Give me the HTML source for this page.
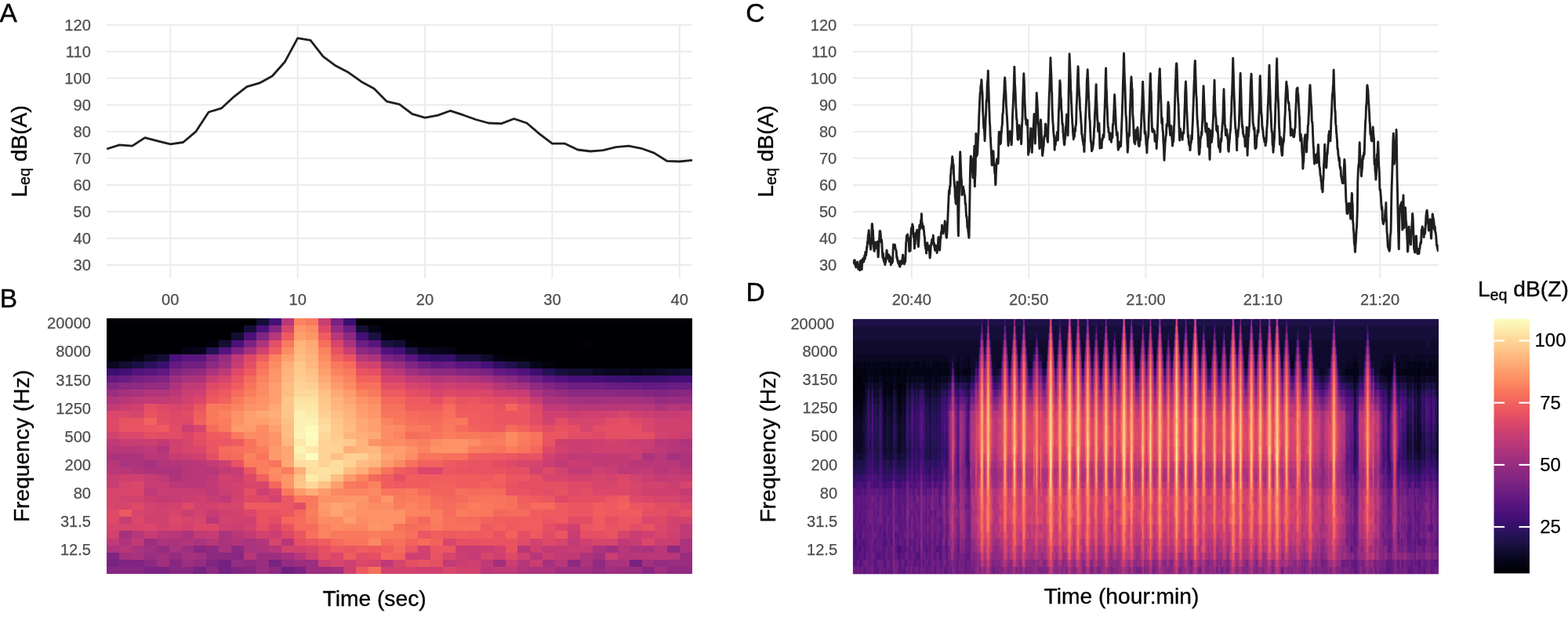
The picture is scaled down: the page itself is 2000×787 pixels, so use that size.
<!DOCTYPE html>
<html lang="en">
<head>
<meta charset="utf-8">
<title>Sound level and spectrogram figure</title>
<style>
html,body{margin:0;padding:0;background:#fff;}
body{width:2000px;height:787px;overflow:hidden;font-family:"Liberation Sans", Arial, Helvetica, sans-serif;}
svg{display:block;}
</style>
</head>
<body>
<svg width="2000" height="787" viewBox="0 0 2000 787">
<rect width="2000" height="787" fill="#fff"/>
<g stroke="#ebebeb" stroke-width="1.95" fill="none">
<line x1="136.2" x2="882.9" y1="338.05" y2="338.05"/>
<line x1="136.2" x2="882.9" y1="304.01" y2="304.01"/>
<line x1="136.2" x2="882.9" y1="269.97" y2="269.97"/>
<line x1="136.2" x2="882.9" y1="235.93" y2="235.93"/>
<line x1="136.2" x2="882.9" y1="201.89" y2="201.89"/>
<line x1="136.2" x2="882.9" y1="167.85" y2="167.85"/>
<line x1="136.2" x2="882.9" y1="133.81" y2="133.81"/>
<line x1="136.2" x2="882.9" y1="99.77" y2="99.77"/>
<line x1="136.2" x2="882.9" y1="65.73" y2="65.73"/>
<line x1="136.2" x2="882.9" y1="31.69" y2="31.69"/>
<line x1="217.35" x2="217.35" y1="31.7" y2="355.1"/>
<line x1="379.70" x2="379.70" y1="31.7" y2="355.1"/>
<line x1="542.05" x2="542.05" y1="31.7" y2="355.1"/>
<line x1="704.40" x2="704.40" y1="31.7" y2="355.1"/>
<line x1="866.75" x2="866.75" y1="31.7" y2="355.1"/>
<line x1="1087.9" x2="1834.7" y1="338.05" y2="338.05"/>
<line x1="1087.9" x2="1834.7" y1="304.01" y2="304.01"/>
<line x1="1087.9" x2="1834.7" y1="269.97" y2="269.97"/>
<line x1="1087.9" x2="1834.7" y1="235.93" y2="235.93"/>
<line x1="1087.9" x2="1834.7" y1="201.89" y2="201.89"/>
<line x1="1087.9" x2="1834.7" y1="167.85" y2="167.85"/>
<line x1="1087.9" x2="1834.7" y1="133.81" y2="133.81"/>
<line x1="1087.9" x2="1834.7" y1="99.77" y2="99.77"/>
<line x1="1087.9" x2="1834.7" y1="65.73" y2="65.73"/>
<line x1="1087.9" x2="1834.7" y1="31.69" y2="31.69"/>
<line x1="1162.90" x2="1162.90" y1="31.7" y2="355.1"/>
<line x1="1312.20" x2="1312.20" y1="31.7" y2="355.1"/>
<line x1="1461.50" x2="1461.50" y1="31.7" y2="355.1"/>
<line x1="1610.80" x2="1610.80" y1="31.7" y2="355.1"/>
<line x1="1760.10" x2="1760.10" y1="31.7" y2="355.1"/>
</g>
<polyline points="136.2,190.0 152.4,184.9 168.7,186.2 184.9,175.7 201.1,179.8 217.4,183.8 233.6,181.5 249.8,167.9 266.1,143.0 282.3,138.2 298.5,123.3 314.8,110.7 331.0,105.9 347.3,97.0 363.5,78.7 379.7,48.7 396.0,51.4 412.2,72.2 428.4,84.1 444.7,92.6 460.9,104.2 477.1,113.0 493.4,129.4 509.6,133.1 525.8,145.4 542.1,150.1 558.3,147.1 574.5,141.3 590.8,146.7 607.0,152.5 623.2,157.0 639.5,157.6 655.7,151.5 672.0,157.0 688.2,170.9 704.4,183.2 720.7,183.2 736.9,191.0 753.1,193.0 769.4,191.7 785.6,187.6 801.8,186.2 818.1,189.3 834.3,195.1 850.5,205.3 866.8,206.0 883.0,204.3" fill="none" stroke="#1f1f1f" stroke-width="2.8" stroke-linejoin="round" stroke-linecap="butt"/>
<svg x="1087.9" y="0" width="746.8" height="400" viewBox="1087.9 0 746.8 400" overflow="hidden"><polyline points="1088.02,331.5 1088.27,332.1 1088.52,334.9 1088.77,332.9 1089.02,334.1 1089.27,334.6 1089.52,332.8 1089.77,336.2 1090.02,335.2 1090.26,331.7 1090.51,335.6 1090.76,338.0 1091.01,336.8 1091.26,337.4 1091.51,338.8 1091.76,341.0 1092.01,339.5 1092.26,336.6 1092.51,337.1 1092.75,340.2 1093.00,337.6 1093.25,334.5 1093.50,338.3 1093.75,334.8 1094.00,334.1 1094.25,340.7 1094.50,341.5 1094.75,343.3 1094.99,340.9 1095.24,337.6 1095.49,341.2 1095.74,338.7 1095.99,340.6 1096.24,341.9 1096.49,342.7 1096.74,344.7 1096.99,342.8 1097.24,338.6 1097.48,332.8 1097.73,335.9 1097.98,337.4 1098.23,336.9 1098.48,337.1 1098.73,337.9 1098.98,342.0 1099.23,343.7 1099.48,339.5 1099.72,331.4 1099.97,330.9 1100.22,335.4 1100.47,331.7 1100.72,329.6 1100.97,332.3 1101.22,331.6 1101.47,331.4 1101.72,331.7 1101.96,333.5 1102.21,331.3 1102.46,328.0 1102.71,325.9 1102.96,325.6 1103.21,330.5 1103.46,329.2 1103.71,321.6 1103.96,321.3 1104.21,325.4 1104.45,326.0 1104.70,325.5 1104.95,322.8 1105.20,322.0 1105.45,317.5 1105.70,314.8 1105.95,316.3 1106.20,312.0 1106.45,308.3 1106.69,308.0 1106.94,306.8 1107.19,301.7 1107.44,299.3 1107.69,300.6 1107.94,296.2 1108.19,293.8 1108.44,296.9 1108.69,303.0 1108.93,306.8 1109.18,308.8 1109.43,311.6 1109.68,310.6 1109.93,309.4 1110.18,312.8 1110.43,316.9 1110.68,318.2 1110.93,315.2 1111.18,312.6 1111.42,309.8 1111.67,304.5 1111.92,293.4 1112.17,286.1 1112.42,285.4 1112.67,287.2 1112.92,291.2 1113.17,292.6 1113.42,293.2 1113.66,299.6 1113.91,303.9 1114.16,308.3 1114.41,312.5 1114.66,317.1 1114.91,320.0 1115.16,318.9 1115.41,320.3 1115.66,316.6 1115.91,311.7 1116.15,308.9 1116.40,312.2 1116.65,313.8 1116.90,312.4 1117.15,314.4 1117.40,316.5 1117.65,313.3 1117.90,312.5 1118.15,315.7 1118.39,312.1 1118.64,308.6 1118.89,308.3 1119.14,308.8 1119.39,313.4 1119.64,319.9 1119.89,324.8 1120.14,327.8 1120.39,325.0 1120.63,320.5 1120.88,314.6 1121.13,307.9 1121.38,305.2 1121.63,305.3 1121.88,299.4 1122.13,294.7 1122.38,294.8 1122.63,294.6 1122.88,295.4 1123.12,298.3 1123.37,301.0 1123.62,307.2 1123.87,308.7 1124.12,307.6 1124.37,305.8 1124.62,306.4 1124.87,309.8 1125.12,315.8 1125.36,320.0 1125.61,325.2 1125.86,328.6 1126.11,325.2 1126.36,324.0 1126.61,323.3 1126.86,329.5 1127.11,332.6 1127.36,328.6 1127.60,328.9 1127.85,333.5 1128.10,335.1 1128.35,330.4 1128.60,334.6 1128.85,337.7 1129.10,333.4 1129.35,335.5 1129.60,334.1 1129.85,332.3 1130.09,332.4 1130.34,329.4 1130.59,325.1 1130.84,321.2 1131.09,319.1 1131.34,322.1 1131.59,325.5 1131.84,323.4 1132.09,323.5 1132.33,329.2 1132.58,329.6 1132.83,327.9 1133.08,328.3 1133.33,326.7 1133.58,325.0 1133.83,325.2 1134.08,330.9 1134.33,333.5 1134.58,328.7 1134.82,327.4 1135.07,327.4 1135.32,327.2 1135.57,331.5 1135.82,330.7 1136.07,331.6 1136.32,338.0 1136.57,332.6 1136.82,332.3 1137.06,335.0 1137.31,329.7 1137.56,330.6 1137.81,335.5 1138.06,333.9 1138.31,333.4 1138.56,334.2 1138.81,328.4 1139.06,320.7 1139.30,315.7 1139.55,311.9 1139.80,312.9 1140.05,314.5 1140.30,315.6 1140.55,315.7 1140.80,312.2 1141.05,312.0 1141.30,312.0 1141.55,312.4 1141.79,315.3 1142.04,316.1 1142.29,317.3 1142.54,318.3 1142.79,319.6 1143.04,319.1 1143.29,321.1 1143.54,326.0 1143.79,328.8 1144.03,329.6 1144.28,327.6 1144.53,330.3 1144.78,332.7 1145.03,331.1 1145.28,332.2 1145.53,335.6 1145.78,334.6 1146.03,334.5 1146.27,336.6 1146.52,335.6 1146.77,334.8 1147.02,337.1 1147.27,339.7 1147.52,338.0 1147.77,336.7 1148.02,340.2 1148.27,337.0 1148.52,332.9 1148.76,333.4 1149.01,335.4 1149.26,334.2 1149.51,332.9 1149.76,335.4 1150.01,336.8 1150.26,336.7 1150.51,334.2 1150.76,332.7 1151.00,329.9 1151.25,327.9 1151.50,325.4 1151.75,325.1 1152.00,330.5 1152.25,331.4 1152.50,330.1 1152.75,329.5 1153.00,330.8 1153.25,336.3 1153.49,337.0 1153.74,330.8 1153.99,331.2 1154.24,334.8 1154.49,334.2 1154.74,332.6 1154.99,327.0 1155.24,321.1 1155.49,314.7 1155.73,308.8 1155.98,307.8 1156.23,304.2 1156.48,300.4 1156.73,301.8 1156.98,303.6 1157.23,306.1 1157.48,302.9 1157.73,298.9 1157.97,303.9 1158.22,305.3 1158.47,304.7 1158.72,303.0 1158.97,305.8 1159.22,309.3 1159.47,314.2 1159.72,320.5 1159.97,317.8 1160.22,315.4 1160.46,318.2 1160.71,317.7 1160.96,320.3 1161.21,318.7 1161.46,310.2 1161.71,301.2 1161.96,298.3 1162.21,293.8 1162.46,290.7 1162.70,292.3 1162.95,290.6 1163.20,293.3 1163.45,291.6 1163.70,286.0 1163.95,286.4 1164.20,289.7 1164.45,288.3 1164.70,292.0 1164.94,298.8 1165.19,299.6 1165.44,302.8 1165.69,302.7 1165.94,303.7 1166.19,311.5 1166.44,317.0 1166.69,311.7 1166.94,308.3 1167.19,311.7 1167.43,306.6 1167.68,300.6 1167.93,297.4 1168.18,298.3 1168.43,300.8 1168.68,298.0 1168.93,296.0 1169.18,300.2 1169.43,297.9 1169.67,293.3 1169.92,297.5 1170.17,301.8 1170.42,303.2 1170.67,306.4 1170.92,311.6 1171.17,312.1 1171.42,314.6 1171.67,310.9 1171.91,306.8 1172.16,303.7 1172.41,297.1 1172.66,289.5 1172.91,287.2 1173.16,292.9 1173.41,291.7 1173.66,290.8 1173.91,290.4 1174.16,287.1 1174.40,284.1 1174.65,280.5 1174.90,282.1 1175.15,279.0 1175.40,272.7 1175.65,277.0 1175.90,286.4 1176.15,287.6 1176.40,284.6 1176.64,290.2 1176.89,291.6 1177.14,289.0 1177.39,291.5 1177.64,290.8 1177.89,288.4 1178.14,291.3 1178.39,293.7 1178.64,295.4 1178.89,300.0 1179.13,301.3 1179.38,301.6 1179.63,305.5 1179.88,313.1 1180.13,313.1 1180.38,314.1 1180.63,317.1 1180.88,312.9 1181.13,315.3 1181.37,321.8 1181.62,323.1 1181.87,317.3 1182.12,313.1 1182.37,312.9 1182.62,309.7 1182.87,309.8 1183.12,311.7 1183.37,313.0 1183.61,317.8 1183.86,318.4 1184.11,313.3 1184.36,313.0 1184.61,314.2 1184.86,316.3 1185.11,318.8 1185.36,319.3 1185.61,323.0 1185.86,326.3 1186.10,329.0 1186.35,328.0 1186.60,325.1 1186.85,322.9 1187.10,317.1 1187.35,313.0 1187.60,313.0 1187.85,310.5 1188.10,310.0 1188.34,309.1 1188.59,305.8 1188.84,309.3 1189.09,306.7 1189.34,304.6 1189.59,305.4 1189.84,304.5 1190.09,303.6 1190.34,300.2 1190.59,305.2 1190.83,312.1 1191.08,312.4 1191.33,309.6 1191.58,311.6 1191.83,315.5 1192.08,313.7 1192.33,317.4 1192.58,319.4 1192.83,316.5 1193.07,314.5 1193.32,313.0 1193.57,315.4 1193.82,314.4 1194.07,316.5 1194.32,317.8 1194.57,318.1 1194.82,320.7 1195.07,322.6 1195.31,322.0 1195.56,318.4 1195.81,316.3 1196.06,312.3 1196.31,312.0 1196.56,308.9 1196.81,303.9 1197.06,302.5 1197.31,306.3 1197.56,310.2 1197.80,310.5 1198.05,308.1 1198.30,313.6 1198.55,319.2 1198.80,317.9 1199.05,313.1 1199.30,307.4 1199.55,302.6 1199.80,304.4 1200.04,303.2 1200.29,297.6 1200.54,296.2 1200.79,295.2 1201.04,295.7 1201.29,292.5 1201.54,287.3 1201.79,293.4 1202.04,297.0 1202.28,290.8 1202.53,290.9 1202.78,292.8 1203.03,296.1 1203.28,297.9 1203.53,294.7 1203.78,291.1 1204.03,290.4 1204.28,292.1 1204.53,290.3 1204.77,287.3 1205.02,284.6 1205.27,282.0 1205.52,284.9 1205.77,288.0 1206.02,292.4 1206.27,294.5 1206.52,293.4 1206.77,299.6 1207.01,302.3 1207.26,303.2 1207.51,303.2 1207.76,299.3 1208.01,295.9 1208.26,289.9 1208.51,284.4 1208.76,281.6 1209.01,276.0 1209.26,269.4 1209.50,263.7 1209.75,257.9 1210.00,253.2 1210.25,247.3 1210.50,243.0 1210.75,244.1 1211.00,247.4 1211.25,243.9 1211.50,237.9 1211.74,237.6 1211.99,237.9 1212.24,232.8 1212.49,223.3 1212.74,223.0 1212.99,220.7 1213.24,214.3 1213.49,214.8 1213.74,211.3 1213.98,210.1 1214.23,208.5 1214.48,201.6 1214.73,199.8 1214.98,202.0 1215.23,203.6 1215.48,207.6 1215.73,211.4 1215.98,209.8 1216.23,210.5 1216.47,219.2 1216.72,225.3 1216.97,229.6 1217.22,232.1 1217.47,236.8 1217.72,237.3 1217.97,240.5 1218.22,250.1 1218.47,253.1 1218.71,253.9 1218.96,257.0 1219.21,260.0 1219.46,259.5 1219.71,255.9 1219.96,252.9 1220.21,247.5 1220.46,242.8 1220.71,238.2 1220.95,231.9 1221.20,244.6 1221.45,255.2 1221.70,265.7 1221.95,283.0 1222.20,296.4 1222.45,300.9 1222.70,286.1 1222.95,269.0 1223.20,257.0 1223.44,248.1 1223.69,235.2 1223.94,222.5 1224.19,213.3 1224.44,202.6 1224.69,193.8 1224.94,198.5 1225.19,205.3 1225.44,212.0 1225.68,217.3 1225.93,224.9 1226.18,227.7 1226.43,230.0 1226.68,240.3 1226.93,248.9 1227.18,246.0 1227.43,241.8 1227.68,243.4 1227.93,245.6 1228.17,246.9 1228.42,241.7 1228.67,238.1 1228.92,241.1 1229.17,241.9 1229.42,242.9 1229.67,244.1 1229.92,247.5 1230.17,248.4 1230.41,248.7 1230.66,249.5 1230.91,253.8 1231.16,260.0 1231.41,260.2 1231.66,259.6 1231.91,263.4 1232.16,269.9 1232.41,273.5 1232.65,276.3 1232.90,275.7 1233.15,276.3 1233.40,280.7 1233.65,285.0 1233.90,290.4 1234.15,290.5 1234.40,288.0 1234.65,290.8 1234.90,295.7 1235.14,296.4 1235.39,298.8 1235.64,301.1 1235.89,303.4 1236.14,301.1 1236.39,286.5 1236.64,271.9 1236.89,256.3 1237.14,239.2 1237.38,224.5 1237.63,213.4 1237.88,207.4 1238.13,200.4 1238.38,199.1 1238.63,201.1 1238.88,203.0 1239.13,201.2 1239.38,207.0 1239.62,209.3 1239.87,211.2 1240.12,215.0 1240.37,218.6 1240.62,221.7 1240.87,225.9 1241.12,226.7 1241.37,220.6 1241.62,216.7 1241.87,209.4 1242.11,203.5 1242.36,199.6 1242.61,193.2 1242.86,186.3 1243.11,231.9 1243.36,237.9 1243.61,228.3 1243.86,225.0 1244.11,219.8 1244.35,207.7 1244.60,189.1 1244.85,170.4 1245.10,180.7 1245.35,199.7 1245.60,198.1 1245.85,197.4 1246.10,197.3 1246.35,197.7 1246.60,196.6 1246.84,194.1 1247.09,187.8 1247.34,181.2 1247.59,175.5 1247.84,171.8 1248.09,169.2 1248.34,162.2 1248.59,153.5 1248.84,146.0 1249.08,141.1 1249.33,134.7 1249.58,129.0 1249.83,124.6 1250.08,119.4 1250.33,117.9 1250.58,117.5 1250.83,110.9 1251.08,108.6 1251.32,107.8 1251.57,106.6 1251.82,101.7 1252.07,102.3 1252.32,109.9 1252.57,114.2 1252.82,115.5 1253.07,119.4 1253.32,129.4 1253.57,139.0 1253.81,144.3 1254.06,147.4 1254.31,152.9 1254.56,159.3 1254.81,163.6 1255.06,163.8 1255.31,164.7 1255.56,168.4 1255.81,172.7 1256.05,179.7 1256.30,175.3 1256.55,168.2 1256.80,162.5 1257.05,154.0 1257.30,149.7 1257.55,146.8 1257.80,138.0 1258.05,129.7 1258.29,127.5 1258.54,129.3 1258.79,123.7 1259.04,112.3 1259.29,105.6 1259.54,103.6 1259.79,102.3 1260.04,97.4 1260.29,90.1 1260.54,98.5 1260.78,108.1 1261.03,115.3 1261.28,122.4 1261.53,131.3 1261.78,138.8 1262.03,144.6 1262.28,153.5 1262.53,158.0 1262.78,160.6 1263.02,169.8 1263.27,175.2 1263.52,176.1 1263.77,183.7 1264.02,187.2 1264.27,191.5 1264.52,196.0 1264.77,201.7 1265.02,210.0 1265.27,210.8 1265.51,209.0 1265.76,206.7 1266.01,205.7 1266.26,204.4 1266.51,205.1 1266.76,201.3 1267.01,192.8 1267.26,199.1 1267.51,206.1 1267.75,209.5 1268.00,211.6 1268.25,209.7 1268.50,215.5 1268.75,221.2 1269.00,219.6 1269.25,222.3 1269.50,230.4 1269.75,235.9 1269.99,234.6 1270.24,226.4 1270.49,219.6 1270.74,214.7 1270.99,207.3 1271.24,206.1 1271.49,204.3 1271.74,202.5 1271.99,202.4 1272.24,204.4 1272.48,208.9 1272.73,208.9 1272.98,208.6 1273.23,207.6 1273.48,199.6 1273.73,187.1 1273.98,174.5 1274.23,168.5 1274.48,170.4 1274.72,168.3 1274.97,168.1 1275.22,175.1 1275.47,179.9 1275.72,183.9 1275.97,181.6 1276.22,182.4 1276.47,182.9 1276.72,180.2 1276.96,173.0 1277.21,170.0 1277.46,168.5 1277.71,163.7 1277.96,161.2 1278.21,160.1 1278.46,156.1 1278.71,147.8 1278.96,144.7 1279.21,145.0 1279.45,142.9 1279.70,136.5 1279.95,130.1 1280.20,126.3 1280.45,121.4 1280.70,119.5 1280.95,113.7 1281.20,106.1 1281.45,103.3 1281.69,98.9 1281.94,101.3 1282.19,106.1 1282.44,113.9 1282.69,116.2 1282.94,119.9 1283.19,127.9 1283.44,134.5 1283.69,137.6 1283.94,141.0 1284.18,146.5 1284.43,148.3 1284.68,153.1 1284.93,157.9 1285.18,163.2 1285.43,171.7 1285.68,178.7 1285.93,184.8 1286.18,185.8 1286.42,181.1 1286.67,179.3 1286.92,173.9 1287.17,169.2 1287.42,167.9 1287.67,168.7 1287.92,168.9 1288.17,167.5 1288.42,170.1 1288.66,173.2 1288.91,176.8 1289.16,178.3 1289.41,178.1 1289.66,179.8 1289.91,182.4 1290.16,184.9 1290.41,182.2 1290.66,174.1 1290.91,169.3 1291.15,161.5 1291.40,151.8 1291.65,144.9 1291.90,139.8 1292.15,134.9 1292.40,130.1 1292.65,121.5 1292.90,116.5 1293.15,111.8 1293.39,101.7 1293.64,92.5 1293.89,85.1 1294.14,94.4 1294.39,103.3 1294.64,109.1 1294.89,112.5 1295.14,117.3 1295.39,124.1 1295.63,131.7 1295.88,138.0 1296.13,140.1 1296.38,146.2 1296.63,152.3 1296.88,151.6 1297.13,155.0 1297.38,163.3 1297.63,167.4 1297.88,172.4 1298.12,178.0 1298.37,178.0 1298.62,175.2 1298.87,178.2 1299.12,177.4 1299.37,167.4 1299.62,166.7 1299.87,166.7 1300.12,159.8 1300.36,161.7 1300.61,166.0 1300.86,167.5 1301.11,174.2 1301.36,175.8 1301.61,174.8 1301.86,176.0 1302.11,174.1 1302.36,176.8 1302.61,183.7 1302.85,180.3 1303.10,171.6 1303.35,162.9 1303.60,158.4 1303.85,154.9 1304.10,148.4 1304.35,137.4 1304.60,126.0 1304.85,120.7 1305.09,114.4 1305.34,106.7 1305.59,99.4 1305.84,93.8 1306.09,100.2 1306.34,104.2 1306.59,110.0 1306.84,121.3 1307.09,130.3 1307.33,133.7 1307.58,139.0 1307.83,148.0 1308.08,152.3 1308.33,149.9 1308.58,153.5 1308.83,157.9 1309.08,158.9 1309.33,156.6 1309.58,154.0 1309.82,156.2 1310.07,156.9 1310.32,154.4 1310.57,153.2 1310.82,164.3 1311.07,171.7 1311.32,182.7 1311.57,197.4 1311.82,194.9 1312.06,190.8 1312.31,194.3 1312.56,192.5 1312.81,189.4 1313.06,184.1 1313.31,180.1 1313.56,178.1 1313.81,177.6 1314.06,179.0 1314.30,175.6 1314.55,167.5 1314.80,163.7 1315.05,170.7 1315.30,175.1 1315.55,179.3 1315.80,184.8 1316.05,190.2 1316.30,194.5 1316.55,187.8 1316.79,183.3 1317.04,177.8 1317.29,169.7 1317.54,164.4 1317.79,164.2 1318.04,163.8 1318.29,160.2 1318.54,156.4 1318.79,150.8 1319.03,145.5 1319.28,152.2 1319.53,159.7 1319.78,166.8 1320.03,174.4 1320.28,183.1 1320.53,178.5 1320.78,166.4 1321.03,162.6 1321.28,157.5 1321.52,148.1 1321.77,137.6 1322.02,125.4 1322.27,118.5 1322.52,122.9 1322.77,126.8 1323.02,130.8 1323.27,135.6 1323.52,140.9 1323.76,146.5 1324.01,154.7 1324.26,158.8 1324.51,157.2 1324.76,163.2 1325.01,173.0 1325.26,175.3 1325.51,179.3 1325.76,187.3 1326.00,189.5 1326.25,180.6 1326.50,175.2 1326.75,170.5 1327.00,164.1 1327.25,155.4 1327.50,152.8 1327.75,156.8 1328.00,161.6 1328.25,168.8 1328.49,175.0 1328.74,182.9 1328.99,188.4 1329.24,190.4 1329.49,197.7 1329.74,198.6 1329.99,195.9 1330.24,194.6 1330.49,191.7 1330.73,186.8 1330.98,187.1 1331.23,185.4 1331.48,179.5 1331.73,175.6 1331.98,173.7 1332.23,173.9 1332.48,174.4 1332.73,172.8 1332.97,169.0 1333.22,161.8 1333.47,158.3 1333.72,158.0 1333.97,159.7 1334.22,167.3 1334.47,171.9 1334.72,171.3 1334.97,170.2 1335.22,167.9 1335.46,173.1 1335.71,177.8 1335.96,177.1 1336.21,179.8 1336.46,181.4 1336.71,174.2 1336.96,163.9 1337.21,156.8 1337.46,148.8 1337.70,139.4 1337.95,132.5 1338.20,122.3 1338.45,117.4 1338.70,114.3 1338.95,104.7 1339.20,97.6 1339.45,92.2 1339.70,83.0 1339.95,73.8 1340.19,80.0 1340.44,88.3 1340.69,92.2 1340.94,96.3 1341.19,108.4 1341.44,115.9 1341.69,117.9 1341.94,129.7 1342.19,141.4 1342.43,146.0 1342.68,151.4 1342.93,156.1 1343.18,157.7 1343.43,162.6 1343.68,167.8 1343.93,170.2 1344.18,172.8 1344.43,174.4 1344.67,176.9 1344.92,183.7 1345.17,191.2 1345.42,185.9 1345.67,182.4 1345.92,184.0 1346.17,185.3 1346.42,182.7 1346.67,180.1 1346.92,180.5 1347.16,179.6 1347.41,177.7 1347.66,173.1 1347.91,173.0 1348.16,172.8 1348.41,168.4 1348.66,171.1 1348.91,175.3 1349.16,176.5 1349.40,178.7 1349.65,168.7 1349.90,160.7 1350.15,153.1 1350.40,142.2 1350.65,138.6 1350.90,133.0 1351.15,124.3 1351.40,119.2 1351.64,111.7 1351.89,102.7 1352.14,105.2 1352.39,107.5 1352.64,115.6 1352.89,123.0 1353.14,124.7 1353.39,126.4 1353.64,136.7 1353.89,141.2 1354.13,141.7 1354.38,145.9 1354.63,150.8 1354.88,157.5 1355.13,158.9 1355.38,157.5 1355.63,159.8 1355.88,168.7 1356.13,169.8 1356.37,170.7 1356.62,176.1 1356.87,177.6 1357.12,181.5 1357.37,183.9 1357.62,184.7 1357.87,184.4 1358.12,179.9 1358.37,176.7 1358.62,176.7 1358.86,173.7 1359.11,166.4 1359.36,161.6 1359.61,160.5 1359.86,158.4 1360.11,154.3 1360.36,150.2 1360.61,146.0 1360.86,146.4 1361.10,151.6 1361.35,155.4 1361.60,159.2 1361.85,166.2 1362.10,172.8 1362.35,163.5 1362.60,152.6 1362.85,138.3 1363.10,119.5 1363.34,108.2 1363.59,95.9 1363.84,81.0 1364.09,68.7 1364.34,74.9 1364.59,79.6 1364.84,87.3 1365.09,93.8 1365.34,100.6 1365.59,109.8 1365.83,115.0 1366.08,118.0 1366.33,125.9 1366.58,132.2 1366.83,134.6 1367.08,142.6 1367.33,148.7 1367.58,151.3 1367.83,156.9 1368.07,159.6 1368.32,163.7 1368.57,169.3 1368.82,171.4 1369.07,174.1 1369.32,177.7 1369.57,172.7 1369.82,172.8 1370.07,175.0 1370.31,174.8 1370.56,172.9 1370.81,167.0 1371.06,164.2 1371.31,166.0 1371.56,167.3 1371.81,162.3 1372.06,160.5 1372.31,159.6 1372.56,158.4 1372.80,150.0 1373.05,138.6 1373.30,132.8 1373.55,128.6 1373.80,122.2 1374.05,112.8 1374.30,104.4 1374.55,97.3 1374.80,90.6 1375.04,84.7 1375.29,86.8 1375.54,96.0 1375.79,106.3 1376.04,110.5 1376.29,114.3 1376.54,119.7 1376.79,122.5 1377.04,124.1 1377.29,130.7 1377.53,137.3 1377.78,140.9 1378.03,142.5 1378.28,145.3 1378.53,150.1 1378.78,152.6 1379.03,157.1 1379.28,159.1 1379.53,165.2 1379.77,171.8 1380.02,171.4 1380.27,172.0 1380.52,175.6 1380.77,176.8 1381.02,179.3 1381.27,180.4 1381.52,178.1 1381.77,183.4 1382.01,184.9 1382.26,182.3 1382.51,183.0 1382.76,192.8 1383.01,193.4 1383.26,182.5 1383.51,181.5 1383.76,174.2 1384.01,167.2 1384.26,162.0 1384.50,153.0 1384.75,148.3 1385.00,141.2 1385.25,135.6 1385.50,130.2 1385.75,123.1 1386.00,117.5 1386.25,106.6 1386.50,99.8 1386.74,99.1 1386.99,93.3 1387.24,88.7 1387.49,95.4 1387.74,100.6 1387.99,107.5 1388.24,114.6 1388.49,122.2 1388.74,127.4 1388.98,130.3 1389.23,138.2 1389.48,146.2 1389.73,150.8 1389.98,152.5 1390.23,154.6 1390.48,162.3 1390.73,168.2 1390.98,173.6 1391.23,179.5 1391.47,180.7 1391.72,181.7 1391.97,183.9 1392.22,187.6 1392.47,192.7 1392.72,192.1 1392.97,190.6 1393.22,191.2 1393.47,190.2 1393.71,189.2 1393.96,187.9 1394.21,185.5 1394.46,184.1 1394.71,180.4 1394.96,177.0 1395.21,175.2 1395.46,167.2 1395.71,161.8 1395.95,162.5 1396.20,155.5 1396.45,146.5 1396.70,142.3 1396.95,138.9 1397.20,134.2 1397.45,127.1 1397.70,121.1 1397.95,109.9 1398.20,107.6 1398.44,119.6 1398.69,128.0 1398.94,131.9 1399.19,137.6 1399.44,146.1 1399.69,151.7 1399.94,153.9 1400.19,156.1 1400.44,163.9 1400.68,167.7 1400.93,165.8 1401.18,167.4 1401.43,166.5 1401.68,162.4 1401.93,157.1 1402.18,163.4 1402.43,173.2 1402.68,182.5 1402.93,189.2 1403.17,184.8 1403.42,187.1 1403.67,188.3 1403.92,182.7 1404.17,184.1 1404.42,187.6 1404.67,184.6 1404.92,188.4 1405.17,188.6 1405.41,182.2 1405.66,176.6 1405.91,177.9 1406.16,178.7 1406.41,176.9 1406.66,175.6 1406.91,172.2 1407.16,172.0 1407.41,171.4 1407.65,173.5 1407.90,175.1 1408.15,171.9 1408.40,161.8 1408.65,149.9 1408.90,144.3 1409.15,138.3 1409.40,129.2 1409.65,123.8 1409.90,111.4 1410.14,101.1 1410.39,93.6 1410.64,86.9 1410.89,99.3 1411.14,112.7 1411.39,114.7 1411.64,119.6 1411.89,132.1 1412.14,136.2 1412.38,140.1 1412.63,148.9 1412.88,156.1 1413.13,160.7 1413.38,162.3 1413.63,162.7 1413.88,165.1 1414.13,168.7 1414.38,168.5 1414.62,169.3 1414.87,170.6 1415.12,173.9 1415.37,178.1 1415.62,177.4 1415.87,172.0 1416.12,170.0 1416.37,171.2 1416.62,172.9 1416.87,175.3 1417.11,174.9 1417.36,181.3 1417.61,177.7 1417.86,177.4 1418.11,173.8 1418.36,170.8 1418.61,175.9 1418.86,175.8 1419.11,168.9 1419.35,161.5 1419.60,158.3 1419.85,159.3 1420.10,158.7 1420.35,150.8 1420.60,146.1 1420.85,141.7 1421.10,134.0 1421.35,127.5 1421.60,120.7 1421.84,123.2 1422.09,130.5 1422.34,136.5 1422.59,141.3 1422.84,145.5 1423.09,151.3 1423.34,158.7 1423.59,164.5 1423.84,165.7 1424.08,167.1 1424.33,172.6 1424.58,172.9 1424.83,170.7 1425.08,169.3 1425.33,169.1 1425.58,176.8 1425.83,185.0 1426.08,189.1 1426.32,191.2 1426.57,189.7 1426.82,185.6 1427.07,184.2 1427.32,187.1 1427.57,188.4 1427.82,182.0 1428.07,182.1 1428.32,183.5 1428.57,180.9 1428.81,183.3 1429.06,186.7 1429.31,186.2 1429.56,186.4 1429.81,183.2 1430.06,174.9 1430.31,169.6 1430.56,163.8 1430.81,156.7 1431.05,152.2 1431.30,144.0 1431.55,134.7 1431.80,129.5 1432.05,120.8 1432.30,109.7 1432.55,102.0 1432.80,97.2 1433.05,86.4 1433.30,73.1 1433.54,68.0 1433.79,76.4 1434.04,87.6 1434.29,95.7 1434.54,102.8 1434.79,106.6 1435.04,112.9 1435.29,122.8 1435.54,131.7 1435.78,142.2 1436.03,146.9 1436.28,148.3 1436.53,151.1 1436.78,156.8 1437.03,166.1 1437.28,170.0 1437.53,175.9 1437.78,182.7 1438.02,185.2 1438.27,194.3 1438.52,191.1 1438.77,188.7 1439.02,179.4 1439.27,170.4 1439.52,171.8 1439.77,172.9 1440.02,174.0 1440.27,173.6 1440.51,173.0 1440.76,163.4 1441.01,155.0 1441.26,145.0 1441.51,137.1 1441.76,131.9 1442.01,125.3 1442.26,114.6 1442.51,108.4 1442.75,102.7 1443.00,97.9 1443.25,103.1 1443.50,105.4 1443.75,110.9 1444.00,112.8 1444.25,114.4 1444.50,130.0 1444.75,143.9 1444.99,148.5 1445.24,150.3 1445.49,154.3 1445.74,159.7 1445.99,167.3 1446.24,172.3 1446.49,177.5 1446.74,181.7 1446.99,178.7 1447.24,176.8 1447.48,181.2 1447.73,183.7 1447.98,179.5 1448.23,177.4 1448.48,176.7 1448.73,171.6 1448.98,165.8 1449.23,167.1 1449.48,172.5 1449.72,176.8 1449.97,177.8 1450.22,175.3 1450.47,170.2 1450.72,164.8 1450.97,162.5 1451.22,165.1 1451.47,169.7 1451.72,176.5 1451.97,182.7 1452.21,185.3 1452.46,181.2 1452.71,181.6 1452.96,186.6 1453.21,186.5 1453.46,184.5 1453.71,180.5 1453.96,177.0 1454.21,176.3 1454.45,179.5 1454.70,176.5 1454.95,169.5 1455.20,165.6 1455.45,161.8 1455.70,155.0 1455.95,146.2 1456.20,141.5 1456.45,140.9 1456.69,135.4 1456.94,124.8 1457.19,118.8 1457.44,108.7 1457.69,104.2 1457.94,112.1 1458.19,117.8 1458.44,126.7 1458.69,131.5 1458.94,138.5 1459.18,149.2 1459.43,154.1 1459.68,157.7 1459.93,164.7 1460.18,170.6 1460.43,170.6 1460.68,168.9 1460.93,167.6 1461.18,170.5 1461.42,175.2 1461.67,177.7 1461.92,183.8 1462.17,185.6 1462.42,184.1 1462.67,189.1 1462.92,194.9 1463.17,187.6 1463.42,181.8 1463.66,178.7 1463.91,178.1 1464.16,176.4 1464.41,175.3 1464.66,172.8 1464.91,171.0 1465.16,161.9 1465.41,148.6 1465.66,144.8 1465.91,138.3 1466.15,127.4 1466.40,120.5 1466.65,111.6 1466.90,104.6 1467.15,95.1 1467.40,93.6 1467.65,104.0 1467.90,113.9 1468.15,116.4 1468.39,123.6 1468.64,136.1 1468.89,147.0 1469.14,154.8 1469.39,162.3 1469.64,166.0 1469.89,168.1 1470.14,166.8 1470.39,164.2 1470.63,164.5 1470.88,164.6 1471.13,167.7 1471.38,167.6 1471.63,168.2 1471.88,169.1 1472.13,167.4 1472.38,167.1 1472.63,170.6 1472.88,176.4 1473.12,180.3 1473.37,177.4 1473.62,172.6 1473.87,172.4 1474.12,173.9 1474.37,175.7 1474.62,176.1 1474.87,174.0 1475.12,189.6 1475.36,186.8 1475.61,178.2 1475.86,179.0 1476.11,173.2 1476.36,164.9 1476.61,160.0 1476.86,154.3 1477.11,142.9 1477.36,132.0 1477.61,128.6 1477.85,117.9 1478.10,109.0 1478.35,104.1 1478.60,96.9 1478.85,96.2 1479.10,89.1 1479.35,87.6 1479.60,97.4 1479.85,102.2 1480.09,111.3 1480.34,119.4 1480.59,122.8 1480.84,129.6 1481.09,136.3 1481.34,145.4 1481.59,154.7 1481.84,157.3 1482.09,157.0 1482.33,150.5 1482.58,153.4 1482.83,163.3 1483.08,166.6 1483.33,167.1 1483.58,170.6 1483.83,179.6 1484.08,184.0 1484.33,186.9 1484.58,192.2 1484.82,200.9 1485.07,204.4 1485.32,196.1 1485.57,193.0 1485.82,189.9 1486.07,182.6 1486.32,180.8 1486.57,178.4 1486.82,175.9 1487.06,173.5 1487.31,172.4 1487.56,171.1 1487.81,162.9 1488.06,158.7 1488.31,161.1 1488.56,160.5 1488.81,161.0 1489.06,159.3 1489.31,151.8 1489.55,141.2 1489.80,133.2 1490.05,130.2 1490.30,133.0 1490.55,133.8 1490.80,134.7 1491.05,140.7 1491.30,153.7 1491.55,159.1 1491.79,162.1 1492.04,165.1 1492.29,168.0 1492.54,172.4 1492.79,169.3 1493.04,165.3 1493.29,165.9 1493.54,165.1 1493.79,160.4 1494.03,161.7 1494.28,169.2 1494.53,170.8 1494.78,176.1 1495.03,179.3 1495.28,180.6 1495.53,186.1 1495.78,184.0 1496.03,178.9 1496.28,180.1 1496.52,181.0 1496.77,178.4 1497.02,176.3 1497.27,168.7 1497.52,160.9 1497.77,158.8 1498.02,151.8 1498.27,142.8 1498.52,132.6 1498.76,125.0 1499.01,115.7 1499.26,106.2 1499.51,103.0 1499.76,97.8 1500.01,88.8 1500.26,83.8 1500.51,81.1 1500.76,80.8 1501.00,82.9 1501.25,88.2 1501.50,96.6 1501.75,104.7 1502.00,115.8 1502.25,121.8 1502.50,126.8 1502.75,130.4 1503.00,132.9 1503.25,140.9 1503.49,147.7 1503.74,154.4 1503.99,162.2 1504.24,169.7 1504.49,178.4 1504.74,179.1 1504.99,174.8 1505.24,167.1 1505.49,164.3 1505.73,167.4 1505.98,168.1 1506.23,168.5 1506.48,169.0 1506.73,170.8 1506.98,172.6 1507.23,169.1 1507.48,169.4 1507.73,171.7 1507.98,176.0 1508.22,178.3 1508.47,172.9 1508.72,170.5 1508.97,170.8 1509.22,169.9 1509.47,170.5 1509.72,169.8 1509.97,166.2 1510.22,164.0 1510.46,157.8 1510.71,149.3 1510.96,141.6 1511.21,135.3 1511.46,128.0 1511.71,116.6 1511.96,112.8 1512.21,107.9 1512.46,104.0 1512.70,108.7 1512.95,115.0 1513.20,122.4 1513.45,134.3 1513.70,139.6 1513.95,144.1 1514.20,150.6 1514.45,155.6 1514.70,160.0 1514.95,165.2 1515.19,170.8 1515.44,175.3 1515.69,172.1 1515.94,172.8 1516.19,180.6 1516.44,182.9 1516.69,184.5 1516.94,185.1 1517.19,184.8 1517.43,185.6 1517.68,188.2 1517.93,191.6 1518.18,191.0 1518.43,185.1 1518.68,182.4 1518.93,181.5 1519.18,182.7 1519.43,180.2 1519.67,174.7 1519.92,172.1 1520.17,176.5 1520.42,177.6 1520.67,168.7 1520.92,163.3 1521.17,159.0 1521.42,153.5 1521.67,145.7 1521.92,139.2 1522.16,133.4 1522.41,126.3 1522.66,118.9 1522.91,110.9 1523.16,104.0 1523.41,100.9 1523.66,90.2 1523.91,82.9 1524.16,78.8 1524.40,77.4 1524.65,86.0 1524.90,93.7 1525.15,101.5 1525.40,109.6 1525.65,118.3 1525.90,122.4 1526.15,123.8 1526.40,130.0 1526.64,138.6 1526.89,147.5 1527.14,152.5 1527.39,153.8 1527.64,158.9 1527.89,162.1 1528.14,165.0 1528.39,171.4 1528.64,178.6 1528.89,186.5 1529.13,191.5 1529.38,196.2 1529.63,197.0 1529.88,195.9 1530.13,194.2 1530.38,188.8 1530.63,188.0 1530.88,183.1 1531.13,176.1 1531.37,175.2 1531.62,176.3 1531.87,174.1 1532.12,172.5 1532.37,169.7 1532.62,167.7 1532.87,172.0 1533.12,165.8 1533.37,158.5 1533.62,155.3 1533.86,149.3 1534.11,141.9 1534.36,133.0 1534.61,123.2 1534.86,114.8 1535.11,109.6 1535.36,115.3 1535.61,123.9 1535.86,129.1 1536.10,134.3 1536.35,140.0 1536.60,147.9 1536.85,154.8 1537.10,156.5 1537.35,161.1 1537.60,164.2 1537.85,167.6 1538.10,168.1 1538.34,167.6 1538.59,165.2 1538.84,160.8 1539.09,157.4 1539.34,162.4 1539.59,169.7 1539.84,171.5 1540.09,174.1 1540.34,176.3 1540.59,180.8 1540.83,187.2 1541.08,184.3 1541.33,179.1 1541.58,170.2 1541.83,164.1 1542.08,172.3 1542.33,180.9 1542.58,190.0 1542.83,199.4 1543.07,203.5 1543.32,193.0 1543.57,179.6 1543.82,166.4 1544.07,172.8 1544.32,176.4 1544.57,179.0 1544.82,180.0 1545.07,180.7 1545.32,181.6 1545.56,180.2 1545.81,178.3 1546.06,175.7 1546.31,174.7 1546.56,170.5 1546.81,163.5 1547.06,158.2 1547.31,153.5 1547.56,148.4 1547.80,143.8 1548.05,130.3 1548.30,122.1 1548.55,121.6 1548.80,110.3 1549.05,102.1 1549.30,112.6 1549.55,125.2 1549.80,133.5 1550.04,139.5 1550.29,145.1 1550.54,148.3 1550.79,149.6 1551.04,152.0 1551.29,159.9 1551.54,165.6 1551.79,165.2 1552.04,163.0 1552.29,164.4 1552.53,167.9 1552.78,165.6 1553.03,160.8 1553.28,166.2 1553.53,170.8 1553.78,172.0 1554.03,181.6 1554.28,187.3 1554.53,187.4 1554.77,184.5 1555.02,182.9 1555.27,189.3 1555.52,189.7 1555.77,184.4 1556.02,188.1 1556.27,193.8 1556.52,190.6 1556.77,184.1 1557.01,179.2 1557.26,176.6 1557.51,177.4 1557.76,180.4 1558.01,177.0 1558.26,169.7 1558.51,168.1 1558.76,165.4 1559.01,160.7 1559.26,157.8 1559.50,156.6 1559.75,151.7 1560.00,146.1 1560.25,136.5 1560.50,127.8 1560.75,121.8 1561.00,113.8 1561.25,122.0 1561.50,129.1 1561.74,136.9 1561.99,146.1 1562.24,157.9 1562.49,160.0 1562.74,160.6 1562.99,165.8 1563.24,169.5 1563.49,172.6 1563.74,171.5 1563.99,169.6 1564.23,170.2 1564.48,165.1 1564.73,165.3 1564.98,170.1 1565.23,170.6 1565.48,173.0 1565.73,176.7 1565.98,176.9 1566.23,176.9 1566.47,186.9 1566.72,192.1 1566.97,190.2 1567.22,193.4 1567.47,187.3 1567.72,184.1 1567.97,181.7 1568.22,178.6 1568.47,177.9 1568.71,172.3 1568.96,169.7 1569.21,168.2 1569.46,165.7 1569.71,163.9 1569.96,157.2 1570.21,149.5 1570.46,146.5 1570.71,143.3 1570.96,129.9 1571.20,122.4 1571.45,122.3 1571.70,113.4 1571.95,104.4 1572.20,97.3 1572.45,85.5 1572.70,74.1 1572.95,83.8 1573.20,91.0 1573.44,98.7 1573.69,109.4 1573.94,116.7 1574.19,124.0 1574.44,130.1 1574.69,136.2 1574.94,145.7 1575.19,153.1 1575.44,156.7 1575.68,161.6 1575.93,164.3 1576.18,164.9 1576.43,167.6 1576.68,170.9 1576.93,172.4 1577.18,178.7 1577.43,186.6 1577.68,191.8 1577.93,180.8 1578.17,173.6 1578.42,170.4 1578.67,173.8 1578.92,174.3 1579.17,169.1 1579.42,165.5 1579.67,165.0 1579.92,163.2 1580.17,160.1 1580.41,155.1 1580.66,148.0 1580.91,142.1 1581.16,134.2 1581.41,125.4 1581.66,114.2 1581.91,100.9 1582.16,93.5 1582.41,102.2 1582.65,109.4 1582.90,115.0 1583.15,127.6 1583.40,137.3 1583.65,143.3 1583.90,151.2 1584.15,155.1 1584.40,160.0 1584.65,163.2 1584.90,160.3 1585.14,163.4 1585.39,168.7 1585.64,170.8 1585.89,171.6 1586.14,171.4 1586.39,173.6 1586.64,174.5 1586.89,174.5 1587.14,175.0 1587.38,174.5 1587.63,175.7 1587.88,181.0 1588.13,186.6 1588.38,186.9 1588.63,182.3 1588.88,179.3 1589.13,179.2 1589.38,174.8 1589.63,172.2 1589.87,168.9 1590.12,162.1 1590.37,162.5 1590.62,166.6 1590.87,190.1 1591.12,198.3 1591.37,190.3 1591.62,186.3 1591.87,182.2 1592.11,172.5 1592.36,170.3 1592.61,173.8 1592.86,169.0 1593.11,164.5 1593.36,162.2 1593.61,160.8 1593.86,155.5 1594.11,146.0 1594.35,135.7 1594.60,131.6 1594.85,121.0 1595.10,111.7 1595.35,105.7 1595.60,100.6 1595.85,97.4 1596.10,94.3 1596.35,101.1 1596.60,105.8 1596.84,115.2 1597.09,124.5 1597.34,131.4 1597.59,138.8 1597.84,144.6 1598.09,154.6 1598.34,158.7 1598.59,157.9 1598.84,160.2 1599.08,162.9 1599.33,165.4 1599.58,162.9 1599.83,162.6 1600.08,163.6 1600.33,171.4 1600.58,182.8 1600.83,188.6 1601.08,189.1 1601.33,189.6 1601.57,187.4 1601.82,183.9 1602.07,185.6 1602.32,188.4 1602.57,183.0 1602.82,178.3 1603.07,173.2 1603.32,172.7 1603.57,173.8 1603.81,172.1 1604.06,167.5 1604.31,166.0 1604.56,165.8 1604.81,169.1 1605.06,169.0 1605.31,158.5 1605.56,150.7 1605.81,146.6 1606.05,143.7 1606.30,137.8 1606.55,126.3 1606.80,109.0 1607.05,98.9 1607.30,96.6 1607.55,104.8 1607.80,111.6 1608.05,120.4 1608.30,129.1 1608.54,139.6 1608.79,144.3 1609.04,145.0 1609.29,148.0 1609.54,151.5 1609.79,158.6 1610.04,162.4 1610.29,162.0 1610.54,165.5 1610.78,165.1 1611.03,167.5 1611.28,171.4 1611.53,172.7 1611.78,174.6 1612.03,177.0 1612.28,176.8 1612.53,177.5 1612.78,180.9 1613.02,177.4 1613.27,176.4 1613.52,180.0 1613.77,181.1 1614.02,185.7 1614.27,185.7 1614.52,182.3 1614.77,180.6 1615.02,181.5 1615.27,176.5 1615.51,170.2 1615.76,165.2 1616.01,162.5 1616.26,159.6 1616.51,154.2 1616.76,149.9 1617.01,140.7 1617.26,135.2 1617.51,131.9 1617.75,123.0 1618.00,120.2 1618.25,110.8 1618.50,99.0 1618.75,91.6 1619.00,83.2 1619.25,95.9 1619.50,104.4 1619.75,110.8 1619.99,118.7 1620.24,125.1 1620.49,136.1 1620.74,140.9 1620.99,142.3 1621.24,148.9 1621.49,155.4 1621.74,162.9 1621.99,166.1 1622.24,168.7 1622.48,167.6 1622.73,170.7 1622.98,181.7 1623.23,185.4 1623.48,184.2 1623.73,187.1 1623.98,194.4 1624.23,190.6 1624.48,185.5 1624.72,188.0 1624.97,182.5 1625.22,178.6 1625.47,177.5 1625.72,169.2 1625.97,163.3 1626.22,158.7 1626.47,149.4 1626.72,140.6 1626.97,132.2 1627.21,129.3 1627.46,120.0 1627.71,108.8 1627.96,100.2 1628.21,90.8 1628.46,81.6 1628.71,74.7 1628.96,90.3 1629.21,99.4 1629.45,103.7 1629.70,112.8 1629.95,121.8 1630.20,124.3 1630.45,129.6 1630.70,136.4 1630.95,141.7 1631.20,152.4 1631.45,160.4 1631.69,164.3 1631.94,168.0 1632.19,175.0 1632.44,184.2 1632.69,182.2 1632.94,178.0 1633.19,175.3 1633.44,175.6 1633.69,175.0 1633.94,178.0 1634.18,187.6 1634.43,192.8 1634.68,192.9 1634.93,196.3 1635.18,198.1 1635.43,198.3 1635.68,197.7 1635.93,192.3 1636.18,185.7 1636.42,184.6 1636.67,183.3 1636.92,177.5 1637.17,178.4 1637.42,180.8 1637.67,175.9 1637.92,170.9 1638.17,168.7 1638.42,162.1 1638.66,153.9 1638.91,148.3 1639.16,146.0 1639.41,137.9 1639.66,127.7 1639.91,121.9 1640.16,118.6 1640.41,111.6 1640.66,106.0 1640.91,104.3 1641.15,108.7 1641.40,112.6 1641.65,109.6 1641.90,112.5 1642.15,115.0 1642.40,118.7 1642.65,125.2 1642.90,129.4 1643.15,131.0 1643.39,131.9 1643.64,132.1 1643.89,130.5 1644.14,133.5 1644.39,140.0 1644.64,141.1 1644.89,140.2 1645.14,144.5 1645.39,151.0 1645.64,155.0 1645.88,157.5 1646.13,168.7 1646.38,172.8 1646.63,170.9 1646.88,172.1 1647.13,171.8 1647.38,169.6 1647.63,164.6 1647.88,166.3 1648.12,167.5 1648.37,166.0 1648.62,166.1 1648.87,166.5 1649.12,171.0 1649.37,173.6 1649.62,173.5 1649.87,174.8 1650.12,173.5 1650.36,173.1 1650.61,174.5 1650.86,172.2 1651.11,170.6 1651.36,169.0 1651.61,163.7 1651.86,163.3 1652.11,162.3 1652.36,151.4 1652.61,143.6 1652.85,138.5 1653.10,133.3 1653.35,128.7 1653.60,120.4 1653.85,114.9 1654.10,113.0 1654.35,118.7 1654.60,118.2 1654.85,112.8 1655.09,111.9 1655.34,118.8 1655.59,123.2 1655.84,119.9 1656.09,124.5 1656.34,130.9 1656.59,133.5 1656.84,140.1 1657.09,146.1 1657.34,148.3 1657.58,152.0 1657.83,162.1 1658.08,171.8 1658.33,175.5 1658.58,179.5 1658.83,177.8 1659.08,172.0 1659.33,171.4 1659.58,176.2 1659.82,177.6 1660.07,175.7 1660.32,180.3 1660.57,187.2 1660.82,192.2 1661.07,196.7 1661.32,197.6 1661.57,204.7 1661.82,215.2 1662.06,214.3 1662.31,207.5 1662.56,208.2 1662.81,205.7 1663.06,199.2 1663.31,193.9 1663.56,187.6 1663.81,180.5 1664.06,177.2 1664.31,174.6 1664.55,172.9 1664.80,173.5 1665.05,171.7 1665.30,176.3 1665.55,182.4 1665.80,180.2 1666.05,179.2 1666.30,187.0 1666.55,194.0 1666.79,190.4 1667.04,181.2 1667.29,177.8 1667.54,176.7 1667.79,172.7 1668.04,167.2 1668.29,159.8 1668.54,159.6 1668.79,158.4 1669.03,151.1 1669.28,146.4 1669.53,143.0 1669.78,135.0 1670.03,127.1 1670.28,122.0 1670.53,114.2 1670.78,110.9 1671.03,108.4 1671.28,112.7 1671.52,118.1 1671.77,120.9 1672.02,125.2 1672.27,132.8 1672.52,133.9 1672.77,135.0 1673.02,144.3 1673.27,153.4 1673.52,155.9 1673.76,155.2 1674.01,157.9 1674.26,161.7 1674.51,169.0 1674.76,174.7 1675.01,181.7 1675.26,187.4 1675.51,187.7 1675.76,193.9 1676.01,200.8 1676.25,204.2 1676.50,208.5 1676.75,209.0 1677.00,207.8 1677.25,204.7 1677.50,201.5 1677.75,201.8 1678.00,197.5 1678.25,199.2 1678.49,201.4 1678.74,203.2 1678.99,205.1 1679.24,204.7 1679.49,206.8 1679.74,207.7 1679.99,203.7 1680.24,198.1 1680.49,195.2 1680.73,194.4 1680.98,191.5 1681.23,185.1 1681.48,184.6 1681.73,189.0 1681.98,195.7 1682.23,200.5 1682.48,206.3 1682.73,211.8 1682.98,213.2 1683.22,213.3 1683.47,214.7 1683.72,218.7 1683.97,222.1 1684.22,224.6 1684.47,224.5 1684.72,224.7 1684.97,230.2 1685.22,232.1 1685.46,231.1 1685.71,236.2 1685.96,241.2 1686.21,237.1 1686.46,236.1 1686.71,240.0 1686.96,245.0 1687.21,243.7 1687.46,233.3 1687.70,229.4 1687.95,228.0 1688.20,222.7 1688.45,213.0 1688.70,208.6 1688.95,204.9 1689.20,198.9 1689.45,191.0 1689.70,184.3 1689.95,190.5 1690.19,197.5 1690.44,204.6 1690.69,204.8 1690.94,203.4 1691.19,208.2 1691.44,213.2 1691.69,214.0 1691.94,212.8 1692.19,207.1 1692.43,203.4 1692.68,197.0 1692.93,195.2 1693.18,196.3 1693.43,191.7 1693.68,189.1 1693.93,184.1 1694.18,183.7 1694.43,180.3 1694.68,172.1 1694.92,171.1 1695.17,170.7 1695.42,167.4 1695.67,170.2 1695.92,173.8 1696.17,173.9 1696.42,174.8 1696.67,177.0 1696.92,179.9 1697.16,174.1 1697.41,168.0 1697.66,161.6 1697.91,153.3 1698.16,150.1 1698.41,145.2 1698.66,138.4 1698.91,133.6 1699.16,125.8 1699.40,121.2 1699.65,118.9 1699.90,118.6 1700.15,113.9 1700.40,109.0 1700.65,106.9 1700.90,97.2 1701.15,89.1 1701.40,97.6 1701.65,110.4 1701.89,116.0 1702.14,121.4 1702.39,128.6 1702.64,137.5 1702.89,143.1 1703.14,141.3 1703.39,149.6 1703.64,157.4 1703.89,159.4 1704.13,160.1 1704.38,165.9 1704.63,170.4 1704.88,170.6 1705.13,175.8 1705.38,177.1 1705.63,182.4 1705.88,189.4 1706.13,190.3 1706.37,189.5 1706.62,191.8 1706.87,197.5 1707.12,197.9 1707.37,199.2 1707.62,203.3 1707.87,205.0 1708.12,205.2 1708.37,201.5 1708.62,206.1 1708.86,212.3 1709.11,212.3 1709.36,215.0 1709.61,213.5 1709.86,213.3 1710.11,216.6 1710.36,220.6 1710.61,225.2 1710.86,225.5 1711.10,226.1 1711.35,229.2 1711.60,228.1 1711.85,230.1 1712.10,233.4 1712.35,230.4 1712.60,230.0 1712.85,230.9 1713.10,233.1 1713.35,233.8 1713.59,229.7 1713.84,223.9 1714.09,216.6 1714.34,213.7 1714.59,207.8 1714.84,203.5 1715.09,204.7 1715.34,209.8 1715.59,215.2 1715.83,223.1 1716.08,230.8 1716.33,238.2 1716.58,246.4 1716.83,254.1 1717.08,258.4 1717.33,257.8 1717.58,262.1 1717.83,270.1 1718.07,272.3 1718.32,271.8 1718.57,271.5 1718.82,272.6 1719.07,270.2 1719.32,266.4 1719.57,263.8 1719.82,260.9 1720.07,262.7 1720.32,262.4 1720.56,259.6 1720.81,259.2 1721.06,261.1 1721.31,264.5 1721.56,266.2 1721.81,268.7 1722.06,271.3 1722.31,273.9 1722.56,278.2 1722.80,279.2 1723.05,271.7 1723.30,265.5 1723.55,260.5 1723.80,257.6 1724.05,252.8 1724.30,246.5 1724.55,247.7 1724.80,257.3 1725.04,258.4 1725.29,263.6 1725.54,278.9 1725.79,284.7 1726.04,284.8 1726.29,292.6 1726.54,294.3 1726.79,295.6 1727.04,303.6 1727.29,308.5 1727.53,311.6 1727.78,312.2 1728.03,314.7 1728.28,320.0 1728.53,321.4 1728.78,315.9 1729.03,311.7 1729.28,309.8 1729.53,305.8 1729.77,299.8 1730.02,295.9 1730.27,291.2 1730.52,289.9 1730.77,284.2 1731.02,275.6 1731.27,270.7 1731.52,252.4 1731.77,231.6 1732.01,225.7 1732.26,219.8 1732.51,215.4 1732.76,211.1 1733.01,209.5 1733.26,212.8 1733.51,204.7 1733.76,198.2 1734.01,186.2 1734.26,181.7 1734.50,190.4 1734.75,196.8 1735.00,201.6 1735.25,204.4 1735.50,206.6 1735.75,213.0 1736.00,216.7 1736.25,223.7 1736.50,224.8 1736.74,221.1 1736.99,219.2 1737.24,215.0 1737.49,215.5 1737.74,210.2 1737.99,204.2 1738.24,201.9 1738.49,198.9 1738.74,202.7 1738.99,200.5 1739.23,199.1 1739.48,198.6 1739.73,194.4 1739.98,195.6 1740.23,196.9 1740.48,187.0 1740.73,178.7 1740.98,171.2 1741.23,165.3 1741.47,158.0 1741.72,153.2 1741.97,152.0 1742.22,146.0 1742.47,137.3 1742.72,133.9 1742.97,132.6 1743.22,129.8 1743.47,119.8 1743.71,110.5 1743.96,108.8 1744.21,109.6 1744.46,111.7 1744.71,113.3 1744.96,116.2 1745.21,121.2 1745.46,127.1 1745.71,130.0 1745.96,133.7 1746.20,138.8 1746.45,142.7 1746.70,146.5 1746.95,154.1 1747.20,156.5 1747.45,158.7 1747.70,167.9 1747.95,171.2 1748.20,169.9 1748.44,172.3 1748.69,171.5 1748.94,175.8 1749.19,179.0 1749.44,179.2 1749.69,180.1 1749.94,176.3 1750.19,172.1 1750.44,169.7 1750.68,166.5 1750.93,163.1 1751.18,162.0 1751.43,166.1 1751.68,169.5 1751.93,173.0 1752.18,175.6 1752.43,175.8 1752.68,186.1 1752.93,205.5 1753.17,209.8 1753.42,202.9 1753.67,205.9 1753.92,215.9 1754.17,219.5 1754.42,220.2 1754.67,223.7 1754.92,229.1 1755.17,227.5 1755.41,223.0 1755.66,218.2 1755.91,212.4 1756.16,202.7 1756.41,196.9 1756.66,196.7 1756.91,196.3 1757.16,193.7 1757.41,186.9 1757.66,180.9 1757.90,186.0 1758.15,192.3 1758.40,201.8 1758.65,211.8 1758.90,213.3 1759.15,217.3 1759.40,221.8 1759.65,230.2 1759.90,241.7 1760.14,242.3 1760.39,242.3 1760.64,241.8 1760.89,245.8 1761.14,248.4 1761.39,252.3 1761.64,257.0 1761.89,260.3 1762.14,263.8 1762.38,266.1 1762.63,268.0 1762.88,263.8 1763.13,270.3 1763.38,280.5 1763.63,280.1 1763.88,283.0 1764.13,284.8 1764.38,285.7 1764.63,285.8 1764.87,284.3 1765.12,283.1 1765.37,280.3 1765.62,280.2 1765.87,280.2 1766.12,281.9 1766.37,280.6 1766.62,273.6 1766.87,269.7 1767.11,267.4 1767.36,267.2 1767.61,265.1 1767.86,258.5 1768.11,271.0 1768.36,280.2 1768.61,280.4 1768.86,290.4 1769.11,296.8 1769.36,298.5 1769.60,301.9 1769.85,305.9 1770.10,312.2 1770.35,315.4 1770.60,315.6 1770.85,316.3 1771.10,317.6 1771.35,314.8 1771.60,314.6 1771.84,319.3 1772.09,320.4 1772.34,317.6 1772.59,318.7 1772.84,314.8 1773.09,305.4 1773.34,300.0 1773.59,298.3 1773.84,298.3 1774.08,293.3 1774.33,281.1 1774.58,265.0 1774.83,251.2 1775.08,240.6 1775.33,232.7 1775.58,226.3 1775.83,217.7 1776.08,209.1 1776.33,202.3 1776.57,192.4 1776.82,180.6 1777.07,175.0 1777.32,170.2 1777.57,180.5 1777.82,189.4 1778.07,200.4 1778.32,209.2 1778.57,206.7 1778.81,203.6 1779.06,202.2 1779.31,203.1 1779.56,200.6 1779.81,199.3 1780.06,197.2 1780.31,188.5 1780.56,178.2 1780.81,173.4 1781.05,165.5 1781.30,172.2 1781.55,190.7 1781.80,208.6 1782.05,225.0 1782.30,237.3 1782.55,247.0 1782.80,261.8 1783.05,273.4 1783.30,283.6 1783.54,295.0 1783.79,302.0 1784.04,314.2 1784.29,317.7 1784.54,300.6 1784.79,283.6 1785.04,268.0 1785.29,270.0 1785.54,270.1 1785.78,266.2 1786.03,262.5 1786.28,261.3 1786.53,262.7 1786.78,261.2 1787.03,260.3 1787.28,261.7 1787.53,258.4 1787.78,257.8 1788.03,270.8 1788.27,277.6 1788.52,282.5 1788.77,293.1 1789.02,285.6 1789.27,275.1 1789.52,265.3 1789.77,252.9 1790.02,249.0 1790.27,263.6 1790.51,279.0 1790.76,285.9 1791.01,290.7 1791.26,286.8 1791.51,284.7 1791.76,276.0 1792.01,270.3 1792.26,267.0 1792.51,264.6 1792.75,268.4 1793.00,274.9 1793.25,280.7 1793.50,282.3 1793.75,285.1 1794.00,287.0 1794.25,291.0 1794.50,297.1 1794.75,303.4 1795.00,307.2 1795.24,313.4 1795.49,321.1 1795.74,320.4 1795.99,317.4 1796.24,308.2 1796.49,301.5 1796.74,301.8 1796.99,296.9 1797.24,289.2 1797.48,294.2 1797.73,296.1 1797.98,297.5 1798.23,301.1 1798.48,301.8 1798.73,306.0 1798.98,308.7 1799.23,311.0 1799.48,312.1 1799.72,304.6 1799.97,298.8 1800.22,297.4 1800.47,293.8 1800.72,288.1 1800.97,286.0 1801.22,280.6 1801.47,273.3 1801.72,272.4 1801.97,275.5 1802.21,278.9 1802.46,287.0 1802.71,292.0 1802.96,299.1 1803.21,308.4 1803.46,314.4 1803.71,318.1 1803.96,317.5 1804.21,319.7 1804.45,321.5 1804.70,321.9 1804.95,313.3 1805.20,306.2 1805.45,306.6 1805.70,302.5 1805.95,301.5 1806.20,304.3 1806.45,300.9 1806.70,305.2 1806.94,311.6 1807.19,317.1 1807.44,320.3 1807.69,322.2 1807.94,323.5 1808.19,321.4 1808.44,317.6 1808.69,317.2 1808.94,322.9 1809.18,323.0 1809.43,318.6 1809.68,320.8 1809.93,323.7 1810.18,321.6 1810.43,318.5 1810.68,317.2 1810.93,317.1 1811.18,315.2 1811.42,311.8 1811.67,311.2 1811.92,309.5 1812.17,308.6 1812.42,310.7 1812.67,308.2 1812.92,302.1 1813.17,293.4 1813.42,295.1 1813.67,297.1 1813.91,290.8 1814.16,289.0 1814.41,290.7 1814.66,292.7 1814.91,291.0 1815.16,294.4 1815.41,298.1 1815.66,295.4 1815.91,295.3 1816.15,302.6 1816.40,299.4 1816.65,296.7 1816.90,299.1 1817.15,297.6 1817.40,298.1 1817.65,297.7 1817.90,293.0 1818.15,288.5 1818.39,287.4 1818.64,282.4 1818.89,275.4 1819.14,273.5 1819.39,270.8 1819.64,269.6 1819.89,271.0 1820.14,268.3 1820.39,270.3 1820.64,273.2 1820.88,275.8 1821.13,279.3 1821.38,283.6 1821.63,285.5 1821.88,285.8 1822.13,292.7 1822.38,294.0 1822.63,289.6 1822.88,290.6 1823.12,287.9 1823.37,285.9 1823.62,286.6 1823.87,282.7 1824.12,279.8 1824.37,286.7 1824.62,288.7 1824.87,290.9 1825.12,298.7 1825.37,303.2 1825.61,304.2 1825.86,299.4 1826.11,292.1 1826.36,290.5 1826.61,291.7 1826.86,284.0 1827.11,273.3 1827.36,273.0 1827.61,275.2 1827.85,277.9 1828.10,278.5 1828.35,278.3 1828.60,281.0 1828.85,281.9 1829.10,285.1 1829.35,290.0 1829.60,293.1 1829.85,291.3 1830.09,288.4 1830.34,290.1 1830.59,295.1 1830.84,296.6 1831.09,295.9 1831.34,298.6 1831.59,299.5 1831.84,303.0 1832.09,306.3 1832.34,310.4 1832.58,313.0 1832.83,312.4 1833.08,315.4 1833.33,316.6 1833.58,314.0 1833.83,316.9 1834.08,319.8 1834.33,317.2 1834.58,311.8" fill="none" stroke="#1f1f1f" stroke-width="2.9" stroke-linejoin="round"/></svg>
<g shape-rendering="crispEdges">
<rect x="136.2" y="406.4" width="746.7" height="325.3" fill="#ca3e72"/>
<rect x="136.20" y="406.40" width="190.95" height="9.34" fill="#000004"/>
<rect x="326.85" y="406.40" width="16.19" height="9.34" fill="#140e36"/>
<rect x="342.73" y="406.40" width="16.19" height="9.34" fill="#471078"/>
<rect x="358.62" y="406.40" width="16.19" height="9.34" fill="#b73779"/>
<rect x="374.51" y="406.40" width="16.19" height="9.34" fill="#fb835f"/>
<rect x="390.40" y="406.40" width="16.19" height="9.34" fill="#f9795d"/>
<rect x="406.28" y="406.40" width="16.19" height="9.34" fill="#ca3e72"/>
<rect x="422.17" y="406.40" width="16.19" height="9.34" fill="#782281"/>
<rect x="438.06" y="406.40" width="16.19" height="9.34" fill="#3b0f70"/>
<rect x="453.94" y="406.40" width="429.26" height="9.34" fill="#000004"/>
<rect x="136.20" y="415.44" width="175.06" height="9.34" fill="#000004"/>
<rect x="310.96" y="415.44" width="16.19" height="9.34" fill="#140e36"/>
<rect x="326.85" y="415.44" width="16.19" height="9.34" fill="#4c117a"/>
<rect x="342.73" y="415.44" width="16.19" height="9.34" fill="#842681"/>
<rect x="358.62" y="415.44" width="16.19" height="9.34" fill="#d6456c"/>
<rect x="374.51" y="415.44" width="16.19" height="9.34" fill="#fd9668"/>
<rect x="390.40" y="415.44" width="16.19" height="9.34" fill="#fc8c63"/>
<rect x="406.28" y="415.44" width="16.19" height="9.34" fill="#de4968"/>
<rect x="422.17" y="415.44" width="16.19" height="9.34" fill="#942c80"/>
<rect x="438.06" y="415.44" width="16.19" height="9.34" fill="#6b1d81"/>
<rect x="453.94" y="415.44" width="16.19" height="9.34" fill="#140e36"/>
<rect x="469.83" y="415.44" width="16.19" height="9.34" fill="#050416"/>
<rect x="485.72" y="415.44" width="397.48" height="9.34" fill="#000004"/>
<rect x="136.20" y="424.47" width="159.17" height="9.34" fill="#000004"/>
<rect x="295.07" y="424.47" width="16.19" height="9.34" fill="#120d31"/>
<rect x="310.96" y="424.47" width="16.19" height="9.34" fill="#4c117a"/>
<rect x="326.85" y="424.47" width="16.19" height="9.34" fill="#802582"/>
<rect x="342.73" y="424.47" width="16.19" height="9.34" fill="#b73779"/>
<rect x="358.62" y="424.47" width="16.19" height="9.34" fill="#ed5a5f"/>
<rect x="374.51" y="424.47" width="16.19" height="9.34" fill="#fe9f6d"/>
<rect x="390.40" y="424.47" width="16.19" height="9.34" fill="#fd9668"/>
<rect x="406.28" y="424.47" width="16.19" height="9.34" fill="#ef5d5e"/>
<rect x="422.17" y="424.47" width="16.19" height="9.34" fill="#b73779"/>
<rect x="438.06" y="424.47" width="16.19" height="9.34" fill="#8c2981"/>
<rect x="453.94" y="424.47" width="16.19" height="9.34" fill="#440f76"/>
<rect x="469.83" y="424.47" width="16.19" height="9.34" fill="#1a1042"/>
<rect x="485.72" y="424.47" width="16.19" height="9.34" fill="#02020b"/>
<rect x="501.61" y="424.47" width="381.59" height="9.34" fill="#000004"/>
<rect x="136.20" y="433.51" width="127.40" height="9.34" fill="#000004"/>
<rect x="263.30" y="433.51" width="16.19" height="9.34" fill="#02020b"/>
<rect x="279.19" y="433.51" width="16.19" height="9.34" fill="#140e36"/>
<rect x="295.07" y="433.51" width="16.19" height="9.34" fill="#4c117a"/>
<rect x="310.96" y="433.51" width="16.19" height="9.34" fill="#7c2382"/>
<rect x="326.85" y="433.51" width="16.19" height="9.34" fill="#ad347c"/>
<rect x="342.73" y="433.51" width="16.19" height="9.34" fill="#e44f64"/>
<rect x="358.62" y="433.51" width="16.19" height="9.34" fill="#f9795d"/>
<rect x="374.51" y="433.51" width="16.19" height="9.34" fill="#feb47b"/>
<rect x="390.40" y="433.51" width="16.19" height="9.34" fill="#fea973"/>
<rect x="406.28" y="433.51" width="16.19" height="9.34" fill="#f7705c"/>
<rect x="422.17" y="433.51" width="16.19" height="9.34" fill="#d6456c"/>
<rect x="438.06" y="433.51" width="16.19" height="9.34" fill="#aa337d"/>
<rect x="453.94" y="433.51" width="16.19" height="9.34" fill="#6b1d81"/>
<rect x="469.83" y="433.51" width="16.19" height="9.34" fill="#59157e"/>
<rect x="485.72" y="433.51" width="16.19" height="9.34" fill="#1a1042"/>
<rect x="501.61" y="433.51" width="16.19" height="9.34" fill="#140e36"/>
<rect x="517.49" y="433.51" width="16.19" height="9.34" fill="#02020b"/>
<rect x="533.38" y="433.51" width="206.83" height="9.34" fill="#000004"/>
<rect x="739.91" y="433.51" width="16.19" height="9.34" fill="#010106"/>
<rect x="755.80" y="433.51" width="127.40" height="9.34" fill="#000004"/>
<rect x="136.20" y="442.54" width="95.62" height="9.34" fill="#000004"/>
<rect x="231.52" y="442.54" width="16.19" height="9.34" fill="#050416"/>
<rect x="247.41" y="442.54" width="16.19" height="9.34" fill="#06051a"/>
<rect x="263.30" y="442.54" width="16.19" height="9.34" fill="#251255"/>
<rect x="279.19" y="442.54" width="16.19" height="9.34" fill="#54137d"/>
<rect x="295.07" y="442.54" width="16.19" height="9.34" fill="#7c2382"/>
<rect x="310.96" y="442.54" width="16.19" height="9.34" fill="#a5317e"/>
<rect x="326.85" y="442.54" width="16.19" height="9.34" fill="#d2426f"/>
<rect x="342.73" y="442.54" width="16.19" height="9.34" fill="#ef5d5e"/>
<rect x="358.62" y="442.54" width="16.19" height="9.34" fill="#fc8c63"/>
<rect x="374.51" y="442.54" width="16.19" height="9.34" fill="#feb77e"/>
<rect x="390.40" y="442.54" width="16.19" height="9.34" fill="#feae77"/>
<rect x="406.28" y="442.54" width="16.19" height="9.34" fill="#fb835f"/>
<rect x="422.17" y="442.54" width="16.19" height="9.34" fill="#e85362"/>
<rect x="438.06" y="442.54" width="16.19" height="9.34" fill="#ca3e72"/>
<rect x="453.94" y="442.54" width="16.19" height="9.34" fill="#8c2981"/>
<rect x="469.83" y="442.54" width="16.19" height="9.34" fill="#802582"/>
<rect x="485.72" y="442.54" width="16.19" height="9.34" fill="#51127c"/>
<rect x="501.61" y="442.54" width="16.19" height="9.34" fill="#440f76"/>
<rect x="517.49" y="442.54" width="16.19" height="9.34" fill="#1a1042"/>
<rect x="533.38" y="442.54" width="16.19" height="9.34" fill="#090720"/>
<rect x="549.27" y="442.54" width="16.19" height="9.34" fill="#06051a"/>
<rect x="565.16" y="442.54" width="16.19" height="9.34" fill="#050416"/>
<rect x="581.04" y="442.54" width="302.16" height="9.34" fill="#000004"/>
<rect x="136.20" y="451.58" width="32.07" height="9.34" fill="#000004"/>
<rect x="167.97" y="451.58" width="16.19" height="9.34" fill="#03030f"/>
<rect x="183.86" y="451.58" width="16.19" height="9.34" fill="#0b0924"/>
<rect x="199.75" y="451.58" width="16.19" height="9.34" fill="#140e36"/>
<rect x="215.64" y="451.58" width="16.19" height="9.34" fill="#4c117a"/>
<rect x="231.52" y="451.58" width="32.07" height="9.34" fill="#5c167f"/>
<rect x="263.30" y="451.58" width="16.19" height="9.34" fill="#7c2382"/>
<rect x="279.19" y="451.58" width="16.19" height="9.34" fill="#942c80"/>
<rect x="295.07" y="451.58" width="16.19" height="9.34" fill="#bf3a77"/>
<rect x="310.96" y="451.58" width="16.19" height="9.34" fill="#de4968"/>
<rect x="326.85" y="451.58" width="16.19" height="9.34" fill="#ef5d5e"/>
<rect x="342.73" y="451.58" width="16.19" height="9.34" fill="#fb835f"/>
<rect x="358.62" y="451.58" width="16.19" height="9.34" fill="#fe9f6d"/>
<rect x="374.51" y="451.58" width="16.19" height="9.34" fill="#febd82"/>
<rect x="390.40" y="451.58" width="16.19" height="9.34" fill="#feb47b"/>
<rect x="406.28" y="451.58" width="16.19" height="9.34" fill="#fc8c63"/>
<rect x="422.17" y="451.58" width="16.19" height="9.34" fill="#f2625d"/>
<rect x="438.06" y="451.58" width="16.19" height="9.34" fill="#e85362"/>
<rect x="453.94" y="451.58" width="16.19" height="9.34" fill="#b73779"/>
<rect x="469.83" y="451.58" width="16.19" height="9.34" fill="#aa337d"/>
<rect x="485.72" y="451.58" width="16.19" height="9.34" fill="#7c2382"/>
<rect x="501.61" y="451.58" width="16.19" height="9.34" fill="#701f81"/>
<rect x="517.49" y="451.58" width="16.19" height="9.34" fill="#59157e"/>
<rect x="533.38" y="451.58" width="16.19" height="9.34" fill="#3b0f70"/>
<rect x="549.27" y="451.58" width="16.19" height="9.34" fill="#331067"/>
<rect x="565.16" y="451.58" width="16.19" height="9.34" fill="#36106b"/>
<rect x="581.04" y="451.58" width="32.07" height="9.34" fill="#1a1042"/>
<rect x="612.82" y="451.58" width="16.19" height="9.34" fill="#0e0b2b"/>
<rect x="628.70" y="451.58" width="16.19" height="9.34" fill="#03030f"/>
<rect x="644.59" y="451.58" width="32.07" height="9.34" fill="#010106"/>
<rect x="676.37" y="451.58" width="206.83" height="9.34" fill="#000004"/>
<rect x="136.20" y="460.62" width="16.19" height="9.34" fill="#090720"/>
<rect x="152.09" y="460.62" width="16.19" height="9.34" fill="#120d31"/>
<rect x="167.97" y="460.62" width="16.19" height="9.34" fill="#1a1042"/>
<rect x="183.86" y="460.62" width="16.19" height="9.34" fill="#29115a"/>
<rect x="199.75" y="460.62" width="16.19" height="9.34" fill="#3b0f70"/>
<rect x="215.64" y="460.62" width="16.19" height="9.34" fill="#641a80"/>
<rect x="231.52" y="460.62" width="32.07" height="9.34" fill="#701f81"/>
<rect x="263.30" y="460.62" width="16.19" height="9.34" fill="#8c2981"/>
<rect x="279.19" y="460.62" width="16.19" height="9.34" fill="#a1307e"/>
<rect x="295.07" y="460.62" width="16.19" height="9.34" fill="#c73d73"/>
<rect x="310.96" y="460.62" width="16.19" height="9.34" fill="#e44f64"/>
<rect x="326.85" y="460.62" width="16.19" height="9.34" fill="#f7705c"/>
<rect x="342.73" y="460.62" width="16.19" height="9.34" fill="#fc8c63"/>
<rect x="358.62" y="460.62" width="16.19" height="9.34" fill="#feae77"/>
<rect x="374.51" y="460.62" width="16.19" height="9.34" fill="#fec68a"/>
<rect x="390.40" y="460.62" width="16.19" height="9.34" fill="#feb77e"/>
<rect x="406.28" y="460.62" width="16.19" height="9.34" fill="#fd9668"/>
<rect x="422.17" y="460.62" width="16.19" height="9.34" fill="#f9795d"/>
<rect x="438.06" y="460.62" width="16.19" height="9.34" fill="#f56b5c"/>
<rect x="453.94" y="460.62" width="16.19" height="9.34" fill="#d6456c"/>
<rect x="469.83" y="460.62" width="16.19" height="9.34" fill="#d2426f"/>
<rect x="485.72" y="460.62" width="16.19" height="9.34" fill="#a1307e"/>
<rect x="501.61" y="460.62" width="16.19" height="9.34" fill="#992d80"/>
<rect x="517.49" y="460.62" width="16.19" height="9.34" fill="#802582"/>
<rect x="533.38" y="460.62" width="16.19" height="9.34" fill="#701f81"/>
<rect x="549.27" y="460.62" width="16.19" height="9.34" fill="#641a80"/>
<rect x="565.16" y="460.62" width="16.19" height="9.34" fill="#681c81"/>
<rect x="581.04" y="460.62" width="16.19" height="9.34" fill="#5c167f"/>
<rect x="596.93" y="460.62" width="16.19" height="9.34" fill="#59157e"/>
<rect x="612.82" y="460.62" width="16.19" height="9.34" fill="#471078"/>
<rect x="628.70" y="460.62" width="16.19" height="9.34" fill="#2d1161"/>
<rect x="644.59" y="460.62" width="16.19" height="9.34" fill="#21114e"/>
<rect x="660.48" y="460.62" width="16.19" height="9.34" fill="#140e36"/>
<rect x="676.37" y="460.62" width="16.19" height="9.34" fill="#06051a"/>
<rect x="692.25" y="460.62" width="16.19" height="9.34" fill="#02020b"/>
<rect x="708.14" y="460.62" width="175.06" height="9.34" fill="#000004"/>
<rect x="136.20" y="469.65" width="16.19" height="9.34" fill="#3b0f70"/>
<rect x="152.09" y="469.65" width="16.19" height="9.34" fill="#440f76"/>
<rect x="167.97" y="469.65" width="16.19" height="9.34" fill="#54137d"/>
<rect x="183.86" y="469.65" width="16.19" height="9.34" fill="#59157e"/>
<rect x="199.75" y="469.65" width="16.19" height="9.34" fill="#601880"/>
<rect x="215.64" y="469.65" width="16.19" height="9.34" fill="#802582"/>
<rect x="231.52" y="469.65" width="16.19" height="9.34" fill="#8c2981"/>
<rect x="247.41" y="469.65" width="16.19" height="9.34" fill="#902a81"/>
<rect x="263.30" y="469.65" width="16.19" height="9.34" fill="#aa337d"/>
<rect x="279.19" y="469.65" width="16.19" height="9.34" fill="#bf3a77"/>
<rect x="295.07" y="469.65" width="16.19" height="9.34" fill="#de4968"/>
<rect x="310.96" y="469.65" width="16.19" height="9.34" fill="#ed5a5f"/>
<rect x="326.85" y="469.65" width="16.19" height="9.34" fill="#f9795d"/>
<rect x="342.73" y="469.65" width="16.19" height="9.34" fill="#fd9668"/>
<rect x="358.62" y="469.65" width="16.19" height="9.34" fill="#feb47b"/>
<rect x="374.51" y="469.65" width="16.19" height="9.34" fill="#feca8d"/>
<rect x="390.40" y="469.65" width="16.19" height="9.34" fill="#fec185"/>
<rect x="406.28" y="469.65" width="16.19" height="9.34" fill="#fe9f6d"/>
<rect x="422.17" y="469.65" width="16.19" height="9.34" fill="#fb835f"/>
<rect x="438.06" y="469.65" width="16.19" height="9.34" fill="#f9795d"/>
<rect x="453.94" y="469.65" width="16.19" height="9.34" fill="#e85362"/>
<rect x="469.83" y="469.65" width="16.19" height="9.34" fill="#e44f64"/>
<rect x="485.72" y="469.65" width="16.19" height="9.34" fill="#bf3a77"/>
<rect x="501.61" y="469.65" width="16.19" height="9.34" fill="#b73779"/>
<rect x="517.49" y="469.65" width="16.19" height="9.34" fill="#a1307e"/>
<rect x="533.38" y="469.65" width="16.19" height="9.34" fill="#942c80"/>
<rect x="549.27" y="469.65" width="32.07" height="9.34" fill="#8c2981"/>
<rect x="581.04" y="469.65" width="16.19" height="9.34" fill="#842681"/>
<rect x="596.93" y="469.65" width="16.19" height="9.34" fill="#802582"/>
<rect x="612.82" y="469.65" width="16.19" height="9.34" fill="#782281"/>
<rect x="628.70" y="469.65" width="16.19" height="9.34" fill="#641a80"/>
<rect x="644.59" y="469.65" width="16.19" height="9.34" fill="#5c167f"/>
<rect x="660.48" y="469.65" width="16.19" height="9.34" fill="#51127c"/>
<rect x="676.37" y="469.65" width="16.19" height="9.34" fill="#3b0f70"/>
<rect x="692.25" y="469.65" width="16.19" height="9.34" fill="#251255"/>
<rect x="708.14" y="469.65" width="16.19" height="9.34" fill="#180f3d"/>
<rect x="724.03" y="469.65" width="32.07" height="9.34" fill="#120d31"/>
<rect x="755.80" y="469.65" width="16.19" height="9.34" fill="#0b0924"/>
<rect x="771.69" y="469.65" width="32.07" height="9.34" fill="#090720"/>
<rect x="803.46" y="469.65" width="16.19" height="9.34" fill="#06051a"/>
<rect x="819.35" y="469.65" width="16.19" height="9.34" fill="#090720"/>
<rect x="835.24" y="469.65" width="16.19" height="9.34" fill="#0b0924"/>
<rect x="851.13" y="469.65" width="16.19" height="9.34" fill="#0e0b2b"/>
<rect x="867.01" y="469.65" width="16.19" height="9.34" fill="#120d31"/>
<rect x="136.20" y="478.69" width="16.19" height="9.34" fill="#641a80"/>
<rect x="152.09" y="478.69" width="16.19" height="9.34" fill="#6b1d81"/>
<rect x="167.97" y="478.69" width="16.19" height="9.34" fill="#752181"/>
<rect x="183.86" y="478.69" width="16.19" height="9.34" fill="#7c2382"/>
<rect x="199.75" y="478.69" width="16.19" height="9.34" fill="#802582"/>
<rect x="215.64" y="478.69" width="16.19" height="9.34" fill="#9c2e7f"/>
<rect x="231.52" y="478.69" width="16.19" height="9.34" fill="#aa337d"/>
<rect x="247.41" y="478.69" width="16.19" height="9.34" fill="#ad347c"/>
<rect x="263.30" y="478.69" width="16.19" height="9.34" fill="#ca3e72"/>
<rect x="279.19" y="478.69" width="16.19" height="9.34" fill="#d6456c"/>
<rect x="295.07" y="478.69" width="16.19" height="9.34" fill="#e85362"/>
<rect x="310.96" y="478.69" width="16.19" height="9.34" fill="#f56b5c"/>
<rect x="326.85" y="478.69" width="16.19" height="9.34" fill="#fb835f"/>
<rect x="342.73" y="478.69" width="16.19" height="9.34" fill="#fd9668"/>
<rect x="358.62" y="478.69" width="16.19" height="9.34" fill="#feb77e"/>
<rect x="374.51" y="478.69" width="16.19" height="9.34" fill="#fecf92"/>
<rect x="390.40" y="478.69" width="16.19" height="9.34" fill="#fec68a"/>
<rect x="406.28" y="478.69" width="16.19" height="9.34" fill="#fea973"/>
<rect x="422.17" y="478.69" width="16.19" height="9.34" fill="#fd9266"/>
<rect x="438.06" y="478.69" width="16.19" height="9.34" fill="#fb835f"/>
<rect x="453.94" y="478.69" width="32.07" height="9.34" fill="#f2625d"/>
<rect x="485.72" y="478.69" width="32.07" height="9.34" fill="#d2426f"/>
<rect x="517.49" y="478.69" width="16.19" height="9.34" fill="#c23b75"/>
<rect x="533.38" y="478.69" width="16.19" height="9.34" fill="#bf3a77"/>
<rect x="549.27" y="478.69" width="16.19" height="9.34" fill="#b2357b"/>
<rect x="565.16" y="478.69" width="16.19" height="9.34" fill="#b73779"/>
<rect x="581.04" y="478.69" width="16.19" height="9.34" fill="#b2357b"/>
<rect x="596.93" y="478.69" width="16.19" height="9.34" fill="#ad347c"/>
<rect x="612.82" y="478.69" width="16.19" height="9.34" fill="#a5317e"/>
<rect x="628.70" y="478.69" width="16.19" height="9.34" fill="#942c80"/>
<rect x="644.59" y="478.69" width="16.19" height="9.34" fill="#8c2981"/>
<rect x="660.48" y="478.69" width="16.19" height="9.34" fill="#7c2382"/>
<rect x="676.37" y="478.69" width="16.19" height="9.34" fill="#6b1d81"/>
<rect x="692.25" y="478.69" width="16.19" height="9.34" fill="#5c167f"/>
<rect x="708.14" y="478.69" width="16.19" height="9.34" fill="#51127c"/>
<rect x="724.03" y="478.69" width="32.07" height="9.34" fill="#471078"/>
<rect x="755.80" y="478.69" width="16.19" height="9.34" fill="#440f76"/>
<rect x="771.69" y="478.69" width="16.19" height="9.34" fill="#3f0f72"/>
<rect x="787.58" y="478.69" width="16.19" height="9.34" fill="#3b0f70"/>
<rect x="803.46" y="478.69" width="16.19" height="9.34" fill="#36106b"/>
<rect x="819.35" y="478.69" width="32.07" height="9.34" fill="#3b0f70"/>
<rect x="851.13" y="478.69" width="32.07" height="9.34" fill="#440f76"/>
<rect x="136.20" y="487.73" width="16.19" height="9.34" fill="#842681"/>
<rect x="152.09" y="487.73" width="16.19" height="9.34" fill="#8c2981"/>
<rect x="167.97" y="487.73" width="16.19" height="9.34" fill="#902a81"/>
<rect x="183.86" y="487.73" width="32.07" height="9.34" fill="#942c80"/>
<rect x="215.64" y="487.73" width="16.19" height="9.34" fill="#ad347c"/>
<rect x="231.52" y="487.73" width="16.19" height="9.34" fill="#bf3a77"/>
<rect x="247.41" y="487.73" width="16.19" height="9.34" fill="#c23b75"/>
<rect x="263.30" y="487.73" width="16.19" height="9.34" fill="#de4968"/>
<rect x="279.19" y="487.73" width="16.19" height="9.34" fill="#e44f64"/>
<rect x="295.07" y="487.73" width="16.19" height="9.34" fill="#ef5d5e"/>
<rect x="310.96" y="487.73" width="16.19" height="9.34" fill="#f8745c"/>
<rect x="326.85" y="487.73" width="16.19" height="9.34" fill="#fc8961"/>
<rect x="342.73" y="487.73" width="16.19" height="9.34" fill="#fe9f6d"/>
<rect x="358.62" y="487.73" width="16.19" height="9.34" fill="#febd82"/>
<rect x="374.51" y="487.73" width="16.19" height="9.34" fill="#fed395"/>
<rect x="390.40" y="487.73" width="16.19" height="9.34" fill="#fecf92"/>
<rect x="406.28" y="487.73" width="16.19" height="9.34" fill="#feb47b"/>
<rect x="422.17" y="487.73" width="16.19" height="9.34" fill="#fd9b6b"/>
<rect x="438.06" y="487.73" width="16.19" height="9.34" fill="#fc8c63"/>
<rect x="453.94" y="487.73" width="32.07" height="9.34" fill="#f7705c"/>
<rect x="485.72" y="487.73" width="32.07" height="9.34" fill="#e24d66"/>
<rect x="517.49" y="487.73" width="16.19" height="9.34" fill="#d6456c"/>
<rect x="533.38" y="487.73" width="16.19" height="9.34" fill="#d2426f"/>
<rect x="549.27" y="487.73" width="16.19" height="9.34" fill="#ca3e72"/>
<rect x="565.16" y="487.73" width="16.19" height="9.34" fill="#cf4070"/>
<rect x="581.04" y="487.73" width="32.07" height="9.34" fill="#ca3e72"/>
<rect x="612.82" y="487.73" width="16.19" height="9.34" fill="#c73d73"/>
<rect x="628.70" y="487.73" width="16.19" height="9.34" fill="#b73779"/>
<rect x="644.59" y="487.73" width="16.19" height="9.34" fill="#ad347c"/>
<rect x="660.48" y="487.73" width="16.19" height="9.34" fill="#a5317e"/>
<rect x="676.37" y="487.73" width="16.19" height="9.34" fill="#902a81"/>
<rect x="692.25" y="487.73" width="16.19" height="9.34" fill="#842681"/>
<rect x="708.14" y="487.73" width="16.19" height="9.34" fill="#782281"/>
<rect x="724.03" y="487.73" width="47.96" height="9.34" fill="#701f81"/>
<rect x="771.69" y="487.73" width="16.19" height="9.34" fill="#6b1d81"/>
<rect x="787.58" y="487.73" width="32.07" height="9.34" fill="#681c81"/>
<rect x="819.35" y="487.73" width="32.07" height="9.34" fill="#641a80"/>
<rect x="851.13" y="487.73" width="32.07" height="9.34" fill="#6b1d81"/>
<rect x="136.20" y="496.76" width="16.19" height="9.34" fill="#9c2e7f"/>
<rect x="152.09" y="496.76" width="16.19" height="9.34" fill="#a5317e"/>
<rect x="167.97" y="496.76" width="16.19" height="9.34" fill="#aa337d"/>
<rect x="183.86" y="496.76" width="32.07" height="9.34" fill="#b2357b"/>
<rect x="215.64" y="496.76" width="16.19" height="9.34" fill="#ba3878"/>
<rect x="231.52" y="496.76" width="16.19" height="9.34" fill="#ca3e72"/>
<rect x="247.41" y="496.76" width="16.19" height="9.34" fill="#cf4070"/>
<rect x="263.30" y="496.76" width="16.19" height="9.34" fill="#e85362"/>
<rect x="279.19" y="496.76" width="16.19" height="9.34" fill="#ed5a5f"/>
<rect x="295.07" y="496.76" width="16.19" height="9.34" fill="#f56b5c"/>
<rect x="310.96" y="496.76" width="16.19" height="9.34" fill="#fa7d5e"/>
<rect x="326.85" y="496.76" width="16.19" height="9.34" fill="#fc8c63"/>
<rect x="342.73" y="496.76" width="16.19" height="9.34" fill="#fe9f6d"/>
<rect x="358.62" y="496.76" width="16.19" height="9.34" fill="#febd82"/>
<rect x="374.51" y="496.76" width="32.07" height="9.34" fill="#fed89a"/>
<rect x="406.28" y="496.76" width="16.19" height="9.34" fill="#fec185"/>
<rect x="422.17" y="496.76" width="16.19" height="9.34" fill="#fea973"/>
<rect x="438.06" y="496.76" width="16.19" height="9.34" fill="#fd9b6b"/>
<rect x="453.94" y="496.76" width="16.19" height="9.34" fill="#fb835f"/>
<rect x="469.83" y="496.76" width="16.19" height="9.34" fill="#f9795d"/>
<rect x="485.72" y="496.76" width="32.07" height="9.34" fill="#ed5a5f"/>
<rect x="517.49" y="496.76" width="16.19" height="9.34" fill="#e44f64"/>
<rect x="533.38" y="496.76" width="16.19" height="9.34" fill="#e24d66"/>
<rect x="549.27" y="496.76" width="16.19" height="9.34" fill="#d6456c"/>
<rect x="565.16" y="496.76" width="16.19" height="9.34" fill="#de4968"/>
<rect x="581.04" y="496.76" width="47.96" height="9.34" fill="#db476a"/>
<rect x="628.70" y="496.76" width="16.19" height="9.34" fill="#cf4070"/>
<rect x="644.59" y="496.76" width="32.07" height="9.34" fill="#ca3e72"/>
<rect x="676.37" y="496.76" width="16.19" height="9.34" fill="#ad347c"/>
<rect x="692.25" y="496.76" width="16.19" height="9.34" fill="#9c2e7f"/>
<rect x="708.14" y="496.76" width="16.19" height="9.34" fill="#942c80"/>
<rect x="724.03" y="496.76" width="63.85" height="9.34" fill="#8c2981"/>
<rect x="787.58" y="496.76" width="32.07" height="9.34" fill="#882781"/>
<rect x="819.35" y="496.76" width="16.19" height="9.34" fill="#842681"/>
<rect x="835.24" y="496.76" width="16.19" height="9.34" fill="#802582"/>
<rect x="851.13" y="496.76" width="16.19" height="9.34" fill="#842681"/>
<rect x="867.01" y="496.76" width="16.19" height="9.34" fill="#882781"/>
<rect x="136.20" y="505.80" width="16.19" height="9.34" fill="#b2357b"/>
<rect x="152.09" y="505.80" width="16.19" height="9.34" fill="#b73779"/>
<rect x="167.97" y="505.80" width="16.19" height="9.34" fill="#bf3a77"/>
<rect x="183.86" y="505.80" width="32.07" height="9.34" fill="#c23b75"/>
<rect x="215.64" y="505.80" width="16.19" height="9.34" fill="#c73d73"/>
<rect x="231.52" y="505.80" width="16.19" height="9.34" fill="#d2426f"/>
<rect x="247.41" y="505.80" width="16.19" height="9.34" fill="#db476a"/>
<rect x="263.30" y="505.80" width="16.19" height="9.34" fill="#ed5a5f"/>
<rect x="279.19" y="505.80" width="16.19" height="9.34" fill="#f2625d"/>
<rect x="295.07" y="505.80" width="16.19" height="9.34" fill="#f9795d"/>
<rect x="310.96" y="505.80" width="16.19" height="9.34" fill="#fc8961"/>
<rect x="326.85" y="505.80" width="16.19" height="9.34" fill="#fd9266"/>
<rect x="342.73" y="505.80" width="16.19" height="9.34" fill="#fe9f6d"/>
<rect x="358.62" y="505.80" width="16.19" height="9.34" fill="#fec68a"/>
<rect x="374.51" y="505.80" width="32.07" height="9.34" fill="#fde2a3"/>
<rect x="406.28" y="505.80" width="16.19" height="9.34" fill="#fec68a"/>
<rect x="422.17" y="505.80" width="16.19" height="9.34" fill="#feb47b"/>
<rect x="438.06" y="505.80" width="16.19" height="9.34" fill="#fea571"/>
<rect x="453.94" y="505.80" width="16.19" height="9.34" fill="#fd9266"/>
<rect x="469.83" y="505.80" width="16.19" height="9.34" fill="#fc8961"/>
<rect x="485.72" y="505.80" width="32.07" height="9.34" fill="#f4675c"/>
<rect x="517.49" y="505.80" width="32.07" height="9.34" fill="#ed5a5f"/>
<rect x="549.27" y="505.80" width="16.19" height="9.34" fill="#e44f64"/>
<rect x="565.16" y="505.80" width="16.19" height="9.34" fill="#ef5d5e"/>
<rect x="581.04" y="505.80" width="16.19" height="9.34" fill="#e85362"/>
<rect x="596.93" y="505.80" width="16.19" height="9.34" fill="#ea5661"/>
<rect x="612.82" y="505.80" width="16.19" height="9.34" fill="#e44f64"/>
<rect x="628.70" y="505.80" width="32.07" height="9.34" fill="#e24d66"/>
<rect x="660.48" y="505.80" width="16.19" height="9.34" fill="#db476a"/>
<rect x="676.37" y="505.80" width="16.19" height="9.34" fill="#c73d73"/>
<rect x="692.25" y="505.80" width="16.19" height="9.34" fill="#ad347c"/>
<rect x="708.14" y="505.80" width="16.19" height="9.34" fill="#aa337d"/>
<rect x="724.03" y="505.80" width="16.19" height="9.34" fill="#a5317e"/>
<rect x="739.91" y="505.80" width="32.07" height="9.34" fill="#a1307e"/>
<rect x="771.69" y="505.80" width="47.96" height="9.34" fill="#a5317e"/>
<rect x="819.35" y="505.80" width="16.19" height="9.34" fill="#a1307e"/>
<rect x="835.24" y="505.80" width="16.19" height="9.34" fill="#942c80"/>
<rect x="851.13" y="505.80" width="32.07" height="9.34" fill="#992d80"/>
<rect x="136.20" y="514.83" width="16.19" height="9.34" fill="#c23b75"/>
<rect x="152.09" y="514.83" width="16.19" height="9.34" fill="#ca3e72"/>
<rect x="167.97" y="514.83" width="16.19" height="9.34" fill="#cf4070"/>
<rect x="183.86" y="514.83" width="16.19" height="9.34" fill="#e44f64"/>
<rect x="199.75" y="514.83" width="16.19" height="9.34" fill="#de4968"/>
<rect x="215.64" y="514.83" width="16.19" height="9.34" fill="#d6456c"/>
<rect x="231.52" y="514.83" width="16.19" height="9.34" fill="#db476a"/>
<rect x="247.41" y="514.83" width="16.19" height="9.34" fill="#ea5661"/>
<rect x="263.30" y="514.83" width="32.07" height="9.34" fill="#f9795d"/>
<rect x="295.07" y="514.83" width="16.19" height="9.34" fill="#fb835f"/>
<rect x="310.96" y="514.83" width="16.19" height="9.34" fill="#fd9266"/>
<rect x="326.85" y="514.83" width="16.19" height="9.34" fill="#fd9668"/>
<rect x="342.73" y="514.83" width="16.19" height="9.34" fill="#fea973"/>
<rect x="358.62" y="514.83" width="16.19" height="9.34" fill="#fec68a"/>
<rect x="374.51" y="514.83" width="32.07" height="9.34" fill="#fde7a9"/>
<rect x="406.28" y="514.83" width="16.19" height="9.34" fill="#feca8d"/>
<rect x="422.17" y="514.83" width="16.19" height="9.34" fill="#feb77e"/>
<rect x="438.06" y="514.83" width="16.19" height="9.34" fill="#feae77"/>
<rect x="453.94" y="514.83" width="16.19" height="9.34" fill="#fd9b6b"/>
<rect x="469.83" y="514.83" width="16.19" height="9.34" fill="#fd9266"/>
<rect x="485.72" y="514.83" width="32.07" height="9.34" fill="#f7705c"/>
<rect x="517.49" y="514.83" width="47.96" height="9.34" fill="#ef5d5e"/>
<rect x="565.16" y="514.83" width="16.19" height="9.34" fill="#f56b5c"/>
<rect x="581.04" y="514.83" width="47.96" height="9.34" fill="#ed5a5f"/>
<rect x="628.70" y="514.83" width="16.19" height="9.34" fill="#e85362"/>
<rect x="644.59" y="514.83" width="16.19" height="9.34" fill="#f4675c"/>
<rect x="660.48" y="514.83" width="16.19" height="9.34" fill="#ea5661"/>
<rect x="676.37" y="514.83" width="16.19" height="9.34" fill="#de4968"/>
<rect x="692.25" y="514.83" width="32.07" height="9.34" fill="#bf3a77"/>
<rect x="724.03" y="514.83" width="63.85" height="9.34" fill="#b73779"/>
<rect x="787.58" y="514.83" width="32.07" height="9.34" fill="#ba3878"/>
<rect x="819.35" y="514.83" width="16.19" height="9.34" fill="#b73779"/>
<rect x="835.24" y="514.83" width="16.19" height="9.34" fill="#ad347c"/>
<rect x="851.13" y="514.83" width="16.19" height="9.34" fill="#b73779"/>
<rect x="867.01" y="514.83" width="16.19" height="9.34" fill="#b2357b"/>
<rect x="136.20" y="523.87" width="32.07" height="9.34" fill="#db476a"/>
<rect x="167.97" y="523.87" width="16.19" height="9.34" fill="#d6456c"/>
<rect x="183.86" y="523.87" width="16.19" height="9.34" fill="#e85362"/>
<rect x="199.75" y="523.87" width="16.19" height="9.34" fill="#e24d66"/>
<rect x="215.64" y="523.87" width="16.19" height="9.34" fill="#de4968"/>
<rect x="231.52" y="523.87" width="16.19" height="9.34" fill="#e24d66"/>
<rect x="247.41" y="523.87" width="16.19" height="9.34" fill="#ef5d5e"/>
<rect x="263.30" y="523.87" width="16.19" height="9.34" fill="#f9795d"/>
<rect x="279.19" y="523.87" width="16.19" height="9.34" fill="#fb835f"/>
<rect x="295.07" y="523.87" width="16.19" height="9.34" fill="#fd9266"/>
<rect x="310.96" y="523.87" width="16.19" height="9.34" fill="#fe9f6d"/>
<rect x="326.85" y="523.87" width="16.19" height="9.34" fill="#fea973"/>
<rect x="342.73" y="523.87" width="16.19" height="9.34" fill="#feae77"/>
<rect x="358.62" y="523.87" width="16.19" height="9.34" fill="#fec68a"/>
<rect x="374.51" y="523.87" width="16.19" height="9.34" fill="#fcf0b2"/>
<rect x="390.40" y="523.87" width="16.19" height="9.34" fill="#fdebac"/>
<rect x="406.28" y="523.87" width="16.19" height="9.34" fill="#fecf92"/>
<rect x="422.17" y="523.87" width="16.19" height="9.34" fill="#fec185"/>
<rect x="438.06" y="523.87" width="16.19" height="9.34" fill="#feb47b"/>
<rect x="453.94" y="523.87" width="16.19" height="9.34" fill="#fe9f6d"/>
<rect x="469.83" y="523.87" width="16.19" height="9.34" fill="#fd9668"/>
<rect x="485.72" y="523.87" width="32.07" height="9.34" fill="#f8745c"/>
<rect x="517.49" y="523.87" width="16.19" height="9.34" fill="#f56b5c"/>
<rect x="533.38" y="523.87" width="32.07" height="9.34" fill="#f4675c"/>
<rect x="565.16" y="523.87" width="16.19" height="9.34" fill="#f7705c"/>
<rect x="581.04" y="523.87" width="32.07" height="9.34" fill="#ef5d5e"/>
<rect x="612.82" y="523.87" width="16.19" height="9.34" fill="#ed5a5f"/>
<rect x="628.70" y="523.87" width="47.96" height="9.34" fill="#ea5661"/>
<rect x="676.37" y="523.87" width="16.19" height="9.34" fill="#e24d66"/>
<rect x="692.25" y="523.87" width="32.07" height="9.34" fill="#cf4070"/>
<rect x="724.03" y="523.87" width="16.19" height="9.34" fill="#ca3e72"/>
<rect x="739.91" y="523.87" width="32.07" height="9.34" fill="#cf4070"/>
<rect x="771.69" y="523.87" width="16.19" height="9.34" fill="#d2426f"/>
<rect x="787.58" y="523.87" width="16.19" height="9.34" fill="#d6456c"/>
<rect x="803.46" y="523.87" width="16.19" height="9.34" fill="#cf4070"/>
<rect x="819.35" y="523.87" width="16.19" height="9.34" fill="#ca3e72"/>
<rect x="835.24" y="523.87" width="32.07" height="9.34" fill="#c73d73"/>
<rect x="867.01" y="523.87" width="16.19" height="9.34" fill="#ca3e72"/>
<rect x="136.20" y="532.91" width="16.19" height="9.34" fill="#de4968"/>
<rect x="152.09" y="532.91" width="32.07" height="9.34" fill="#e85362"/>
<rect x="183.86" y="532.91" width="16.19" height="9.34" fill="#f2625d"/>
<rect x="199.75" y="532.91" width="16.19" height="9.34" fill="#e44f64"/>
<rect x="215.64" y="532.91" width="32.07" height="9.34" fill="#de4968"/>
<rect x="247.41" y="532.91" width="16.19" height="9.34" fill="#f2625d"/>
<rect x="263.30" y="532.91" width="16.19" height="9.34" fill="#f9795d"/>
<rect x="279.19" y="532.91" width="16.19" height="9.34" fill="#fa7d5e"/>
<rect x="295.07" y="532.91" width="16.19" height="9.34" fill="#fd9266"/>
<rect x="310.96" y="532.91" width="32.07" height="9.34" fill="#fe9f6d"/>
<rect x="342.73" y="532.91" width="16.19" height="9.34" fill="#fea973"/>
<rect x="358.62" y="532.91" width="16.19" height="9.34" fill="#fec185"/>
<rect x="374.51" y="532.91" width="32.07" height="9.34" fill="#fcf0b2"/>
<rect x="406.28" y="532.91" width="16.19" height="9.34" fill="#fed89a"/>
<rect x="422.17" y="532.91" width="16.19" height="9.34" fill="#fec68a"/>
<rect x="438.06" y="532.91" width="16.19" height="9.34" fill="#feb77e"/>
<rect x="453.94" y="532.91" width="16.19" height="9.34" fill="#fea973"/>
<rect x="469.83" y="532.91" width="16.19" height="9.34" fill="#fe9f6d"/>
<rect x="485.72" y="532.91" width="16.19" height="9.34" fill="#fb835f"/>
<rect x="501.61" y="532.91" width="16.19" height="9.34" fill="#f9795d"/>
<rect x="517.49" y="532.91" width="16.19" height="9.34" fill="#f7705c"/>
<rect x="533.38" y="532.91" width="32.07" height="9.34" fill="#f56b5c"/>
<rect x="565.16" y="532.91" width="16.19" height="9.34" fill="#f8745c"/>
<rect x="581.04" y="532.91" width="16.19" height="9.34" fill="#f9795d"/>
<rect x="596.93" y="532.91" width="16.19" height="9.34" fill="#ef5d5e"/>
<rect x="612.82" y="532.91" width="16.19" height="9.34" fill="#ed5a5f"/>
<rect x="628.70" y="532.91" width="47.96" height="9.34" fill="#ea5661"/>
<rect x="676.37" y="532.91" width="16.19" height="9.34" fill="#e24d66"/>
<rect x="692.25" y="532.91" width="16.19" height="9.34" fill="#d2426f"/>
<rect x="708.14" y="532.91" width="16.19" height="9.34" fill="#e24d66"/>
<rect x="724.03" y="532.91" width="47.96" height="9.34" fill="#d6456c"/>
<rect x="771.69" y="532.91" width="16.19" height="9.34" fill="#e24d66"/>
<rect x="787.58" y="532.91" width="16.19" height="9.34" fill="#e44f64"/>
<rect x="803.46" y="532.91" width="16.19" height="9.34" fill="#de4968"/>
<rect x="819.35" y="532.91" width="16.19" height="9.34" fill="#d6456c"/>
<rect x="835.24" y="532.91" width="47.96" height="9.34" fill="#cf4070"/>
<rect x="136.20" y="541.94" width="16.19" height="9.34" fill="#de4968"/>
<rect x="152.09" y="541.94" width="32.07" height="9.34" fill="#e85362"/>
<rect x="183.86" y="541.94" width="16.19" height="9.34" fill="#ea5661"/>
<rect x="199.75" y="541.94" width="16.19" height="9.34" fill="#ed5a5f"/>
<rect x="215.64" y="541.94" width="16.19" height="9.34" fill="#e24d66"/>
<rect x="231.52" y="541.94" width="16.19" height="9.34" fill="#ca3e72"/>
<rect x="247.41" y="541.94" width="16.19" height="9.34" fill="#d6456c"/>
<rect x="263.30" y="541.94" width="16.19" height="9.34" fill="#f56b5c"/>
<rect x="279.19" y="541.94" width="16.19" height="9.34" fill="#f9795d"/>
<rect x="295.07" y="541.94" width="32.07" height="9.34" fill="#fd9b6b"/>
<rect x="326.85" y="541.94" width="16.19" height="9.34" fill="#fc8c63"/>
<rect x="342.73" y="541.94" width="16.19" height="9.34" fill="#fe9f6d"/>
<rect x="358.62" y="541.94" width="16.19" height="9.34" fill="#febd82"/>
<rect x="374.51" y="541.94" width="16.19" height="9.34" fill="#fcf0b2"/>
<rect x="390.40" y="541.94" width="16.19" height="9.34" fill="#fcf9bb"/>
<rect x="406.28" y="541.94" width="16.19" height="9.34" fill="#fddea0"/>
<rect x="422.17" y="541.94" width="16.19" height="9.34" fill="#feca8d"/>
<rect x="438.06" y="541.94" width="16.19" height="9.34" fill="#febd82"/>
<rect x="453.94" y="541.94" width="16.19" height="9.34" fill="#fea973"/>
<rect x="469.83" y="541.94" width="16.19" height="9.34" fill="#fe9f6d"/>
<rect x="485.72" y="541.94" width="16.19" height="9.34" fill="#fc8c63"/>
<rect x="501.61" y="541.94" width="16.19" height="9.34" fill="#fc8961"/>
<rect x="517.49" y="541.94" width="32.07" height="9.34" fill="#f9795d"/>
<rect x="549.27" y="541.94" width="16.19" height="9.34" fill="#f7705c"/>
<rect x="565.16" y="541.94" width="16.19" height="9.34" fill="#f9795d"/>
<rect x="581.04" y="541.94" width="16.19" height="9.34" fill="#f56b5c"/>
<rect x="596.93" y="541.94" width="16.19" height="9.34" fill="#f2625d"/>
<rect x="612.82" y="541.94" width="16.19" height="9.34" fill="#ef5d5e"/>
<rect x="628.70" y="541.94" width="16.19" height="9.34" fill="#ed5a5f"/>
<rect x="644.59" y="541.94" width="16.19" height="9.34" fill="#f56b5c"/>
<rect x="660.48" y="541.94" width="16.19" height="9.34" fill="#f2625d"/>
<rect x="676.37" y="541.94" width="16.19" height="9.34" fill="#ea5661"/>
<rect x="692.25" y="541.94" width="16.19" height="9.34" fill="#e24d66"/>
<rect x="708.14" y="541.94" width="16.19" height="9.34" fill="#e85362"/>
<rect x="724.03" y="541.94" width="16.19" height="9.34" fill="#e44f64"/>
<rect x="739.91" y="541.94" width="16.19" height="9.34" fill="#d6456c"/>
<rect x="755.80" y="541.94" width="16.19" height="9.34" fill="#e24d66"/>
<rect x="771.69" y="541.94" width="47.96" height="9.34" fill="#e44f64"/>
<rect x="819.35" y="541.94" width="16.19" height="9.34" fill="#d6456c"/>
<rect x="835.24" y="541.94" width="47.96" height="9.34" fill="#d2426f"/>
<rect x="136.20" y="550.98" width="16.19" height="9.34" fill="#d2426f"/>
<rect x="152.09" y="550.98" width="32.07" height="9.34" fill="#db476a"/>
<rect x="183.86" y="550.98" width="16.19" height="9.34" fill="#e44f64"/>
<rect x="199.75" y="550.98" width="32.07" height="9.34" fill="#e24d66"/>
<rect x="231.52" y="550.98" width="16.19" height="9.34" fill="#db476a"/>
<rect x="247.41" y="550.98" width="16.19" height="9.34" fill="#e44f64"/>
<rect x="263.30" y="550.98" width="16.19" height="9.34" fill="#ed5a5f"/>
<rect x="279.19" y="550.98" width="16.19" height="9.34" fill="#ef5d5e"/>
<rect x="295.07" y="550.98" width="16.19" height="9.34" fill="#f9795d"/>
<rect x="310.96" y="550.98" width="16.19" height="9.34" fill="#fc8c63"/>
<rect x="326.85" y="550.98" width="16.19" height="9.34" fill="#fc8961"/>
<rect x="342.73" y="550.98" width="16.19" height="9.34" fill="#fd9668"/>
<rect x="358.62" y="550.98" width="16.19" height="9.34" fill="#febd82"/>
<rect x="374.51" y="550.98" width="16.19" height="9.34" fill="#fcf4b6"/>
<rect x="390.40" y="550.98" width="16.19" height="9.34" fill="#fcfdbf"/>
<rect x="406.28" y="550.98" width="16.19" height="9.34" fill="#fed89a"/>
<rect x="422.17" y="550.98" width="16.19" height="9.34" fill="#feca8d"/>
<rect x="438.06" y="550.98" width="16.19" height="9.34" fill="#feb47b"/>
<rect x="453.94" y="550.98" width="16.19" height="9.34" fill="#feae77"/>
<rect x="469.83" y="550.98" width="16.19" height="9.34" fill="#fea973"/>
<rect x="485.72" y="550.98" width="16.19" height="9.34" fill="#fc8c63"/>
<rect x="501.61" y="550.98" width="16.19" height="9.34" fill="#fb835f"/>
<rect x="517.49" y="550.98" width="16.19" height="9.34" fill="#f56b5c"/>
<rect x="533.38" y="550.98" width="16.19" height="9.34" fill="#f7705c"/>
<rect x="549.27" y="550.98" width="16.19" height="9.34" fill="#f8745c"/>
<rect x="565.16" y="550.98" width="16.19" height="9.34" fill="#fa7d5e"/>
<rect x="581.04" y="550.98" width="32.07" height="9.34" fill="#f9795d"/>
<rect x="612.82" y="550.98" width="16.19" height="9.34" fill="#f8745c"/>
<rect x="628.70" y="550.98" width="16.19" height="9.34" fill="#f9795d"/>
<rect x="644.59" y="550.98" width="16.19" height="9.34" fill="#fc8c63"/>
<rect x="660.48" y="550.98" width="16.19" height="9.34" fill="#fa7d5e"/>
<rect x="676.37" y="550.98" width="16.19" height="9.34" fill="#f8745c"/>
<rect x="692.25" y="550.98" width="32.07" height="9.34" fill="#ea5661"/>
<rect x="724.03" y="550.98" width="32.07" height="9.34" fill="#e24d66"/>
<rect x="755.80" y="550.98" width="16.19" height="9.34" fill="#de4968"/>
<rect x="771.69" y="550.98" width="63.85" height="9.34" fill="#e44f64"/>
<rect x="835.24" y="550.98" width="16.19" height="9.34" fill="#d2426f"/>
<rect x="851.13" y="550.98" width="16.19" height="9.34" fill="#cf4070"/>
<rect x="867.01" y="550.98" width="16.19" height="9.34" fill="#ca3e72"/>
<rect x="136.20" y="560.01" width="16.19" height="9.34" fill="#bf3a77"/>
<rect x="152.09" y="560.01" width="32.07" height="9.34" fill="#c73d73"/>
<rect x="183.86" y="560.01" width="16.19" height="9.34" fill="#ca3e72"/>
<rect x="199.75" y="560.01" width="16.19" height="9.34" fill="#c23b75"/>
<rect x="215.64" y="560.01" width="16.19" height="9.34" fill="#cf4070"/>
<rect x="231.52" y="560.01" width="16.19" height="9.34" fill="#d6456c"/>
<rect x="247.41" y="560.01" width="16.19" height="9.34" fill="#e24d66"/>
<rect x="263.30" y="560.01" width="32.07" height="9.34" fill="#ea5661"/>
<rect x="295.07" y="560.01" width="16.19" height="9.34" fill="#ed5a5f"/>
<rect x="310.96" y="560.01" width="16.19" height="9.34" fill="#f8745c"/>
<rect x="326.85" y="560.01" width="16.19" height="9.34" fill="#fc8961"/>
<rect x="342.73" y="560.01" width="16.19" height="9.34" fill="#fd9266"/>
<rect x="358.62" y="560.01" width="16.19" height="9.34" fill="#feb77e"/>
<rect x="374.51" y="560.01" width="16.19" height="9.34" fill="#fde7a9"/>
<rect x="390.40" y="560.01" width="16.19" height="9.34" fill="#fcf9bb"/>
<rect x="406.28" y="560.01" width="16.19" height="9.34" fill="#fed395"/>
<rect x="422.17" y="560.01" width="16.19" height="9.34" fill="#fecf92"/>
<rect x="438.06" y="560.01" width="16.19" height="9.34" fill="#feca8d"/>
<rect x="453.94" y="560.01" width="16.19" height="9.34" fill="#feb47b"/>
<rect x="469.83" y="560.01" width="16.19" height="9.34" fill="#fd9266"/>
<rect x="485.72" y="560.01" width="16.19" height="9.34" fill="#fc8961"/>
<rect x="501.61" y="560.01" width="16.19" height="9.34" fill="#fc8c63"/>
<rect x="517.49" y="560.01" width="16.19" height="9.34" fill="#fb835f"/>
<rect x="533.38" y="560.01" width="16.19" height="9.34" fill="#fa7d5e"/>
<rect x="549.27" y="560.01" width="16.19" height="9.34" fill="#fc8c63"/>
<rect x="565.16" y="560.01" width="32.07" height="9.34" fill="#fd9266"/>
<rect x="596.93" y="560.01" width="16.19" height="9.34" fill="#fc8c63"/>
<rect x="612.82" y="560.01" width="32.07" height="9.34" fill="#fa7d5e"/>
<rect x="644.59" y="560.01" width="16.19" height="9.34" fill="#fc8961"/>
<rect x="660.48" y="560.01" width="16.19" height="9.34" fill="#f9795d"/>
<rect x="676.37" y="560.01" width="16.19" height="9.34" fill="#f7705c"/>
<rect x="692.25" y="560.01" width="16.19" height="9.34" fill="#e85362"/>
<rect x="708.14" y="560.01" width="16.19" height="9.34" fill="#cf4070"/>
<rect x="724.03" y="560.01" width="32.07" height="9.34" fill="#ca3e72"/>
<rect x="755.80" y="560.01" width="16.19" height="9.34" fill="#cf4070"/>
<rect x="771.69" y="560.01" width="16.19" height="9.34" fill="#d2426f"/>
<rect x="787.58" y="560.01" width="16.19" height="9.34" fill="#cf4070"/>
<rect x="803.46" y="560.01" width="32.07" height="9.34" fill="#ca3e72"/>
<rect x="835.24" y="560.01" width="16.19" height="9.34" fill="#ba3878"/>
<rect x="851.13" y="560.01" width="16.19" height="9.34" fill="#b73779"/>
<rect x="867.01" y="560.01" width="16.19" height="9.34" fill="#ad347c"/>
<rect x="136.20" y="569.05" width="32.07" height="9.34" fill="#b73779"/>
<rect x="167.97" y="569.05" width="16.19" height="9.34" fill="#ba3878"/>
<rect x="183.86" y="569.05" width="16.19" height="9.34" fill="#bf3a77"/>
<rect x="199.75" y="569.05" width="16.19" height="9.34" fill="#b2357b"/>
<rect x="215.64" y="569.05" width="16.19" height="9.34" fill="#d2426f"/>
<rect x="231.52" y="569.05" width="16.19" height="9.34" fill="#d6456c"/>
<rect x="247.41" y="569.05" width="16.19" height="9.34" fill="#db476a"/>
<rect x="263.30" y="569.05" width="16.19" height="9.34" fill="#ea5661"/>
<rect x="279.19" y="569.05" width="16.19" height="9.34" fill="#f56b5c"/>
<rect x="295.07" y="569.05" width="16.19" height="9.34" fill="#f7705c"/>
<rect x="310.96" y="569.05" width="16.19" height="9.34" fill="#f8745c"/>
<rect x="326.85" y="569.05" width="16.19" height="9.34" fill="#fa7d5e"/>
<rect x="342.73" y="569.05" width="16.19" height="9.34" fill="#fd9b6b"/>
<rect x="358.62" y="569.05" width="16.19" height="9.34" fill="#fea571"/>
<rect x="374.51" y="569.05" width="16.19" height="9.34" fill="#fcf4b6"/>
<rect x="390.40" y="569.05" width="16.19" height="9.34" fill="#fde7a9"/>
<rect x="406.28" y="569.05" width="32.07" height="9.34" fill="#fed395"/>
<rect x="438.06" y="569.05" width="16.19" height="9.34" fill="#feae77"/>
<rect x="453.94" y="569.05" width="16.19" height="9.34" fill="#feb47b"/>
<rect x="469.83" y="569.05" width="16.19" height="9.34" fill="#feb77e"/>
<rect x="485.72" y="569.05" width="16.19" height="9.34" fill="#fd9b6b"/>
<rect x="501.61" y="569.05" width="16.19" height="9.34" fill="#fe9f6d"/>
<rect x="517.49" y="569.05" width="16.19" height="9.34" fill="#fd9266"/>
<rect x="533.38" y="569.05" width="16.19" height="9.34" fill="#fb835f"/>
<rect x="549.27" y="569.05" width="47.96" height="9.34" fill="#fd9266"/>
<rect x="596.93" y="569.05" width="16.19" height="9.34" fill="#fa7d5e"/>
<rect x="612.82" y="569.05" width="16.19" height="9.34" fill="#f9795d"/>
<rect x="628.70" y="569.05" width="16.19" height="9.34" fill="#f8745c"/>
<rect x="644.59" y="569.05" width="16.19" height="9.34" fill="#fa7d5e"/>
<rect x="660.48" y="569.05" width="16.19" height="9.34" fill="#f8745c"/>
<rect x="676.37" y="569.05" width="16.19" height="9.34" fill="#f4675c"/>
<rect x="692.25" y="569.05" width="16.19" height="9.34" fill="#de4968"/>
<rect x="708.14" y="569.05" width="16.19" height="9.34" fill="#d2426f"/>
<rect x="724.03" y="569.05" width="32.07" height="9.34" fill="#ca3e72"/>
<rect x="755.80" y="569.05" width="63.85" height="9.34" fill="#cf4070"/>
<rect x="819.35" y="569.05" width="16.19" height="9.34" fill="#c73d73"/>
<rect x="835.24" y="569.05" width="16.19" height="9.34" fill="#bf3a77"/>
<rect x="851.13" y="569.05" width="16.19" height="9.34" fill="#b73779"/>
<rect x="867.01" y="569.05" width="16.19" height="9.34" fill="#b2357b"/>
<rect x="136.20" y="578.09" width="16.19" height="9.34" fill="#aa337d"/>
<rect x="152.09" y="578.09" width="32.07" height="9.34" fill="#ad347c"/>
<rect x="183.86" y="578.09" width="16.19" height="9.34" fill="#b73779"/>
<rect x="199.75" y="578.09" width="16.19" height="9.34" fill="#ba3878"/>
<rect x="215.64" y="578.09" width="16.19" height="9.34" fill="#c73d73"/>
<rect x="231.52" y="578.09" width="16.19" height="9.34" fill="#ca3e72"/>
<rect x="247.41" y="578.09" width="16.19" height="9.34" fill="#cf4070"/>
<rect x="263.30" y="578.09" width="16.19" height="9.34" fill="#e44f64"/>
<rect x="279.19" y="578.09" width="16.19" height="9.34" fill="#f4675c"/>
<rect x="295.07" y="578.09" width="16.19" height="9.34" fill="#f56b5c"/>
<rect x="310.96" y="578.09" width="16.19" height="9.34" fill="#fb835f"/>
<rect x="326.85" y="578.09" width="16.19" height="9.34" fill="#f8745c"/>
<rect x="342.73" y="578.09" width="16.19" height="9.34" fill="#fd9b6b"/>
<rect x="358.62" y="578.09" width="16.19" height="9.34" fill="#fea571"/>
<rect x="374.51" y="578.09" width="16.19" height="9.34" fill="#fdebac"/>
<rect x="390.40" y="578.09" width="16.19" height="9.34" fill="#fcfdbf"/>
<rect x="406.28" y="578.09" width="16.19" height="9.34" fill="#fed395"/>
<rect x="422.17" y="578.09" width="16.19" height="9.34" fill="#fec185"/>
<rect x="438.06" y="578.09" width="32.07" height="9.34" fill="#fecf92"/>
<rect x="469.83" y="578.09" width="16.19" height="9.34" fill="#febd82"/>
<rect x="485.72" y="578.09" width="16.19" height="9.34" fill="#fea571"/>
<rect x="501.61" y="578.09" width="16.19" height="9.34" fill="#fd9b6b"/>
<rect x="517.49" y="578.09" width="16.19" height="9.34" fill="#fc8c63"/>
<rect x="533.38" y="578.09" width="32.07" height="9.34" fill="#f8745c"/>
<rect x="565.16" y="578.09" width="32.07" height="9.34" fill="#f7705c"/>
<rect x="596.93" y="578.09" width="16.19" height="9.34" fill="#ef5d5e"/>
<rect x="612.82" y="578.09" width="32.07" height="9.34" fill="#ed5a5f"/>
<rect x="644.59" y="578.09" width="16.19" height="9.34" fill="#ea5661"/>
<rect x="660.48" y="578.09" width="32.07" height="9.34" fill="#e85362"/>
<rect x="692.25" y="578.09" width="16.19" height="9.34" fill="#d2426f"/>
<rect x="708.14" y="578.09" width="16.19" height="9.34" fill="#c73d73"/>
<rect x="724.03" y="578.09" width="16.19" height="9.34" fill="#bf3a77"/>
<rect x="739.91" y="578.09" width="16.19" height="9.34" fill="#c23b75"/>
<rect x="755.80" y="578.09" width="16.19" height="9.34" fill="#bf3a77"/>
<rect x="771.69" y="578.09" width="32.07" height="9.34" fill="#c23b75"/>
<rect x="803.46" y="578.09" width="16.19" height="9.34" fill="#c73d73"/>
<rect x="819.35" y="578.09" width="16.19" height="9.34" fill="#ad347c"/>
<rect x="835.24" y="578.09" width="16.19" height="9.34" fill="#b73779"/>
<rect x="851.13" y="578.09" width="16.19" height="9.34" fill="#a5317e"/>
<rect x="867.01" y="578.09" width="16.19" height="9.34" fill="#aa337d"/>
<rect x="136.20" y="587.12" width="16.19" height="9.34" fill="#b73779"/>
<rect x="152.09" y="587.12" width="16.19" height="9.34" fill="#aa337d"/>
<rect x="167.97" y="587.12" width="16.19" height="9.34" fill="#ad347c"/>
<rect x="183.86" y="587.12" width="16.19" height="9.34" fill="#a5317e"/>
<rect x="199.75" y="587.12" width="32.07" height="9.34" fill="#b2357b"/>
<rect x="231.52" y="587.12" width="16.19" height="9.34" fill="#b73779"/>
<rect x="247.41" y="587.12" width="16.19" height="9.34" fill="#ba3878"/>
<rect x="263.30" y="587.12" width="16.19" height="9.34" fill="#c23b75"/>
<rect x="279.19" y="587.12" width="16.19" height="9.34" fill="#cf4070"/>
<rect x="295.07" y="587.12" width="16.19" height="9.34" fill="#e85362"/>
<rect x="310.96" y="587.12" width="32.07" height="9.34" fill="#fa7d5e"/>
<rect x="342.73" y="587.12" width="16.19" height="9.34" fill="#f8745c"/>
<rect x="358.62" y="587.12" width="16.19" height="9.34" fill="#fea973"/>
<rect x="374.51" y="587.12" width="16.19" height="9.34" fill="#fddea0"/>
<rect x="390.40" y="587.12" width="16.19" height="9.34" fill="#fde2a3"/>
<rect x="406.28" y="587.12" width="16.19" height="9.34" fill="#fed395"/>
<rect x="422.17" y="587.12" width="16.19" height="9.34" fill="#fddea0"/>
<rect x="438.06" y="587.12" width="16.19" height="9.34" fill="#fed395"/>
<rect x="453.94" y="587.12" width="16.19" height="9.34" fill="#febd82"/>
<rect x="469.83" y="587.12" width="16.19" height="9.34" fill="#feb77e"/>
<rect x="485.72" y="587.12" width="16.19" height="9.34" fill="#fd9b6b"/>
<rect x="501.61" y="587.12" width="16.19" height="9.34" fill="#fc8961"/>
<rect x="517.49" y="587.12" width="16.19" height="9.34" fill="#f7705c"/>
<rect x="533.38" y="587.12" width="32.07" height="9.34" fill="#f2625d"/>
<rect x="565.16" y="587.12" width="16.19" height="9.34" fill="#ed5a5f"/>
<rect x="581.04" y="587.12" width="16.19" height="9.34" fill="#ea5661"/>
<rect x="596.93" y="587.12" width="32.07" height="9.34" fill="#e85362"/>
<rect x="628.70" y="587.12" width="16.19" height="9.34" fill="#e24d66"/>
<rect x="644.59" y="587.12" width="16.19" height="9.34" fill="#de4968"/>
<rect x="660.48" y="587.12" width="32.07" height="9.34" fill="#d6456c"/>
<rect x="692.25" y="587.12" width="16.19" height="9.34" fill="#ca3e72"/>
<rect x="708.14" y="587.12" width="16.19" height="9.34" fill="#c23b75"/>
<rect x="724.03" y="587.12" width="16.19" height="9.34" fill="#ca3e72"/>
<rect x="739.91" y="587.12" width="16.19" height="9.34" fill="#c73d73"/>
<rect x="755.80" y="587.12" width="47.96" height="9.34" fill="#c23b75"/>
<rect x="803.46" y="587.12" width="32.07" height="9.34" fill="#b73779"/>
<rect x="835.24" y="587.12" width="32.07" height="9.34" fill="#ba3878"/>
<rect x="867.01" y="587.12" width="16.19" height="9.34" fill="#ad347c"/>
<rect x="136.20" y="596.16" width="32.07" height="9.34" fill="#ba3878"/>
<rect x="167.97" y="596.16" width="16.19" height="9.34" fill="#b2357b"/>
<rect x="183.86" y="596.16" width="32.07" height="9.34" fill="#ad347c"/>
<rect x="215.64" y="596.16" width="16.19" height="9.34" fill="#aa337d"/>
<rect x="231.52" y="596.16" width="16.19" height="9.34" fill="#b73779"/>
<rect x="247.41" y="596.16" width="16.19" height="9.34" fill="#ba3878"/>
<rect x="263.30" y="596.16" width="16.19" height="9.34" fill="#b73779"/>
<rect x="279.19" y="596.16" width="16.19" height="9.34" fill="#c23b75"/>
<rect x="295.07" y="596.16" width="16.19" height="9.34" fill="#c73d73"/>
<rect x="310.96" y="596.16" width="16.19" height="9.34" fill="#ea5661"/>
<rect x="326.85" y="596.16" width="16.19" height="9.34" fill="#fa7d5e"/>
<rect x="342.73" y="596.16" width="16.19" height="9.34" fill="#fc8c63"/>
<rect x="358.62" y="596.16" width="16.19" height="9.34" fill="#fa7d5e"/>
<rect x="374.51" y="596.16" width="16.19" height="9.34" fill="#feae77"/>
<rect x="390.40" y="596.16" width="16.19" height="9.34" fill="#fddea0"/>
<rect x="406.28" y="596.16" width="16.19" height="9.34" fill="#fde2a3"/>
<rect x="422.17" y="596.16" width="16.19" height="9.34" fill="#fddea0"/>
<rect x="438.06" y="596.16" width="16.19" height="9.34" fill="#febd82"/>
<rect x="453.94" y="596.16" width="16.19" height="9.34" fill="#feae77"/>
<rect x="469.83" y="596.16" width="16.19" height="9.34" fill="#fd9266"/>
<rect x="485.72" y="596.16" width="16.19" height="9.34" fill="#f8745c"/>
<rect x="501.61" y="596.16" width="16.19" height="9.34" fill="#ef5d5e"/>
<rect x="517.49" y="596.16" width="16.19" height="9.34" fill="#ea5661"/>
<rect x="533.38" y="596.16" width="32.07" height="9.34" fill="#db476a"/>
<rect x="565.16" y="596.16" width="16.19" height="9.34" fill="#ea5661"/>
<rect x="581.04" y="596.16" width="63.85" height="9.34" fill="#e85362"/>
<rect x="644.59" y="596.16" width="32.07" height="9.34" fill="#e44f64"/>
<rect x="676.37" y="596.16" width="16.19" height="9.34" fill="#d2426f"/>
<rect x="692.25" y="596.16" width="16.19" height="9.34" fill="#de4968"/>
<rect x="708.14" y="596.16" width="16.19" height="9.34" fill="#d2426f"/>
<rect x="724.03" y="596.16" width="32.07" height="9.34" fill="#c23b75"/>
<rect x="755.80" y="596.16" width="16.19" height="9.34" fill="#cf4070"/>
<rect x="771.69" y="596.16" width="16.19" height="9.34" fill="#ca3e72"/>
<rect x="787.58" y="596.16" width="32.07" height="9.34" fill="#bf3a77"/>
<rect x="819.35" y="596.16" width="16.19" height="9.34" fill="#c23b75"/>
<rect x="835.24" y="596.16" width="16.19" height="9.34" fill="#b73779"/>
<rect x="851.13" y="596.16" width="16.19" height="9.34" fill="#bf3a77"/>
<rect x="867.01" y="596.16" width="16.19" height="9.34" fill="#b73779"/>
<rect x="136.20" y="605.19" width="16.19" height="9.34" fill="#c73d73"/>
<rect x="152.09" y="605.19" width="32.07" height="9.34" fill="#cf4070"/>
<rect x="183.86" y="605.19" width="16.19" height="9.34" fill="#c73d73"/>
<rect x="199.75" y="605.19" width="16.19" height="9.34" fill="#bf3a77"/>
<rect x="215.64" y="605.19" width="16.19" height="9.34" fill="#ad347c"/>
<rect x="231.52" y="605.19" width="16.19" height="9.34" fill="#b73779"/>
<rect x="247.41" y="605.19" width="16.19" height="9.34" fill="#ba3878"/>
<rect x="263.30" y="605.19" width="16.19" height="9.34" fill="#bf3a77"/>
<rect x="279.19" y="605.19" width="16.19" height="9.34" fill="#d2426f"/>
<rect x="295.07" y="605.19" width="16.19" height="9.34" fill="#ca3e72"/>
<rect x="310.96" y="605.19" width="16.19" height="9.34" fill="#de4968"/>
<rect x="326.85" y="605.19" width="16.19" height="9.34" fill="#f2625d"/>
<rect x="342.73" y="605.19" width="16.19" height="9.34" fill="#fc8961"/>
<rect x="358.62" y="605.19" width="16.19" height="9.34" fill="#fd9668"/>
<rect x="374.51" y="605.19" width="16.19" height="9.34" fill="#fec185"/>
<rect x="390.40" y="605.19" width="16.19" height="9.34" fill="#fdebac"/>
<rect x="406.28" y="605.19" width="16.19" height="9.34" fill="#fddea0"/>
<rect x="422.17" y="605.19" width="16.19" height="9.34" fill="#febd82"/>
<rect x="438.06" y="605.19" width="16.19" height="9.34" fill="#fd9b6b"/>
<rect x="453.94" y="605.19" width="16.19" height="9.34" fill="#fb835f"/>
<rect x="469.83" y="605.19" width="16.19" height="9.34" fill="#f4675c"/>
<rect x="485.72" y="605.19" width="16.19" height="9.34" fill="#ef5d5e"/>
<rect x="501.61" y="605.19" width="16.19" height="9.34" fill="#e44f64"/>
<rect x="517.49" y="605.19" width="95.62" height="9.34" fill="#ef5d5e"/>
<rect x="612.82" y="605.19" width="16.19" height="9.34" fill="#ed5a5f"/>
<rect x="628.70" y="605.19" width="16.19" height="9.34" fill="#f2625d"/>
<rect x="644.59" y="605.19" width="32.07" height="9.34" fill="#ea5661"/>
<rect x="676.37" y="605.19" width="16.19" height="9.34" fill="#e44f64"/>
<rect x="692.25" y="605.19" width="32.07" height="9.34" fill="#d6456c"/>
<rect x="724.03" y="605.19" width="32.07" height="9.34" fill="#d2426f"/>
<rect x="755.80" y="605.19" width="16.19" height="9.34" fill="#d6456c"/>
<rect x="771.69" y="605.19" width="16.19" height="9.34" fill="#d2426f"/>
<rect x="787.58" y="605.19" width="16.19" height="9.34" fill="#db476a"/>
<rect x="803.46" y="605.19" width="16.19" height="9.34" fill="#d2426f"/>
<rect x="819.35" y="605.19" width="16.19" height="9.34" fill="#ca3e72"/>
<rect x="835.24" y="605.19" width="16.19" height="9.34" fill="#c23b75"/>
<rect x="851.13" y="605.19" width="32.07" height="9.34" fill="#c73d73"/>
<rect x="136.20" y="614.23" width="16.19" height="9.34" fill="#ca3e72"/>
<rect x="152.09" y="614.23" width="16.19" height="9.34" fill="#d6456c"/>
<rect x="167.97" y="614.23" width="16.19" height="9.34" fill="#db476a"/>
<rect x="183.86" y="614.23" width="32.07" height="9.34" fill="#c73d73"/>
<rect x="215.64" y="614.23" width="47.96" height="9.34" fill="#ba3878"/>
<rect x="263.30" y="614.23" width="16.19" height="9.34" fill="#c23b75"/>
<rect x="279.19" y="614.23" width="16.19" height="9.34" fill="#cf4070"/>
<rect x="295.07" y="614.23" width="16.19" height="9.34" fill="#d2426f"/>
<rect x="310.96" y="614.23" width="32.07" height="9.34" fill="#d6456c"/>
<rect x="342.73" y="614.23" width="16.19" height="9.34" fill="#f4675c"/>
<rect x="358.62" y="614.23" width="16.19" height="9.34" fill="#fd9668"/>
<rect x="374.51" y="614.23" width="16.19" height="9.34" fill="#fec68a"/>
<rect x="390.40" y="614.23" width="16.19" height="9.34" fill="#fed89a"/>
<rect x="406.28" y="614.23" width="16.19" height="9.34" fill="#fec185"/>
<rect x="422.17" y="614.23" width="16.19" height="9.34" fill="#fe9f6d"/>
<rect x="438.06" y="614.23" width="16.19" height="9.34" fill="#f9795d"/>
<rect x="453.94" y="614.23" width="16.19" height="9.34" fill="#f8745c"/>
<rect x="469.83" y="614.23" width="16.19" height="9.34" fill="#fb835f"/>
<rect x="485.72" y="614.23" width="16.19" height="9.34" fill="#ef5d5e"/>
<rect x="501.61" y="614.23" width="16.19" height="9.34" fill="#ed5a5f"/>
<rect x="517.49" y="614.23" width="32.07" height="9.34" fill="#ef5d5e"/>
<rect x="549.27" y="614.23" width="32.07" height="9.34" fill="#f2625d"/>
<rect x="581.04" y="614.23" width="32.07" height="9.34" fill="#ef5d5e"/>
<rect x="612.82" y="614.23" width="16.19" height="9.34" fill="#f2625d"/>
<rect x="628.70" y="614.23" width="16.19" height="9.34" fill="#ef5d5e"/>
<rect x="644.59" y="614.23" width="16.19" height="9.34" fill="#e85362"/>
<rect x="660.48" y="614.23" width="63.85" height="9.34" fill="#e44f64"/>
<rect x="724.03" y="614.23" width="32.07" height="9.34" fill="#de4968"/>
<rect x="755.80" y="614.23" width="32.07" height="9.34" fill="#d6456c"/>
<rect x="787.58" y="614.23" width="16.19" height="9.34" fill="#de4968"/>
<rect x="803.46" y="614.23" width="16.19" height="9.34" fill="#d6456c"/>
<rect x="819.35" y="614.23" width="32.07" height="9.34" fill="#d2426f"/>
<rect x="851.13" y="614.23" width="16.19" height="9.34" fill="#ca3e72"/>
<rect x="867.01" y="614.23" width="16.19" height="9.34" fill="#d6456c"/>
<rect x="136.20" y="623.27" width="16.19" height="9.34" fill="#d6456c"/>
<rect x="152.09" y="623.27" width="32.07" height="9.34" fill="#db476a"/>
<rect x="183.86" y="623.27" width="16.19" height="9.34" fill="#bf3a77"/>
<rect x="199.75" y="623.27" width="16.19" height="9.34" fill="#ca3e72"/>
<rect x="215.64" y="623.27" width="47.96" height="9.34" fill="#c73d73"/>
<rect x="263.30" y="623.27" width="16.19" height="9.34" fill="#bf3a77"/>
<rect x="279.19" y="623.27" width="16.19" height="9.34" fill="#ca3e72"/>
<rect x="295.07" y="623.27" width="16.19" height="9.34" fill="#d2426f"/>
<rect x="310.96" y="623.27" width="16.19" height="9.34" fill="#e44f64"/>
<rect x="326.85" y="623.27" width="16.19" height="9.34" fill="#cf4070"/>
<rect x="342.73" y="623.27" width="16.19" height="9.34" fill="#db476a"/>
<rect x="358.62" y="623.27" width="16.19" height="9.34" fill="#f9795d"/>
<rect x="374.51" y="623.27" width="16.19" height="9.34" fill="#fd9b6b"/>
<rect x="390.40" y="623.27" width="16.19" height="9.34" fill="#feae77"/>
<rect x="406.28" y="623.27" width="16.19" height="9.34" fill="#fd9b6b"/>
<rect x="422.17" y="623.27" width="16.19" height="9.34" fill="#fc8961"/>
<rect x="438.06" y="623.27" width="32.07" height="9.34" fill="#fb835f"/>
<rect x="469.83" y="623.27" width="16.19" height="9.34" fill="#fc8961"/>
<rect x="485.72" y="623.27" width="32.07" height="9.34" fill="#f8745c"/>
<rect x="517.49" y="623.27" width="16.19" height="9.34" fill="#f9795d"/>
<rect x="533.38" y="623.27" width="16.19" height="9.34" fill="#f56b5c"/>
<rect x="549.27" y="623.27" width="32.07" height="9.34" fill="#f2625d"/>
<rect x="581.04" y="623.27" width="16.19" height="9.34" fill="#f7705c"/>
<rect x="596.93" y="623.27" width="47.96" height="9.34" fill="#f56b5c"/>
<rect x="644.59" y="623.27" width="32.07" height="9.34" fill="#e85362"/>
<rect x="676.37" y="623.27" width="16.19" height="9.34" fill="#e44f64"/>
<rect x="692.25" y="623.27" width="16.19" height="9.34" fill="#e24d66"/>
<rect x="708.14" y="623.27" width="16.19" height="9.34" fill="#e85362"/>
<rect x="724.03" y="623.27" width="16.19" height="9.34" fill="#de4968"/>
<rect x="739.91" y="623.27" width="16.19" height="9.34" fill="#e24d66"/>
<rect x="755.80" y="623.27" width="47.96" height="9.34" fill="#db476a"/>
<rect x="803.46" y="623.27" width="16.19" height="9.34" fill="#d6456c"/>
<rect x="819.35" y="623.27" width="47.96" height="9.34" fill="#cf4070"/>
<rect x="867.01" y="623.27" width="16.19" height="9.34" fill="#c23b75"/>
<rect x="136.20" y="632.30" width="16.19" height="9.34" fill="#d6456c"/>
<rect x="152.09" y="632.30" width="32.07" height="9.34" fill="#d2426f"/>
<rect x="183.86" y="632.30" width="16.19" height="9.34" fill="#ca3e72"/>
<rect x="199.75" y="632.30" width="16.19" height="9.34" fill="#c23b75"/>
<rect x="215.64" y="632.30" width="16.19" height="9.34" fill="#c73d73"/>
<rect x="231.52" y="632.30" width="16.19" height="9.34" fill="#ca3e72"/>
<rect x="247.41" y="632.30" width="16.19" height="9.34" fill="#cf4070"/>
<rect x="263.30" y="632.30" width="16.19" height="9.34" fill="#c73d73"/>
<rect x="279.19" y="632.30" width="16.19" height="9.34" fill="#bf3a77"/>
<rect x="295.07" y="632.30" width="16.19" height="9.34" fill="#d2426f"/>
<rect x="310.96" y="632.30" width="32.07" height="9.34" fill="#de4968"/>
<rect x="342.73" y="632.30" width="16.19" height="9.34" fill="#d2426f"/>
<rect x="358.62" y="632.30" width="16.19" height="9.34" fill="#ea5661"/>
<rect x="374.51" y="632.30" width="32.07" height="9.34" fill="#f9795d"/>
<rect x="406.28" y="632.30" width="32.07" height="9.34" fill="#fd9266"/>
<rect x="438.06" y="632.30" width="32.07" height="9.34" fill="#fd9668"/>
<rect x="469.83" y="632.30" width="16.19" height="9.34" fill="#fb835f"/>
<rect x="485.72" y="632.30" width="16.19" height="9.34" fill="#fd9668"/>
<rect x="501.61" y="632.30" width="16.19" height="9.34" fill="#f9795d"/>
<rect x="517.49" y="632.30" width="16.19" height="9.34" fill="#fa7d5e"/>
<rect x="533.38" y="632.30" width="16.19" height="9.34" fill="#f9795d"/>
<rect x="549.27" y="632.30" width="16.19" height="9.34" fill="#f56b5c"/>
<rect x="565.16" y="632.30" width="16.19" height="9.34" fill="#f4675c"/>
<rect x="581.04" y="632.30" width="16.19" height="9.34" fill="#f56b5c"/>
<rect x="596.93" y="632.30" width="47.96" height="9.34" fill="#f8745c"/>
<rect x="644.59" y="632.30" width="16.19" height="9.34" fill="#f7705c"/>
<rect x="660.48" y="632.30" width="16.19" height="9.34" fill="#ef5d5e"/>
<rect x="676.37" y="632.30" width="16.19" height="9.34" fill="#ed5a5f"/>
<rect x="692.25" y="632.30" width="16.19" height="9.34" fill="#ea5661"/>
<rect x="708.14" y="632.30" width="16.19" height="9.34" fill="#de4968"/>
<rect x="724.03" y="632.30" width="47.96" height="9.34" fill="#e44f64"/>
<rect x="771.69" y="632.30" width="16.19" height="9.34" fill="#ea5661"/>
<rect x="787.58" y="632.30" width="16.19" height="9.34" fill="#ef5d5e"/>
<rect x="803.46" y="632.30" width="16.19" height="9.34" fill="#de4968"/>
<rect x="819.35" y="632.30" width="16.19" height="9.34" fill="#db476a"/>
<rect x="835.24" y="632.30" width="32.07" height="9.34" fill="#d6456c"/>
<rect x="867.01" y="632.30" width="16.19" height="9.34" fill="#cf4070"/>
<rect x="136.20" y="641.34" width="32.07" height="9.34" fill="#d6456c"/>
<rect x="167.97" y="641.34" width="16.19" height="9.34" fill="#de4968"/>
<rect x="183.86" y="641.34" width="16.19" height="9.34" fill="#d2426f"/>
<rect x="199.75" y="641.34" width="16.19" height="9.34" fill="#cf4070"/>
<rect x="215.64" y="641.34" width="16.19" height="9.34" fill="#d2426f"/>
<rect x="231.52" y="641.34" width="16.19" height="9.34" fill="#de4968"/>
<rect x="247.41" y="641.34" width="32.07" height="9.34" fill="#d2426f"/>
<rect x="279.19" y="641.34" width="32.07" height="9.34" fill="#d6456c"/>
<rect x="310.96" y="641.34" width="47.96" height="9.34" fill="#ed5a5f"/>
<rect x="358.62" y="641.34" width="16.19" height="9.34" fill="#ea5661"/>
<rect x="374.51" y="641.34" width="16.19" height="9.34" fill="#e24d66"/>
<rect x="390.40" y="641.34" width="16.19" height="9.34" fill="#f9795d"/>
<rect x="406.28" y="641.34" width="16.19" height="9.34" fill="#fd9b6b"/>
<rect x="422.17" y="641.34" width="16.19" height="9.34" fill="#fea571"/>
<rect x="438.06" y="641.34" width="16.19" height="9.34" fill="#fe9f6d"/>
<rect x="453.94" y="641.34" width="16.19" height="9.34" fill="#fd9266"/>
<rect x="469.83" y="641.34" width="32.07" height="9.34" fill="#fc8c63"/>
<rect x="501.61" y="641.34" width="16.19" height="9.34" fill="#fa7d5e"/>
<rect x="517.49" y="641.34" width="16.19" height="9.34" fill="#fb835f"/>
<rect x="533.38" y="641.34" width="16.19" height="9.34" fill="#fa7d5e"/>
<rect x="549.27" y="641.34" width="16.19" height="9.34" fill="#f7705c"/>
<rect x="565.16" y="641.34" width="16.19" height="9.34" fill="#f56b5c"/>
<rect x="581.04" y="641.34" width="16.19" height="9.34" fill="#f8745c"/>
<rect x="596.93" y="641.34" width="16.19" height="9.34" fill="#fa7d5e"/>
<rect x="612.82" y="641.34" width="16.19" height="9.34" fill="#f9795d"/>
<rect x="628.70" y="641.34" width="16.19" height="9.34" fill="#f8745c"/>
<rect x="644.59" y="641.34" width="16.19" height="9.34" fill="#f7705c"/>
<rect x="660.48" y="641.34" width="16.19" height="9.34" fill="#f2625d"/>
<rect x="676.37" y="641.34" width="32.07" height="9.34" fill="#f56b5c"/>
<rect x="708.14" y="641.34" width="16.19" height="9.34" fill="#ed5a5f"/>
<rect x="724.03" y="641.34" width="32.07" height="9.34" fill="#ea5661"/>
<rect x="755.80" y="641.34" width="16.19" height="9.34" fill="#ef5d5e"/>
<rect x="771.69" y="641.34" width="16.19" height="9.34" fill="#ed5a5f"/>
<rect x="787.58" y="641.34" width="16.19" height="9.34" fill="#f2625d"/>
<rect x="803.46" y="641.34" width="16.19" height="9.34" fill="#ea5661"/>
<rect x="819.35" y="641.34" width="16.19" height="9.34" fill="#e85362"/>
<rect x="835.24" y="641.34" width="32.07" height="9.34" fill="#e24d66"/>
<rect x="867.01" y="641.34" width="16.19" height="9.34" fill="#db476a"/>
<rect x="136.20" y="650.38" width="16.19" height="9.34" fill="#de4968"/>
<rect x="152.09" y="650.38" width="16.19" height="9.34" fill="#ed5a5f"/>
<rect x="167.97" y="650.38" width="16.19" height="9.34" fill="#d6456c"/>
<rect x="183.86" y="650.38" width="32.07" height="9.34" fill="#d2426f"/>
<rect x="215.64" y="650.38" width="16.19" height="9.34" fill="#d6456c"/>
<rect x="231.52" y="650.38" width="16.19" height="9.34" fill="#ca3e72"/>
<rect x="247.41" y="650.38" width="16.19" height="9.34" fill="#d2426f"/>
<rect x="263.30" y="650.38" width="16.19" height="9.34" fill="#c73d73"/>
<rect x="279.19" y="650.38" width="16.19" height="9.34" fill="#cf4070"/>
<rect x="295.07" y="650.38" width="16.19" height="9.34" fill="#d2426f"/>
<rect x="310.96" y="650.38" width="16.19" height="9.34" fill="#db476a"/>
<rect x="326.85" y="650.38" width="32.07" height="9.34" fill="#e85362"/>
<rect x="358.62" y="650.38" width="16.19" height="9.34" fill="#ea5661"/>
<rect x="374.51" y="650.38" width="16.19" height="9.34" fill="#f4675c"/>
<rect x="390.40" y="650.38" width="16.19" height="9.34" fill="#fa7d5e"/>
<rect x="406.28" y="650.38" width="16.19" height="9.34" fill="#fd9668"/>
<rect x="422.17" y="650.38" width="16.19" height="9.34" fill="#fea571"/>
<rect x="438.06" y="650.38" width="16.19" height="9.34" fill="#fd9668"/>
<rect x="453.94" y="650.38" width="63.85" height="9.34" fill="#fd9266"/>
<rect x="517.49" y="650.38" width="32.07" height="9.34" fill="#fb835f"/>
<rect x="549.27" y="650.38" width="16.19" height="9.34" fill="#fa7d5e"/>
<rect x="565.16" y="650.38" width="16.19" height="9.34" fill="#f56b5c"/>
<rect x="581.04" y="650.38" width="16.19" height="9.34" fill="#fa7d5e"/>
<rect x="596.93" y="650.38" width="32.07" height="9.34" fill="#f9795d"/>
<rect x="628.70" y="650.38" width="16.19" height="9.34" fill="#f4675c"/>
<rect x="644.59" y="650.38" width="32.07" height="9.34" fill="#f56b5c"/>
<rect x="676.37" y="650.38" width="16.19" height="9.34" fill="#ef5d5e"/>
<rect x="692.25" y="650.38" width="32.07" height="9.34" fill="#ed5a5f"/>
<rect x="724.03" y="650.38" width="32.07" height="9.34" fill="#ea5661"/>
<rect x="755.80" y="650.38" width="16.19" height="9.34" fill="#ef5d5e"/>
<rect x="771.69" y="650.38" width="32.07" height="9.34" fill="#ed5a5f"/>
<rect x="803.46" y="650.38" width="16.19" height="9.34" fill="#ef5d5e"/>
<rect x="819.35" y="650.38" width="32.07" height="9.34" fill="#e44f64"/>
<rect x="851.13" y="650.38" width="16.19" height="9.34" fill="#de4968"/>
<rect x="867.01" y="650.38" width="16.19" height="9.34" fill="#e44f64"/>
<rect x="136.20" y="659.41" width="16.19" height="9.34" fill="#de4968"/>
<rect x="152.09" y="659.41" width="16.19" height="9.34" fill="#c73d73"/>
<rect x="167.97" y="659.41" width="16.19" height="9.34" fill="#db476a"/>
<rect x="183.86" y="659.41" width="16.19" height="9.34" fill="#cf4070"/>
<rect x="199.75" y="659.41" width="16.19" height="9.34" fill="#d2426f"/>
<rect x="215.64" y="659.41" width="16.19" height="9.34" fill="#de4968"/>
<rect x="231.52" y="659.41" width="32.07" height="9.34" fill="#d6456c"/>
<rect x="263.30" y="659.41" width="16.19" height="9.34" fill="#ba3878"/>
<rect x="279.19" y="659.41" width="32.07" height="9.34" fill="#d2426f"/>
<rect x="310.96" y="659.41" width="16.19" height="9.34" fill="#cf4070"/>
<rect x="326.85" y="659.41" width="16.19" height="9.34" fill="#e85362"/>
<rect x="342.73" y="659.41" width="16.19" height="9.34" fill="#e24d66"/>
<rect x="358.62" y="659.41" width="16.19" height="9.34" fill="#f4675c"/>
<rect x="374.51" y="659.41" width="16.19" height="9.34" fill="#f56b5c"/>
<rect x="390.40" y="659.41" width="16.19" height="9.34" fill="#f9795d"/>
<rect x="406.28" y="659.41" width="32.07" height="9.34" fill="#fc8c63"/>
<rect x="438.06" y="659.41" width="16.19" height="9.34" fill="#fe9f6d"/>
<rect x="453.94" y="659.41" width="16.19" height="9.34" fill="#fc8c63"/>
<rect x="469.83" y="659.41" width="47.96" height="9.34" fill="#fd9266"/>
<rect x="517.49" y="659.41" width="16.19" height="9.34" fill="#f8745c"/>
<rect x="533.38" y="659.41" width="16.19" height="9.34" fill="#f4675c"/>
<rect x="549.27" y="659.41" width="16.19" height="9.34" fill="#fa7d5e"/>
<rect x="565.16" y="659.41" width="16.19" height="9.34" fill="#f7705c"/>
<rect x="581.04" y="659.41" width="32.07" height="9.34" fill="#f56b5c"/>
<rect x="612.82" y="659.41" width="16.19" height="9.34" fill="#f2625d"/>
<rect x="628.70" y="659.41" width="63.85" height="9.34" fill="#ef5d5e"/>
<rect x="692.25" y="659.41" width="16.19" height="9.34" fill="#ea5661"/>
<rect x="708.14" y="659.41" width="16.19" height="9.34" fill="#ed5a5f"/>
<rect x="724.03" y="659.41" width="32.07" height="9.34" fill="#e24d66"/>
<rect x="755.80" y="659.41" width="16.19" height="9.34" fill="#ed5a5f"/>
<rect x="771.69" y="659.41" width="16.19" height="9.34" fill="#e44f64"/>
<rect x="787.58" y="659.41" width="32.07" height="9.34" fill="#ea5661"/>
<rect x="819.35" y="659.41" width="16.19" height="9.34" fill="#db476a"/>
<rect x="835.24" y="659.41" width="16.19" height="9.34" fill="#de4968"/>
<rect x="851.13" y="659.41" width="32.07" height="9.34" fill="#d2426f"/>
<rect x="136.20" y="668.45" width="47.96" height="9.34" fill="#d6456c"/>
<rect x="183.86" y="668.45" width="16.19" height="9.34" fill="#db476a"/>
<rect x="199.75" y="668.45" width="16.19" height="9.34" fill="#d2426f"/>
<rect x="215.64" y="668.45" width="16.19" height="9.34" fill="#d6456c"/>
<rect x="231.52" y="668.45" width="16.19" height="9.34" fill="#d2426f"/>
<rect x="247.41" y="668.45" width="32.07" height="9.34" fill="#db476a"/>
<rect x="279.19" y="668.45" width="16.19" height="9.34" fill="#cf4070"/>
<rect x="295.07" y="668.45" width="16.19" height="9.34" fill="#ca3e72"/>
<rect x="310.96" y="668.45" width="16.19" height="9.34" fill="#d2426f"/>
<rect x="326.85" y="668.45" width="16.19" height="9.34" fill="#e44f64"/>
<rect x="342.73" y="668.45" width="16.19" height="9.34" fill="#d6456c"/>
<rect x="358.62" y="668.45" width="16.19" height="9.34" fill="#e85362"/>
<rect x="374.51" y="668.45" width="32.07" height="9.34" fill="#f56b5c"/>
<rect x="406.28" y="668.45" width="16.19" height="9.34" fill="#fb835f"/>
<rect x="422.17" y="668.45" width="16.19" height="9.34" fill="#fc8c63"/>
<rect x="438.06" y="668.45" width="32.07" height="9.34" fill="#fc8961"/>
<rect x="469.83" y="668.45" width="16.19" height="9.34" fill="#fd9668"/>
<rect x="485.72" y="668.45" width="16.19" height="9.34" fill="#fd9266"/>
<rect x="501.61" y="668.45" width="16.19" height="9.34" fill="#f8745c"/>
<rect x="517.49" y="668.45" width="16.19" height="9.34" fill="#f56b5c"/>
<rect x="533.38" y="668.45" width="16.19" height="9.34" fill="#f7705c"/>
<rect x="549.27" y="668.45" width="16.19" height="9.34" fill="#f9795d"/>
<rect x="565.16" y="668.45" width="47.96" height="9.34" fill="#f7705c"/>
<rect x="612.82" y="668.45" width="16.19" height="9.34" fill="#ed5a5f"/>
<rect x="628.70" y="668.45" width="16.19" height="9.34" fill="#f2625d"/>
<rect x="644.59" y="668.45" width="16.19" height="9.34" fill="#ed5a5f"/>
<rect x="660.48" y="668.45" width="32.07" height="9.34" fill="#ef5d5e"/>
<rect x="692.25" y="668.45" width="16.19" height="9.34" fill="#e44f64"/>
<rect x="708.14" y="668.45" width="16.19" height="9.34" fill="#db476a"/>
<rect x="724.03" y="668.45" width="16.19" height="9.34" fill="#cf4070"/>
<rect x="739.91" y="668.45" width="16.19" height="9.34" fill="#ea5661"/>
<rect x="755.80" y="668.45" width="16.19" height="9.34" fill="#ed5a5f"/>
<rect x="771.69" y="668.45" width="16.19" height="9.34" fill="#e85362"/>
<rect x="787.58" y="668.45" width="16.19" height="9.34" fill="#ea5661"/>
<rect x="803.46" y="668.45" width="16.19" height="9.34" fill="#e24d66"/>
<rect x="819.35" y="668.45" width="16.19" height="9.34" fill="#e85362"/>
<rect x="835.24" y="668.45" width="16.19" height="9.34" fill="#db476a"/>
<rect x="851.13" y="668.45" width="16.19" height="9.34" fill="#d2426f"/>
<rect x="867.01" y="668.45" width="16.19" height="9.34" fill="#bf3a77"/>
<rect x="136.20" y="677.48" width="16.19" height="9.34" fill="#d2426f"/>
<rect x="152.09" y="677.48" width="16.19" height="9.34" fill="#a5317e"/>
<rect x="167.97" y="677.48" width="16.19" height="9.34" fill="#b73779"/>
<rect x="183.86" y="677.48" width="16.19" height="9.34" fill="#c73d73"/>
<rect x="199.75" y="677.48" width="16.19" height="9.34" fill="#ba3878"/>
<rect x="215.64" y="677.48" width="16.19" height="9.34" fill="#b73779"/>
<rect x="231.52" y="677.48" width="16.19" height="9.34" fill="#ad347c"/>
<rect x="247.41" y="677.48" width="16.19" height="9.34" fill="#c23b75"/>
<rect x="263.30" y="677.48" width="16.19" height="9.34" fill="#c73d73"/>
<rect x="279.19" y="677.48" width="16.19" height="9.34" fill="#aa337d"/>
<rect x="295.07" y="677.48" width="16.19" height="9.34" fill="#ba3878"/>
<rect x="310.96" y="677.48" width="16.19" height="9.34" fill="#c23b75"/>
<rect x="326.85" y="677.48" width="16.19" height="9.34" fill="#d2426f"/>
<rect x="342.73" y="677.48" width="16.19" height="9.34" fill="#ca3e72"/>
<rect x="358.62" y="677.48" width="16.19" height="9.34" fill="#de4968"/>
<rect x="374.51" y="677.48" width="16.19" height="9.34" fill="#ea5661"/>
<rect x="390.40" y="677.48" width="16.19" height="9.34" fill="#f7705c"/>
<rect x="406.28" y="677.48" width="16.19" height="9.34" fill="#fb835f"/>
<rect x="422.17" y="677.48" width="47.96" height="9.34" fill="#f9795d"/>
<rect x="469.83" y="677.48" width="16.19" height="9.34" fill="#fa7d5e"/>
<rect x="485.72" y="677.48" width="32.07" height="9.34" fill="#f9795d"/>
<rect x="517.49" y="677.48" width="16.19" height="9.34" fill="#f7705c"/>
<rect x="533.38" y="677.48" width="16.19" height="9.34" fill="#ea5661"/>
<rect x="549.27" y="677.48" width="16.19" height="9.34" fill="#ef5d5e"/>
<rect x="565.16" y="677.48" width="16.19" height="9.34" fill="#ed5a5f"/>
<rect x="581.04" y="677.48" width="16.19" height="9.34" fill="#ef5d5e"/>
<rect x="596.93" y="677.48" width="16.19" height="9.34" fill="#ed5a5f"/>
<rect x="612.82" y="677.48" width="16.19" height="9.34" fill="#ef5d5e"/>
<rect x="628.70" y="677.48" width="16.19" height="9.34" fill="#e85362"/>
<rect x="644.59" y="677.48" width="16.19" height="9.34" fill="#f2625d"/>
<rect x="660.48" y="677.48" width="16.19" height="9.34" fill="#e44f64"/>
<rect x="676.37" y="677.48" width="16.19" height="9.34" fill="#ed5a5f"/>
<rect x="692.25" y="677.48" width="16.19" height="9.34" fill="#e24d66"/>
<rect x="708.14" y="677.48" width="16.19" height="9.34" fill="#ea5661"/>
<rect x="724.03" y="677.48" width="16.19" height="9.34" fill="#c73d73"/>
<rect x="739.91" y="677.48" width="32.07" height="9.34" fill="#e44f64"/>
<rect x="771.69" y="677.48" width="16.19" height="9.34" fill="#e85362"/>
<rect x="787.58" y="677.48" width="16.19" height="9.34" fill="#d6456c"/>
<rect x="803.46" y="677.48" width="16.19" height="9.34" fill="#ca3e72"/>
<rect x="819.35" y="677.48" width="16.19" height="9.34" fill="#cf4070"/>
<rect x="835.24" y="677.48" width="16.19" height="9.34" fill="#d6456c"/>
<rect x="851.13" y="677.48" width="16.19" height="9.34" fill="#cf4070"/>
<rect x="867.01" y="677.48" width="16.19" height="9.34" fill="#bf3a77"/>
<rect x="136.20" y="686.52" width="16.19" height="9.34" fill="#bf3a77"/>
<rect x="152.09" y="686.52" width="16.19" height="9.34" fill="#ad347c"/>
<rect x="167.97" y="686.52" width="16.19" height="9.34" fill="#bf3a77"/>
<rect x="183.86" y="686.52" width="16.19" height="9.34" fill="#9c2e7f"/>
<rect x="199.75" y="686.52" width="16.19" height="9.34" fill="#ad347c"/>
<rect x="215.64" y="686.52" width="16.19" height="9.34" fill="#aa337d"/>
<rect x="231.52" y="686.52" width="16.19" height="9.34" fill="#b2357b"/>
<rect x="247.41" y="686.52" width="16.19" height="9.34" fill="#aa337d"/>
<rect x="263.30" y="686.52" width="16.19" height="9.34" fill="#b73779"/>
<rect x="279.19" y="686.52" width="16.19" height="9.34" fill="#aa337d"/>
<rect x="295.07" y="686.52" width="16.19" height="9.34" fill="#b2357b"/>
<rect x="310.96" y="686.52" width="16.19" height="9.34" fill="#aa337d"/>
<rect x="326.85" y="686.52" width="16.19" height="9.34" fill="#b2357b"/>
<rect x="342.73" y="686.52" width="16.19" height="9.34" fill="#d6456c"/>
<rect x="358.62" y="686.52" width="16.19" height="9.34" fill="#b73779"/>
<rect x="374.51" y="686.52" width="16.19" height="9.34" fill="#e44f64"/>
<rect x="390.40" y="686.52" width="16.19" height="9.34" fill="#ea5661"/>
<rect x="406.28" y="686.52" width="16.19" height="9.34" fill="#ef5d5e"/>
<rect x="422.17" y="686.52" width="16.19" height="9.34" fill="#f56b5c"/>
<rect x="438.06" y="686.52" width="32.07" height="9.34" fill="#f8745c"/>
<rect x="469.83" y="686.52" width="16.19" height="9.34" fill="#fc8961"/>
<rect x="485.72" y="686.52" width="16.19" height="9.34" fill="#f56b5c"/>
<rect x="501.61" y="686.52" width="16.19" height="9.34" fill="#f7705c"/>
<rect x="517.49" y="686.52" width="16.19" height="9.34" fill="#f2625d"/>
<rect x="533.38" y="686.52" width="16.19" height="9.34" fill="#f56b5c"/>
<rect x="549.27" y="686.52" width="16.19" height="9.34" fill="#f2625d"/>
<rect x="565.16" y="686.52" width="16.19" height="9.34" fill="#d6456c"/>
<rect x="581.04" y="686.52" width="32.07" height="9.34" fill="#e44f64"/>
<rect x="612.82" y="686.52" width="47.96" height="9.34" fill="#e85362"/>
<rect x="660.48" y="686.52" width="16.19" height="9.34" fill="#e24d66"/>
<rect x="676.37" y="686.52" width="16.19" height="9.34" fill="#d2426f"/>
<rect x="692.25" y="686.52" width="16.19" height="9.34" fill="#de4968"/>
<rect x="708.14" y="686.52" width="16.19" height="9.34" fill="#d6456c"/>
<rect x="724.03" y="686.52" width="16.19" height="9.34" fill="#c23b75"/>
<rect x="739.91" y="686.52" width="16.19" height="9.34" fill="#cf4070"/>
<rect x="755.80" y="686.52" width="32.07" height="9.34" fill="#d6456c"/>
<rect x="787.58" y="686.52" width="16.19" height="9.34" fill="#bf3a77"/>
<rect x="803.46" y="686.52" width="16.19" height="9.34" fill="#c73d73"/>
<rect x="819.35" y="686.52" width="16.19" height="9.34" fill="#db476a"/>
<rect x="835.24" y="686.52" width="32.07" height="9.34" fill="#ca3e72"/>
<rect x="867.01" y="686.52" width="16.19" height="9.34" fill="#aa337d"/>
<rect x="136.20" y="695.56" width="16.19" height="9.34" fill="#ad347c"/>
<rect x="152.09" y="695.56" width="16.19" height="9.34" fill="#b73779"/>
<rect x="167.97" y="695.56" width="16.19" height="9.34" fill="#aa337d"/>
<rect x="183.86" y="695.56" width="16.19" height="9.34" fill="#a1307e"/>
<rect x="199.75" y="695.56" width="16.19" height="9.34" fill="#942c80"/>
<rect x="215.64" y="695.56" width="16.19" height="9.34" fill="#aa337d"/>
<rect x="231.52" y="695.56" width="16.19" height="9.34" fill="#9c2e7f"/>
<rect x="247.41" y="695.56" width="16.19" height="9.34" fill="#882781"/>
<rect x="263.30" y="695.56" width="16.19" height="9.34" fill="#902a81"/>
<rect x="279.19" y="695.56" width="16.19" height="9.34" fill="#aa337d"/>
<rect x="295.07" y="695.56" width="16.19" height="9.34" fill="#8c2981"/>
<rect x="310.96" y="695.56" width="16.19" height="9.34" fill="#aa337d"/>
<rect x="326.85" y="695.56" width="16.19" height="9.34" fill="#ad347c"/>
<rect x="342.73" y="695.56" width="16.19" height="9.34" fill="#b73779"/>
<rect x="358.62" y="695.56" width="32.07" height="9.34" fill="#d2426f"/>
<rect x="390.40" y="695.56" width="16.19" height="9.34" fill="#d6456c"/>
<rect x="406.28" y="695.56" width="16.19" height="9.34" fill="#e44f64"/>
<rect x="422.17" y="695.56" width="16.19" height="9.34" fill="#ed5a5f"/>
<rect x="438.06" y="695.56" width="16.19" height="9.34" fill="#ea5661"/>
<rect x="453.94" y="695.56" width="16.19" height="9.34" fill="#ef5d5e"/>
<rect x="469.83" y="695.56" width="16.19" height="9.34" fill="#ed5a5f"/>
<rect x="485.72" y="695.56" width="16.19" height="9.34" fill="#ef5d5e"/>
<rect x="501.61" y="695.56" width="16.19" height="9.34" fill="#f56b5c"/>
<rect x="517.49" y="695.56" width="16.19" height="9.34" fill="#ea5661"/>
<rect x="533.38" y="695.56" width="16.19" height="9.34" fill="#d2426f"/>
<rect x="549.27" y="695.56" width="32.07" height="9.34" fill="#ea5661"/>
<rect x="581.04" y="695.56" width="32.07" height="9.34" fill="#c73d73"/>
<rect x="612.82" y="695.56" width="16.19" height="9.34" fill="#ca3e72"/>
<rect x="628.70" y="695.56" width="16.19" height="9.34" fill="#d2426f"/>
<rect x="644.59" y="695.56" width="16.19" height="9.34" fill="#e85362"/>
<rect x="660.48" y="695.56" width="16.19" height="9.34" fill="#b73779"/>
<rect x="676.37" y="695.56" width="16.19" height="9.34" fill="#cf4070"/>
<rect x="692.25" y="695.56" width="16.19" height="9.34" fill="#bf3a77"/>
<rect x="708.14" y="695.56" width="16.19" height="9.34" fill="#c23b75"/>
<rect x="724.03" y="695.56" width="32.07" height="9.34" fill="#c73d73"/>
<rect x="755.80" y="695.56" width="16.19" height="9.34" fill="#aa337d"/>
<rect x="771.69" y="695.56" width="16.19" height="9.34" fill="#a1307e"/>
<rect x="787.58" y="695.56" width="16.19" height="9.34" fill="#b73779"/>
<rect x="803.46" y="695.56" width="16.19" height="9.34" fill="#ad347c"/>
<rect x="819.35" y="695.56" width="16.19" height="9.34" fill="#aa337d"/>
<rect x="835.24" y="695.56" width="16.19" height="9.34" fill="#ba3878"/>
<rect x="851.13" y="695.56" width="16.19" height="9.34" fill="#902a81"/>
<rect x="867.01" y="695.56" width="16.19" height="9.34" fill="#ad347c"/>
<rect x="136.20" y="704.59" width="16.19" height="9.34" fill="#802582"/>
<rect x="152.09" y="704.59" width="16.19" height="9.34" fill="#a5317e"/>
<rect x="167.97" y="704.59" width="16.19" height="9.34" fill="#aa337d"/>
<rect x="183.86" y="704.59" width="16.19" height="9.34" fill="#992d80"/>
<rect x="199.75" y="704.59" width="16.19" height="9.34" fill="#a1307e"/>
<rect x="215.64" y="704.59" width="16.19" height="9.34" fill="#942c80"/>
<rect x="231.52" y="704.59" width="16.19" height="9.34" fill="#a5317e"/>
<rect x="247.41" y="704.59" width="16.19" height="9.34" fill="#a1307e"/>
<rect x="263.30" y="704.59" width="32.07" height="9.34" fill="#8c2981"/>
<rect x="295.07" y="704.59" width="16.19" height="9.34" fill="#882781"/>
<rect x="310.96" y="704.59" width="16.19" height="9.34" fill="#b73779"/>
<rect x="326.85" y="704.59" width="32.07" height="9.34" fill="#9c2e7f"/>
<rect x="358.62" y="704.59" width="16.19" height="9.34" fill="#a5317e"/>
<rect x="374.51" y="704.59" width="16.19" height="9.34" fill="#b73779"/>
<rect x="390.40" y="704.59" width="16.19" height="9.34" fill="#cf4070"/>
<rect x="406.28" y="704.59" width="16.19" height="9.34" fill="#e44f64"/>
<rect x="422.17" y="704.59" width="16.19" height="9.34" fill="#db476a"/>
<rect x="438.06" y="704.59" width="16.19" height="9.34" fill="#ef5d5e"/>
<rect x="453.94" y="704.59" width="16.19" height="9.34" fill="#e24d66"/>
<rect x="469.83" y="704.59" width="16.19" height="9.34" fill="#e44f64"/>
<rect x="485.72" y="704.59" width="16.19" height="9.34" fill="#f4675c"/>
<rect x="501.61" y="704.59" width="16.19" height="9.34" fill="#f2625d"/>
<rect x="517.49" y="704.59" width="32.07" height="9.34" fill="#cf4070"/>
<rect x="549.27" y="704.59" width="16.19" height="9.34" fill="#e85362"/>
<rect x="565.16" y="704.59" width="16.19" height="9.34" fill="#d6456c"/>
<rect x="581.04" y="704.59" width="16.19" height="9.34" fill="#ca3e72"/>
<rect x="596.93" y="704.59" width="16.19" height="9.34" fill="#c23b75"/>
<rect x="612.82" y="704.59" width="16.19" height="9.34" fill="#d6456c"/>
<rect x="628.70" y="704.59" width="16.19" height="9.34" fill="#cf4070"/>
<rect x="644.59" y="704.59" width="16.19" height="9.34" fill="#de4968"/>
<rect x="660.48" y="704.59" width="16.19" height="9.34" fill="#cf4070"/>
<rect x="676.37" y="704.59" width="16.19" height="9.34" fill="#b73779"/>
<rect x="692.25" y="704.59" width="16.19" height="9.34" fill="#ca3e72"/>
<rect x="708.14" y="704.59" width="16.19" height="9.34" fill="#c23b75"/>
<rect x="724.03" y="704.59" width="16.19" height="9.34" fill="#bf3a77"/>
<rect x="739.91" y="704.59" width="16.19" height="9.34" fill="#ad347c"/>
<rect x="755.80" y="704.59" width="16.19" height="9.34" fill="#a1307e"/>
<rect x="771.69" y="704.59" width="16.19" height="9.34" fill="#ca3e72"/>
<rect x="787.58" y="704.59" width="32.07" height="9.34" fill="#b73779"/>
<rect x="819.35" y="704.59" width="32.07" height="9.34" fill="#ba3878"/>
<rect x="851.13" y="704.59" width="16.19" height="9.34" fill="#b73779"/>
<rect x="867.01" y="704.59" width="16.19" height="9.34" fill="#992d80"/>
<rect x="136.20" y="713.63" width="16.19" height="9.34" fill="#782281"/>
<rect x="152.09" y="713.63" width="32.07" height="9.34" fill="#802582"/>
<rect x="183.86" y="713.63" width="16.19" height="9.34" fill="#8c2981"/>
<rect x="199.75" y="713.63" width="16.19" height="9.34" fill="#a1307e"/>
<rect x="215.64" y="713.63" width="16.19" height="9.34" fill="#882781"/>
<rect x="231.52" y="713.63" width="16.19" height="9.34" fill="#9c2e7f"/>
<rect x="247.41" y="713.63" width="16.19" height="9.34" fill="#942c80"/>
<rect x="263.30" y="713.63" width="16.19" height="9.34" fill="#802582"/>
<rect x="279.19" y="713.63" width="16.19" height="9.34" fill="#752181"/>
<rect x="295.07" y="713.63" width="16.19" height="9.34" fill="#942c80"/>
<rect x="310.96" y="713.63" width="16.19" height="9.34" fill="#902a81"/>
<rect x="326.85" y="713.63" width="16.19" height="9.34" fill="#992d80"/>
<rect x="342.73" y="713.63" width="16.19" height="9.34" fill="#782281"/>
<rect x="358.62" y="713.63" width="16.19" height="9.34" fill="#942c80"/>
<rect x="374.51" y="713.63" width="32.07" height="9.34" fill="#9c2e7f"/>
<rect x="406.28" y="713.63" width="16.19" height="9.34" fill="#cf4070"/>
<rect x="422.17" y="713.63" width="16.19" height="9.34" fill="#d6456c"/>
<rect x="438.06" y="713.63" width="16.19" height="9.34" fill="#cf4070"/>
<rect x="453.94" y="713.63" width="16.19" height="9.34" fill="#db476a"/>
<rect x="469.83" y="713.63" width="16.19" height="9.34" fill="#d6456c"/>
<rect x="485.72" y="713.63" width="16.19" height="9.34" fill="#bf3a77"/>
<rect x="501.61" y="713.63" width="16.19" height="9.34" fill="#d6456c"/>
<rect x="517.49" y="713.63" width="16.19" height="9.34" fill="#e44f64"/>
<rect x="533.38" y="713.63" width="16.19" height="9.34" fill="#e85362"/>
<rect x="549.27" y="713.63" width="16.19" height="9.34" fill="#e44f64"/>
<rect x="565.16" y="713.63" width="16.19" height="9.34" fill="#c23b75"/>
<rect x="581.04" y="713.63" width="16.19" height="9.34" fill="#ca3e72"/>
<rect x="596.93" y="713.63" width="16.19" height="9.34" fill="#cf4070"/>
<rect x="612.82" y="713.63" width="16.19" height="9.34" fill="#bf3a77"/>
<rect x="628.70" y="713.63" width="16.19" height="9.34" fill="#a1307e"/>
<rect x="644.59" y="713.63" width="16.19" height="9.34" fill="#ca3e72"/>
<rect x="660.48" y="713.63" width="16.19" height="9.34" fill="#b73779"/>
<rect x="676.37" y="713.63" width="16.19" height="9.34" fill="#ca3e72"/>
<rect x="692.25" y="713.63" width="16.19" height="9.34" fill="#a5317e"/>
<rect x="708.14" y="713.63" width="16.19" height="9.34" fill="#b73779"/>
<rect x="724.03" y="713.63" width="16.19" height="9.34" fill="#8c2981"/>
<rect x="739.91" y="713.63" width="16.19" height="9.34" fill="#aa337d"/>
<rect x="755.80" y="713.63" width="16.19" height="9.34" fill="#902a81"/>
<rect x="771.69" y="713.63" width="32.07" height="9.34" fill="#aa337d"/>
<rect x="803.46" y="713.63" width="16.19" height="9.34" fill="#782281"/>
<rect x="819.35" y="713.63" width="16.19" height="9.34" fill="#a1307e"/>
<rect x="835.24" y="713.63" width="16.19" height="9.34" fill="#942c80"/>
<rect x="851.13" y="713.63" width="32.07" height="9.34" fill="#992d80"/>
<rect x="136.20" y="722.66" width="47.96" height="9.34" fill="#882781"/>
<rect x="183.86" y="722.66" width="32.07" height="9.34" fill="#7c2382"/>
<rect x="215.64" y="722.66" width="32.07" height="9.34" fill="#882781"/>
<rect x="247.41" y="722.66" width="16.19" height="9.34" fill="#782281"/>
<rect x="263.30" y="722.66" width="16.19" height="9.34" fill="#8c2981"/>
<rect x="279.19" y="722.66" width="16.19" height="9.34" fill="#752181"/>
<rect x="295.07" y="722.66" width="16.19" height="9.34" fill="#802582"/>
<rect x="310.96" y="722.66" width="16.19" height="9.34" fill="#882781"/>
<rect x="326.85" y="722.66" width="16.19" height="9.34" fill="#9c2e7f"/>
<rect x="342.73" y="722.66" width="16.19" height="9.34" fill="#8c2981"/>
<rect x="358.62" y="722.66" width="16.19" height="9.34" fill="#701f81"/>
<rect x="374.51" y="722.66" width="16.19" height="9.34" fill="#7c2382"/>
<rect x="390.40" y="722.66" width="32.07" height="9.34" fill="#9c2e7f"/>
<rect x="422.17" y="722.66" width="16.19" height="9.34" fill="#a1307e"/>
<rect x="438.06" y="722.66" width="16.19" height="9.34" fill="#cf4070"/>
<rect x="453.94" y="722.66" width="16.19" height="9.34" fill="#ed5a5f"/>
<rect x="469.83" y="722.66" width="16.19" height="9.34" fill="#f7705c"/>
<rect x="485.72" y="722.66" width="47.96" height="9.34" fill="#d2426f"/>
<rect x="533.38" y="722.66" width="32.07" height="9.34" fill="#cf4070"/>
<rect x="565.16" y="722.66" width="16.19" height="9.34" fill="#db476a"/>
<rect x="581.04" y="722.66" width="32.07" height="9.34" fill="#d2426f"/>
<rect x="612.82" y="722.66" width="16.19" height="9.34" fill="#ba3878"/>
<rect x="628.70" y="722.66" width="32.07" height="9.34" fill="#bf3a77"/>
<rect x="660.48" y="722.66" width="16.19" height="9.34" fill="#b2357b"/>
<rect x="676.37" y="722.66" width="32.07" height="9.34" fill="#ad347c"/>
<rect x="708.14" y="722.66" width="47.96" height="9.34" fill="#a1307e"/>
<rect x="755.80" y="722.66" width="16.19" height="9.34" fill="#942c80"/>
<rect x="771.69" y="722.66" width="16.19" height="9.34" fill="#a1307e"/>
<rect x="787.58" y="722.66" width="32.07" height="9.34" fill="#9c2e7f"/>
<rect x="819.35" y="722.66" width="16.19" height="9.34" fill="#882781"/>
<rect x="835.24" y="722.66" width="16.19" height="9.34" fill="#a1307e"/>
<rect x="851.13" y="722.66" width="32.07" height="9.34" fill="#902a81"/>
</g>
<rect x="1087.9" y="406.9" width="746.8" height="325.4" fill="#701f81"/>
<g shape-rendering="crispEdges" fill="none" stroke-width="1.04" transform="translate(1087.9 411.414) scale(0.99973 9.02778)">
<path stroke="#02020b" d="M0 7h7M8 7h4M13 7h3M27 7h2M37 7h5M44 7h7M56 7h4M65 7h2M78 7h1M97 7h3M110 7h2M720 7h3M745 7h1M2 8h10M57 8h1M59 8h1M65 8h1M0 9h14M40 9h2M48 9h2M57 9h6M65 9h1M2 10h10M40 10h2M58 10h3M65 10h1M3 11h3M8 11h3M58 11h2"/>
<path stroke="#050416" d="M0 6h11M12 6h5M18 6h5M25 6h25M52 6h2M56 6h7M64 6h10M77 6h9M88 6h5M96 6h1M101 6h12M114 6h7M133 6h2M147 6h1M245 6h1M559 6h3M638 6h5M676 6h1M681 6h5M687 6h1M694 6h1M696 6h1M703 6h1M706 6h7M715 6h3M719 6h12M734 6h5M741 6h6M7 7h1M12 7h1M16 7h11M29 7h8M42 7h2M51 7h5M60 7h5M67 7h11M79 7h18M100 7h10M112 7h11M130 7h7M140 7h10M628 7h5M634 7h11M673 7h15M694 7h26M723 7h22M746 7h1M0 8h2M12 8h7M22 8h1M26 8h7M37 8h15M54 8h3M58 8h1M60 8h5M66 8h2M71 8h3M78 8h1M92 8h3M96 8h4M104 8h4M110 8h2M639 8h3M682 8h3M716 8h2M719 8h5M745 8h2M14 9h2M38 9h2M42 9h6M50 9h1M55 9h2M63 9h2M66 9h1M97 9h2M720 9h1M0 10h2M12 10h3M38 10h2M42 10h1M44 10h7M56 10h2M61 10h2M64 10h1M66 10h1M0 11h3M6 11h2M11 11h3M40 11h2M48 11h1M57 11h1M60 11h3M65 11h1M2 12h10M40 12h2M58 12h3M3 13h1M8 13h3M59 13h1"/>
<path stroke="#0a0822" d="M1 5h20M22 5h29M52 5h4M57 5h25M83 5h38M133 5h3M143 5h7M179 5h1M200 5h1M245 5h2M328 5h2M361 5h1M384 5h2M406 5h1M418 5h2M452 5h1M558 5h5M608 5h1M635 5h1M638 5h5M661 5h2M676 5h12M694 5h3M698 5h4M703 5h8M714 5h16M732 5h15M11 6h1M17 6h1M23 6h2M50 6h2M54 6h2M63 6h1M74 6h3M86 6h2M93 6h3M97 6h4M113 6h1M121 6h3M129 6h4M135 6h2M139 6h8M148 6h2M184 6h5M199 6h1M224 6h4M242 6h3M258 6h1M269 6h1M293 6h1M315 6h2M328 6h1M338 6h2M361 6h4M385 6h1M397 6h1M430 6h1M452 6h4M466 6h2M478 6h1M500 6h3M525 6h1M547 6h1M558 6h1M562 6h1M577 6h1M591 6h1M605 6h3M628 6h10M643 6h2M661 6h1M672 6h4M677 6h4M686 6h1M688 6h1M695 6h1M697 6h6M704 6h2M713 6h2M718 6h1M731 6h3M739 6h2M123 7h2M137 7h3M150 7h1M154 7h1M596 7h5M623 7h5M633 7h1M645 7h1M671 7h2M693 7h1M19 8h3M23 8h3M33 8h4M52 8h2M68 8h3M74 8h4M79 8h8M88 8h4M95 8h1M100 8h4M108 8h2M112 8h9M133 8h3M145 8h3M638 8h1M642 8h2M677 8h1M681 8h1M685 8h2M696 8h1M706 8h8M715 8h1M718 8h1M724 8h7M734 8h5M741 8h4M16 9h3M22 9h1M26 9h2M29 9h1M31 9h2M37 9h1M51 9h4M67 9h1M71 9h3M78 9h1M92 9h3M96 9h1M99 9h1M103 9h5M110 9h1M639 9h2M683 9h2M707 9h1M716 9h1M719 9h1M721 9h3M745 9h2M15 10h2M27 10h1M32 10h1M43 10h1M55 10h1M63 10h1M97 10h2M720 10h2M14 11h2M38 11h2M44 11h4M49 11h2M56 11h1M63 11h2M66 11h1M0 12h2M12 12h3M39 12h1M47 12h4M57 12h1M61 12h2M65 12h2M0 13h3M4 13h4M11 13h2M39 13h3M48 13h2M57 13h2M60 13h3M65 13h2M2 14h10M40 14h2M57 14h4M720 14h1M3 15h3M7 15h4M720 15h3M2 16h9M58 16h2M716 16h1M720 16h4M745 16h1M3 17h9M58 17h2M707 17h1M716 17h1M719 17h4M746 17h1M3 18h8M40 18h2M58 18h2M716 18h1M719 18h4M745 18h2"/>
<path stroke="#100b2d" d="M221 2h1M713 2h1M0 3h11M12 3h42M55 3h12M68 3h73M142 3h7M150 3h11M168 3h1M176 3h15M197 3h3M201 3h1M210 3h4M221 3h11M236 3h12M256 3h4M267 3h5M280 3h3M291 3h5M303 3h4M313 3h6M329 3h2M336 3h6M350 3h2M359 3h8M373 3h3M383 3h5M395 3h5M404 3h5M417 3h4M428 3h5M440 3h5M450 3h8M464 3h7M476 3h3M489 3h2M498 3h7M512 3h4M523 3h5M535 3h2M545 3h5M556 3h9M571 3h9M586 3h24M617 3h37M659 3h43M703 3h27M736 3h11M0 4h161M177 4h13M198 4h4M210 4h4M222 4h8M237 4h11M257 4h3M268 4h4M281 4h2M292 4h3M304 4h3M314 4h5M327 4h4M337 4h4M350 4h1M359 4h7M373 4h2M384 4h3M396 4h3M405 4h3M417 4h4M428 4h4M441 4h3M451 4h7M465 4h5M476 4h4M489 4h1M498 4h6M512 4h4M523 4h4M546 4h3M557 4h7M571 4h9M587 4h23M617 4h36M660 4h87M0 5h1M21 5h1M51 5h1M56 5h1M82 5h1M121 5h6M128 5h5M136 5h7M150 5h10M177 5h2M180 5h9M198 5h2M211 5h2M223 5h6M238 5h1M241 5h4M257 5h3M268 5h3M281 5h1M292 5h3M304 5h2M314 5h4M337 5h3M360 5h1M362 5h3M374 5h1M386 5h1M396 5h3M407 5h1M429 5h2M442 5h1M453 5h4M466 5h3M477 5h3M499 5h4M513 5h2M524 5h2M546 5h3M563 5h1M572 5h7M587 5h21M618 5h17M636 5h2M643 5h9M663 5h13M688 5h2M692 5h2M697 5h1M702 5h1M711 5h3M730 5h2M124 6h2M137 6h2M150 6h6M158 6h1M178 6h6M200 6h1M211 6h2M223 6h1M270 6h1M406 6h1M442 6h1M468 6h1M573 6h4M578 6h1M588 6h3M592 6h13M619 6h9M645 6h7M662 6h1M664 6h8M692 6h2M129 7h1M151 7h3M179 7h5M594 7h2M601 7h2M621 7h2M647 7h4M665 7h4M670 7h1M87 8h1M121 8h3M130 8h3M136 8h1M138 8h7M148 8h2M628 8h10M644 8h1M672 8h5M678 8h3M687 8h1M694 8h2M697 8h9M714 8h1M731 8h3M739 8h2M21 9h1M23 9h1M28 9h1M30 9h1M33 9h1M36 9h1M68 9h1M77 9h1M79 9h1M82 9h3M91 9h1M95 9h1M100 9h3M108 9h2M111 9h1M119 9h1M147 9h1M641 9h1M682 9h1M685 9h1M696 9h1M708 9h1M710 9h2M715 9h1M717 9h1M724 9h1M728 9h1M743 9h2M17 10h1M22 10h1M26 10h1M28 10h2M31 10h1M37 10h1M51 10h1M54 10h1M67 10h1M72 10h1M93 10h2M96 10h1M99 10h1M104 10h1M106 10h2M110 10h1M640 10h1M683 10h2M707 10h1M716 10h1M719 10h1M722 10h1M745 10h2M16 11h1M27 11h1M32 11h1M42 11h2M55 11h1M97 11h2M716 11h1M720 11h2M15 12h1M38 12h1M42 12h1M44 12h3M55 12h2M63 12h2M98 12h1M720 12h2M13 13h2M38 13h1M44 13h4M50 13h1M56 13h1M63 13h2M716 13h1M720 13h3M0 14h2M12 14h3M39 14h1M47 14h4M56 14h1M61 14h2M64 14h3M716 14h1M719 14h1M721 14h2M0 15h3M6 15h1M11 15h2M39 15h3M48 15h2M57 15h6M65 15h2M707 15h1M716 15h1M719 15h1M723 15h1M745 15h2M0 16h2M11 16h3M39 16h3M48 16h2M57 16h1M60 16h3M64 16h3M707 16h2M711 16h1M717 16h1M719 16h1M724 16h1M744 16h1M746 16h1M0 17h3M12 17h2M39 17h3M47 17h3M57 17h1M60 17h3M65 17h2M708 17h1M711 17h1M717 17h1M723 17h2M745 17h1M0 18h3M11 18h4M39 18h1M47 18h3M56 18h2M60 18h3M65 18h2M707 18h2M711 18h1M717 18h1M723 18h2M744 18h1M2 19h2M8 19h4M40 19h1M58 19h2M707 19h1M716 19h1M720 19h4M745 19h1"/>
<path stroke="#150e38" d="M0 1h163M166 1h4M174 1h18M196 1h8M208 1h8M220 1h30M255 1h8M266 1h8M279 1h6M290 1h7M302 1h7M312 1h9M325 1h8M334 1h9M348 1h5M357 1h11M371 1h6M381 1h8M394 1h16M415 1h8M426 1h8M439 1h7M449 1h11M463 1h9M474 1h8M487 1h5M496 1h10M510 1h8M521 1h8M534 1h4M544 1h7M555 1h12M568 1h14M584 1h28M615 1h40M658 1h89M0 2h162M167 2h3M175 2h17M196 2h7M209 2h6M222 2h11M235 2h14M255 2h7M266 2h7M280 2h4M290 2h7M302 2h6M312 2h8M325 2h8M335 2h7M349 2h4M358 2h10M372 2h5M382 2h7M394 2h7M403 2h7M416 2h6M427 2h6M440 2h5M449 2h10M463 2h9M475 2h7M488 2h4M497 2h8M511 2h6M522 2h6M534 2h4M544 2h7M555 2h11M569 2h12M585 2h26M616 2h39M658 2h55M714 2h33M11 3h1M54 3h1M67 3h1M141 3h1M149 3h1M161 3h1M167 3h1M200 3h1M202 3h1M209 3h1M214 3h1M232 3h1M260 3h1M272 3h1M283 3h1M307 3h1M319 3h1M326 3h3M331 3h1M358 3h1M400 3h1M458 3h1M475 3h1M479 3h2M497 3h1M570 3h1M580 3h1M702 3h1M730 3h6M168 4h1M176 4h1M197 4h1M230 4h1M260 4h1M291 4h1M303 4h1M336 4h1M383 4h1M399 4h1M480 4h1M490 4h1M535 4h2M545 4h1M564 4h1M586 4h1M127 5h1M189 5h1M229 5h1M240 5h1M327 5h1M340 5h1M365 5h1M451 5h1M465 5h1M469 5h1M503 5h1M557 5h1M652 5h1M660 5h1M691 5h1M159 6h1M228 6h1M241 6h1M246 6h1M292 6h1M305 6h1M317 6h1M329 6h1M360 6h1M418 6h2M429 6h1M456 6h1M499 6h1M513 6h2M546 6h1M608 6h1M618 6h1M125 7h1M178 7h1M184 7h2M244 7h2M559 7h3M573 7h3M589 7h5M603 7h3M619 7h2M646 7h1M669 7h1M688 7h1M124 8h1M137 8h1M150 8h1M597 8h4M624 8h4M671 8h1M19 9h2M24 9h2M34 9h2M69 9h2M74 9h1M76 9h1M80 9h2M85 9h2M88 9h3M112 9h5M118 9h1M120 9h1M146 9h1M638 9h1M642 9h1M681 9h1M686 9h1M706 9h1M709 9h1M712 9h1M718 9h1M725 9h1M727 9h1M729 9h1M737 9h2M742 9h1M18 10h1M21 10h1M23 10h1M30 10h1M52 10h2M68 10h1M71 10h1M73 10h1M78 10h2M83 10h1M92 10h1M95 10h1M100 10h4M105 10h1M108 10h1M111 10h1M639 10h1M641 10h1M682 10h1M708 10h1M711 10h1M717 10h1M723 10h1M744 10h1M17 11h1M22 11h1M29 11h1M31 11h1M37 11h1M51 11h1M54 11h1M67 11h1M72 11h1M93 11h1M99 11h1M107 11h1M110 11h1M640 11h1M684 11h1M719 11h1M722 11h2M745 11h2M16 12h1M32 12h1M43 12h1M54 12h1M67 12h1M72 12h1M97 12h1M640 12h1M716 12h1M719 12h1M722 12h2M745 12h2M15 13h2M32 13h1M42 13h2M55 13h1M97 13h2M707 13h1M717 13h1M719 13h1M723 13h1M745 13h2M15 14h1M38 14h1M42 14h1M44 14h3M55 14h1M63 14h1M98 14h1M707 14h1M717 14h1M723 14h1M745 14h2M13 15h3M38 15h1M42 15h1M44 15h4M50 15h1M56 15h1M63 15h2M708 15h1M711 15h1M717 15h1M724 15h1M14 16h2M38 16h1M42 16h1M44 16h4M50 16h1M56 16h1M63 16h1M710 16h1M715 16h1M725 16h1M743 16h1M14 17h2M38 17h1M42 17h1M44 17h3M50 17h1M56 17h1M63 17h2M98 17h1M710 17h1M715 17h1M718 17h1M728 17h1M744 17h1M15 18h1M32 18h1M38 18h1M42 18h5M50 18h1M55 18h1M63 18h2M98 18h1M710 18h1M715 18h1M718 18h1M728 18h2M737 18h1M743 18h1M0 19h2M4 19h4M12 19h3M39 19h1M41 19h1M44 19h7M56 19h2M60 19h3M64 19h3M708 19h1M711 19h1M717 19h1M719 19h1M724 19h1M728 19h1M744 19h1M746 19h1M3 20h1M722 20h1"/>
<path stroke="#1d1147" d="M0 0h163M165 0h6M174 0h19M195 0h9M208 0h8M219 0h31M254 0h9M265 0h9M278 0h7M289 0h9M301 0h9M311 0h10M324 0h20M348 0h6M357 0h12M371 0h7M381 0h9M393 0h18M415 0h8M426 0h8M439 0h8M448 0h13M462 0h21M487 0h6M496 0h11M510 0h8M521 0h8M533 0h6M543 0h9M554 0h29M584 0h28M615 0h41M657 0h90M170 1h1M195 1h1M265 1h1M289 1h1M301 1h1M311 1h1M333 1h1M353 1h1M368 1h1M377 1h1M393 1h1M448 1h1M462 1h1M472 1h1M482 1h1M492 1h1M533 1h1M538 1h1M543 1h1M551 1h1M554 1h1M655 1h1M657 1h1M166 2h1M220 2h1M233 2h1M279 2h1M308 2h1M342 2h1M401 2h1M445 2h1M505 2h1M568 2h1M581 2h1M335 3h1M349 3h1M372 3h1M382 3h1M416 3h1M421 3h1M427 3h1M488 3h1M511 3h1M516 3h1M522 3h1M569 3h1M610 3h1M616 3h1M231 4h1M256 4h1M267 4h1M295 4h1M313 4h1M351 4h1M366 4h1M375 4h1M395 4h1M408 4h1M464 4h1M549 4h1M201 5h1M213 5h1M222 5h1M282 5h1M405 5h1M431 5h1M441 5h1M443 5h1M526 5h1M571 5h1M579 5h1M126 6h1M128 6h1M156 6h1M177 6h1M384 6h1M398 6h1M477 6h1M479 6h1M524 6h1M572 6h1M155 7h1M186 7h2M199 7h1M224 7h4M242 7h2M316 7h1M361 7h3M453 7h2M467 7h1M500 7h2M588 7h1M606 7h1M152 8h3M180 8h3M596 8h1M601 8h1M622 8h2M645 8h1M648 8h2M666 8h2M670 8h1M693 8h1M75 9h1M87 9h1M117 9h1M121 9h1M132 9h3M144 9h2M148 9h1M634 9h4M643 9h1M675 9h6M694 9h2M697 9h1M700 9h6M713 9h2M726 9h1M730 9h7M739 9h1M741 9h1M33 10h1M35 10h2M69 10h2M82 10h1M84 10h1M91 10h1M109 10h1M119 10h1M147 10h1M685 10h1M696 10h1M710 10h1M715 10h1M724 10h1M728 10h1M743 10h1M18 11h1M21 11h1M23 11h1M26 11h1M28 11h1M30 11h1M52 11h2M71 11h1M73 11h1M78 11h1M83 11h1M92 11h1M94 11h3M101 11h6M111 11h1M639 11h1M641 11h1M682 11h2M707 11h1M717 11h1M17 12h1M22 12h1M27 12h1M29 12h1M31 12h1M37 12h1M51 12h3M78 12h1M93 12h1M96 12h1M99 12h1M104 12h1M106 12h2M110 12h1M639 12h1M683 12h1M707 12h2M717 12h1M724 12h1M17 13h1M22 13h1M27 13h1M31 13h1M37 13h1M54 13h1M67 13h1M72 13h1M93 13h1M99 13h1M107 13h1M110 13h1M640 13h1M708 13h1M711 13h1M16 14h1M22 14h1M32 14h1M43 14h1M54 14h1M67 14h1M72 14h1M93 14h1M97 14h1M107 14h1M640 14h1M708 14h1M711 14h1M715 14h1M724 14h1M744 14h1M16 15h1M27 15h1M32 15h1M43 15h1M55 15h1M93 15h1M98 15h1M710 15h1M715 15h1M728 15h1M744 15h1M16 16h1M32 16h1M43 16h1M55 16h1M97 16h2M712 16h1M718 16h1M727 16h3M737 16h2M742 16h1M16 17h1M22 17h1M27 17h1M32 17h1M37 17h1M43 17h1M54 17h2M72 17h1M93 17h1M97 17h1M99 17h1M640 17h1M706 17h1M709 17h1M712 17h1M725 17h1M727 17h1M729 17h1M737 17h2M743 17h1M16 18h3M22 18h1M27 18h1M29 18h1M31 18h1M37 18h1M51 18h1M53 18h2M67 18h1M72 18h1M93 18h2M97 18h1M99 18h1M106 18h2M110 18h1M640 18h1M706 18h1M709 18h1M712 18h1M725 18h3M738 18h1M741 18h2M15 19h2M32 19h1M38 19h1M42 19h2M51 19h1M55 19h1M63 19h1M72 19h1M93 19h1M96 19h3M640 19h1M709 19h2M712 19h1M715 19h1M718 19h1M725 19h1M727 19h1M729 19h1M737 19h2M743 19h1M0 20h3M4 20h11M39 20h3M47 20h3M56 20h7M64 20h3M707 20h2M716 20h2M719 20h3M723 20h1M745 20h2M3 21h1M7 21h1"/>
<path stroke="#241253" d="M163 0h1M204 0h1M207 0h1M216 0h1M285 0h1M321 0h1M356 0h1M434 0h1M438 0h1M495 0h1M529 0h1M583 0h1M656 0h1M192 1h1M297 1h1M389 1h1M446 1h1M567 1h1M582 1h1M203 2h1M215 2h1M284 2h1M334 2h1M433 2h1M439 2h1M459 2h1M474 2h1M528 2h1M175 3h1M196 3h1M248 3h1M261 3h1M290 3h1M302 3h1M312 3h1M481 3h1M491 3h1M534 3h1M537 3h1M544 3h1M565 3h1M585 3h1M190 4h1M280 4h1M326 4h1M341 4h1M387 4h1M450 4h1M470 4h1M504 4h1M556 4h1M570 4h1M653 4h1M659 4h1M237 5h1M239 5h1M306 5h1M318 5h1M330 5h1M359 5h1M157 6h1M198 6h1M257 6h1M259 6h1M304 6h1M396 6h1M587 6h1M663 6h1M689 6h1M158 7h1M269 7h1M293 7h1M315 7h1M328 7h1M338 7h1M364 7h1M397 7h1M455 7h1M466 7h1M478 7h1M502 7h1M547 7h1M558 7h1M562 7h1M577 7h1M607 7h1M651 7h1M661 7h1M664 7h1M151 8h1M179 8h1M183 8h1M594 8h2M621 8h1M647 8h1M650 8h1M665 8h1M668 8h1M122 9h2M130 9h2M135 9h1M139 9h2M142 9h2M149 9h1M629 9h5M644 9h1M672 9h3M687 9h1M698 9h2M740 9h1M19 10h2M25 10h1M34 10h1M74 10h1M77 10h1M80 10h2M90 10h1M112 10h2M115 10h1M120 10h1M146 10h1M638 10h1M642 10h1M681 10h1M706 10h1M709 10h1M712 10h1M718 10h1M725 10h1M727 10h1M729 10h1M737 10h2M742 10h1M33 11h1M36 11h1M68 11h1M79 11h1M91 11h1M100 11h1M108 11h2M685 11h1M696 11h1M708 11h1M711 11h1M715 11h1M724 11h1M744 11h1M18 12h1M21 12h1M23 12h1M26 12h1M28 12h1M30 12h1M71 12h1M73 12h1M79 12h1M83 12h1M92 12h1M94 12h2M100 12h4M105 12h1M108 12h1M111 12h1M641 12h1M682 12h1M684 12h1M711 12h1M715 12h1M744 12h1M18 13h1M26 13h1M28 13h3M51 13h3M71 13h1M73 13h1M78 13h1M92 13h1M94 13h1M96 13h1M103 13h4M111 13h1M639 13h1M641 13h1M683 13h1M715 13h1M724 13h1M728 13h1M744 13h1M17 14h2M26 14h2M31 14h1M37 14h1M51 14h3M94 14h1M96 14h1M99 14h1M106 14h1M110 14h2M710 14h1M718 14h1M728 14h1M17 15h1M22 15h1M26 15h1M29 15h1M31 15h1M37 15h1M51 15h1M54 15h1M67 15h1M72 15h1M78 15h1M94 15h1M97 15h1M99 15h1M106 15h2M110 15h1M640 15h1M706 15h1M709 15h1M712 15h1M718 15h1M725 15h1M727 15h1M729 15h1M737 15h2M743 15h1M17 16h2M22 16h1M26 16h2M29 16h3M37 16h1M51 16h1M54 16h1M67 16h1M72 16h1M78 16h1M93 16h2M96 16h1M99 16h1M106 16h2M110 16h2M640 16h1M706 16h1M709 16h1M726 16h1M734 16h2M17 17h2M21 17h1M26 17h1M28 17h4M51 17h3M67 17h1M71 17h1M73 17h1M78 17h1M83 17h1M92 17h1M94 17h3M103 17h5M110 17h1M682 17h2M726 17h1M742 17h1M19 18h1M21 18h1M26 18h1M28 18h1M30 18h1M52 18h1M68 18h1M71 18h1M73 18h1M78 18h1M83 18h1M92 18h1M95 18h2M100 18h6M108 18h1M111 18h1M639 18h1M641 18h1M682 18h2M730 18h1M734 18h3M739 18h2M17 19h2M22 19h1M26 19h6M37 19h1M52 19h3M67 19h1M71 19h1M78 19h1M92 19h1M94 19h2M99 19h1M102 19h6M110 19h2M641 19h1M683 19h1M706 19h1M726 19h1M735 19h1M742 19h1M15 20h1M31 20h2M38 20h1M42 20h5M50 20h1M55 20h1M63 20h1M67 20h1M640 20h1M709 20h3M715 20h1M724 20h1M728 20h2M744 20h1M0 21h3M4 21h3M8 21h7M39 21h3M47 21h2M57 21h6M65 21h1M98 21h1M716 21h1M719 21h5M745 21h2"/>
<path stroke="#2c115f" d="M263 0h1M310 0h1M347 0h1M370 0h1M423 0h1M425 0h1M447 0h1M461 0h1M518 0h1M520 0h1M614 0h1M165 1h1M254 1h1M309 1h1M324 1h1M410 1h1M473 1h1M506 1h1M162 2h1M208 2h1M320 2h1M357 2h1M371 2h1M422 2h1M426 2h1M496 2h1M517 2h1M566 2h1M615 2h1M169 3h1M266 3h1M352 3h1M376 3h1M394 3h1M403 3h1M449 3h1M463 3h1M471 3h1M550 3h1M654 3h1M658 3h1M167 4h1M221 4h1M236 4h1M404 4h1M444 4h1M580 4h1M160 5h1M210 5h1M247 5h1M271 5h1M350 5h1M399 5h1M420 5h1M428 5h1M457 5h1M476 5h1M498 5h1M515 5h1M617 5h1M690 5h1M268 6h1M314 6h1M337 6h1M407 6h1M465 6h1M548 6h1M557 6h1M563 6h1M188 7h1M223 7h1M258 7h1M339 7h1M385 7h1M452 7h1M468 7h1M576 7h1M692 7h1M125 8h1M129 8h1M184 8h2M574 8h2M590 8h2M602 8h4M620 8h1M646 8h1M669 8h1M124 9h1M138 9h1M141 9h1M597 9h4M627 9h2M671 9h1M24 10h1M75 10h2M85 10h1M88 10h2M114 10h1M116 10h1M118 10h1M144 10h2M148 10h1M637 10h1M676 10h1M694 10h2M703 10h1M713 10h2M726 10h1M734 10h3M741 10h1M19 11h2M35 11h1M69 11h2M77 11h1M80 11h3M84 11h1M112 11h1M119 11h1M147 11h1M681 11h1M710 11h1M712 11h1M718 11h1M725 11h1M728 11h1M737 11h1M743 11h1M33 12h1M35 12h2M68 12h1M70 12h1M82 12h1M109 12h1M710 12h1M712 12h1M718 12h1M725 12h1M728 12h1M737 12h1M743 12h1M21 13h1M23 13h1M79 13h1M95 13h1M100 13h3M108 13h2M682 13h1M706 13h1M710 13h1M712 13h1M718 13h1M725 13h1M727 13h1M729 13h1M737 13h2M743 13h1M21 14h1M23 14h1M28 14h3M71 14h1M73 14h1M78 14h1M83 14h1M92 14h1M95 14h1M100 14h6M108 14h1M639 14h1M641 14h1M682 14h2M706 14h1M709 14h1M712 14h1M725 14h1M727 14h1M729 14h1M737 14h2M743 14h1M18 15h1M21 15h1M28 15h1M30 15h1M52 15h2M71 15h1M73 15h1M79 15h1M83 15h1M92 15h1M95 15h2M101 15h5M111 15h1M639 15h1M641 15h1M735 15h1M742 15h1M21 16h1M23 16h1M28 16h1M52 16h2M71 16h1M73 16h1M79 16h1M83 16h1M92 16h1M95 16h1M100 16h6M108 16h2M119 16h1M641 16h1M682 16h2M713 16h1M730 16h1M736 16h1M741 16h1M23 17h1M79 17h1M100 17h3M108 17h2M111 17h1M639 17h1M641 17h1M701 17h1M703 17h1M713 17h2M730 17h1M734 17h3M739 17h1M741 17h1M20 18h1M23 18h1M33 18h1M36 18h1M69 18h2M77 18h1M79 18h1M82 18h1M84 18h1M91 18h1M109 18h1M119 18h1M701 18h1M703 18h1M705 18h1M713 18h2M731 18h3M21 19h1M23 19h1M33 19h1M68 19h1M70 19h1M73 19h1M79 19h1M83 19h2M91 19h1M100 19h2M108 19h2M119 19h1M639 19h1M682 19h1M701 19h1M703 19h3M713 19h2M730 19h1M734 19h1M736 19h1M739 19h1M741 19h1M16 20h3M26 20h5M37 20h1M53 20h2M72 20h2M78 20h1M83 20h1M92 20h3M97 20h4M103 20h5M110 20h2M639 20h1M641 20h1M683 20h2M696 20h1M706 20h1M712 20h1M718 20h1M725 20h1M727 20h1M737 20h2M742 20h2M15 21h2M27 21h1M32 21h1M38 21h1M42 21h1M44 21h3M49 21h2M55 21h2M63 21h2M66 21h2M96 21h2M640 21h1M707 21h2M710 21h2M715 21h1M717 21h1M724 21h1M744 21h1M2 22h2M8 22h1M10 22h1M40 22h2M60 22h1M65 22h1M722 22h1"/>
<path stroke="#36106b" d="M173 0h1M194 0h1M264 0h1M274 0h1M380 0h1M509 0h1M612 0h1M216 1h1M219 1h1M278 1h1M343 1h1M460 1h1M234 2h1M262 2h1M402 2h1M510 2h1M521 2h1M584 2h1M611 2h1M191 3h1M235 3h1M367 3h1M388 3h1M555 3h1M202 4h1M214 4h1M232 4h1M283 4h1M307 4h1M331 4h1M432 4h1M527 4h1M291 5h1M336 5h1M373 5h1M383 5h1M417 5h1M489 5h1M512 5h1M523 5h1M545 5h1M609 5h1M189 6h1M238 6h1M240 6h1M281 6h1M294 6h1M327 6h1M340 6h1M365 6h1M374 6h1M386 6h1M451 6h1M469 6h1M503 6h1M652 6h1M660 6h1M200 7h1M212 7h1M228 7h1M241 7h1M329 7h1M430 7h1M525 7h1M572 7h1M578 7h1M662 7h1M186 8h1M573 8h1M589 8h1M592 8h2M688 8h1M136 9h2M182 9h1M596 9h1M623 9h4M645 9h1M666 9h2M693 9h1M86 10h2M117 10h1M121 10h1M133 10h3M143 10h1M631 10h1M634 10h3M643 10h2M675 10h1M677 10h2M680 10h1M686 10h1M697 10h5M704 10h2M730 10h4M739 10h2M25 11h1M34 11h1M74 11h1M90 11h1M113 11h1M115 11h1M118 11h1M146 11h1M638 11h1M642 11h1M706 11h1M709 11h1M727 11h1M729 11h1M738 11h1M742 11h1M19 12h2M69 12h1M77 12h1M80 12h2M84 12h1M91 12h1M119 12h1M147 12h1M681 12h1M696 12h1M709 12h1M727 12h1M729 12h1M738 12h1M742 12h1M19 13h2M33 13h1M36 13h1M68 13h3M83 13h1M91 13h1M684 13h1M709 13h1M742 13h1M19 14h1M33 14h1M35 14h2M68 14h1M79 14h1M109 14h1M119 14h1M726 14h1M735 14h1M742 14h1M23 15h1M33 15h1M36 15h1M68 15h1M77 15h1M100 15h1M108 15h2M682 15h2M726 15h1M730 15h1M734 15h1M736 15h1M741 15h1M19 16h1M33 16h1M36 16h1M68 16h1M70 16h1M77 16h1M80 16h1M91 16h1M112 16h1M639 16h1M701 16h1M703 16h1M705 16h1M714 16h1M733 16h1M739 16h1M19 17h2M33 17h1M35 17h2M68 17h1M70 17h1M77 17h1M80 17h3M84 17h1M91 17h1M112 17h1M119 17h1M681 17h1M700 17h1M702 17h1M704 17h2M731 17h3M740 17h1M25 18h1M34 18h2M74 18h1M76 18h1M80 18h2M85 18h1M89 18h2M112 18h5M118 18h1M146 18h1M642 18h1M681 18h1M700 18h1M702 18h1M704 18h1M19 19h2M35 19h2M69 19h1M77 19h1M82 19h1M90 19h1M112 19h4M118 19h1M120 19h1M146 19h1M642 19h1M681 19h1M684 19h1M700 19h1M702 19h1M731 19h3M740 19h1M19 20h1M21 20h3M33 20h1M51 20h2M68 20h1M71 20h1M77 20h1M79 20h1M81 20h1M84 20h1M91 20h1M95 20h2M101 20h2M108 20h2M118 20h2M147 20h1M682 20h1M685 20h1M713 20h1M726 20h1M730 20h1M734 20h3M739 20h3M17 21h2M22 21h1M26 21h1M28 21h4M37 21h1M43 21h1M53 21h2M72 21h1M78 21h1M83 21h1M92 21h3M99 21h1M103 21h5M110 21h2M639 21h1M682 21h3M709 21h1M712 21h1M718 21h1M725 21h1M737 21h1M743 21h1M0 22h2M4 22h4M9 22h1M11 22h4M32 22h1M38 22h2M42 22h1M44 22h7M56 22h4M61 22h2M64 22h1M66 22h1M103 22h1M716 22h1M720 22h2M723 22h1M745 22h2"/>
<path stroke="#3f0f72" d="M171 0h1M250 0h1M288 0h1M354 0h1M369 0h1M414 0h1M486 0h1M493 0h1M532 0h1M542 0h1M552 0h1M163 1h1M356 1h1M174 2h1M195 2h1M273 2h1M311 2h1M348 2h1M381 2h1M462 2h1M472 2h1M487 2h1M655 2h1M657 2h1M255 3h1M296 3h1M325 3h1M332 3h1M409 3h1M445 3h1M581 3h1M209 4h1M358 4h1M400 4h1M440 4h1M458 4h1M475 4h1M497 4h1M168 5h1M176 5h1M230 5h1M260 5h1M303 5h1M535 5h2M564 5h1M586 5h1M127 6h1M222 6h1M229 6h1M405 6h1M443 6h1M526 6h1M579 6h1M691 6h1M126 7h1M128 7h1M159 7h1M305 7h1M317 7h1M360 7h1M406 7h1M419 7h1M429 7h1M442 7h1M477 7h1M499 7h1M513 7h2M618 7h1M155 8h1M178 8h1M187 8h1M225 8h3M244 8h1M316 8h1M361 8h1M453 8h2M560 8h1M588 8h1M606 8h1M619 8h1M150 9h5M180 9h2M183 9h1M594 9h2M601 9h1M622 9h1M648 9h3M668 9h1M670 9h1M122 10h1M130 10h3M142 10h1M149 10h1M629 10h2M632 10h2M673 10h2M679 10h1M687 10h1M702 10h1M24 11h1M75 11h2M85 11h5M114 11h1M116 11h2M120 11h1M134 11h1M148 11h1M676 11h2M686 11h1M694 11h2M703 11h1M705 11h1M726 11h1M734 11h3M740 11h2M25 12h1M34 12h1M74 12h1M90 12h1M112 12h5M118 12h1M120 12h1M146 12h1M638 12h1M642 12h1M685 12h1M706 12h1M726 12h1M734 12h2M35 13h1M77 13h1M80 13h3M84 13h1M90 13h1M112 13h1M115 13h1M119 13h1M681 13h1M726 13h1M730 13h1M735 13h1M20 14h1M69 14h2M77 14h1M80 14h3M84 14h1M91 14h1M112 14h1M642 14h1M681 14h1M701 14h1M703 14h1M730 14h1M734 14h1M736 14h1M19 15h2M35 15h1M69 15h2M80 15h3M91 15h1M119 15h1M703 15h1M705 15h1M713 15h2M733 15h1M739 15h1M20 16h1M25 16h1M35 16h1M69 16h1M74 16h3M81 16h2M84 16h1M113 16h3M118 16h1M120 16h1M642 16h1M681 16h1M700 16h1M702 16h1M704 16h1M731 16h2M740 16h1M25 17h1M34 17h1M69 17h1M74 17h1M89 17h2M113 17h4M118 17h1M146 17h1M642 17h1M24 18h1M75 18h1M86 18h1M88 18h1M117 18h1M120 18h1M147 18h1M638 18h1M684 18h1M697 18h1M24 19h2M34 19h1M74 19h3M80 19h2M85 19h2M88 19h2M116 19h2M145 19h1M147 19h1M638 19h1M696 19h2M699 19h1M20 20h1M35 20h2M70 20h1M74 20h1M76 20h1M80 20h1M82 20h1M90 20h1M112 20h1M116 20h2M120 20h1M146 20h1M638 20h1M642 20h1M681 20h1M695 20h1M700 20h2M703 20h3M714 20h1M731 20h3M19 21h3M23 21h1M33 21h1M36 21h1M68 21h1M71 21h1M73 21h1M77 21h1M79 21h1M84 21h1M91 21h1M95 21h1M100 21h1M108 21h2M112 21h3M119 21h1M147 21h1M641 21h1M681 21h1M685 21h1M696 21h1M706 21h1M713 21h2M726 21h4M734 21h2M738 21h1M742 21h1M15 22h4M31 22h1M37 22h1M43 22h1M53 22h3M63 22h1M67 22h1M72 22h1M78 22h1M93 22h1M96 22h3M104 22h4M111 22h1M640 22h1M684 22h1M707 22h1M710 22h2M717 22h1M719 22h1M724 22h1M737 22h2M744 22h1M0 23h4M14 23h2M39 23h4M47 23h2M56 23h5M716 23h1M722 23h1M2 31h2M59 32h1"/>
<path stroke="#471078" d="M193 0h1M300 0h1M378 0h1M392 0h1M483 0h1M539 0h1M553 0h1M204 1h1M285 1h1M321 1h1M370 1h1M423 1h1M434 1h1M495 1h1M518 1h1M529 1h1M583 1h1M656 1h1M170 2h1M192 2h1M249 2h1M265 2h1M289 2h1M333 2h1M353 2h1M368 2h1M377 2h1M415 2h1M448 2h1M492 2h1M543 2h1M551 2h1M166 3h1M220 3h1M233 3h1M279 3h1M308 3h1M401 3h1M505 3h1M161 4h1M319 4h1M372 4h1M421 4h1M427 4h1M511 4h1M516 4h1M522 4h1M569 4h1M610 4h1M616 4h1M197 5h1M231 5h1M267 5h1M295 5h1M313 5h1M351 5h1M375 5h1M395 5h1M464 5h1M480 5h1M490 5h1M549 5h1M653 5h1M201 6h1M213 6h1M237 6h1M282 6h1M306 6h1M330 6h1M431 6h1M441 6h1M571 6h1M156 7h1M177 7h1M211 7h1M246 7h1M270 7h1M292 7h1M384 7h1M398 7h1M456 7h1M524 7h1M608 7h1M663 7h1M689 7h1M158 8h1M188 8h1M199 8h1M224 8h1M242 8h2M245 8h1M315 8h1M338 8h1M362 8h2M452 8h1M455 8h1M467 8h1M478 8h1M500 8h2M547 8h1M559 8h1M561 8h1M576 8h2M651 8h1M661 8h1M692 8h1M179 9h1M603 9h1M621 9h1M646 9h2M665 9h1M123 10h2M139 10h1M141 10h1M628 10h1M672 10h1M133 11h1M145 11h1M634 11h2M643 11h1M675 11h1M678 11h3M700 11h2M704 11h1M713 11h2M730 11h1M732 11h2M739 11h1M24 12h1M75 12h2M85 12h5M117 12h1M145 12h1M148 12h1M643 12h1M703 12h1M713 12h1M730 12h1M736 12h1M739 12h1M741 12h1M25 13h1M74 13h1M89 13h1M113 13h2M116 13h1M118 13h1M146 13h2M638 13h1M642 13h1M703 13h1M705 13h1M713 13h2M734 13h1M736 13h1M739 13h1M741 13h1M24 14h2M34 14h1M74 14h1M90 14h1M113 14h4M118 14h1M146 14h2M638 14h1M684 14h1M700 14h1M704 14h2M713 14h2M731 14h1M733 14h1M739 14h1M741 14h1M25 15h1M34 15h1M74 15h1M76 15h1M84 15h1M89 15h2M112 15h4M118 15h1M146 15h1M638 15h1M642 15h1M681 15h1M700 15h2M704 15h1M731 15h2M740 15h1M24 16h1M34 16h1M85 16h1M89 16h2M116 16h1M146 16h1M684 16h1M24 17h1M75 17h2M85 17h1M88 17h1M117 17h1M120 17h1M147 17h1M638 17h1M684 17h1M699 17h1M87 18h1M145 18h1M643 18h1M676 18h2M696 18h1M699 18h1M87 19h1M144 19h1M676 19h3M698 19h1M24 20h2M34 20h1M69 20h1M75 20h1M85 20h1M88 20h2M113 20h3M134 20h1M145 20h1M148 20h1M643 20h1M676 20h2M697 20h1M699 20h1M702 20h1M24 21h2M34 21h2M51 21h2M76 21h1M80 21h3M85 21h1M88 21h3M102 21h1M118 21h1M146 21h1M638 21h1M642 21h1M700 21h2M703 21h3M730 21h4M736 21h1M739 21h1M741 21h1M19 22h1M21 22h3M26 22h5M33 22h1M35 22h2M71 22h1M73 22h1M77 22h1M79 22h1M83 22h2M89 22h1M92 22h1M94 22h2M99 22h2M102 22h1M108 22h1M110 22h1M112 22h3M119 22h1M147 22h1M639 22h1M641 22h1M682 22h2M685 22h1M696 22h1M708 22h2M712 22h1M715 22h1M718 22h1M725 22h1M728 22h2M735 22h2M742 22h2M4 23h4M10 23h4M16 23h1M26 23h7M37 23h2M43 23h4M49 23h1M54 23h2M61 23h2M64 23h3M78 23h1M97 23h2M104 23h1M110 23h2M708 23h3M717 23h1M720 23h2M723 23h1M745 23h1M6 24h1M14 24h1M14 28h1M2 30h1M9 30h1M40 30h1M8 32h2M57 32h2M60 32h1M111 33h1"/>
<path stroke="#51127c" d="M164 0h1M323 0h1M207 1h1M263 1h1M310 1h1M425 1h1M438 1h1M447 1h1M520 1h1M614 1h1M301 2h1M482 2h1M533 2h1M554 2h1M567 2h1M582 2h1M215 3h1M334 3h1M342 3h1M459 3h1M474 3h1M528 3h1M568 3h1M261 4h1M272 4h1M335 4h1M349 4h1M382 4h1M416 4h1M488 4h1M565 4h1M585 4h1M190 5h1M326 5h1M366 5h1M387 5h1M404 5h1M450 5h1M470 5h1M556 5h1M570 5h1M659 5h1M160 6h1M210 6h1M318 6h1M359 6h1M399 6h1M420 6h1M428 6h1M457 6h1M476 6h1M498 6h1M512 6h1M617 6h1M157 7h1M198 7h1M304 7h1M314 7h1M337 7h1M418 7h1M465 7h1M546 7h1M548 7h1M563 7h1M587 7h1M652 7h1M228 8h1M269 8h1M293 8h1M328 8h1M364 8h1M385 8h1M397 8h1M466 8h1M468 8h1M502 8h1M558 8h1M562 8h1M572 8h1M578 8h1M607 8h1M664 8h1M129 9h1M184 9h2M574 9h1M589 9h5M602 9h1M604 9h1M620 9h1M669 9h1M688 9h1M136 10h3M140 10h1M597 10h4M627 10h1M645 10h1M671 10h1M693 10h1M121 11h2M132 11h1M135 11h1M144 11h1M630 11h2M636 11h2M644 11h1M674 11h1M687 11h1M697 11h3M702 11h1M731 11h1M133 12h2M631 12h1M676 12h2M680 12h1M686 12h1M695 12h1M700 12h2M704 12h2M714 12h1M731 12h3M740 12h1M24 13h1M34 13h1M75 13h2M85 13h2M88 13h1M117 13h1M120 13h1M676 13h1M685 13h1M696 13h1M700 13h2M704 13h1M732 13h2M740 13h1M75 14h2M85 14h2M88 14h2M117 14h1M120 14h1M145 14h1M702 14h1M732 14h1M740 14h1M24 15h1M75 15h1M85 15h1M116 15h1M120 15h1M676 15h1M684 15h1M702 15h1M86 16h1M88 16h1M117 16h1M133 16h1M145 16h1M147 16h1M638 16h1M643 16h1M676 16h2M697 16h1M699 16h1M86 17h2M145 17h1M676 17h2M697 17h1M133 18h1M635 18h1M680 18h1M698 18h1M121 19h1M133 19h2M643 19h1M679 19h2M685 19h1M86 20h1M133 20h1M678 20h1M694 20h1M698 20h1M69 21h2M74 21h2M101 21h1M115 21h1M117 21h1M120 21h1M133 21h2M148 21h1M676 21h1M694 21h2M699 21h1M702 21h1M740 21h1M20 22h1M24 22h2M34 22h1M51 22h2M68 22h1M70 22h1M76 22h1M80 22h3M85 22h1M90 22h2M109 22h1M118 22h1M120 22h1M146 22h1M642 22h1M706 22h1M713 22h2M726 22h2M730 22h1M734 22h1M739 22h1M741 22h1M8 23h2M17 23h1M22 23h2M25 23h1M33 23h1M35 23h1M50 23h1M53 23h1M67 23h1M72 23h3M77 23h1M79 23h1M81 23h1M93 23h4M99 23h1M103 23h1M105 23h2M112 23h1M640 23h2M682 23h4M707 23h1M711 23h1M718 23h2M725 23h1M737 23h1M743 23h2M746 23h1M3 24h3M7 24h4M15 24h1M40 24h3M57 24h1M59 24h1M62 24h1M64 24h2M78 24h1M111 24h1M745 24h1M111 25h1M745 25h1M47 26h2M59 26h1M716 26h1M3 27h1M9 27h1M57 27h1M59 27h1M8 28h1M40 28h1M9 29h2M738 29h1M3 30h1M8 30h1M10 30h1M54 30h1M1 31h1M4 31h1M9 31h2M13 31h2M38 31h1M40 31h3M48 31h2M57 31h1M111 31h1M722 31h1M1 32h2M6 32h2M14 32h2M40 32h1M56 32h1M61 32h1M65 32h1M78 32h1M93 32h1M110 32h2M119 32h1M3 33h3M14 33h2M31 33h3M38 33h1M57 33h3M81 33h1M83 33h2M2 34h2M9 34h2M40 34h1M59 34h1M67 34h2M722 34h1M65 35h1"/>
<path stroke="#59157e" d="M194 1h1M264 1h1M461 1h1M612 1h1M165 2h1M309 2h1M324 2h1M393 2h1M446 2h1M473 2h1M538 2h1M162 3h1M203 3h1M208 3h1M284 3h1M320 3h1M357 3h1M371 3h1M422 3h1M426 3h1M496 3h1M566 3h1M615 3h1M169 4h1M175 4h1M196 4h1M248 4h1M266 4h1M290 4h1M312 4h1M352 4h1M394 4h1M463 4h1M491 4h1M534 4h1M544 4h1M658 4h1M167 5h1M221 5h1M236 5h1M256 5h1M307 5h1M331 5h1M408 5h1M444 5h1M504 5h1M580 5h1M239 6h1M271 6h1M291 6h1M336 6h1M350 6h1M373 6h1M383 6h1M489 6h1M515 6h1M523 6h1M586 6h1M609 6h1M690 6h1M189 7h1M229 7h1M238 7h1M259 7h1M268 7h1M294 7h1M327 7h1M365 7h1M374 7h1M396 7h1M451 7h1M479 7h1M660 7h1M128 8h1M159 8h1M212 8h1M223 8h1M241 8h1M258 8h1M329 8h1M339 8h1M406 8h1M456 8h1M477 8h1M525 8h1M662 8h1M125 9h1M178 9h1M186 9h1M226 9h1M316 9h1M453 9h2M573 9h1M575 9h1M605 9h1M619 9h1M150 10h1M153 10h2M181 10h2M595 10h2M601 10h1M623 10h4M649 10h2M666 10h2M123 11h1M130 11h2M142 11h2M149 11h1M628 11h2M632 11h2M673 11h1M121 12h1M144 12h1M630 12h1M634 12h2M637 12h1M644 12h1M674 12h2M678 12h2M694 12h1M697 12h1M699 12h1M702 12h1M87 13h1M133 13h2M145 13h1M643 13h1M677 13h1M702 13h1M731 13h1M87 14h1M133 14h2M643 14h1M676 14h2M696 14h2M699 14h1M86 15h1M88 15h1M117 15h1M133 15h2M145 15h1M147 15h1M677 15h1M696 15h2M699 15h1M87 16h1M134 16h1M675 16h1M680 16h1M698 16h1M133 17h2M634 17h2M643 17h1M680 17h1M696 17h1M698 17h1M121 18h1M134 18h1M144 18h1M634 18h1M636 18h2M644 18h1M675 18h1M678 18h2M685 18h1M143 19h1M630 19h2M634 19h4M644 19h1M675 19h1M695 19h1M87 20h1M121 20h1M144 20h1M630 20h2M635 20h3M675 20h1M680 20h1M686 20h1M86 21h1M116 21h1M145 21h1M634 21h4M643 21h1M677 21h1M680 21h1M686 21h2M697 21h1M74 22h2M88 22h1M101 22h1M117 22h1M133 22h2M145 22h1M148 22h1M643 22h1M681 22h1M686 22h2M694 22h2M700 22h2M703 22h2M731 22h3M740 22h1M18 23h1M21 23h1M24 23h1M34 23h1M36 23h1M63 23h1M71 23h1M75 23h2M80 23h1M82 23h4M89 23h4M100 23h1M102 23h1M107 23h3M113 23h2M119 23h2M145 23h3M639 23h1M642 23h1M677 23h1M681 23h1M686 23h2M694 23h1M696 23h1M712 23h1M715 23h1M724 23h1M728 23h2M736 23h1M738 23h1M742 23h1M1 24h2M11 24h3M16 24h3M22 24h1M26 24h3M32 24h2M35 24h1M37 24h3M44 24h6M55 24h2M58 24h1M60 24h2M66 24h2M77 24h1M83 24h2M92 24h2M99 24h1M110 24h1M112 24h1M640 24h2M707 24h1M716 24h1M722 24h3M728 24h1M744 24h1M746 24h1M0 25h3M4 25h2M9 25h2M14 25h1M31 25h2M40 25h2M44 25h5M57 25h3M62 25h4M77 25h2M110 25h1M640 25h1M684 25h1M716 25h1M2 26h4M9 26h3M14 26h1M18 26h1M38 26h2M44 26h3M49 26h1M57 26h2M60 26h1M65 26h2M111 26h1M640 26h1M2 27h1M7 27h2M14 27h1M32 27h1M40 27h1M44 27h2M58 27h1M60 27h2M65 27h2M99 27h2M104 27h2M716 27h2M722 27h1M2 28h2M5 28h3M9 28h2M13 28h1M15 28h1M39 28h1M41 28h1M47 28h2M57 28h1M59 28h2M65 28h1M78 28h1M111 28h1M720 28h2M2 29h5M8 29h1M11 29h1M14 29h1M21 29h2M34 29h2M40 29h1M46 29h2M59 29h4M65 29h1M78 29h1M708 29h3M722 29h1M737 29h1M1 30h1M7 30h1M33 30h1M35 30h1M38 30h2M41 30h1M47 30h3M53 30h1M55 30h5M62 30h2M79 30h1M111 30h1M707 30h2M721 30h2M5 31h1M8 31h1M11 31h2M15 31h1M18 31h1M27 31h3M37 31h1M39 31h1M43 31h1M47 31h1M50 31h1M56 31h1M58 31h1M62 31h1M65 31h1M72 31h1M78 31h2M91 31h1M103 31h1M110 31h1M119 31h1M640 31h1M707 31h2M716 31h2M720 31h2M723 31h2M728 31h2M743 31h3M3 32h3M10 32h1M13 32h1M16 32h2M27 32h1M32 32h1M37 32h3M41 32h1M45 32h1M54 32h2M62 32h1M67 32h1M71 32h1M79 32h1M83 32h2M92 32h1M94 32h1M97 32h1M105 32h5M118 32h1M635 32h1M683 32h2M717 32h1M1 33h2M6 33h1M8 33h2M13 33h1M29 33h2M34 33h2M39 33h2M45 33h1M47 33h2M60 33h1M62 33h1M64 33h2M72 33h1M79 33h2M82 33h1M85 33h1M93 33h1M105 33h1M110 33h1M112 33h1M119 33h1M147 33h1M1 34h1M4 34h1M8 34h1M11 34h1M27 34h3M41 34h1M48 34h1M60 34h1M77 34h4M84 34h2M97 34h1M111 34h1M681 34h1M687 34h1M712 34h1M721 34h1M723 34h1M743 34h1M14 35h1M27 35h1M29 35h1M31 35h1M48 35h1M59 35h1M117 35h1M681 35h1M683 35h1M710 35h1M713 35h1M728 35h1"/>
<path stroke="#601880" d="M298 0h1M390 0h1M507 0h1M173 1h1M380 1h1M509 1h1M552 1h1M219 2h1M297 2h1M389 2h1M506 2h1M195 3h1M234 3h1M402 3h1M433 3h1M439 3h1M510 3h1M517 3h1M521 3h1M584 3h1M611 3h1M191 4h1M235 4h1M302 4h1M367 4h1M376 4h1M403 4h1M449 4h1M471 4h1M481 4h1M537 4h1M550 4h1M555 4h1M654 4h1M214 5h1M232 5h1M280 5h1M341 5h1M400 5h1M458 5h1M527 5h1M168 6h1M176 6h1M197 6h1M230 6h1M247 6h1M260 6h1M267 6h1M303 6h1M313 6h1M417 6h1M464 6h1M480 6h1M490 6h1M535 6h1M545 6h1M564 6h1M127 7h1M222 7h1M237 7h1M240 7h1M257 7h1M306 7h1M330 7h1M386 7h1M405 7h1M407 7h1M443 7h1M469 7h1M503 7h1M557 7h1M691 7h1M126 8h1M156 8h2M200 8h1M211 8h1M305 8h1M317 8h1M360 8h1M384 8h1M398 8h1M419 8h1M429 8h2M499 8h1M513 8h2M524 8h1M618 8h1M155 9h1M187 9h2M225 9h1M227 9h1M242 9h3M315 9h1M338 9h1M361 9h2M452 9h1M455 9h1M500 9h2M559 9h3M577 9h2M588 9h1M651 9h1M661 9h1M129 10h1M151 10h2M180 10h1M183 10h1M594 10h1M621 10h2M646 10h3M665 10h1M124 11h1M136 11h1M138 11h4M627 11h1M672 11h1M693 11h1M122 12h1M132 12h1M135 12h1M143 12h1M629 12h1M632 12h2M636 12h1M673 12h1M698 12h1M634 13h1M675 13h1M678 13h1M680 13h1M697 13h1M121 14h1M144 14h1M635 14h1M675 14h1M680 14h1M685 14h1M698 14h1M87 15h1M144 15h1M635 15h1M637 15h1M643 15h1M678 15h1M685 15h1M698 15h1M121 16h1M144 16h1M634 16h2M637 16h1M644 16h1M678 16h1M685 16h1M696 16h1M121 17h1M144 17h1M636 17h2M644 17h1M675 17h1M678 17h2M685 17h1M143 18h1M630 18h2M695 18h1M122 19h1M132 19h1M148 19h1M629 19h1M632 19h2M132 20h1M143 20h1M634 20h1M644 20h1M674 20h1M679 20h1M687 20h1M87 21h1M121 21h1M132 21h1M135 21h1M630 21h2M644 21h1M674 21h2M678 21h1M698 21h1M69 22h1M115 22h1M121 22h1M144 22h1M634 22h2M638 22h1M644 22h1M676 22h3M680 22h1M697 22h1M699 22h1M702 22h1M705 22h1M19 23h2M68 23h1M88 23h1M118 23h1M133 23h1M144 23h1M148 23h1M635 23h1M638 23h1M643 23h1M676 23h1M695 23h1M703 23h2M706 23h1M726 23h2M730 23h1M734 23h2M739 23h1M741 23h1M0 24h1M20 24h2M23 24h3M29 24h1M31 24h1M34 24h1M36 24h1M43 24h1M50 24h1M53 24h2M63 24h1M71 24h3M75 24h2M82 24h1M85 24h1M89 24h3M94 24h1M96 24h3M103 24h1M108 24h2M113 24h1M118 24h2M147 24h2M631 24h1M642 24h1M682 24h4M696 24h1M706 24h1M708 24h1M712 24h1M715 24h1M720 24h1M725 24h3M729 24h1M737 24h2M743 24h1M3 25h1M6 25h1M8 25h1M11 25h3M15 25h1M18 25h2M21 25h1M30 25h1M33 25h1M37 25h3M42 25h1M49 25h2M53 25h4M60 25h2M66 25h2M79 25h1M85 25h1M93 25h1M109 25h1M119 25h1M639 25h1M641 25h1M682 25h2M717 25h1M720 25h3M725 25h2M737 25h2M744 25h1M746 25h1M6 26h3M12 26h2M15 26h3M19 26h1M21 26h1M26 26h1M32 26h1M37 26h1M40 26h4M53 26h3M61 26h2M64 26h1M67 26h1M80 26h2M93 26h1M96 26h2M110 26h1M119 26h1M147 26h1M641 26h2M684 26h1M707 26h1M717 26h1M725 26h1M745 26h2M1 27h1M4 27h3M10 27h4M15 27h2M18 27h1M26 27h3M30 27h2M37 27h3M41 27h1M46 27h5M54 27h3M62 27h1M64 27h1M73 27h2M77 27h2M83 27h2M92 27h2M98 27h1M103 27h1M111 27h1M640 27h2M708 27h3M718 27h4M723 27h1M738 27h1M745 27h1M0 28h2M4 28h1M11 28h2M18 28h1M27 28h3M38 28h1M42 28h1M46 28h1M49 28h1M54 28h3M58 28h1M61 28h4M66 28h2M71 28h3M79 28h1M84 28h1M92 28h2M96 28h2M105 28h1M110 28h1M112 28h1M640 28h1M684 28h2M710 28h2M716 28h2M719 28h1M722 28h1M737 28h2M1 29h1M7 29h1M12 29h2M15 29h4M20 29h1M26 29h5M32 29h2M37 29h3M41 29h1M44 29h2M48 29h3M58 29h1M63 29h2M66 29h2M72 29h1M77 29h1M81 29h1M99 29h1M111 29h1M114 29h1M119 29h2M147 29h1M639 29h3M711 29h2M716 29h2M720 29h2M728 29h1M734 29h3M739 29h1M744 29h3M0 30h1M4 30h3M11 30h1M14 30h6M21 30h1M31 30h2M34 30h1M37 30h1M42 30h1M44 30h3M60 30h2M64 30h1M78 30h1M80 30h2M93 30h1M96 30h2M104 30h2M110 30h1M112 30h3M119 30h1M638 30h3M696 30h1M709 30h3M716 30h5M738 30h1M745 30h2M0 31h1M6 31h2M16 31h2M19 31h1M21 31h1M30 31h1M33 31h3M44 31h1M46 31h1M54 31h2M59 31h1M63 31h2M66 31h2M71 31h1M73 31h3M77 31h1M83 31h2M89 31h2M92 31h2M96 31h4M102 31h1M104 31h1M112 31h1M118 31h1M133 31h1M639 31h1M641 31h1M684 31h2M696 31h1M700 31h1M709 31h2M712 31h1M715 31h1M719 31h1M725 31h3M738 31h1M742 31h1M746 31h1M0 32h1M11 32h2M18 32h4M25 32h2M28 32h4M33 32h1M35 32h1M44 32h1M46 32h3M50 32h1M63 32h2M66 32h1M68 32h1M70 32h1M72 32h1M76 32h2M80 32h1M85 32h1M90 32h2M95 32h2M98 32h2M103 32h1M112 32h1M114 32h1M117 32h1M120 32h1M133 32h2M636 32h1M685 32h1M708 32h1M710 32h1M713 32h1M716 32h1M727 32h2M0 33h1M7 33h1M10 33h3M16 33h1M19 33h1M21 33h1M27 33h2M36 33h2M41 33h1M44 33h1M46 33h1M49 33h1M56 33h1M61 33h1M63 33h1M71 33h1M73 33h2M78 33h1M94 33h1M97 33h2M102 33h3M120 33h1M143 33h1M145 33h2M148 33h1M0 34h1M5 34h1M12 34h1M21 34h1M26 34h1M30 34h1M38 34h2M42 34h1M47 34h1M49 34h1M61 34h1M65 34h2M72 34h1M81 34h1M83 34h1M88 34h3M96 34h1M98 34h1M105 34h1M112 34h1M114 34h1M119 34h2M133 34h1M143 34h2M636 34h1M638 34h5M682 34h2M685 34h1M694 34h3M700 34h2M710 34h1M713 34h1M716 34h2M719 34h2M729 34h1M731 34h1M738 34h1M740 34h3M744 34h2M9 35h1M13 35h1M15 35h1M21 35h1M28 35h1M30 35h1M32 35h1M37 35h2M40 35h2M45 35h1M47 35h1M49 35h1M58 35h1M60 35h1M62 35h3M71 35h1M76 35h1M78 35h1M84 35h2M93 35h2M103 35h3M111 35h1M118 35h2M133 35h1M143 35h1M639 35h3M680 35h1M682 35h1M684 35h2M687 35h1M708 35h2M711 35h2M721 35h3M727 35h1M729 35h1M737 35h3"/>
<path stroke="#6a1c81" d="M218 0h1M253 0h1M411 0h1M424 0h1M171 1h1M193 1h1M288 1h1M347 1h1M354 1h1M369 1h1M378 1h1M493 1h1M553 1h1M163 2h1M216 2h1M460 2h1M174 3h1M262 3h1M311 3h1M381 3h1M472 3h1M655 3h1M657 3h1M233 4h1M296 4h1M325 4h1M332 4h1M388 4h1M445 4h1M581 4h1M161 5h1M202 5h1M283 5h1M335 5h1M358 5h1M372 5h1M421 5h1M427 5h1M432 5h1M475 5h1M497 5h1M190 6h1M351 6h1M366 6h1M375 6h1M395 6h1M404 6h1M470 6h1M536 6h1M549 6h1M556 6h1M653 6h1M659 6h1M213 7h1M281 7h2M340 7h1M431 7h1M526 7h1M571 7h1M579 7h1M177 8h1M198 8h1M259 8h1M270 8h1M292 8h1M314 8h1M337 8h1M442 8h1M465 8h1M548 8h1M563 8h1M587 8h1M608 8h1M663 8h1M689 8h1M158 9h1M199 9h1M223 9h2M228 9h1M245 9h1M305 9h1M328 9h1M363 9h1M385 9h1M397 9h1M466 9h3M478 9h1M547 9h1M558 9h1M562 9h1M576 9h1M606 9h1M692 9h1M125 10h1M179 10h1M184 10h1M602 10h2M620 10h1M668 10h1M670 10h1M688 10h1M137 11h1M598 11h3M671 11h1M628 12h1M672 12h1M121 13h1M132 13h1M144 13h1M148 13h1M630 13h1M635 13h3M644 13h1M674 13h1M679 13h1M686 13h1M695 13h1M699 13h1M148 14h1M634 14h1M636 14h2M644 14h1M678 14h2M695 14h1M121 15h1M132 15h1M631 15h1M634 15h1M636 15h1M675 15h1M679 15h2M132 16h1M148 16h1M631 16h1M636 16h1M674 16h1M679 16h1M122 17h1M132 17h1M143 17h1M148 17h1M630 17h2M674 17h1M122 18h1M132 18h1M148 18h1M632 18h2M674 18h1M686 18h1M674 19h1M686 19h1M694 19h1M122 20h1M135 20h1M629 20h1M632 20h2M673 20h1M122 21h1M144 21h1M629 21h1M632 21h2M673 21h1M679 21h1M86 22h1M116 22h1M122 22h1M132 22h1M135 22h1M143 22h1M629 22h3M636 22h1M679 22h1M698 22h1M70 23h1M117 23h1M121 23h1M132 23h1M134 23h1M143 23h1M634 23h1M636 23h1M675 23h1M678 23h3M700 23h2M705 23h1M713 23h2M731 23h3M740 23h1M19 24h1M30 24h1M68 24h1M74 24h1M79 24h1M81 24h1M88 24h1M95 24h1M100 24h1M102 24h1M104 24h1M114 24h1M117 24h1M120 24h1M133 24h1M145 24h2M639 24h1M681 24h1M686 24h1M700 24h2M710 24h1M713 24h2M717 24h3M721 24h1M736 24h1M739 24h1M741 24h2M7 25h1M16 25h2M20 25h1M22 25h1M26 25h4M35 25h1M43 25h1M68 25h1M71 25h3M76 25h1M80 25h1M84 25h1M92 25h1M94 25h6M104 25h3M118 25h1M120 25h1M147 25h1M638 25h1M642 25h1M681 25h1M685 25h1M707 25h2M710 25h1M715 25h1M718 25h1M723 25h1M727 25h4M743 25h1M0 26h2M20 26h1M22 26h4M27 26h5M33 26h1M50 26h1M56 26h1M63 26h1M68 26h1M71 26h2M76 26h1M78 26h2M82 26h4M89 26h1M92 26h1M94 26h2M98 26h1M103 26h4M109 26h1M112 26h1M114 26h1M118 26h1M120 26h1M143 26h1M145 26h2M639 26h1M681 26h3M685 26h1M708 26h1M710 26h2M715 26h1M720 26h5M726 26h1M736 26h3M742 26h3M0 27h1M17 27h1M22 27h1M29 27h1M33 27h1M35 27h1M42 27h2M53 27h1M63 27h1M67 27h1M72 27h1M75 27h2M79 27h1M81 27h2M85 27h1M90 27h2M94 27h1M96 27h2M106 27h1M119 27h1M639 27h1M682 27h3M707 27h1M724 27h1M729 27h1M737 27h1M742 27h3M746 27h1M16 28h2M19 28h1M24 28h3M30 28h4M37 28h1M44 28h1M50 28h1M53 28h1M77 28h1M80 28h1M83 28h1M85 28h1M89 28h3M94 28h2M98 28h2M103 28h2M106 28h4M113 28h2M119 28h2M147 28h1M641 28h2M681 28h3M696 28h1M707 28h3M712 28h1M718 28h1M728 28h1M742 28h2M745 28h2M0 29h1M19 29h1M23 29h1M31 29h1M36 29h1M42 29h1M53 29h2M56 29h2M68 29h1M71 29h1M73 29h1M76 29h1M79 29h2M83 29h3M90 29h4M97 29h2M102 29h5M110 29h1M112 29h2M146 29h1M638 29h1M642 29h1M681 29h3M685 29h1M703 29h1M707 29h1M713 29h1M719 29h1M723 29h5M733 29h1M12 30h2M20 30h1M22 30h3M28 30h3M36 30h1M50 30h1M65 30h4M71 30h3M77 30h1M82 30h4M88 30h5M94 30h2M98 30h2M103 30h1M106 30h1M109 30h1M120 30h1M146 30h2M635 30h1M675 30h2M681 30h1M694 30h2M706 30h1M712 30h1M727 30h3M737 30h1M742 30h3M20 31h1M22 31h2M26 31h1M31 31h2M36 31h1M45 31h1M53 31h1M60 31h2M68 31h1M76 31h1M80 31h2M85 31h1M94 31h2M100 31h1M105 31h2M108 31h2M113 31h1M117 31h1M120 31h1M134 31h1M144 31h1M147 31h3M635 31h1M638 31h1M642 31h1M678 31h1M681 31h3M686 31h2M694 31h1M699 31h1M711 31h1M713 31h2M718 31h1M730 31h2M737 31h1M741 31h1M22 32h3M34 32h1M36 32h1M42 32h2M49 32h1M53 32h1M73 32h3M81 32h1M89 32h1M100 32h1M102 32h1M104 32h1M113 32h1M121 32h1M135 32h1M144 32h6M634 32h1M637 32h2M640 32h1M642 32h1M682 32h1M687 32h1M700 32h1M707 32h1M709 32h1M711 32h2M715 32h1M720 32h1M722 32h1M725 32h2M729 32h1M738 32h1M743 32h4M17 33h2M20 33h1M22 33h2M26 33h1M42 33h2M50 33h1M53 33h3M66 33h3M75 33h3M88 33h2M91 33h2M95 33h2M99 33h2M106 33h2M109 33h1M113 33h2M117 33h2M133 33h2M144 33h1M149 33h1M640 33h2M716 33h1M6 34h2M13 34h2M18 34h3M22 34h4M31 34h5M37 34h1M45 34h2M50 34h1M54 34h1M57 34h2M62 34h1M70 34h2M73 34h4M82 34h1M86 34h1M91 34h5M99 34h1M102 34h1M104 34h1M106 34h1M110 34h1M113 34h1M121 34h1M132 34h1M142 34h1M145 34h1M148 34h2M598 34h1M624 34h3M630 34h2M635 34h1M637 34h1M643 34h1M650 34h1M680 34h1M684 34h1M686 34h1M699 34h1M706 34h3M711 34h1M718 34h1M725 34h1M727 34h2M730 34h1M732 34h1M736 34h2M739 34h1M746 34h1M0 35h1M2 35h7M10 35h1M16 35h3M22 35h1M26 35h1M33 35h1M36 35h1M42 35h3M46 35h1M50 35h1M57 35h1M61 35h1M66 35h2M72 35h1M77 35h1M81 35h1M83 35h1M92 35h1M95 35h6M102 35h1M112 35h1M114 35h1M116 35h1M120 35h1M124 35h1M132 35h1M144 35h4M179 35h1M547 35h1M635 35h1M638 35h1M642 35h2M666 35h1M677 35h1M679 35h1M686 35h1M688 35h1M695 35h2M700 35h1M707 35h1M715 35h3M719 35h2M724 35h3M740 35h3"/>
<path stroke="#721f81" d="M217 0h1M355 0h1M494 0h1M519 0h1M613 0h1M164 1h1M250 1h1M274 1h1M300 1h1M392 1h1M486 1h1M532 1h1M204 2h1M254 2h1M278 2h1M356 2h1M370 2h1M410 2h1M423 2h1M495 2h1M583 2h1M656 2h1M170 3h1M265 3h1M273 3h1M289 3h1M301 3h1M333 3h1M348 3h1M353 3h1M368 3h1M377 3h1M448 3h1M462 3h1M487 3h1M492 3h1M551 3h1M554 3h1M166 4h1M220 4h1M308 4h1M401 4h1M409 4h1M459 4h1M505 4h1M568 4h1M209 5h1M319 5h1M440 5h1M511 5h1M516 5h1M522 5h1M565 5h1M569 5h1M585 5h1M610 5h1M616 5h1M167 6h1M221 6h1M231 6h1M236 6h1M256 6h1M280 6h1M295 6h1M326 6h1M331 6h1M387 6h1M444 6h1M450 6h1M504 6h1M570 6h1M580 6h1M160 7h1M176 7h1M201 7h1M239 7h1M318 7h1M359 7h1M373 7h1M383 7h1M399 7h1M420 7h1M428 7h1M441 7h1M457 7h1M476 7h1M498 7h1M512 7h1M609 7h1M617 7h1M189 8h1M229 8h1M246 8h1M268 8h1M294 8h1M304 8h1M365 8h1M374 8h1M405 8h1M418 8h1M451 8h1M479 8h1M546 8h1M652 8h1M660 8h1M691 8h1M212 9h1M241 9h1M258 9h1M269 9h1M293 9h1M317 9h1M329 9h1M364 9h1M477 9h1M499 9h1M502 9h1M607 9h1M662 9h1M664 9h1M185 10h1M573 10h3M589 10h5M604 10h2M651 10h1M669 10h1M150 11h1M153 11h2M180 11h1M596 11h2M623 11h4M645 11h1M666 11h1M123 12h1M130 12h2M142 12h1M149 12h1M687 12h1M143 13h1M629 13h1M631 13h1M633 13h1M694 13h1M698 13h1M122 14h1M132 14h1M143 14h1M630 14h2M674 14h1M686 14h1M143 15h1M148 15h1M630 15h1M632 15h2M644 15h1M674 15h1M686 15h1M695 15h1M122 16h1M143 16h1M630 16h1M632 16h2M686 16h1M695 16h1M629 17h1M632 17h2M673 17h1M686 17h1M695 17h1M131 18h1M629 18h1M673 18h1M694 18h1M130 19h2M135 19h1M142 19h1M628 19h1M673 19h1M130 20h2M142 20h1M628 20h1M130 21h2M143 21h1M628 21h1M672 21h1M87 22h1M130 22h2M628 22h1M632 22h2M637 22h1M674 22h2M51 23h2M86 23h1M101 23h1M115 23h1M122 23h1M135 23h1M149 23h1M630 23h2M637 23h1M673 23h2M697 23h3M702 23h1M70 24h1M80 24h1M105 24h3M132 24h1M134 24h1M144 24h1M630 24h1M635 24h1M638 24h1M643 24h1M676 24h5M694 24h2M697 24h1M703 24h3M709 24h1M711 24h1M730 24h1M732 24h4M740 24h1M23 25h2M34 25h1M36 25h1M70 25h1M74 25h2M81 25h1M83 25h1M89 25h1M91 25h1M100 25h1M102 25h2M107 25h2M112 25h2M133 25h2M146 25h1M148 25h1M635 25h1M643 25h1M677 25h1M686 25h1M695 25h2M706 25h1M709 25h1M711 25h3M719 25h1M724 25h1M731 25h1M735 25h1M739 25h1M742 25h1M34 26h3M73 26h3M77 26h1M90 26h2M99 26h1M102 26h1M107 26h2M113 26h1M133 26h1M144 26h1M148 26h2M635 26h1M638 26h1M643 26h1M676 26h2M686 26h1M696 26h1M701 26h1M703 26h1M706 26h1M709 26h1M712 26h1M718 26h2M727 26h2M735 26h1M19 27h3M23 27h3M34 27h1M36 27h1M68 27h1M71 27h1M80 27h1M88 27h2M95 27h1M102 27h1M107 27h1M110 27h1M112 27h3M118 27h1M120 27h1M147 27h3M638 27h1M642 27h1M681 27h1M685 27h1M695 27h2M700 27h2M703 27h1M706 27h1M711 27h5M725 27h1M727 27h2M730 27h1M739 27h1M741 27h1M20 28h4M35 28h1M43 28h1M45 28h1M68 28h1M76 28h1M81 28h2M88 28h1M100 28h1M102 28h1M133 28h1M146 28h1M148 28h2M635 28h1M639 28h1M686 28h1M713 28h1M715 28h1M723 28h5M729 28h1M741 28h1M744 28h1M24 29h2M55 29h1M70 29h1M74 29h1M82 29h1M88 29h2M94 29h1M96 29h1M100 29h1M107 29h2M117 29h2M121 29h1M133 29h2M145 29h1M148 29h2M631 29h1M634 29h3M643 29h1M680 29h1M684 29h1M686 29h1M694 29h1M696 29h1M700 29h2M704 29h1M706 29h1M715 29h1M718 29h1M729 29h1M732 29h1M740 29h1M742 29h2M25 30h3M43 30h1M70 30h1M74 30h1M100 30h1M102 30h1M107 30h2M117 30h2M133 30h3M145 30h1M148 30h2M634 30h1M636 30h2M641 30h2M677 30h1M682 30h5M704 30h2M713 30h1M715 30h1M723 30h1M726 30h1M730 30h1M739 30h1M741 30h1M24 31h2M70 31h1M82 31h1M107 31h1M114 31h1M135 31h1M143 31h1M145 31h2M630 31h2M634 31h1M643 31h1M676 31h2M679 31h2M695 31h1M698 31h1M701 31h1M703 31h1M706 31h1M734 31h1M736 31h1M739 31h1M69 32h1M82 32h1M88 32h1M122 32h2M132 32h1M143 32h1M639 32h1M641 32h1M681 32h1M686 32h1M696 32h1M701 32h1M706 32h1M714 32h1M718 32h2M721 32h1M723 32h2M733 32h2M737 32h1M739 32h4M24 33h2M69 33h2M86 33h1M90 33h1M108 33h1M115 33h2M121 33h1M129 33h2M132 33h1M135 33h2M138 33h2M141 33h2M639 33h1M682 33h1M684 33h1M686 33h2M715 33h1M717 33h1M722 33h1M725 33h1M738 33h1M745 33h1M15 34h3M36 34h1M43 34h2M53 34h1M55 34h2M63 34h2M69 34h1M100 34h2M103 34h1M107 34h3M115 34h1M118 34h1M122 34h3M130 34h2M134 34h2M137 34h4M146 34h2M150 34h1M597 34h1M599 34h2M623 34h1M627 34h3M632 34h1M634 34h1M644 34h1M665 34h1M675 34h2M679 34h1M688 34h2M693 34h1M702 34h1M704 34h2M709 34h1M714 34h2M724 34h1M726 34h1M735 34h1M1 35h1M11 35h2M19 35h2M23 35h1M25 35h1M34 35h2M39 35h1M56 35h1M68 35h1M70 35h1M75 35h1M79 35h2M82 35h1M86 35h1M88 35h4M106 35h5M113 35h1M115 35h1M121 35h3M125 35h1M129 35h3M134 35h2M137 35h1M139 35h1M141 35h2M148 35h1M151 35h3M178 35h1M180 35h1M304 35h1M442 35h1M471 35h1M477 35h1M548 35h1M575 35h2M586 35h1M624 35h2M634 35h1M637 35h1M644 35h1M650 35h1M667 35h1M672 35h5M678 35h1M690 35h1M694 35h1M697 35h1M699 35h1M701 35h1M704 35h3M714 35h1M718 35h1M730 35h3M735 35h2M743 35h4"/>
<path stroke="#792282" d="M205 0h1M277 0h1M322 0h1M530 0h1M323 1h1M414 1h1M483 1h1M542 1h1M194 2h1M207 2h1M263 2h1M310 2h1M321 2h1M343 2h1M425 2h1M447 2h1M461 2h1M518 2h1M520 2h1M529 2h1M612 2h1M614 2h1M192 3h1M393 3h1M415 3h1M446 3h1M473 3h1M533 3h1M538 3h1M543 3h1M567 3h1M582 3h1M162 4h1M203 4h1M215 4h1M255 4h1M279 4h1M334 4h1M357 4h1M371 4h1M474 4h1M496 4h1M169 5h1M175 5h1M196 5h1M261 5h1M266 5h1M272 5h1M290 5h1M312 5h1M349 5h1M352 5h1M382 5h1M463 5h1M491 5h1M550 5h1M654 5h1M658 5h1M202 6h1M214 6h1M307 6h1M341 6h1M408 6h1M527 6h1M210 7h1M271 7h1M336 7h1M350 7h1M464 7h1M515 7h1M523 7h1M564 7h1M586 7h1M690 7h1M213 8h1M222 8h1M237 8h2M257 8h1M281 8h1M306 8h1M327 8h1M330 8h1M386 8h1M396 8h1M407 8h1M443 8h1M469 8h1M503 8h1M557 8h1M571 8h1M579 8h1M159 9h1M189 9h1M200 9h1M211 9h1M314 9h1M339 9h1M360 9h1M384 9h1M406 9h1M419 9h1M429 9h2M442 9h1M456 9h1M513 9h2M525 9h1M572 9h1M608 9h1M618 9h1M155 10h1M178 10h1M186 10h1M361 10h1M588 10h1M619 10h1M661 10h1M125 11h1M129 11h1M151 11h2M181 11h2M595 11h1M601 11h1M622 11h1M649 11h1M665 11h1M667 11h2M670 11h1M688 11h1M124 12h1M136 12h1M138 12h4M597 12h2M671 12h1M122 13h1M131 13h1M135 13h1M142 13h1M632 13h1M673 13h1M135 14h1M629 14h1M632 14h2M673 14h1M694 14h1M122 15h1M131 15h1M135 15h1M142 15h1M629 15h1M694 15h1M135 16h1M629 16h1M673 16h1M135 17h1M142 17h1M135 18h1M142 18h1M628 18h1M687 19h1M123 20h1M141 20h1M672 20h1M123 21h1M129 21h1M139 21h2M142 21h1M123 22h1M129 22h1M142 22h1M149 22h1M673 22h1M69 23h1M130 23h2M141 23h2M629 23h1M632 23h2M644 23h1M672 23h1M101 24h1M115 24h1M121 24h1M149 24h1M629 24h1M632 24h1M634 24h1M636 24h2M675 24h1M687 24h1M698 24h2M702 24h1M731 24h1M25 25h1M52 25h1M82 25h1M88 25h1M90 25h1M114 25h1M117 25h1M135 25h1M143 25h3M149 25h1M630 25h1M634 25h1M636 25h2M676 25h1M680 25h1M694 25h1M697 25h1M699 25h3M703 25h1M705 25h1M714 25h1M732 25h3M736 25h1M740 25h2M52 26h1M70 26h1M88 26h1M100 26h1M117 26h1M121 26h1M134 26h1M634 26h1M636 26h1M678 26h3M695 26h1M700 26h1M713 26h2M729 26h1M734 26h1M741 26h1M52 27h1M101 27h1M108 27h2M117 27h1M144 27h3M635 27h1M643 27h1M676 27h1M678 27h3M686 27h1M704 27h2M726 27h1M731 27h1M735 27h2M740 27h1M34 28h1M36 28h1M52 28h1M70 28h1M74 28h2M118 28h1M121 28h1M134 28h1M144 28h2M634 28h1M643 28h1M675 28h3M680 28h1M695 28h1M700 28h2M703 28h2M706 28h1M730 28h1M736 28h1M739 28h1M43 29h1M75 29h1M95 29h1M109 29h1M115 29h1M122 29h1M135 29h1M144 29h1M630 29h1M637 29h1M676 29h4M687 29h1M695 29h1M699 29h1M702 29h1M705 29h1M714 29h1M730 29h2M741 29h1M75 30h2M86 30h1M115 30h1M121 30h1M144 30h1M630 30h3M643 30h2M674 30h1M678 30h1M680 30h1M687 30h1M697 30h1M700 30h2M703 30h1M714 30h1M724 30h2M731 30h1M734 30h3M740 30h1M88 31h1M101 31h1M121 31h1M132 31h1M629 31h1M636 31h2M644 31h1M697 31h1M702 31h1M704 31h2M732 31h2M735 31h1M740 31h1M52 32h1M86 32h1M115 32h2M130 32h2M136 32h1M139 32h1M676 32h1M694 32h2M697 32h3M730 32h1M735 32h2M51 33h2M87 33h1M101 33h1M122 33h3M131 33h1M137 33h1M140 33h1M154 33h1M597 33h2M635 33h1M642 33h1M676 33h1M683 33h1M685 33h1M707 33h1M710 33h1M712 33h2M720 33h2M723 33h2M726 33h4M737 33h1M739 33h1M742 33h1M744 33h1M746 33h1M87 34h1M116 34h2M125 34h1M128 34h2M136 34h1M141 34h1M152 34h3M156 34h1M177 34h1M185 34h1M431 34h2M453 34h1M478 34h1M502 34h1M514 34h1M572 34h1M575 34h2M591 34h1M601 34h2M645 34h1M649 34h1M651 34h1M666 34h2M670 34h5M677 34h2M690 34h2M697 34h1M703 34h1M733 34h2M24 35h1M52 35h4M69 35h1M73 35h2M87 35h1M101 35h1M126 35h1M136 35h1M138 35h1M140 35h1M149 35h2M154 35h1M162 35h1M177 35h1M182 35h4M189 35h1M198 35h1M213 35h2M221 35h1M226 35h1M237 35h1M239 35h1M242 35h1M272 35h1M295 35h1M303 35h1M305 35h1M312 35h3M329 35h2M361 35h7M382 35h3M416 35h2M431 35h1M443 35h1M463 35h2M469 35h2M476 35h1M478 35h1M498 35h1M535 35h1M546 35h1M559 35h1M572 35h2M585 35h1M589 35h3M599 35h2M602 35h3M609 35h1M618 35h1M622 35h2M626 35h2M629 35h5M636 35h1M645 35h1M651 35h3M658 35h1M661 35h1M665 35h1M668 35h1M670 35h2M689 35h1M692 35h2M698 35h1M702 35h2M733 35h2"/>
<path stroke="#832681" d="M172 0h1M286 0h1M344 0h1M298 1h1M390 1h1M424 1h1M539 1h1M173 2h1M264 2h1M285 2h1M509 2h1M165 3h1M249 3h1M309 3h1M324 3h1M389 3h1M460 3h1M482 3h1M208 4h1M262 4h1M284 4h1M320 4h1M342 4h1M422 4h1M517 4h1M521 4h1M528 4h1M566 4h1M584 4h1M611 4h1M615 4h1M191 5h1M235 5h1M248 5h1M296 5h1M302 5h1M367 5h1M376 5h1M394 5h1M403 5h1M416 5h1M449 5h1M471 5h1M481 5h1M488 5h1M534 5h1M537 5h1M544 5h1M555 5h1M161 6h1M209 6h1M232 6h1M283 6h1M319 6h1M335 6h1M358 6h1M400 6h1M421 6h1M427 6h1M432 6h1M440 6h1M458 6h1M475 6h1M497 6h1M616 6h1M168 7h1M190 7h1M197 7h1M230 7h1M247 7h1M260 7h1M267 7h1M291 7h1M295 7h1M303 7h1M313 7h1M351 7h1M366 7h1M375 7h1M404 7h1M417 7h1M450 7h1M489 7h2M535 7h2M545 7h1M549 7h1M653 7h1M659 7h1M127 8h1M160 8h1M240 8h1M282 8h1M340 8h1M399 8h1M428 8h1M431 8h1M457 8h1M476 8h1M498 8h1M526 8h1M126 9h1M128 9h1M156 9h1M177 9h1M198 9h1M259 9h1M292 9h1M304 9h1M337 9h1M398 9h1M451 9h1M465 9h1M524 9h1M548 9h1M563 9h1M587 9h1M652 9h1M660 9h1M689 9h1M158 10h1M187 10h2M199 10h1M223 10h1M225 10h4M242 10h4M293 10h1M305 10h1M315 10h2M328 10h2M362 10h3M385 10h1M452 10h3M468 10h1M478 10h1M500 10h3M514 10h1M547 10h1M558 10h5M572 10h1M577 10h2M664 10h1M692 10h1M155 11h1M179 11h1M183 11h2M594 11h1M602 11h1M621 11h1M646 11h3M650 11h1M137 12h1M150 12h1M599 12h2M623 12h2M627 12h1M693 12h1M130 13h1M628 13h1M130 14h2M142 14h1M628 14h1M130 15h1M628 15h1M673 15h1M687 15h1M130 16h2M142 16h1M628 16h1M694 16h1M131 17h1M628 17h1M672 17h1M694 17h1M123 18h1M130 18h1M141 18h1M687 18h1M123 19h1M141 19h1M672 19h1M139 20h2M149 20h1M627 20h1M688 20h1M693 20h1M124 21h1M138 21h1M141 21h1M599 21h2M671 21h1M688 21h1M693 21h1M124 22h1M139 22h3M672 22h1M688 22h1M693 22h1M87 23h1M116 23h1M129 23h1M628 23h1M688 23h1M693 23h1M52 24h1M69 24h1M86 24h1M116 24h1M131 24h1M135 24h1M143 24h1M633 24h1M644 24h1M674 24h1M51 25h1M69 25h1M86 25h1M121 25h2M132 25h1M629 25h1M631 25h1M644 25h1M678 25h2M687 25h1M698 25h1M704 25h1M86 26h1M122 26h1M132 26h1M142 26h1M637 26h1M644 26h1M675 26h1M687 26h1M694 26h1M697 26h1M699 26h1M702 26h1M704 26h2M730 26h2M739 26h2M51 27h1M70 27h1M86 27h1M115 27h1M121 27h1M133 27h3M143 27h1M631 27h1M633 27h2M677 27h1M687 27h1M694 27h1M702 27h1M732 27h1M734 27h1M51 28h1M86 28h1M101 28h1M115 28h1M117 28h1M132 28h1M135 28h1M143 28h1M636 28h3M674 28h1M678 28h2M694 28h1M697 28h1M699 28h1M705 28h1M714 28h1M731 28h5M740 28h1M51 29h2M69 29h1M86 29h1M101 29h1M116 29h1M132 29h1M143 29h1M629 29h1M632 29h2M673 29h3M697 29h2M51 30h2M69 30h1M87 30h1M101 30h1M122 30h1M132 30h1M143 30h1M673 30h1M679 30h1M698 30h2M732 30h1M51 31h2M86 31h1M129 31h3M139 31h1M142 31h1M150 31h1M628 31h1M632 31h2M674 31h2M688 31h1M51 32h1M101 32h1M129 32h1M140 32h3M150 32h1M598 32h1M630 32h4M643 32h2M672 32h4M677 32h1M702 32h4M731 32h2M150 33h1M152 33h2M156 33h1M631 33h1M634 33h1M638 33h1M643 33h2M672 33h1M674 33h1M677 33h1M681 33h1M694 33h1M699 33h2M708 33h2M711 33h1M714 33h1M718 33h2M731 33h1M740 33h2M743 33h1M51 34h2M126 34h2M151 34h1M155 34h1M157 34h1M178 34h6M186 34h2M201 34h2M213 34h1M243 34h2M268 34h1M294 34h1M303 34h1M382 34h3M387 34h1M396 34h2M404 34h4M428 34h1M430 34h1M451 34h2M454 34h1M464 34h1M468 34h1M476 34h2M479 34h1M503 34h1M513 34h1M515 34h1M563 34h2M573 34h1M577 34h3M589 34h2M596 34h1M603 34h3M622 34h1M633 34h1M646 34h3M658 34h1M664 34h1M668 34h2M698 34h1M51 35h1M155 35h2M161 35h1M167 35h1M176 35h1M181 35h1M186 35h1M188 35h1M190 35h1M197 35h1M199 35h1M201 35h2M207 35h3M220 35h1M222 35h1M225 35h1M227 35h1M236 35h1M238 35h1M240 35h2M243 35h5M260 35h1M265 35h3M271 35h1M281 35h1M293 35h2M306 35h1M311 35h1M315 35h1M331 35h2M352 35h2M358 35h2M368 35h1M371 35h4M385 35h1M387 35h1M402 35h3M418 35h2M430 35h1M432 35h1M440 35h2M450 35h5M459 35h1M465 35h1M472 35h1M475 35h1M479 35h1M489 35h1M497 35h1M501 35h3M511 35h1M513 35h4M522 35h2M534 35h1M536 35h1M554 35h3M560 35h1M568 35h2M574 35h1M577 35h2M587 35h2M592 35h7M601 35h1M605 35h1M608 35h1M610 35h1M616 35h2M620 35h2M628 35h1M646 35h1M649 35h1M654 35h1M660 35h1M662 35h1M691 35h1"/>
<path stroke="#8b2981" d="M206 0h1M379 0h1M508 0h1M218 1h1M355 1h1M507 1h1M519 1h1M613 1h1M164 2h1M193 2h1M354 2h1M369 2h1M380 2h1M434 2h1M438 2h1M493 2h1M552 2h1M219 3h1M297 3h1M506 3h1M656 3h1M195 4h1M234 4h1M265 4h1M311 4h1M333 4h1M402 4h1M426 4h1M433 4h1M439 4h1M462 4h1M472 4h1M510 4h1M655 4h1M657 4h1M166 5h1M220 5h1M233 5h1M325 5h1M332 5h1M388 5h1M401 5h1M445 5h1M581 5h1M196 6h1M312 6h1M372 6h1M382 6h1M511 6h1M516 6h1M522 6h1M569 6h1M585 6h1M610 6h1M221 7h1M231 7h1M236 7h1M326 7h1M331 7h1M387 7h1M395 7h1M444 7h1M470 7h1M480 7h1M504 7h1M556 7h1M201 8h1M210 8h1M318 8h1M336 8h1M359 8h1M373 8h1M383 8h1M417 8h1M420 8h1M441 8h1M464 8h1M489 8h1M512 8h1M515 8h1M523 8h1M586 8h1M609 8h1M617 8h1M690 8h1M157 9h1M222 9h1M237 9h2M246 9h1M257 9h1M268 9h1M270 9h1M294 9h1M306 9h1M327 9h1M330 9h1M386 9h1M396 9h1M418 9h1M443 9h1M469 9h1M479 9h1M546 9h1M557 9h1M579 9h1M663 9h1M128 10h1M159 10h1M200 10h1M212 10h1M224 10h1M241 10h1M269 10h1M317 10h1M338 10h1M360 10h1M397 10h2M419 10h1M429 10h2M455 10h2M466 10h2M477 10h1M499 10h1M513 10h1M525 10h1M576 10h1M606 10h2M662 10h1M178 11h1M185 11h1M575 11h1M589 11h3M603 11h2M669 11h1M692 11h1M125 12h1M129 12h1M153 12h2M181 12h2M596 12h1M622 12h1M625 12h2M645 12h1M666 12h2M688 12h1M141 13h1M149 13h1M672 13h1M687 13h1M123 14h1M149 14h1M672 14h1M687 14h1M149 15h1M123 16h1M672 16h1M687 16h1M123 17h1M130 17h1M141 17h1M149 17h1M687 17h1M672 18h1M139 19h2M124 20h1M129 20h1M138 20h1M597 20h3M671 20h1M137 21h1M149 21h1M180 21h1M598 21h1M627 21h1M125 22h1M138 22h1M597 22h4M627 22h1M645 22h1M123 23h1M136 23h1M138 23h3M150 23h1M597 23h2M51 24h1M87 24h1M122 24h1M130 24h1M142 24h1M672 24h2M87 25h1M101 25h1M136 25h1M142 25h1M628 25h1M632 25h2M675 25h1M702 25h1M51 26h1M69 26h1M87 26h1M101 26h1M115 26h1M129 26h3M135 26h1M150 26h1M631 26h1M633 26h1M673 26h2M698 26h1M732 26h2M122 27h1M629 27h2M632 27h1M636 27h2M644 27h1M673 27h3M697 27h1M699 27h1M733 27h1M69 28h1M87 28h1M122 28h1M129 28h3M629 28h5M644 28h1M673 28h1M687 28h1M698 28h1M702 28h1M136 29h1M644 29h1M672 29h1M116 30h1M130 30h1M136 30h1M629 30h1M633 30h1M693 30h1M702 30h1M733 30h1M69 31h1M115 31h2M122 31h1M124 31h1M136 31h1M138 31h1M140 31h2M151 31h1M672 31h2M124 32h1M138 32h1M151 32h3M180 32h3M597 32h1M599 32h2M624 32h2M629 32h1M648 32h3M671 32h1M678 32h3M688 32h1M128 33h1M151 33h1M155 33h1M157 33h1M177 33h1M179 33h4M189 33h1M329 33h1M428 33h1M478 33h1M524 33h1M591 33h1M596 33h1M599 33h1M601 33h2M630 33h1M632 33h2M636 33h2M673 33h1M675 33h1M678 33h1M695 33h2M701 33h1M706 33h1M730 33h1M732 33h5M158 34h1M160 34h2M176 34h1M184 34h1M188 34h2M198 34h1M200 34h1M221 34h2M224 34h3M228 34h4M235 34h2M242 34h1M245 34h2M257 34h4M267 34h1M281 34h2M292 34h2M295 34h1M304 34h2M313 34h1M315 34h4M329 34h1M331 34h1M336 34h3M359 34h3M372 34h1M374 34h1M385 34h2M395 34h1M398 34h2M403 34h1M417 34h4M429 34h1M442 34h1M457 34h2M465 34h1M469 34h1M474 34h2M480 34h1M500 34h2M523 34h1M526 34h1M535 34h2M556 34h1M560 34h1M562 34h1M565 34h1M571 34h1M574 34h1M580 34h1M586 34h1M588 34h1M592 34h1M595 34h1M618 34h1M652 34h1M659 34h1M663 34h1M692 34h1M127 35h2M157 35h2M160 35h1M163 35h1M166 35h1M168 35h1M175 35h1M187 35h1M191 35h2M196 35h1M200 35h1M210 35h1M215 35h1M223 35h2M228 35h4M233 35h1M235 35h1M248 35h1M256 35h4M261 35h1M270 35h1M273 35h1M280 35h1M282 35h2M316 35h2M328 35h1M333 35h5M351 35h1M357 35h1M360 35h1M375 35h2M386 35h1M397 35h5M405 35h4M420 35h1M428 35h2M439 35h1M444 35h1M449 35h1M456 35h1M458 35h1M462 35h1M468 35h1M473 35h2M480 35h1M490 35h1M499 35h2M512 35h1M517 35h1M521 35h1M524 35h1M545 35h1M549 35h2M557 35h2M561 35h1M563 35h2M571 35h1M579 35h2M584 35h1M606 35h2M619 35h1M647 35h2M655 35h1M657 35h1M659 35h1M663 35h2M669 35h1"/>
<path stroke="#932b80" d="M435 0h1M217 1h1M322 1h1M494 1h1M171 2h1M288 2h1M300 2h1M378 2h1M553 2h1M163 3h1M216 3h1M285 3h1M321 3h1M356 3h1M370 3h1M425 3h1M495 3h1M583 3h1M614 3h1M170 4h1M174 4h1M192 4h1M289 4h1M353 4h1M368 4h1M377 4h1M381 4h1M446 4h1M448 4h1M487 4h1M492 4h1M551 4h1M554 4h1M215 5h1M255 5h1M308 5h1M334 5h1M409 5h1M459 5h1M474 5h1M505 5h1M568 5h1M169 6h1M175 6h1M235 6h1M261 6h1M266 6h1M272 6h1M290 6h1M302 6h1M349 6h1M352 6h1M376 6h1M394 6h1M403 6h1M416 6h1M463 6h1M471 6h1M488 6h1M491 6h1M544 6h1M555 6h1M565 6h1M654 6h1M658 6h1M167 7h1M214 7h1M307 7h1M408 7h1M421 7h1M458 7h1M570 7h1M580 7h1M168 8h1M176 8h1M197 8h1M230 8h1M239 8h1M267 8h1M271 8h1M291 8h1M303 8h1M313 8h1M366 8h1M490 8h1M535 8h2M545 8h1M549 8h1M653 8h1M213 9h1M229 9h1M281 9h1M318 9h1M340 9h1M359 9h1M365 9h1M374 9h1M405 9h1M407 9h1M476 9h1M498 9h1M503 9h1M691 9h1M126 10h1M177 10h1M198 10h1M211 10h1M258 10h2M304 10h1M314 10h1M339 10h1M384 10h1M406 10h1M442 10h1M451 10h1M465 10h1M524 10h1M548 10h1M563 10h1M587 10h1M608 10h1M618 10h1M652 10h1M660 10h1M689 10h1M158 11h1M186 11h1M244 11h2M572 11h3M588 11h1M592 11h2M605 11h1M620 11h1M651 11h1M661 11h1M664 11h1M151 12h2M180 12h1M183 12h1M601 12h1M648 12h3M665 12h1M670 12h1M123 13h1M136 13h1M140 13h1M139 14h3M693 14h1M123 15h1M136 15h1M141 15h1M672 15h1M136 16h1M140 16h2M149 16h1M124 17h1M138 17h3M124 18h1M139 18h2M149 18h1M671 18h1M124 19h1M129 19h1M138 19h1M149 19h1M597 19h3M627 19h1M671 19h1M693 19h1M125 20h1M137 20h1M596 20h1M600 20h1M625 20h2M667 20h1M125 21h1M152 21h3M179 21h1M181 21h2M597 21h1M601 21h1M623 21h4M645 21h1M650 21h1M665 21h3M670 21h1M136 22h2M151 22h4M180 22h1M182 22h1M595 22h2M601 22h1M624 22h2M650 22h1M666 22h2M671 22h1M124 23h1M137 23h1M151 23h3M182 23h1M596 23h1M599 23h2M624 23h2M627 23h1M666 23h2M671 23h1M123 24h2M136 24h1M139 24h3M628 24h1M671 24h1M693 24h1M115 25h1M123 25h1M131 25h1M141 25h1M673 25h2M693 25h1M116 26h1M136 26h1M141 26h1M629 26h2M632 26h1M672 26h1M69 27h1M87 27h1M116 27h1M129 27h2M132 27h1M136 27h1M142 27h1M150 27h1M628 27h1M672 27h1M698 27h1M116 28h1M136 28h1M142 28h1M628 28h1M87 29h1M123 29h1M130 29h2M142 29h1M628 29h1M688 29h1M693 29h1M123 30h1M129 30h1M131 30h1M138 30h1M140 30h1M142 30h1M150 30h1M628 30h1M672 30h1M688 30h1M87 31h1M123 31h1M125 31h1M137 31h1M152 31h2M182 31h1M597 31h4M627 31h1M650 31h1M666 31h3M671 31h1M693 31h1M87 32h1M137 32h1M154 32h3M179 32h1M183 32h4M329 32h1M364 32h1M465 32h1M575 32h1M596 32h1M626 32h1M628 32h1M647 32h1M666 32h1M670 32h1M689 32h1M693 32h1M125 33h1M158 33h3M178 33h1M183 33h4M188 33h1M213 33h1M241 33h2M269 33h1M292 33h1M313 33h2M317 33h1M330 33h1M361 33h3M417 33h1M419 33h1M429 33h1M454 33h1M464 33h2M468 33h2M477 33h1M513 33h1M523 33h1M547 33h2M572 33h1M575 33h2M589 33h2M600 33h1M603 33h1M623 33h2M629 33h1M645 33h1M650 33h1M666 33h1M670 33h2M679 33h2M688 33h1M690 33h1M697 33h2M703 33h3M159 34h1M162 34h1M199 34h1M210 34h3M214 34h1M220 34h1M223 34h1M227 34h1M232 34h2M241 34h1M266 34h1M269 34h4M280 34h1M306 34h1M314 34h1M327 34h2M330 34h1M332 34h4M339 34h2M351 34h1M358 34h1M362 34h1M364 34h3M371 34h1M373 34h1M375 34h1M388 34h1M394 34h1M408 34h1M421 34h1M427 34h1M433 34h1M443 34h1M449 34h2M455 34h2M459 34h1M463 34h1M467 34h1M470 34h1M489 34h2M498 34h2M504 34h1M512 34h1M516 34h1M524 34h2M527 34h1M534 34h1M537 34h1M559 34h1M561 34h1M569 34h1M581 34h1M585 34h1M587 34h1M593 34h2M606 34h1M609 34h1M617 34h1M620 34h2M653 34h1M660 34h3M159 35h1M169 35h1M174 35h1M195 35h1M203 35h1M211 35h2M216 35h1M218 35h2M232 35h1M234 35h1M262 35h1M268 35h2M278 35h1M284 35h2M292 35h1M296 35h1M302 35h1M307 35h2M310 35h1M318 35h1M324 35h4M338 35h5M348 35h1M354 35h1M377 35h1M381 35h1M388 35h1M394 35h1M396 35h1M415 35h1M421 35h3M427 35h1M433 35h1M448 35h1M455 35h1M457 35h1M460 35h1M466 35h2M488 35h1M491 35h1M496 35h1M504 35h2M510 35h1M518 35h1M520 35h1M525 35h3M533 35h1M537 35h1M551 35h1M553 35h1M562 35h1M565 35h3M570 35h1M581 35h1M611 35h1"/>
<path stroke="#9c2e7f" d="M299 0h1M391 0h1M437 0h1M172 1h1M205 1h1M253 1h1M379 1h1M530 1h1M323 2h1M347 2h1M392 2h1M486 2h1M532 2h1M194 3h1M204 3h1M207 3h1M254 3h1M263 3h1M278 3h1M310 3h1M410 3h1M423 3h1M447 3h1M461 3h1M518 3h1M520 3h1M529 3h1M612 3h1M273 4h1M301 4h1M348 4h1M393 4h1M415 4h1M533 4h1M543 4h1M567 4h1M582 4h1M162 5h1M279 5h1M320 5h1M342 5h1M357 5h1M371 5h1M422 5h1M496 5h1M528 5h1M566 5h1M584 5h1M191 6h1M248 6h1M325 6h1M332 6h1M367 6h1M449 6h1M481 6h1M534 6h1M537 6h1M550 6h1M581 6h1M161 7h1M202 7h1M209 7h1M232 7h1M256 7h1M280 7h1M283 7h1M341 7h1M358 7h1M372 7h1M382 7h1M400 7h1M427 7h1M432 7h1M440 7h1M475 7h1M497 7h1M511 7h1M527 7h1M616 7h1M190 8h1M221 8h1M231 8h1M236 8h1M247 8h1M260 8h1M295 8h1M326 8h1M350 8h2M375 8h1M387 8h1M395 8h1M404 8h1M450 8h1M470 8h1M480 8h1M556 8h1M564 8h1M570 8h1M580 8h1M659 8h1M160 9h1M201 9h1M210 9h1M240 9h1M282 9h1M303 9h1M313 9h1M383 9h1M420 9h1M428 9h1M431 9h1M441 9h1M457 9h1M512 9h1M515 9h1M526 9h1M571 9h1M586 9h1M609 9h1M617 9h1M156 10h1M189 10h1M222 10h1M229 10h1M246 10h1M268 10h1M270 10h1M292 10h1M294 10h1M306 10h1M327 10h1M337 10h1M365 10h1M374 10h1M386 10h1M396 10h1M405 10h1M418 10h1M431 10h1M443 10h1M469 10h1M479 10h1M503 10h1M546 10h1M557 10h1M579 10h1M663 10h1M159 11h1M177 11h1M199 11h1M212 11h1M223 11h1M225 11h4M243 11h1M269 11h1M305 11h1M316 11h1M338 11h1M361 11h4M385 11h1M397 11h1M419 11h1M429 11h1M452 11h3M468 11h1M478 11h1M499 11h1M547 11h1M558 11h3M576 11h1M619 11h1M662 11h1M155 12h1M179 12h1M184 12h1M590 12h3M594 12h2M602 12h3M621 12h1M646 12h2M668 12h1M124 13h1M129 13h1M138 13h2M150 13h1M598 13h1M627 13h1M671 13h1M693 13h1M124 14h1M136 14h1M138 14h1M124 15h1M138 15h3M693 15h1M124 16h1M138 16h2M598 16h1M627 16h1M671 16h1M693 16h1M136 17h1M671 17h1M693 17h1M136 18h3M597 18h4M627 18h1M693 18h1M137 19h1M596 19h1M600 19h1M624 19h1M645 19h1M666 19h2M688 19h1M136 20h1M150 20h2M154 20h1M180 20h3M595 20h1M624 20h1M645 20h1M666 20h1M668 20h1M136 21h1M151 21h1M155 21h1M177 21h2M183 21h1M572 21h1M590 21h2M595 21h2M622 21h1M649 21h1M651 21h1M668 21h1M150 22h1M155 22h1M177 22h3M181 22h1M183 22h3M314 22h2M327 22h3M396 22h2M420 22h1M476 22h3M502 22h1M559 22h1M572 22h2M587 22h3M591 22h1M593 22h2M602 22h3M620 22h1M622 22h2M626 22h1M646 22h4M660 22h2M665 22h1M668 22h1M670 22h1M692 22h1M125 23h1M154 23h2M179 23h3M183 23h1M329 23h1M589 23h2M594 23h2M601 23h1M623 23h1M626 23h1M645 23h1M647 23h2M650 23h1M665 23h1M125 24h1M129 24h1M138 24h1M150 24h1M154 24h1M598 24h3M624 24h2M627 24h1M688 24h1M116 25h1M124 25h1M130 25h1M139 25h2M150 25h1M598 25h1M672 25h1M688 25h1M123 26h1M138 26h3M598 26h3M628 26h1M688 26h1M123 27h1M131 27h1M139 27h1M141 27h1M671 27h1M688 27h1M693 27h1M140 28h2M150 28h1M598 28h2M666 28h1M672 28h1M693 28h1M124 29h1M129 29h1M140 29h2M150 29h1M597 29h3M671 29h1M124 30h1M139 30h1M141 30h1M671 30h1M128 31h1M154 31h3M180 31h1M183 31h3M596 31h1M601 31h1M623 31h4M645 31h1M647 31h3M665 31h1M670 31h1M689 31h3M125 32h1M128 32h1M157 32h2M178 32h1M189 32h1M213 32h1M313 32h3M328 32h1M330 32h1M361 32h2M365 32h1M464 32h1M478 32h1M513 32h2M576 32h1M591 32h3M601 32h2M604 32h1M623 32h1M627 32h1M646 32h1M651 32h1M660 32h1M665 32h1M667 32h2M690 32h2M127 33h1M161 33h1M176 33h1M187 33h1M190 33h1M197 33h2M226 33h1M228 33h2M236 33h1M239 33h2M259 33h2M268 33h1M270 33h2M281 33h1M293 33h1M306 33h2M315 33h1M318 33h1M327 33h2M338 33h3M364 33h2M384 33h3M405 33h1M407 33h1M418 33h1M420 33h1M427 33h1M430 33h1M443 33h1M453 33h1M466 33h2M470 33h1M476 33h1M479 33h1M514 33h1M525 33h2M558 33h3M563 33h1M573 33h2M579 33h1M586 33h3M592 33h1M594 33h2M618 33h1M622 33h1M625 33h1M628 33h1M646 33h4M651 33h2M665 33h1M667 33h1M689 33h1M691 33h1M693 33h1M702 33h1M167 34h2M175 34h1M190 34h1M196 34h2M234 34h1M237 34h2M247 34h1M256 34h1M262 34h1M283 34h1M291 34h1M302 34h1M307 34h1M311 34h2M319 34h2M326 34h1M350 34h1M352 34h1M357 34h1M363 34h1M367 34h1M376 34h2M400 34h1M416 34h1M441 34h1M444 34h1M466 34h1M471 34h3M497 34h1M511 34h1M522 34h1M533 34h1M546 34h3M555 34h1M557 34h2M566 34h1M568 34h1M570 34h1M607 34h1M610 34h1M616 34h1M619 34h1M654 34h2M657 34h1M165 35h1M193 35h2M204 35h1M206 35h1M249 35h1M255 35h1M263 35h2M279 35h1M301 35h1M309 35h1M319 35h3M347 35h1M349 35h2M356 35h1M370 35h1M389 35h1M393 35h1M395 35h1M409 35h1M424 35h1M445 35h1M461 35h1M487 35h1M492 35h2M495 35h1M506 35h1M519 35h1M532 35h1M552 35h1M582 35h2M612 35h1M614 35h2M656 35h1"/>
<path stroke="#a5317e" d="M287 0h1M531 0h1M206 1h1M277 1h1M286 1h1M411 1h1M508 1h1M218 2h1M250 2h1M274 2h1M298 2h1M390 2h1M414 2h1M424 2h1M483 2h1M507 2h1M519 2h1M539 2h1M542 2h1M613 2h1M264 3h1M343 3h1M369 3h1M380 3h1M509 3h1M552 3h1M165 4h1M249 4h1M297 4h1M309 4h1M324 4h1M389 4h1M460 4h1M473 4h1M482 4h1M506 4h1M538 4h1M195 5h1M203 5h1M208 5h1M234 5h1M262 5h1M284 5h1M311 5h1M402 5h1M426 5h1M433 5h1M439 5h1M462 5h1M517 5h1M521 5h1M611 5h1M615 5h1M655 5h1M657 5h1M166 6h1M220 6h1M233 6h1M255 6h1M296 6h1M308 6h1M388 6h1M445 6h1M459 6h1M505 6h1M175 7h1M272 7h1M319 7h1M335 7h1M349 7h1M516 7h1M522 7h1M565 7h1M569 7h1M585 7h1M610 7h1M658 7h1M161 8h1M167 8h1M214 8h1M232 8h1M256 8h1M280 8h1M283 8h1M307 8h1M331 8h1M408 8h1M444 8h1M458 8h1M504 8h1M527 8h1M127 9h1M176 9h1M190 9h1M197 9h1M260 9h1M267 9h1M271 9h1M291 9h1M295 9h1M336 9h1M350 9h1M373 9h1M399 9h1M417 9h1M464 9h1M489 9h1M523 9h1M535 9h2M564 9h1M653 9h1M659 9h1M157 10h1M201 10h1M213 10h1M237 10h2M257 10h1M281 10h2M330 10h1M407 10h1M420 10h1M476 10h1M515 10h1M526 10h1M571 10h1M126 11h1M128 11h1M156 11h1M188 11h1M198 11h1M200 11h1M211 11h1M224 11h1M241 11h2M258 11h2M268 11h1M292 11h2M304 11h1M314 11h2M317 11h1M328 11h2M337 11h1M339 11h1M360 11h1M384 11h1M398 11h1M406 11h1M430 11h1M442 11h1M455 11h2M465 11h1M467 11h1M469 11h1M477 11h1M479 11h1M500 11h3M513 11h2M524 11h2M546 11h1M548 11h1M561 11h3M577 11h2M587 11h1M606 11h3M618 11h1M660 11h1M689 11h1M178 12h1M185 12h1M573 12h3M588 12h2M593 12h1M605 12h1M620 12h1M651 12h1M669 12h1M692 12h1M137 13h1M597 13h1M599 13h2M688 13h1M129 14h1M137 14h1M150 14h1M597 14h4M627 14h1M671 14h1M129 15h1M150 15h1M597 15h3M627 15h1M671 15h1M688 15h1M129 16h1M137 16h1M150 16h1M597 16h1M599 16h2M688 16h1M137 17h1M150 17h1M597 17h4M627 17h1M125 18h1M129 18h1M150 18h1M623 18h3M645 18h1M666 18h1M688 18h1M125 19h1M136 19h1M153 19h2M180 19h3M625 19h2M668 19h1M152 20h2M155 20h1M177 20h3M183 20h1M572 20h2M594 20h1M601 20h1M622 20h2M647 20h4M665 20h1M670 20h1M150 21h1M176 21h1M184 21h6M213 21h1M242 21h1M257 21h2M282 21h1M294 21h2M304 21h1M316 21h2M327 21h4M340 21h1M359 21h1M361 21h1M364 21h2M373 21h2M383 21h1M397 21h1M417 21h4M428 21h1M430 21h2M454 21h1M465 21h1M477 21h2M498 21h2M536 21h1M547 21h2M559 21h2M573 21h3M588 21h2M592 21h1M594 21h1M602 21h4M621 21h1M646 21h3M669 21h1M692 21h1M126 22h1M158 22h1M186 22h1M188 22h2M213 22h1M222 22h1M226 22h1M242 22h1M246 22h1M281 22h2M292 22h4M316 22h2M330 22h1M360 22h2M364 22h2M373 22h2M384 22h2M398 22h1M419 22h1M428 22h4M442 22h2M451 22h4M465 22h1M479 22h1M501 22h1M503 22h1M512 22h4M523 22h2M526 22h1M547 22h2M557 22h2M563 22h1M574 22h2M579 22h1M590 22h1M592 22h1M605 22h1M608 22h2M618 22h2M621 22h1M651 22h1M669 22h1M177 23h2M184 23h2M244 23h2M315 23h1M327 23h2M330 23h1M429 23h1M560 23h3M575 23h1M588 23h1M591 23h3M602 23h4M620 23h1M622 23h1M649 23h1M651 23h2M668 23h1M692 23h1M137 24h1M153 24h1M595 24h1M597 24h1M601 24h1M623 24h1M626 24h1M670 24h1M129 25h1M138 25h1M180 25h1M597 25h1M599 25h1M627 25h1M645 25h1M666 25h1M671 25h1M124 26h1M137 26h1M151 26h1M597 26h1M623 26h2M627 26h1M650 26h1M693 26h1M124 27h1M138 27h1M140 27h1M151 27h4M599 27h1M625 27h1M627 27h1M666 27h2M123 28h2M138 28h2M597 28h1M600 28h1M627 28h1M667 28h1M671 28h1M688 28h1M137 29h3M151 29h2M595 29h2M600 29h1M602 29h1M624 29h4M650 29h1M670 29h1M128 30h1M137 30h1M151 30h4M156 30h1M180 30h1M596 30h3M625 30h1M627 30h1M645 30h1M666 30h1M691 30h2M126 31h2M157 31h1M178 31h2M181 31h1M186 31h1M574 31h3M591 31h1M594 31h2M602 31h1M621 31h2M646 31h1M651 31h1M669 31h1M692 31h1M126 32h2M159 32h2M177 32h1M187 32h2M198 32h1M212 32h1M221 32h2M226 32h1M229 32h2M236 32h3M244 32h2M257 32h2M267 32h1M294 32h2M306 32h1M316 32h3M327 32h1M337 32h3M359 32h2M363 32h1M366 32h1M373 32h2M384 32h1M397 32h2M428 32h3M442 32h1M452 32h3M477 32h1M479 32h1M503 32h1M515 32h1M548 32h1M557 32h3M562 32h3M573 32h2M586 32h3M594 32h2M603 32h1M618 32h5M645 32h1M652 32h1M658 32h2M661 32h1M664 32h1M669 32h1M692 32h1M126 33h1M162 33h1M167 33h1M175 33h1M199 33h1M209 33h4M214 33h1M222 33h2M225 33h1M227 33h1M230 33h1M237 33h2M243 33h3M258 33h1M267 33h1M272 33h1M282 33h1M291 33h1M294 33h2M304 33h2M312 33h1M316 33h1M331 33h1M336 33h2M341 33h1M360 33h1M366 33h1M373 33h1M383 33h1M387 33h1M396 33h4M404 33h1M406 33h1M416 33h1M421 33h1M431 33h2M442 33h1M451 33h2M455 33h2M489 33h2M498 33h3M503 33h1M511 33h2M515 33h1M549 33h1M556 33h2M561 33h2M564 33h1M570 33h2M577 33h2M580 33h1M593 33h1M604 33h2M617 33h1M619 33h1M621 33h1M626 33h2M653 33h1M668 33h1M692 33h1M163 34h1M169 34h1M174 34h1M191 34h1M195 34h1M208 34h2M215 34h1M239 34h2M248 34h1M261 34h1M263 34h1M278 34h2M341 34h1M349 34h1M353 34h1M381 34h1M389 34h1M393 34h1M401 34h2M415 34h1M422 34h1M426 34h1M434 34h1M440 34h1M448 34h1M460 34h1M462 34h1M481 34h1M488 34h1M491 34h1M505 34h1M517 34h1M521 34h1M528 34h1M544 34h2M549 34h3M554 34h1M567 34h1M582 34h1M584 34h1M608 34h1M611 34h1M615 34h1M656 34h1M164 35h1M170 35h1M173 35h1M205 35h1M217 35h1M250 35h1M274 35h1M277 35h1M290 35h2M297 35h2M300 35h1M323 35h1M346 35h1M369 35h1M378 35h1M380 35h1M390 35h1M392 35h1M410 35h1M414 35h1M425 35h2M434 35h1M438 35h1M446 35h1M481 35h2M494 35h1M509 35h1M528 35h2M538 35h1M543 35h2"/>
<path stroke="#ad347c" d="M275 0h1M346 0h1M485 0h1M299 1h1M344 1h1M205 2h1M217 2h1M355 2h1M494 2h1M171 3h1M173 3h1M193 3h1M354 3h1M378 3h1M434 3h1M438 3h1M493 3h1M553 3h1M163 4h1M216 4h1M219 4h1M370 4h1M656 4h1M170 5h1M174 5h1M192 5h1M265 5h1M289 5h1M301 5h1M333 5h1M353 5h1M368 5h1M381 5h1M448 5h1M472 5h1M492 5h1M510 5h1M551 5h1M554 5h1M582 5h1M162 6h1M203 6h1M215 6h1M279 6h1M320 6h1M334 6h1M342 6h1M357 6h1M401 6h1M409 6h1M474 6h1M496 6h1M528 6h1M568 6h1M169 7h1M191 7h1M196 7h1M235 7h1M261 7h1M266 7h1M290 7h1M302 7h1M312 7h1M352 7h1M367 7h1M376 7h1M403 7h1M416 7h1M449 7h1M463 7h1M471 7h1M488 7h1M491 7h1M534 7h1M537 7h1M544 7h1M550 7h1M555 7h1M654 7h1M202 8h1M209 8h1M335 8h1M341 8h1M358 8h1M372 8h1M400 8h1M421 8h1M427 8h1M432 8h1M475 8h1M497 8h1M511 8h1M516 8h1M522 8h1M569 8h1M610 8h1M616 8h1M168 9h1M221 9h1M236 9h1M239 9h1M247 9h1M256 9h1M351 9h1M366 9h1M375 9h1M387 9h1M395 9h1M404 9h1M444 9h1M450 9h1M470 9h1M480 9h1M490 9h1M545 9h1M549 9h1M556 9h1M690 9h1M127 10h1M160 10h1M168 10h1M210 10h1M240 10h1M260 10h1M318 10h1M340 10h1M351 10h1M359 10h1M373 10h1M383 10h1M399 10h1M428 10h1M441 10h1M457 10h1M498 10h1M512 10h1M523 10h1M535 10h1M586 10h1M609 10h1M617 10h1M653 10h1M691 10h1M157 11h1M187 11h1M189 11h1M213 11h1M222 11h1M229 11h1M237 11h1M246 11h1M257 11h1M270 11h1M294 11h1M306 11h1M330 11h1M365 11h1M374 11h1M386 11h1M396 11h1M405 11h1M418 11h1M443 11h1M451 11h1M466 11h1M498 11h1M503 11h1M557 11h1M579 11h1M652 11h1M663 11h1M126 12h1M128 12h1M158 12h1M186 12h1M242 12h4M315 12h1M397 12h1M477 12h2M572 12h1M576 12h1M606 12h1M619 12h1M664 12h1M125 13h1M151 13h5M182 13h1M596 13h1M601 13h1M623 13h2M645 13h1M670 13h1M125 14h1M153 14h2M596 14h1M601 14h1M645 14h1M688 14h1M125 15h1M137 15h1M152 15h1M154 15h1M600 15h1M624 15h3M125 16h1M624 16h3M645 16h1M667 16h1M670 16h1M125 17h1M129 17h1M154 17h1M623 17h3M645 17h1M666 17h2M688 17h1M151 18h4M180 18h3M596 18h1M622 18h1M626 18h1M667 18h2M670 18h1M150 19h3M155 19h1M179 19h1M183 19h1M595 19h1M601 19h1M622 19h2M649 19h2M665 19h1M670 19h1M184 20h2M420 20h1M574 20h2M589 20h2M602 20h3M620 20h2M646 20h1M669 20h1M692 20h1M158 21h3M168 21h1M197 21h3M201 21h2M211 21h2M221 21h2M225 21h4M241 21h1M243 21h5M256 21h1M259 21h2M267 21h5M281 21h1M292 21h2M303 21h1M305 21h1M313 21h3M318 21h1M326 21h1M336 21h4M360 21h1M362 21h2M375 21h1M384 21h4M396 21h1M398 21h1M405 21h3M429 21h1M441 21h2M451 21h3M455 21h3M464 21h1M466 21h3M476 21h1M479 21h2M489 21h2M500 21h4M512 21h2M524 21h3M535 21h1M545 21h2M558 21h1M563 21h2M578 21h2M586 21h2M593 21h1M608 21h2M617 21h4M652 21h1M659 21h3M689 21h1M128 22h1M159 22h1M168 22h1M187 22h1M197 22h3M201 22h1M210 22h1M223 22h1M225 22h1M227 22h2M241 22h1M243 22h3M247 22h1M257 22h1M268 22h4M291 22h1M303 22h4M313 22h1M318 22h1M326 22h1M337 22h4M351 22h1M359 22h1M362 22h2M366 22h1M375 22h1M383 22h1M386 22h1M395 22h1M399 22h1M405 22h3M418 22h1M441 22h1M455 22h3M464 22h1M466 22h1M468 22h2M489 22h2M498 22h1M500 22h1M525 22h1M527 22h1M535 22h2M546 22h1M556 22h1M560 22h2M577 22h2M586 22h1M617 22h1M652 22h1M659 22h1M689 22h1M126 23h1M128 23h1M158 23h2M186 23h1M198 23h1M213 23h1M222 23h1M226 23h1M237 23h1M243 23h1M246 23h1M257 23h3M268 23h1M292 23h1M294 23h1M304 23h3M314 23h1M316 23h2M337 23h4M364 23h2M384 23h2M397 23h1M405 23h1M419 23h2M428 23h1M430 23h1M442 23h1M452 23h3M465 23h1M468 23h2M477 23h2M502 23h2M513 23h2M524 23h3M535 23h1M547 23h2M558 23h2M563 23h1M572 23h2M576 23h1M587 23h1M608 23h2M618 23h2M621 23h1M646 23h1M660 23h2M664 23h1M670 23h1M152 24h1M155 24h1M181 24h3M573 24h1M594 24h1M596 24h1M602 24h1M645 24h1M647 24h3M665 24h3M125 25h1M137 25h1M155 25h1M179 25h1M181 25h2M600 25h1M649 25h2M665 25h1M667 25h1M125 26h2M128 26h1M152 26h1M155 26h2M179 26h2M183 26h2M596 26h1M645 26h1M666 26h1M671 26h1M125 27h1M128 27h1M137 27h1M155 27h2M180 27h3M185 27h1M597 27h2M600 27h1M623 27h2M668 27h1M670 27h1M689 27h1M128 28h1M137 28h1M151 28h3M180 28h4M665 28h1M668 28h1M670 28h1M125 29h1M153 29h5M178 29h3M185 29h1M329 29h2M573 29h1M601 29h1M603 29h2M623 29h1M645 29h1M648 29h2M666 29h3M692 29h1M125 30h1M127 30h1M155 30h1M178 30h2M181 30h2M189 30h1M590 30h2M599 30h2M623 30h2M647 30h1M649 30h2M665 30h1M667 30h2M670 30h1M690 30h1M177 31h1M187 31h1M222 31h5M229 31h1M243 31h3M292 31h3M305 31h2M313 31h1M315 31h1M330 31h1M364 31h1M384 31h2M428 31h3M442 31h2M452 31h3M457 31h1M464 31h3M468 31h2M479 31h1M498 31h1M514 31h1M547 31h2M559 31h1M572 31h2M589 31h2M592 31h2M603 31h1M620 31h1M652 31h2M664 31h1M190 32h1M210 32h2M214 32h1M225 32h1M227 32h2M231 32h1M239 32h5M246 32h1M259 32h1M268 32h1M282 32h1M293 32h1M303 32h3M307 32h1M312 32h1M336 32h1M340 32h1M383 32h1M385 32h1M396 32h1M399 32h2M404 32h3M420 32h1M427 32h1M431 32h2M441 32h1M451 32h1M456 32h3M463 32h1M466 32h5M476 32h1M480 32h1M498 32h2M502 32h1M512 32h1M523 32h2M526 32h1M547 32h1M556 32h1M560 32h2M569 32h1M572 32h1M577 32h1M589 32h2M605 32h1M608 32h1M617 32h1M653 32h1M662 32h2M168 33h2M191 33h1M201 33h1M221 33h1M224 33h1M231 33h1M235 33h1M246 33h1M257 33h1M261 33h1M280 33h1M303 33h1M319 33h1M325 33h2M332 33h1M335 33h1M342 33h1M359 33h1M367 33h1M371 33h2M374 33h1M382 33h1M388 33h1M395 33h1M400 33h1M403 33h1M408 33h1M415 33h1M444 33h1M449 33h2M457 33h2M463 33h1M471 33h1M480 33h1M488 33h1M497 33h1M501 33h2M522 33h1M527 33h1M546 33h1M565 33h1M585 33h1M620 33h1M654 33h1M660 33h2M669 33h1M166 34h1M170 34h1M192 34h1M194 34h1M203 34h1M219 34h1M255 34h1M264 34h2M273 34h1M284 34h1M290 34h1M296 34h1M308 34h2M321 34h1M325 34h1M342 34h1M348 34h1M356 34h1M368 34h1M378 34h1M409 34h1M423 34h1M425 34h1M439 34h1M445 34h3M461 34h1M496 34h1M506 34h1M509 34h2M532 34h1M552 34h1M614 34h1M171 35h1M254 35h1M275 35h2M286 35h1M288 35h2M322 35h1M343 35h2M355 35h1M391 35h1M435 35h1M447 35h1M483 35h1M486 35h1M507 35h1M530 35h2M539 35h1M542 35h1M613 35h1"/>
<path stroke="#b73779" d="M541 0h1M287 1h1M391 1h1M435 1h1M172 2h1M206 2h1M322 2h1M379 2h1M530 2h1M164 3h1M288 3h1M300 3h1M323 3h1M347 3h1M392 3h1M486 3h1M532 3h1M204 4h1M207 4h1M254 4h1M263 4h1M278 4h1M285 4h1M321 4h1M356 4h1M410 4h1M423 4h1M425 4h1M447 4h1M461 4h1M495 4h1M518 4h1M520 4h1M529 4h1M583 4h1M614 4h1M273 5h1M297 5h1M324 5h1M348 5h1M377 5h1M393 5h1M415 5h1M446 5h1M473 5h1M487 5h1M533 5h1M567 5h1M195 6h1M208 6h1M284 6h1M371 6h1M422 6h1M426 6h1M433 6h1M439 6h1M510 6h1M517 6h1M521 6h1M566 6h1M584 6h1M611 6h1M615 6h1M220 7h1M248 7h1M296 7h1M325 7h1M332 7h1M388 7h1M394 7h1M481 7h1M505 7h1M196 8h1M290 8h1M312 8h1M319 8h1M382 8h1M416 8h1M440 8h1M463 8h1M488 8h1M585 8h1M167 9h1M202 9h1M214 9h1M230 9h1M232 9h1M280 9h1M283 9h1M307 9h1M326 9h1M331 9h1M341 9h1M358 9h1M408 9h1M432 9h1M458 9h1M497 9h1M504 9h1M527 9h1M580 9h1M176 10h1M197 10h1M247 10h1M267 10h1M291 10h1M295 10h1M303 10h1M313 10h1M336 10h1M350 10h1M366 10h1M375 10h1M417 10h1M450 10h1M464 10h1M480 10h1M489 10h2M536 10h1M545 10h1M549 10h1M556 10h1M564 10h1M659 10h1M690 10h1M160 11h1M176 11h1M201 11h1M238 11h1M281 11h2M318 11h1M327 11h1M336 11h1M340 11h1M383 11h1M399 11h1M407 11h1M420 11h1M428 11h1M431 11h1M441 11h1M457 11h1M476 11h1M526 11h1M571 11h1M691 11h1M156 12h1M159 12h1M177 12h1M198 12h1M223 12h1M228 12h1M241 12h1M258 12h1M292 12h2M304 12h2M314 12h1M316 12h1M329 12h1M337 12h3M361 12h5M384 12h1M398 12h1M406 12h1M419 12h1M429 12h2M442 12h1M451 12h6M465 12h2M468 12h2M499 12h4M513 12h2M524 12h2M547 12h1M562 12h2M577 12h2M587 12h1M607 12h2M618 12h1M652 12h1M661 12h1M689 12h1M178 13h4M183 13h1M185 13h1M591 13h2M594 13h1M602 13h1M621 13h2M625 13h2M647 13h4M665 13h4M151 14h2M155 14h1M180 14h4M622 14h5M666 14h3M670 14h1M151 15h1M153 15h1M155 15h1M181 15h3M596 15h1M601 15h1M622 15h2M645 15h1M649 15h2M665 15h2M151 16h5M180 16h1M182 16h1M596 16h1M622 16h2M649 16h1M665 16h2M668 16h1M151 17h3M155 17h1M180 17h4M595 17h2M601 17h2M622 17h1M626 17h1M648 17h3M665 17h1M668 17h1M670 17h1M155 18h1M179 18h1M595 18h1M601 18h1M620 18h2M646 18h5M665 18h1M177 19h2M245 19h1M589 19h1M594 19h1M603 19h2M620 19h2M646 19h3M669 19h1M158 20h3M176 20h1M186 20h1M291 20h2M303 20h2M313 20h4M329 20h2M361 20h1M365 20h2M384 20h2M418 20h2M428 20h4M442 20h2M451 20h4M465 20h1M476 20h3M498 20h2M535 20h1M558 20h1M578 20h1M588 20h1M591 20h3M605 20h1M608 20h2M619 20h1M651 20h1M689 20h1M126 21h1M128 21h1M190 21h1M200 21h1M209 21h2M214 21h1M223 21h2M229 21h1M237 21h1M283 21h1M291 21h1M306 21h1M341 21h1M350 21h2M366 21h1M395 21h1M399 21h1M408 21h1M416 21h1M421 21h1M432 21h1M443 21h1M450 21h1M469 21h1M497 21h1M514 21h2M523 21h1M527 21h1M549 21h1M556 21h2M561 21h2M571 21h1M606 21h1M653 21h1M664 21h1M160 22h1M176 22h1M190 22h1M200 22h1M202 22h1M211 22h2M214 22h1M221 22h1M224 22h1M237 22h1M256 22h1M258 22h3M267 22h1M336 22h1M341 22h1M350 22h1M387 22h1M408 22h1M417 22h1M421 22h1M450 22h1M467 22h1M470 22h1M480 22h1M499 22h1M504 22h1M545 22h1M549 22h1M562 22h1M564 22h1M571 22h1M606 22h1M653 22h1M662 22h1M664 22h1M160 23h1M168 23h1M187 23h3M199 23h3M212 23h1M223 23h1M225 23h1M227 23h2M238 23h1M242 23h1M260 23h1M269 23h2M281 23h2M293 23h1M295 23h1M303 23h1M313 23h1M359 23h3M363 23h1M373 23h2M383 23h1M386 23h1M396 23h1M398 23h1M406 23h2M418 23h1M431 23h1M441 23h1M443 23h1M451 23h1M455 23h3M467 23h1M476 23h1M479 23h2M498 23h1M500 23h2M512 23h1M536 23h1M546 23h1M557 23h1M574 23h1M577 23h1M579 23h1M586 23h1M606 23h2M617 23h1M653 23h1M662 23h1M669 23h1M689 23h1M126 24h1M128 24h1M151 24h1M178 24h3M184 24h2M315 24h1M317 24h1M429 24h2M453 24h2M465 24h1M547 24h1M572 24h1M574 24h3M588 24h4M603 24h2M620 24h3M650 24h1M668 24h1M692 24h1M151 25h4M156 25h2M183 25h1M596 25h1M601 25h1M604 25h1M625 25h2M648 25h1M670 25h1M689 25h1M127 26h1M154 26h1M157 26h1M178 26h1M181 26h2M185 26h1M330 26h1M575 26h1M591 26h1M595 26h1M601 26h2M622 26h1M625 26h2M648 26h2M651 26h1M665 26h1M667 26h2M670 26h1M689 26h1M691 26h1M126 27h1M157 27h1M183 27h1M589 27h3M596 27h1M601 27h1M626 27h1M645 27h1M647 27h4M665 27h1M669 27h1M125 28h1M154 28h2M179 28h1M184 28h1M594 28h3M601 28h1M625 28h1M645 28h1M647 28h4M689 28h1M128 29h1M158 29h1M177 29h1M181 29h4M186 29h1M222 29h2M225 29h1M239 29h1M315 29h1M384 29h1M547 29h1M559 29h2M572 29h1M574 29h1M586 29h2M594 29h1M605 29h1M621 29h2M646 29h2M651 29h1M689 29h1M126 30h1M157 30h1M177 30h1M183 30h3M213 30h1M225 30h2M245 30h1M313 30h4M329 30h2M361 30h2M397 30h1M465 30h1M477 30h1M572 30h2M578 30h1M589 30h1M592 30h4M601 30h5M620 30h3M626 30h1M646 30h1M648 30h1M651 30h1M653 30h1M664 30h1M669 30h1M689 30h1M158 31h3M176 31h1M188 31h3M197 31h2M213 31h1M221 31h1M227 31h2M230 31h1M237 31h1M239 31h1M242 31h1M246 31h1M281 31h2M291 31h1M295 31h1M304 31h1M314 31h1M316 31h2M329 31h1M338 31h2M351 31h1M361 31h3M365 31h1M372 31h3M383 31h1M386 31h1M396 31h2M405 31h3M418 31h4M431 31h2M451 31h1M456 31h1M458 31h1M467 31h1M470 31h1M476 31h3M480 31h1M490 31h1M497 31h1M499 31h5M513 31h1M523 31h1M557 31h2M563 31h1M577 31h3M586 31h3M604 31h1M608 31h1M619 31h1M661 31h3M167 32h2M176 32h1M197 32h1M199 32h3M223 32h2M256 32h1M260 32h1M269 32h3M281 32h1M292 32h1M319 32h1M331 32h1M341 32h1M358 32h1M372 32h1M382 32h1M386 32h1M407 32h2M419 32h1M421 32h1M440 32h1M443 32h1M450 32h1M497 32h1M500 32h2M504 32h1M511 32h1M527 32h1M535 32h2M549 32h1M570 32h2M578 32h2M606 32h2M609 32h1M174 33h1M192 33h1M200 33h1M202 33h1M208 33h1M220 33h1M232 33h3M247 33h1M255 33h2M279 33h1M283 33h1M290 33h1M296 33h1M302 33h1M308 33h1M333 33h2M358 33h1M375 33h1M381 33h1M394 33h1M401 33h1M409 33h1M433 33h1M441 33h1M459 33h1M472 33h1M475 33h1M487 33h1M491 33h1M504 33h1M516 33h1M535 33h2M545 33h1M550 33h1M555 33h1M569 33h1M606 33h2M609 33h1M616 33h1M658 33h2M165 34h1M193 34h1M204 34h1M207 34h1M254 34h1M277 34h1M288 34h2M297 34h1M301 34h1M310 34h1M354 34h1M370 34h1M380 34h1M392 34h1M410 34h1M414 34h1M438 34h1M482 34h1M487 34h1M492 34h1M495 34h1M507 34h1M518 34h1M520 34h1M529 34h1M538 34h1M543 34h1M553 34h1M583 34h1M612 34h2M172 35h1M251 35h1M287 35h1M299 35h1M345 35h1M379 35h1M411 35h1M436 35h2M485 35h1M508 35h1M540 35h1"/>
<path stroke="#bf3a77" d="M251 0h1M413 0h1M484 0h1M540 0h1M437 1h1M531 1h1M253 2h1M277 2h1M286 2h1M411 2h1M508 2h1M218 3h1M274 3h1M298 3h1M390 3h1M414 3h1M424 3h1M483 3h1M519 3h1M539 3h1M542 3h1M613 3h1M194 4h1M264 4h1M310 4h1M343 4h1M354 4h1M380 4h1M509 4h1M552 4h2M612 4h1M165 5h1M219 5h1M249 5h1M309 5h1M389 5h1M460 5h1M482 5h1M506 5h1M538 5h1M543 5h1M170 6h1M174 6h1M234 6h1M262 6h1M265 6h1M289 6h1M311 6h1M333 6h1M353 6h1M377 6h1M381 6h1M402 6h1M448 6h1M462 6h1M472 6h1M492 6h1M655 6h1M657 6h1M166 7h1M215 7h1M233 7h1M255 7h1M308 7h1M357 7h1M401 7h1M409 7h1M445 7h1M459 7h1M474 7h1M496 7h1M568 7h1M581 7h1M169 8h1M175 8h1M191 8h1M220 8h1M235 8h1M261 8h1M266 8h1M272 8h1M302 8h1M349 8h1M352 8h1M367 8h1M376 8h1M388 8h1M394 8h1M403 8h1M449 8h1M471 8h1M481 8h1M491 8h1M534 8h1M537 8h1M544 8h1M550 8h1M565 8h1M654 8h1M658 8h1M161 9h1M209 9h1M231 9h1M312 9h1M319 9h1M372 9h1M382 9h1M400 9h1M421 9h1M427 9h1M440 9h1M475 9h1M511 9h1M516 9h1M522 9h1M570 9h1M585 9h1M610 9h1M616 9h1M167 10h1M190 10h1M202 10h1M221 10h1M230 10h1M236 10h1M239 10h1M256 10h1M271 10h1M307 10h1M326 10h1M387 10h1M395 10h1M404 10h1M432 10h1M470 10h1M504 10h1M527 10h1M580 10h1M168 11h1M190 11h1M197 11h1M210 11h1M240 11h1M247 11h1M260 11h1M267 11h1M271 11h1M291 11h1M303 11h1M313 11h1M350 11h2M359 11h1M373 11h1M387 11h1M417 11h1M464 11h1M470 11h1M480 11h1M490 11h1M512 11h1M515 11h1M523 11h1M545 11h1M564 11h1M609 11h1M617 11h1M659 11h1M157 12h1M187 12h3M199 12h2M211 12h3M224 12h4M229 12h1M237 12h2M246 12h1M259 12h1M268 12h3M294 12h1M306 12h1M317 12h1M327 12h2M330 12h1M360 12h1M374 12h1M385 12h2M396 12h1M405 12h1M443 12h1M467 12h1M476 12h1M479 12h1M503 12h1M523 12h1M546 12h1M548 12h1M557 12h5M579 12h1M660 12h1M662 12h1M177 13h1M184 13h1M186 13h1M304 13h2M477 13h1M558 13h2M572 13h4M589 13h2M593 13h1M595 13h1M603 13h3M619 13h2M646 13h1M651 13h1M669 13h1M692 13h1M126 14h1M179 14h1M595 14h1M602 14h1M620 14h2M646 14h5M665 14h1M692 14h1M180 15h1M184 15h2M595 15h1M621 15h1M647 15h2M667 15h2M670 15h1M179 16h1M181 16h1M183 16h1M595 16h1M601 16h1M621 16h1M647 16h2M650 16h1M669 16h1M179 17h1M184 17h2M594 17h1M603 17h2M621 17h1M646 17h2M177 18h2M183 18h1M329 18h1M573 18h3M594 18h1M602 18h4M619 18h1M669 18h1M128 19h1M184 19h2M244 19h1M246 19h1M573 19h3M587 19h2M590 19h2M593 19h1M602 19h1M605 19h1M619 19h1M651 19h1M692 19h1M126 20h1M128 20h1M168 20h1M187 20h4M198 20h4M210 20h4M221 20h2M225 20h2M237 20h1M244 20h2M257 20h4M267 20h2M270 20h2M281 20h1M293 20h3M305 20h2M317 20h2M326 20h3M337 20h1M339 20h2M350 20h1M359 20h2M362 20h1M364 20h1M373 20h3M383 20h1M386 20h2M395 20h4M405 20h3M417 20h1M421 20h1M432 20h1M441 20h1M450 20h1M457 20h1M464 20h1M466 20h4M480 20h1M489 20h2M500 20h4M512 20h4M523 20h1M526 20h2M536 20h1M545 20h4M557 20h1M559 20h2M562 20h3M571 20h1M577 20h1M579 20h1M587 20h1M617 20h2M652 20h1M659 20h3M664 20h1M161 21h1M167 21h1M175 21h1M248 21h1M272 21h1M280 21h1M349 21h1M358 21h1M372 21h1M382 21h1M440 21h1M470 21h1M504 21h1M511 21h1M516 21h1M537 21h1M577 21h1M580 21h1M607 21h1M616 21h1M662 21h1M156 22h1M167 22h1M209 22h1M229 22h1M272 22h1M280 22h1M283 22h1M307 22h1M331 22h1M358 22h1M372 22h1M404 22h1M432 22h1M440 22h1M444 22h1M497 22h1M511 22h1M516 22h1M522 22h1M576 22h1M580 22h1M607 22h1M691 22h1M156 23h1M176 23h1M210 23h2M221 23h1M224 23h1M229 23h1M236 23h1M241 23h1M247 23h1M267 23h1M271 23h1M291 23h1M318 23h1M326 23h1M336 23h1M350 23h1M362 23h1M366 23h1M375 23h1M387 23h1M395 23h1M399 23h1M417 23h1M464 23h1M466 23h1M499 23h1M515 23h1M523 23h1M527 23h1M545 23h1M549 23h1M564 23h1M571 23h1M578 23h1M659 23h1M691 23h1M158 24h2M177 24h1M186 24h1M213 24h1M225 24h2M228 24h1M242 24h5M258 24h1M293 24h1M304 24h3M314 24h1M316 24h1M329 24h1M338 24h2M360 24h3M405 24h3M419 24h1M442 24h1M452 24h1M456 24h1M468 24h2M513 24h2M548 24h1M559 24h2M563 24h1M587 24h1M592 24h2M605 24h2M618 24h2M646 24h1M651 24h2M660 24h2M664 24h1M669 24h1M689 24h1M126 25h1M128 25h1M158 25h1M178 25h1M184 25h1M513 25h2M547 25h1M572 25h5M589 25h2M602 25h2M619 25h3M623 25h2M646 25h2M664 25h1M668 25h2M692 25h1M153 26h1M158 26h1M177 26h1M328 26h2M429 26h2M442 26h1M454 26h1M498 26h1M573 26h1M576 26h1M588 26h3M594 26h1M604 26h1M646 26h2M652 26h1M690 26h1M692 26h1M127 27h1M158 27h1M179 27h1M184 27h1M186 27h1M189 27h1M429 27h1M572 27h2M575 27h2M592 27h3M602 27h1M604 27h1M646 27h1M690 27h2M126 28h2M156 28h1M185 28h1M244 28h1M267 28h1M306 28h1M330 28h1M429 28h1M547 28h1M575 28h1M589 28h3M593 28h1M602 28h1M621 28h1M623 28h2M626 28h1M669 28h1M690 28h3M126 29h1M159 29h1M176 29h1M189 29h1M224 29h1M226 29h1M229 29h3M237 29h2M240 29h3M244 29h1M258 29h3M304 29h1M313 29h2M316 29h2M328 29h1M338 29h3M361 29h1M364 29h1M383 29h1M385 29h1M405 29h3M420 29h1M429 29h3M442 29h1M453 29h1M457 29h1M468 29h1M476 29h4M498 29h1M503 29h1M513 29h2M526 29h1M546 29h1M548 29h1M575 29h1M578 29h2M588 29h6M618 29h1M620 29h1M652 29h1M665 29h1M669 29h1M690 29h2M158 30h1M186 30h1M188 30h1M190 30h1M199 30h1M201 30h1M212 30h1M214 30h1M224 30h1M230 30h2M244 30h1M246 30h1M257 30h1M281 30h1M304 30h1M331 30h1M339 30h2M360 30h1M363 30h4M373 30h2M384 30h1M386 30h1M396 30h1M398 30h2M404 30h1M453 30h2M456 30h1M464 30h1M466 30h2M476 30h1M478 30h3M503 30h1M523 30h2M535 30h1M548 30h1M556 30h2M559 30h1M563 30h2M576 30h2M588 30h1M606 30h1M609 30h1M618 30h2M652 30h1M658 30h1M662 30h1M161 31h1M191 31h2M199 31h1M201 31h2M214 31h1M231 31h1M236 31h1M238 31h1M240 31h2M260 31h1M267 31h2M271 31h1M303 31h1M312 31h1M318 31h1M327 31h2M331 31h1M336 31h2M340 31h1M350 31h1M358 31h3M366 31h1M371 31h1M375 31h2M387 31h1M398 31h2M404 31h1M427 31h1M444 31h1M450 31h1M455 31h1M463 31h1M489 31h1M515 31h1M522 31h1M524 31h1M535 31h1M546 31h1M549 31h1M556 31h1M560 31h1M564 31h1M585 31h1M605 31h1M607 31h1M609 31h1M617 31h2M654 31h1M658 31h1M660 31h1M161 32h1M169 32h1M191 32h1M202 32h1M208 32h2M215 32h1M220 32h1M232 32h1M235 32h1M247 32h1M261 32h2M266 32h1M272 32h1M280 32h1M296 32h1M302 32h1M320 32h1M326 32h1M332 32h1M351 32h1M367 32h1M371 32h1M375 32h1M381 32h1M387 32h1M395 32h1M401 32h1M403 32h1M409 32h1M416 32h3M433 32h1M455 32h1M459 32h1M471 32h1M474 32h2M489 32h2M505 32h1M516 32h1M522 32h1M525 32h1M537 32h1M546 32h1M550 32h1M555 32h1M568 32h1M580 32h1M610 32h1M616 32h1M654 32h1M163 33h1M166 33h1M196 33h1M215 33h1M219 33h1M248 33h1M262 33h1M266 33h1M273 33h1M297 33h1M311 33h1M320 33h1M324 33h1M348 33h4M357 33h1M368 33h1M376 33h1M402 33h1M422 33h1M426 33h1M445 33h1M474 33h1M496 33h1M505 33h1M510 33h1M521 33h1M528 33h1M537 33h1M554 33h1M566 33h1M568 33h1M581 33h1M608 33h1M610 33h1M655 33h1M657 33h1M663 33h2M164 34h1M171 34h1M173 34h1M216 34h1M218 34h1M249 34h1M274 34h1M276 34h1M285 34h1M324 34h1M347 34h1M390 34h1M424 34h1M435 34h1M486 34h1M493 34h1M508 34h1M519 34h1M531 34h1M542 34h1M253 35h1M413 35h1M484 35h1M541 35h1"/>
<path stroke="#c73d73" d="M275 1h1M346 1h1M485 1h1M299 2h1M344 2h1M217 3h1M250 3h1M355 3h1M494 3h1M507 3h1M171 4h1M173 4h1M193 4h1M369 4h1M378 4h1M434 4h1M438 4h1M493 4h1M163 5h1M216 5h1M321 5h1M356 5h1M370 5h1M423 5h1M495 5h1M529 5h1M583 5h1M614 5h1M656 5h1M192 6h1M273 6h1M301 6h1M348 6h1M368 6h1M393 6h1M446 6h1M487 6h1M533 6h1M543 6h1M551 6h1M554 6h1M162 7h1M203 7h1M208 7h1M279 7h1M284 7h1M320 7h1M334 7h1M342 7h1M371 7h1M422 7h1M433 7h1M439 7h1M517 7h1M521 7h1M528 7h1M566 7h1M611 7h1M615 7h1M166 8h1M233 8h1M248 8h1M255 8h1M279 8h1M296 8h1M308 8h1M325 8h1M332 8h1M409 8h1M459 8h1M555 8h1M568 8h1M581 8h1M169 9h1M175 9h1M191 9h1M196 9h1M248 9h1M261 9h1M272 9h1M302 9h1M335 9h1M349 9h1M352 9h1M367 9h1M388 9h1M416 9h1M463 9h1M481 9h1M488 9h1M491 9h1M534 9h1M537 9h1M654 9h1M658 9h1M209 10h1M214 10h1M232 10h1M280 10h1M283 10h1M331 10h1M341 10h1M358 10h1M372 10h1M408 10h1M421 10h1M427 10h1M444 10h1M458 10h1M497 10h1M511 10h1M516 10h1M610 10h1M127 11h1M214 11h1M221 11h1M236 11h1M256 11h1M295 11h1M326 11h1M366 11h1M375 11h1M395 11h1M404 11h1M408 11h1M450 11h1M489 11h1M504 11h1M535 11h2M549 11h1M556 11h1M586 11h1M653 11h1M690 11h1M127 12h1M160 12h1M201 12h1M222 12h1M240 12h1M257 12h1M281 12h2M318 12h1M340 12h1M359 12h1M373 12h1M383 12h1M407 12h1M418 12h1M420 12h1M428 12h1M431 12h1M457 12h1M464 12h1M489 12h1M498 12h1M515 12h1M526 12h1M535 12h1M564 12h1M571 12h1M586 12h1M609 12h1M617 12h1M663 12h1M691 12h1M126 13h1M128 13h1M156 13h1M158 13h2M187 13h3M223 13h1M225 13h2M242 13h5M292 13h1M306 13h1M314 13h3M327 13h3M337 13h1M339 13h1M361 13h4M384 13h3M396 13h2M405 13h2M418 13h2M429 13h2M442 13h1M451 13h4M465 13h1M468 13h2M478 13h1M499 13h4M513 13h2M524 13h2M547 13h2M557 13h1M560 13h4M576 13h1M587 13h2M606 13h3M618 13h1M652 13h1M660 13h3M664 13h1M689 13h1M128 14h1M156 14h1M178 14h1M184 14h2M329 14h1M384 14h1M574 14h2M588 14h5M594 14h1M603 14h2M608 14h1M618 14h2M651 14h1M669 14h1M126 15h1M128 15h1M178 15h2M186 15h1M572 15h4M591 15h1M593 15h2M602 15h3M620 15h1M646 15h1M651 15h1M669 15h1M689 15h1M692 15h1M126 16h1M128 16h1M178 16h1M184 16h2M573 16h3M590 16h1M594 16h1M602 16h4M620 16h1M646 16h1M689 16h1M692 16h1M126 17h1M178 17h1M572 17h5M588 17h6M605 17h1M619 17h2M651 17h1M669 17h1M692 17h1M158 18h2M184 18h3M315 18h3M328 18h1M330 18h1M339 18h1M513 18h2M546 18h3M572 18h1M576 18h1M588 18h6M651 18h2M664 18h1M689 18h1M692 18h1M126 19h1M158 19h3M186 19h1M198 19h2M210 19h1M222 19h1M225 19h4M243 19h1M281 19h1M314 19h4M328 19h3M339 19h1M359 19h3M405 19h1M420 19h1M430 19h2M465 19h1M477 19h3M498 19h1M503 19h1M523 19h1M535 19h1M546 19h2M558 19h2M563 19h1M572 19h1M579 19h1M592 19h1M617 19h2M652 19h1M660 19h2M664 19h1M689 19h1M167 20h1M197 20h1M202 20h1M209 20h1M214 20h1M223 20h2M227 20h2M242 20h2M246 20h2M256 20h1M269 20h1M272 20h1M282 20h2M336 20h1M338 20h1M341 20h1M351 20h1M363 20h1M399 20h1M408 20h1M440 20h1M444 20h1M455 20h2M470 20h1M479 20h1M497 20h1M504 20h1M524 20h2M549 20h1M556 20h1M561 20h1M576 20h1M586 20h1M606 20h2M616 20h1M653 20h1M236 21h1M238 21h1M296 21h1M302 21h1M307 21h1M319 21h1M331 21h1M376 21h1M388 21h1M404 21h1M427 21h1M444 21h1M458 21h1M481 21h1M488 21h1M491 21h1M522 21h1M534 21h1M544 21h1M576 21h1M610 21h1M691 21h1M161 22h1M236 22h1M248 22h1M290 22h1M296 22h1M319 22h1M349 22h1M352 22h1M382 22h1M394 22h1M416 22h1M427 22h1M458 22h1M475 22h1M488 22h1M534 22h1M610 22h1M616 22h1M157 23h1M167 23h1M190 23h1M197 23h1M202 23h1M214 23h1M256 23h1M272 23h1M283 23h1M307 23h1M331 23h1M341 23h1M351 23h1M404 23h1M408 23h1M421 23h1M432 23h1M440 23h1M450 23h1M470 23h1M489 23h2M504 23h1M534 23h1M556 23h1M580 23h1M616 23h1M127 24h1M156 24h2M187 24h3M198 24h1M212 24h1M223 24h2M227 24h1M229 24h1M237 24h2M257 24h1M259 24h1M268 24h4M292 24h1M294 24h1M313 24h1M327 24h2M330 24h1M337 24h1M340 24h1M363 24h3M373 24h1M384 24h3M397 24h2M404 24h1M418 24h1M428 24h1M431 24h1M443 24h1M451 24h1M455 24h1M464 24h1M466 24h2M477 24h2M503 24h1M524 24h1M526 24h1M535 24h1M546 24h1M558 24h1M561 24h2M564 24h1M577 24h3M607 24h2M617 24h1M653 24h1M662 24h1M127 25h1M177 25h1M185 25h1M188 25h2M198 25h1M210 25h1M212 25h2M230 25h2M241 25h2M244 25h1M314 25h2M330 25h1M337 25h1M365 25h1M384 25h2M465 25h1M469 25h1M477 25h1M512 25h1M546 25h1M548 25h1M559 25h1M563 25h1M571 25h1M577 25h2M587 25h2M591 25h1M594 25h2M605 25h1M608 25h1M618 25h1M622 25h1M651 25h1M690 25h2M186 26h1M213 26h1M224 26h3M229 26h1M243 26h4M258 26h2M313 26h1M315 26h1M317 26h1M327 26h1M331 26h1M364 26h2M419 26h2M428 26h1M431 26h1M443 26h1M452 26h2M456 26h1M464 26h3M468 26h1M499 26h1M547 26h1M559 26h2M572 26h1M574 26h1M586 26h2M592 26h2M603 26h1M605 26h1M617 26h5M669 26h1M159 27h2M178 27h1M187 27h2M212 27h1M222 27h5M230 27h2M242 27h1M244 27h1M267 27h2M294 27h2M303 27h3M313 27h1M316 27h1M329 27h2M336 27h5M373 27h1M384 27h2M397 27h1M404 27h2M428 27h1M430 27h1M442 27h2M465 27h1M477 27h2M513 27h2M548 27h1M574 27h1M588 27h1M595 27h1M603 27h1M605 27h1M618 27h5M660 27h2M692 27h1M157 28h2M177 28h2M224 28h1M242 28h2M245 28h1M268 28h1M294 28h2M305 28h1M313 28h4M327 28h1M329 28h1M331 28h1M337 28h1M361 28h1M384 28h1M397 28h1M405 28h1M419 28h1M428 28h1M430 28h2M443 28h1M476 28h2M548 28h1M559 28h1M563 28h1M572 28h3M576 28h1M587 28h2M592 28h1M603 28h1M605 28h1M620 28h1M622 28h1M646 28h1M651 28h1M664 28h1M127 29h1M160 29h1M187 29h1M197 29h3M201 29h1M221 29h1M227 29h2M232 29h1M236 29h1M243 29h1M245 29h2M257 29h1M267 29h4M281 29h2M292 29h4M305 29h2M327 29h1M331 29h1M337 29h1M351 29h1M359 29h2M362 29h2M365 29h2M372 29h1M374 29h1M386 29h1M396 29h2M404 29h1M418 29h2M428 29h1M443 29h1M452 29h1M454 29h1M458 29h1M465 29h3M469 29h1M489 29h2M499 29h4M512 29h1M515 29h1M523 29h3M558 29h1M561 29h3M571 29h1M576 29h2M606 29h1M608 29h3M617 29h1M619 29h1M653 29h1M660 29h3M159 30h2M176 30h1M187 30h1M198 30h1M200 30h1M202 30h1M209 30h3M221 30h1M223 30h1M227 30h1M229 30h1M236 30h2M242 30h2M247 30h1M258 30h3M282 30h1M292 30h3M303 30h1M305 30h1M312 30h1M317 30h2M332 30h1M336 30h1M338 30h1M359 30h1M367 30h1M372 30h1M383 30h1M385 30h1M387 30h1M405 30h2M416 30h5M428 30h4M442 30h2M450 30h3M455 30h1M457 30h1M468 30h1M481 30h1M490 30h1M498 30h5M512 30h4M522 30h1M525 30h2M536 30h1M547 30h1M549 30h1M558 30h1M560 30h3M571 30h1M574 30h2M579 30h2M587 30h1M607 30h2M610 30h1M617 30h1M659 30h2M663 30h1M168 31h2M196 31h1M200 31h1M209 31h4M220 31h1M235 31h1M247 31h1M258 31h2M269 31h2M272 31h1M283 31h1M290 31h1M307 31h1M319 31h1M341 31h1M357 31h1M377 31h1M382 31h1M395 31h1M400 31h1M408 31h1M417 31h1M441 31h1M459 31h1M471 31h1M475 31h1M481 31h1M504 31h1M512 31h1M526 31h2M534 31h1M561 31h2M570 31h2M580 31h2M606 31h1M616 31h1M659 31h1M162 32h1M174 32h2M192 32h1M196 32h1M233 32h1M248 32h1M255 32h1M283 32h1M291 32h1M308 32h1M311 32h1M335 32h1M342 32h1M350 32h1M352 32h1M357 32h1M394 32h1M402 32h1M422 32h1M426 32h1M439 32h1M449 32h1M472 32h1M481 32h1M488 32h1M491 32h1M496 32h1M510 32h1M534 32h1M545 32h1M565 32h1M585 32h1M611 32h1M657 32h1M170 33h1M195 33h1M203 33h1M207 33h1M216 33h1M218 33h1M254 33h1M278 33h1M284 33h1M298 33h1M301 33h1M309 33h1M352 33h2M377 33h1M389 33h1M393 33h1M410 33h1M414 33h1M423 33h1M439 33h2M446 33h1M448 33h1M462 33h1M473 33h1M492 33h1M509 33h1M517 33h1M533 33h2M543 33h2M551 33h1M584 33h1M611 33h1M614 33h2M656 33h1M662 33h1M205 34h2M250 34h1M275 34h1M286 34h2M298 34h1M300 34h1M343 34h4M355 34h1M369 34h1M379 34h1M391 34h1M411 34h1M413 34h1M437 34h1M483 34h1M494 34h1M530 34h1M539 34h1M252 35h1M412 35h1"/>
<path stroke="#d0416f" d="M251 1h1M484 1h1M541 1h1M287 2h1M391 2h1M435 2h1M531 2h1M172 3h1M205 3h1M286 3h1M322 3h1M530 3h1M164 4h1M274 4h1M288 4h1M300 4h1M323 4h1M347 4h1M392 4h1M486 4h1M532 4h1M194 5h1M204 5h1M207 5h1M254 5h1M263 5h1M278 5h1M285 5h1M310 5h1M410 5h1M425 5h1M447 5h1M461 5h1M518 5h1M520 5h1M612 5h1M165 6h1M249 6h1M297 6h1M309 6h1M324 6h1M389 6h1M415 6h1M460 6h1M473 6h1M482 6h1M506 6h1M538 6h1M567 6h1M582 6h1M170 7h1M174 7h1M192 7h1M195 7h1M234 7h1M262 7h1M265 7h1M311 7h1M348 7h1M353 7h1M377 7h1M381 7h1M402 7h1M426 7h1M472 7h1M510 7h1M584 7h1M162 8h1M208 8h1M215 8h1M284 8h1M342 8h1M357 8h1M371 8h1M401 8h1M433 8h1M445 8h1M474 8h1M496 8h1M505 8h1M528 8h1M611 8h1M615 8h1M235 9h1M255 9h1M266 9h1M290 9h1M296 9h1M325 9h1M376 9h1M394 9h1M403 9h1M449 9h1M471 9h1M505 9h1M544 9h1M550 9h1M555 9h1M565 9h1M569 9h1M161 10h1M169 10h1M231 10h1M248 10h1M261 10h1M312 10h1M319 10h1M349 10h1M352 10h1M376 10h1M382 10h1M400 10h1M440 10h1M475 10h1M488 10h1M491 10h1M522 10h1M534 10h1M555 10h1M570 10h1M585 10h1M616 10h1M167 11h1M202 11h1M230 11h1M239 11h1M280 11h1M283 11h1M307 11h1M331 11h1M341 11h1M358 11h1M421 11h1M427 11h1M432 11h1M440 11h1M444 11h1M458 11h1M497 11h1M516 11h1M527 11h1M580 11h1M176 12h1M197 12h1M210 12h1M247 12h1M260 12h1M271 12h1M291 12h1M303 12h1M313 12h1M336 12h1M350 12h2M366 12h1M387 12h1M399 12h1M417 12h1M441 12h1M450 12h1M470 12h1M480 12h1M490 12h1M512 12h1M536 12h1M545 12h1M556 12h1M580 12h1M653 12h1M659 12h1M157 13h1M198 13h4M211 13h3M222 13h1M224 13h1M227 13h2M237 13h1M241 13h1M257 13h3M268 13h2M282 13h1M293 13h2M303 13h1M317 13h1M330 13h1M338 13h1M340 13h1M360 13h1M365 13h1M373 13h2M398 13h1M407 13h1M420 13h1M428 13h1M431 13h1M441 13h1M443 13h1M455 13h2M466 13h2M476 13h1M479 13h1M498 13h1M503 13h1M512 13h1M526 13h1M535 13h1M546 13h1M571 13h1M577 13h3M617 13h1M691 13h1M157 14h3M177 14h1M186 14h1M189 14h1M211 14h1M223 14h1M225 14h4M243 14h4M258 14h1M304 14h1M314 14h4M327 14h2M330 14h1M361 14h2M374 14h1M385 14h1M405 14h2M419 14h1M452 14h3M456 14h2M468 14h2M477 14h1M501 14h3M513 14h2M548 14h1M559 14h1M563 14h1M572 14h2M576 14h4M587 14h1M593 14h1M605 14h1M607 14h1M609 14h1M660 14h3M689 14h1M691 14h1M156 15h1M177 15h1M187 15h3M243 15h3M329 15h2M339 15h1M384 15h1M429 15h2M558 15h3M576 15h1M588 15h3M592 15h1M605 15h1M618 15h2M652 15h1M664 15h1M156 16h1M177 16h1M186 16h1M189 16h1M329 16h2M405 16h2M430 16h1M559 16h2M572 16h1M587 16h3M591 16h3M619 16h1M651 16h1M664 16h1M128 17h1M156 17h1M158 17h1M177 17h1M186 17h1M188 17h2M212 17h2M222 17h1M237 17h1M244 17h2M305 17h2M317 17h1M337 17h3M374 17h1M396 17h2M419 17h1M429 17h2M442 17h1M451 17h4M465 17h1M477 17h3M503 17h1M513 17h2M547 17h1M557 17h4M563 17h1M577 17h2M587 17h1M606 17h1M608 17h1M618 17h1M652 17h1M660 17h2M664 17h1M689 17h1M126 18h1M128 18h1M160 18h1M187 18h3M211 18h3M225 18h2M228 18h1M242 18h5M257 18h3M281 18h1M292 18h3M304 18h1M306 18h1M314 18h1M318 18h1M327 18h1M337 18h2M340 18h1M360 18h3M364 18h2M374 18h1M384 18h3M396 18h3M405 18h1M418 18h3M428 18h3M441 18h2M451 18h4M456 18h1M476 18h4M501 18h3M524 18h1M526 18h1M557 18h1M559 18h2M562 18h2M587 18h1M618 18h1M660 18h3M156 19h1M168 19h1M176 19h1M187 19h3M197 19h1M200 19h2M209 19h1M211 19h3M221 19h1M223 19h2M229 19h1M237 19h1M242 19h1M247 19h1M257 19h4M268 19h4M282 19h1M291 19h5M303 19h4M313 19h1M318 19h1M326 19h2M336 19h3M340 19h1M350 19h1M362 19h5M373 19h3M383 19h4M396 19h2M406 19h2M419 19h1M428 19h2M441 19h3M450 19h7M464 19h1M466 19h4M476 19h1M480 19h1M489 19h2M499 19h4M512 19h4M524 19h4M545 19h1M548 19h1M557 19h1M560 19h1M562 19h1M576 19h3M606 19h1M653 19h1M659 19h1M662 19h1M156 20h1M161 20h1M229 20h1M236 20h1M238 20h1M241 20h1M280 20h1M290 20h1M307 20h1M319 20h1M331 20h1M349 20h1M358 20h1M372 20h1M382 20h1M404 20h1M416 20h1M427 20h1M458 20h1M488 20h1M511 20h1M522 20h1M537 20h1M544 20h1M580 20h1M610 20h1M662 20h1M691 20h1M156 21h1M169 21h1M196 21h1M240 21h1M255 21h1M261 21h1M266 21h1M284 21h1M290 21h1M312 21h1M325 21h1M342 21h1M352 21h1M394 21h1M409 21h1M463 21h1M475 21h1M555 21h1M585 21h1M658 21h1M157 22h1M169 22h1M175 22h1M196 22h1M238 22h1M240 22h1M255 22h1M261 22h1M302 22h1M312 22h1M325 22h1M342 22h1M367 22h1M376 22h1M409 22h1M463 22h1M491 22h1M537 22h1M544 22h1M550 22h1M585 22h1M658 22h1M663 22h1M127 23h1M161 23h1M169 23h1M175 23h1M209 23h1M240 23h1M280 23h1M319 23h1M349 23h1M358 23h1M372 23h1M382 23h1M416 23h1M427 23h1M444 23h1M458 23h1M475 23h1M497 23h1M511 23h1M516 23h1M537 23h1M544 23h1M610 23h1M663 23h1M160 24h1M168 24h1M197 24h1M199 24h3M210 24h2M222 24h1M230 24h1M241 24h1M247 24h1M267 24h1M281 24h2M303 24h1M318 24h1M350 24h2M359 24h1M374 24h1M387 24h1M396 24h1M399 24h1M408 24h1M417 24h1M420 24h1M432 24h1M457 24h1M476 24h1M479 24h1M490 24h1M498 24h5M512 24h1M515 24h1M523 24h1M525 24h1M527 24h1M536 24h1M549 24h1M556 24h2M571 24h1M580 24h1M586 24h1M609 24h1M659 24h1M663 24h1M690 24h2M159 25h2M176 25h1M186 25h1M199 25h1M201 25h1M211 25h1M214 25h1M221 25h3M225 25h2M228 25h2M237 25h4M243 25h1M245 25h1M258 25h1M268 25h2M292 25h1M294 25h2M304 25h2M313 25h1M316 25h2M329 25h1M331 25h1M338 25h3M351 25h1M361 25h2M364 25h1M374 25h1M383 25h1M386 25h1M396 25h2M418 25h3M430 25h1M442 25h2M451 25h1M453 25h1M464 25h1M468 25h1M478 25h1M499 25h1M501 25h1M503 25h1M560 25h3M564 25h1M570 25h1M579 25h1M586 25h1M592 25h2M609 25h1M617 25h1M652 25h1M659 25h3M663 25h1M159 26h1M189 26h1M201 26h1M210 26h3M222 26h2M228 26h1M230 26h2M236 26h1M242 26h1M257 26h1M260 26h1M281 26h1M292 26h4M303 26h2M306 26h1M314 26h1M316 26h1M318 26h1M339 26h1M361 26h3M366 26h1M374 26h1M384 26h2M396 26h3M404 26h1M406 26h1M418 26h1M441 26h1M451 26h1M455 26h1M457 26h1M467 26h1M469 26h1M476 26h2M497 26h1M500 26h1M513 26h3M523 26h2M526 26h1M546 26h1M548 26h1M558 26h1M562 26h2M571 26h1M577 26h1M653 26h1M660 26h3M664 26h1M177 27h1M190 27h1M197 27h2M210 27h2M213 27h1M227 27h1M229 27h1M238 27h1M243 27h1M245 27h2M257 27h2M260 27h1M270 27h1M312 27h1M314 27h2M317 27h1M328 27h1M331 27h1M361 27h2M372 27h1M374 27h1M383 27h1M386 27h1M395 27h2M399 27h1M406 27h2M419 27h2M431 27h1M450 27h2M453 27h2M464 27h1M468 27h3M476 27h1M498 27h3M502 27h2M512 27h1M526 27h1M546 27h2M559 27h1M563 27h2M577 27h3M586 27h2M606 27h4M617 27h1M651 27h2M659 27h1M662 27h1M664 27h1M159 28h2M186 28h1M189 28h1M197 28h1M199 28h1M201 28h1M213 28h1M222 28h2M226 28h1M228 28h5M246 28h1M257 28h3M269 28h1M292 28h2M304 28h1M307 28h1M312 28h1M317 28h1M326 28h1M328 28h1M336 28h1M338 28h1M359 28h2M362 28h4M371 28h4M385 28h2M396 28h1M398 28h1M404 28h1M406 28h2M418 28h1M420 28h1M442 28h1M450 28h5M464 28h2M478 28h1M498 28h6M512 28h3M546 28h1M558 28h1M560 28h1M562 28h1M564 28h1M577 28h3M604 28h1M606 28h4M652 28h2M188 29h1M190 29h1M196 29h1M200 29h1M202 29h1M209 29h5M233 29h1M247 29h1M271 29h1M283 29h1M291 29h1M303 29h1M312 29h1M318 29h1M326 29h1M336 29h1M341 29h1M350 29h1M358 29h1M373 29h1M375 29h1M382 29h1M398 29h3M408 29h1M417 29h1M421 29h1M427 29h1M432 29h1M441 29h1M451 29h1M455 29h2M464 29h1M470 29h1M480 29h1M497 29h1M527 29h1M535 29h2M545 29h1M549 29h1M556 29h2M564 29h1M570 29h1M585 29h1M607 29h1M659 29h1M663 29h2M161 30h1M191 30h1M197 30h1M215 30h1M222 30h1M228 30h1M232 30h1M238 30h2M241 30h1M256 30h1M261 30h1M266 30h3M270 30h1M280 30h1M283 30h1M291 30h1M295 30h1M306 30h1M326 30h3M337 30h1M341 30h1M351 30h1M357 30h2M375 30h1M388 30h1M395 30h1M400 30h1M403 30h1M407 30h1M421 30h1M432 30h1M444 30h1M449 30h1M458 30h1M463 30h1M469 30h4M475 30h1M489 30h1M504 30h1M511 30h1M516 30h1M527 30h1M546 30h1M550 30h1M555 30h1M565 30h1M569 30h2M586 30h1M661 30h1M162 31h1M167 31h1M175 31h1M215 31h1M232 31h1M256 31h2M266 31h1M280 31h1M302 31h1M320 31h1M326 31h1M332 31h1M349 31h1M367 31h1M388 31h1M394 31h1M401 31h1M403 31h1M409 31h1M416 31h1M422 31h1M445 31h1M449 31h1M474 31h1M488 31h1M491 31h1M496 31h1M505 31h1M511 31h1M516 31h1M525 31h1M528 31h1M536 31h1M545 31h1M550 31h1M555 31h1M565 31h1M568 31h2M610 31h1M615 31h1M655 31h1M657 31h1M166 32h1M195 32h1M207 32h1M216 32h1M234 32h1M249 32h1M265 32h1M278 32h2M284 32h1M290 32h1M301 32h1M324 32h2M334 32h1M348 32h2M353 32h1M368 32h1M376 32h2M388 32h1M410 32h1M434 32h1M444 32h1M462 32h1M473 32h1M482 32h1M506 32h1M517 32h1M521 32h1M528 32h1M544 32h1M554 32h1M566 32h2M581 32h1M614 32h2M655 32h1M165 33h1M173 33h1M204 33h1M249 33h1M263 33h1M265 33h1M289 33h1M300 33h1M321 33h1M347 33h1M354 33h1M356 33h1M370 33h1M380 33h1M425 33h1M434 33h1M460 33h1M481 33h2M486 33h1M506 33h2M518 33h1M520 33h1M532 33h1M538 33h1M552 33h2M567 33h1M612 33h1M172 34h1M217 34h1M322 34h2M436 34h1M540 34h1"/>
<path stroke="#d8456c" d="M413 1h1M540 1h1M437 2h1M206 3h1M253 3h1M277 3h1M379 3h1M411 3h1M508 3h1M218 4h1M250 4h1M298 4h1M390 4h1M414 4h1M424 4h1M483 4h1M494 4h1M507 4h1M519 4h1M539 4h1M542 4h1M613 4h1M171 5h1M173 5h1M193 5h1M264 5h1M343 5h1M354 5h1M369 5h1M380 5h1M438 5h1M493 5h1M509 5h1M552 5h2M163 6h1M204 6h1M216 6h1M219 6h1M254 6h1M278 6h1M321 6h1M356 6h1M410 6h1M518 6h1M273 7h1M289 7h1M301 7h1M333 7h1M368 7h1M415 7h1M448 7h1M462 7h1M482 7h1M487 7h1M492 7h1M533 7h1M543 7h1M551 7h1M554 7h1M655 7h1M657 7h1M203 8h1M320 8h1M334 8h1M353 8h1M381 8h1M422 8h1M426 8h1M439 8h1M462 8h1M510 8h1M517 8h1M521 8h1M162 9h1M166 9h1M203 9h1M215 9h1M220 9h1M233 9h1M279 9h1M284 9h1M308 9h1M332 9h1M342 9h1M357 9h1M371 9h1M409 9h1M433 9h1M445 9h1M459 9h1M528 9h1M175 10h1M191 10h1M196 10h1M235 10h1M255 10h1M266 10h1M272 10h1M290 10h1M302 10h1M335 10h1M367 10h1M388 10h1M394 10h1M403 10h1M416 10h1M449 10h1M463 10h1M471 10h1M481 10h1M505 10h1M537 10h1M544 10h1M550 10h1M565 10h1M654 10h1M658 10h1M161 11h1M175 11h1M209 11h1M248 11h1M272 11h1M312 11h1M319 11h1M335 11h1M352 11h1M372 11h1M376 11h1M382 11h1M400 11h1M416 11h1M463 11h1M471 11h1M475 11h1M491 11h1M511 11h1M522 11h1M570 11h1M610 11h1M616 11h1M168 12h1M190 12h1M202 12h1M214 12h1M221 12h1M236 12h1M239 12h1M267 12h1M283 12h1M295 12h1M307 12h1M326 12h1M375 12h1M395 12h1M404 12h1M408 12h1M444 12h1M497 12h1M504 12h1M527 12h1M549 12h1M690 12h1M160 13h1M176 13h1M197 13h1M210 13h1M229 13h1M238 13h1M247 13h1M267 13h1M270 13h1M281 13h1M291 13h1M313 13h1M318 13h1M326 13h1M336 13h1M350 13h2M359 13h1M383 13h1M387 13h1M399 13h1M417 13h1M457 13h1M464 13h1M489 13h2M515 13h1M523 13h1M536 13h1M556 13h1M564 13h1M586 13h1M609 13h1M653 13h1M659 13h1M663 13h1M160 14h1M187 14h2M198 14h4M210 14h1M212 14h2M222 14h1M224 14h1M229 14h1M237 14h2M241 14h2M257 14h1M259 14h1M268 14h3M292 14h3M305 14h2M313 14h1M318 14h1M336 14h4M359 14h2M363 14h3M373 14h1M383 14h1M386 14h1M396 14h3M418 14h1M420 14h1M428 14h3M442 14h2M451 14h1M455 14h1M465 14h1M467 14h1M476 14h1M478 14h2M498 14h3M515 14h1M524 14h3M546 14h2M557 14h2M560 14h3M606 14h1M617 14h1M652 14h1M664 14h1M157 15h3M198 15h1M200 15h1M222 15h8M237 15h2M241 15h2M246 15h1M257 15h3M268 15h1M270 15h1M292 15h3M304 15h3M314 15h4M327 15h2M337 15h2M340 15h1M359 15h7M374 15h1M385 15h2M397 15h1M405 15h2M419 15h2M428 15h1M442 15h2M451 15h1M453 15h4M465 15h1M468 15h2M477 15h3M499 15h5M513 15h2M524 15h2M547 15h2M557 15h1M561 15h3M571 15h1M577 15h3M587 15h1M606 15h1M608 15h1M617 15h1M660 15h4M691 15h1M157 16h3M188 16h1M198 16h3M211 16h3M222 16h1M226 16h1M228 16h1M237 16h2M243 16h3M258 16h2M268 16h2M292 16h1M294 16h1M304 16h2M314 16h2M317 16h1M327 16h2M364 16h2M384 16h3M397 16h2M407 16h1M418 16h3M428 16h2M442 16h2M451 16h1M453 16h1M456 16h2M465 16h5M477 16h2M499 16h1M502 16h2M513 16h2M524 16h3M546 16h3M557 16h2M562 16h2M576 16h4M606 16h1M608 16h1M618 16h1M652 16h1M660 16h4M691 16h1M157 17h1M159 17h2M187 17h1M198 17h3M211 17h1M223 17h7M238 17h1M241 17h3M246 17h1M257 17h2M268 17h3M292 17h3M304 17h1M313 17h4M318 17h1M327 17h4M340 17h1M359 17h7M384 17h3M398 17h1M405 17h2M418 17h1M420 17h1M428 17h1M431 17h1M441 17h1M443 17h1M455 17h3M464 17h1M466 17h1M468 17h2M476 17h1M498 17h5M512 17h1M524 17h2M546 17h1M548 17h1M561 17h2M564 17h1M571 17h1M579 17h1M607 17h1M617 17h1M662 17h1M691 17h1M156 18h2M176 18h1M198 18h4M210 18h1M222 18h3M227 18h1M229 18h1M237 18h1M241 18h1M256 18h1M260 18h1M268 18h4M282 18h1M291 18h1M295 18h1M303 18h1M305 18h1M313 18h1M336 18h1M359 18h1M363 18h1M373 18h1M383 18h1M399 18h1M406 18h2M417 18h1M431 18h1M443 18h1M455 18h1M457 18h1M464 18h2M468 18h2M489 18h2M498 18h3M512 18h1M515 18h1M523 18h1M525 18h1M545 18h1M549 18h1M556 18h1M558 18h1M561 18h1M571 18h1M577 18h2M586 18h1M606 18h1M608 18h2M617 18h1M653 18h1M157 19h1M161 19h1M167 19h1M190 19h1M214 19h1M241 19h1M256 19h1M267 19h1M280 19h1M341 19h1M351 19h1M358 19h1M387 19h1M395 19h1M398 19h2M417 19h2M421 19h1M432 19h1M457 19h1M470 19h1M497 19h1M504 19h1M534 19h1M536 19h1M549 19h1M556 19h1M561 19h1M564 19h1M580 19h1M586 19h1M607 19h3M691 19h1M157 20h1M169 20h1M175 20h1M191 20h1M196 20h1M220 20h1M240 20h1M261 20h1M279 20h1M302 20h1M312 20h1M342 20h1M367 20h1M376 20h1M394 20h1M409 20h1M475 20h1M481 20h1M491 20h1M516 20h1M534 20h1M585 20h1M157 21h1M191 21h1M203 21h1M215 21h1M220 21h1M232 21h1M279 21h1M335 21h1M367 21h1M400 21h1M433 21h1M439 21h1M449 21h1M528 21h1M550 21h1M565 21h1M127 22h1M191 22h1M215 22h1M220 22h1M232 22h1M266 22h1M279 22h1M388 22h1M400 22h1M439 22h1M481 22h1M505 22h1M528 22h1M555 22h1M565 22h1M654 22h1M230 23h1M248 23h1M255 23h1M261 23h1M266 23h1M290 23h1M296 23h1M302 23h1M312 23h1M325 23h1M335 23h1M352 23h1M388 23h1M394 23h1M409 23h1M439 23h1M463 23h1M481 23h1M488 23h1M522 23h1M550 23h1M585 23h1M658 23h1M690 23h1M167 24h1M176 24h1M190 24h1M202 24h1M209 24h1M214 24h1M221 24h1M236 24h1M256 24h1M260 24h1M272 24h1M291 24h1M295 24h1M307 24h1M312 24h1M326 24h1M331 24h1M336 24h1M358 24h1M366 24h1M372 24h1M383 24h1M441 24h1M444 24h1M470 24h1M480 24h1M489 24h1M504 24h1M511 24h1M545 24h1M616 24h1M167 25h2M187 25h1M190 25h1M197 25h1M200 25h1M202 25h1M209 25h1M224 25h1M227 25h1M232 25h1M236 25h1M246 25h1M257 25h1M259 25h2M267 25h1M270 25h1M281 25h1M291 25h1M293 25h1M303 25h1M306 25h1M318 25h1M336 25h1M360 25h1M363 25h1M366 25h1M373 25h1M387 25h1M399 25h1M404 25h4M417 25h1M428 25h2M431 25h1M441 25h1M450 25h1M452 25h1M454 25h1M457 25h1M466 25h2M470 25h1M476 25h1M479 25h1M490 25h1M498 25h1M500 25h1M502 25h1M511 25h1M515 25h1M523 25h4M535 25h1M545 25h1M549 25h1M558 25h1M580 25h1M606 25h2M653 25h1M662 25h1M160 26h1M168 26h1M176 26h1M187 26h2M190 26h1M197 26h2M202 26h1M214 26h1M221 26h1M227 26h1M237 26h1M239 26h1M241 26h1M247 26h1M267 26h1M269 26h2M282 26h1M296 26h1M305 26h1M312 26h1M326 26h1M337 26h2M340 26h1M359 26h2M367 26h1M373 26h1M375 26h1M382 26h2M386 26h1M399 26h1M405 26h1M407 26h2M432 26h1M440 26h1M444 26h1M458 26h1M470 26h1M478 26h2M490 26h1M501 26h3M512 26h1M516 26h1M525 26h1M545 26h1M549 26h1M557 26h1M561 26h1M564 26h1M569 26h2M578 26h3M606 26h4M616 26h1M663 26h1M161 27h1M167 27h1M176 27h1M199 27h1M201 27h1M221 27h1M228 27h1M232 27h1M236 27h2M239 27h3M256 27h1M259 27h1M266 27h1M269 27h1M292 27h2M306 27h1M318 27h1M327 27h1M335 27h1M351 27h1M358 27h3M363 27h3M371 27h1M387 27h1M398 27h1M400 27h1M408 27h1M417 27h2M421 27h1M427 27h1M432 27h1M441 27h1M444 27h1M452 27h1M455 27h4M463 27h1M466 27h2M479 27h1M489 27h2M501 27h1M504 27h1M515 27h1M523 27h3M527 27h1M535 27h2M545 27h1M557 27h2M560 27h3M565 27h1M571 27h1M610 27h1M653 27h1M658 27h1M663 27h1M167 28h1M188 28h1M190 28h1M198 28h1M200 28h1M209 28h1M211 28h2M214 28h1M221 28h1M225 28h1M237 28h3M241 28h1M260 28h1M266 28h1M270 28h1M281 28h2M303 28h1M318 28h1M332 28h1M335 28h1M339 28h1M351 28h2M358 28h1M383 28h1M387 28h1M395 28h1M399 28h1M408 28h2M421 28h1M427 28h1M432 28h1M444 28h1M455 28h3M463 28h1M466 28h1M468 28h3M475 28h1M490 28h1M511 28h1M515 28h1M523 28h5M535 28h2M557 28h1M561 28h1M571 28h1M580 28h1M586 28h1M610 28h1M617 28h3M658 28h3M662 28h2M167 29h2M175 29h1M191 29h1M203 29h1M208 29h1M214 29h1M235 29h1M248 29h1M256 29h1M272 29h1M280 29h1M284 29h1M307 29h2M352 29h1M357 29h1M367 29h1M371 29h1M376 29h1M387 29h1M395 29h1M403 29h1M416 29h1M439 29h2M444 29h1M450 29h1M459 29h1M463 29h1M471 29h1M475 29h1M488 29h1M491 29h1M504 29h1M511 29h1M516 29h1M522 29h1M537 29h1M550 29h1M569 29h1M580 29h1M611 29h1M616 29h1M654 29h1M658 29h1M162 30h1M167 30h3M175 30h1M192 30h1M208 30h1M220 30h1M235 30h1M240 30h1M248 30h1M255 30h1M269 30h1M271 30h2M279 30h1M307 30h1M311 30h1M319 30h2M325 30h1M335 30h1M349 30h2M352 30h1M368 30h1M376 30h1M382 30h1M408 30h2M427 30h1M439 30h3M459 30h1M474 30h1M488 30h1M491 30h1M497 30h1M534 30h1M537 30h1M545 30h1M566 30h1M568 30h1M616 30h1M654 30h1M657 30h1M170 31h1M174 31h1M195 31h1M203 31h1M208 31h1M219 31h1M233 31h1M248 31h1M255 31h1M261 31h1M273 31h1M279 31h1M284 31h1M289 31h1M308 31h1M311 31h1M325 31h1M335 31h1M342 31h1M352 31h1M368 31h1M381 31h1M426 31h1M433 31h1M440 31h1M448 31h1M462 31h1M472 31h1M506 31h1M510 31h1M517 31h1M521 31h1M537 31h1M544 31h1M566 31h1M584 31h1M614 31h1M170 32h1M173 32h1M203 32h1M250 32h1M263 32h1M273 32h1M297 32h1M321 32h1M333 32h1M370 32h1M393 32h1M415 32h1M425 32h1M460 32h1M492 32h1M495 32h1M509 32h1M533 32h1M538 32h1M543 32h1M551 32h1M582 32h1M584 32h1M612 32h1M656 32h1M171 33h1M193 33h2M205 33h1M217 33h1M250 33h1M253 33h1M274 33h1M288 33h1M310 33h1M323 33h1M343 33h1M369 33h1M392 33h1M424 33h1M438 33h1M447 33h1M461 33h1M483 33h1M493 33h1M495 33h1M508 33h1M529 33h1M539 33h1M542 33h1M582 33h1M251 34h1M253 34h1M299 34h1M412 34h1M485 34h1M541 34h1"/>
<path stroke="#df4a68" d="M252 0h1M276 0h1M412 0h1M275 2h1M346 2h1M484 2h2M287 3h1M299 3h1M344 3h1M391 3h1M435 3h1M205 4h1M217 4h1M322 4h1M355 4h1M164 5h1M288 5h1M300 5h1M323 5h1M378 5h1M392 5h1M434 5h1M532 5h1M194 6h1M207 6h1M263 6h1M285 6h1M343 6h1M370 6h1M423 6h1M425 6h1M495 6h1M509 6h1M520 6h1M529 6h1M583 6h1M612 6h1M614 6h1M656 6h1M219 7h1M249 7h1M297 7h1M324 7h1M389 7h1M393 7h1M410 7h1M446 7h1M473 7h1M506 7h1M538 7h1M567 7h1M582 7h1M170 8h1M174 8h1M192 8h1M195 8h1M234 8h1M262 8h1M265 8h1M289 8h1M301 8h1M311 8h1M348 8h1M368 8h1M377 8h1M393 8h1M402 8h1M415 8h1M448 8h1M472 8h1M487 8h1M543 8h1M551 8h1M554 8h1M566 8h1M584 8h1M208 9h1M320 9h1M381 9h1M401 9h1M422 9h1M439 9h1M474 9h1M496 9h1M510 9h1M517 9h1M521 9h1M568 9h1M581 9h1M584 9h1M611 9h1M615 9h1M203 10h1M208 10h1M215 10h1M220 10h1M279 10h1M284 10h1M296 10h1M325 10h1M332 10h1M342 10h1M357 10h1M409 10h1M433 10h1M459 10h1M528 10h1M569 10h1M581 10h1M169 11h1M191 11h1M196 11h1M231 11h2M255 11h1M261 11h1M266 11h1M290 11h1M302 11h1M325 11h1M349 11h1M388 11h1M394 11h1M409 11h1M481 11h1M488 11h1M534 11h1M537 11h1M544 11h1M550 11h1M555 11h1M565 11h1M585 11h1M654 11h1M658 11h1M161 12h1M167 12h1M209 12h1M230 12h1M232 12h1M256 12h1M272 12h1M280 12h1M331 12h1M341 12h1M358 12h1M372 12h1M382 12h1M416 12h1M421 12h1M427 12h1M432 12h1M440 12h1M458 12h1M488 12h1M516 12h1M522 12h1M610 12h1M616 12h1M168 13h1M190 13h1M202 13h1M209 13h1M214 13h1M221 13h1M240 13h1M256 13h1M260 13h1M271 13h1M295 13h1M307 13h1M366 13h1M375 13h1M395 13h1M404 13h1M450 13h1M470 13h1M480 13h1M527 13h1M545 13h1M549 13h1M580 13h1M690 13h1M127 14h1M168 14h1M190 14h1M240 14h1M260 14h1M271 14h1M281 14h2M291 14h1M295 14h1M303 14h1M326 14h1M340 14h1M351 14h1M375 14h1M399 14h1M407 14h1M417 14h1M431 14h1M441 14h1M464 14h1M466 14h1M480 14h1M489 14h2M504 14h1M512 14h1M523 14h1M535 14h1M545 14h1M549 14h1M564 14h1M571 14h1M586 14h1M653 14h1M659 14h1M663 14h1M127 15h1M160 15h1M176 15h1M190 15h1M199 15h1M201 15h1M210 15h4M240 15h1M260 15h1M267 15h1M269 15h1M281 15h2M303 15h1M313 15h1M318 15h1M336 15h1M366 15h1M373 15h1M383 15h1M396 15h1M398 15h2M407 15h1M418 15h1M431 15h1M452 15h1M457 15h1M464 15h1M466 15h2M476 15h1M498 15h1M512 15h1M515 15h1M523 15h1M526 15h1M535 15h2M546 15h1M556 15h1M586 15h1M607 15h1M609 15h1M653 15h1M659 15h1M127 16h1M160 16h1M176 16h1M187 16h1M190 16h1M197 16h1M201 16h1M210 16h1M223 16h3M227 16h1M229 16h1M240 16h3M246 16h1M257 16h1M267 16h1M270 16h1M281 16h2M291 16h1M293 16h1M295 16h1M306 16h1M313 16h1M316 16h1M318 16h1M336 16h5M351 16h1M359 16h5M366 16h1M374 16h1M383 16h1M396 16h1M399 16h1M404 16h1M417 16h1M431 16h1M441 16h1M450 16h1M452 16h1M454 16h2M464 16h1M476 16h1M479 16h1M489 16h2M498 16h1M500 16h2M512 16h1M515 16h1M523 16h1M535 16h1M545 16h1M561 16h1M564 16h1M571 16h1M586 16h1M607 16h1M609 16h1M617 16h1M176 17h1M190 17h1M197 17h1M201 17h1M210 17h1M214 17h1M240 17h1M259 17h1M267 17h1M281 17h2M291 17h1M295 17h1M303 17h1M336 17h1M366 17h1M373 17h1M375 17h1M383 17h1M387 17h1M395 17h1M399 17h1M407 17h1M450 17h1M467 17h1M470 17h1M480 17h1M489 17h2M515 17h1M523 17h1M526 17h1M535 17h2M549 17h1M586 17h1M609 17h1M653 17h1M659 17h1M663 17h1M168 18h1M190 18h1M197 18h1M214 18h1M221 18h1M238 18h1M247 18h1M267 18h1M280 18h1M326 18h1M331 18h1M350 18h2M366 18h1M375 18h1M387 18h1M395 18h1M404 18h1M408 18h1M421 18h1M450 18h1M466 18h2M470 18h1M480 18h1M497 18h1M504 18h1M527 18h1M535 18h2M564 18h1M579 18h1M607 18h1M659 18h1M663 18h1M691 18h1M202 19h1M238 19h1M248 19h1M272 19h1M283 19h1M290 19h1M307 19h1M319 19h1M331 19h1M349 19h1M372 19h1M404 19h1M408 19h1M440 19h1M444 19h1M458 19h1M488 19h1M516 19h1M571 19h1M616 19h1M663 19h1M232 20h1M248 20h1M255 20h1M266 20h1M296 20h1M325 20h1M335 20h1M352 20h1M388 20h1M400 20h1M433 20h1M439 20h1M463 20h1M505 20h1M528 20h1M550 20h1M555 20h1M658 20h1M162 21h1M174 21h1M208 21h1M230 21h1M273 21h1M348 21h1M357 21h1M415 21h1M496 21h1M505 21h1M510 21h1M517 21h1M543 21h1M581 21h1M654 21h1M663 21h1M166 22h1M203 22h1M208 22h1M273 22h1M284 22h1M335 22h1M348 22h1M357 22h1M371 22h1M422 22h1M433 22h1M449 22h1M471 22h1M496 22h1M517 22h1M690 22h1M191 23h1M196 23h1M220 23h1M232 23h1M239 23h1M279 23h1M284 23h1M342 23h1M348 23h1M367 23h1M371 23h1M376 23h1M400 23h1M403 23h1M433 23h1M449 23h1M505 23h1M528 23h1M555 23h1M581 23h1M654 23h1M169 24h1M175 24h1M231 24h2M239 24h2M280 24h1M283 24h1M319 24h1M341 24h1M352 24h1M375 24h1M395 24h1M400 24h1M403 24h1M409 24h1M416 24h1M421 24h1M427 24h1M450 24h1M458 24h1M463 24h1M475 24h1M497 24h1M516 24h1M522 24h1M537 24h1M550 24h1M555 24h1M610 24h1M654 24h1M658 24h1M161 25h1M169 25h1M220 25h1M256 25h1M271 25h1M282 25h1M307 25h1M327 25h2M341 25h1M350 25h1M352 25h1M359 25h1M367 25h1M372 25h1M375 25h1M395 25h1M398 25h1M400 25h2M408 25h1M421 25h1M432 25h1M444 25h1M449 25h1M455 25h2M458 25h1M463 25h1M489 25h1M491 25h1M504 25h1M516 25h1M527 25h1M536 25h1M557 25h1M565 25h1M569 25h1M658 25h1M161 26h1M167 26h1M191 26h1M199 26h2M209 26h1M232 26h1M235 26h1M238 26h1M240 26h1M256 26h1M266 26h1M268 26h1M271 26h1M280 26h1M291 26h1M302 26h1M307 26h1M319 26h1M332 26h1M336 26h1M341 26h1M372 26h1M387 26h1M394 26h2M403 26h1M417 26h1M421 26h1M450 26h1M463 26h1M475 26h1M480 26h1M488 26h2M522 26h1M527 26h1M535 26h2M556 26h1M568 26h1M585 26h1M610 26h1M658 26h2M168 27h1M191 27h1M196 27h1M200 27h1M202 27h1M209 27h1M214 27h1M220 27h1M235 27h1M247 27h1M261 27h1M271 27h2M282 27h1M291 27h1M296 27h1M307 27h1M326 27h1M332 27h1M341 27h1M350 27h1M366 27h1M375 27h1M382 27h1M394 27h1M401 27h1M403 27h1M416 27h1M440 27h1M449 27h1M471 27h1M475 27h1M480 27h1M488 27h1M497 27h1M505 27h1M511 27h1M549 27h2M556 27h1M570 27h1M580 27h1M585 27h1M616 27h1M161 28h1M168 28h1M175 28h2M187 28h1M191 28h1M208 28h1M210 28h1M220 28h1M227 28h1M233 28h1M236 28h1M240 28h1M247 28h1M256 28h1M271 28h2M280 28h1M283 28h1M291 28h1M296 28h1M340 28h1M350 28h1M357 28h1M366 28h1M375 28h1M400 28h1M403 28h1M416 28h2M441 28h1M449 28h1M467 28h1M479 28h1M489 28h1M491 28h1M497 28h1M504 28h1M516 28h1M537 28h1M545 28h1M556 28h1M565 28h1M569 28h2M585 28h1M661 28h1M161 29h1M195 29h1M215 29h1M220 29h1M234 29h1M261 29h1M266 29h1M296 29h1M302 29h1M311 29h1M319 29h1M325 29h1M332 29h1M335 29h1M342 29h1M349 29h1M377 29h1M388 29h1M394 29h1M401 29h1M409 29h1M422 29h1M433 29h1M449 29h1M481 29h1M487 29h1M496 29h1M505 29h1M517 29h1M528 29h1M534 29h1M544 29h1M555 29h1M565 29h1M174 30h1M195 30h2M233 30h2M249 30h1M262 30h1M265 30h1M284 30h1M290 30h1M302 30h1M308 30h1M321 30h1M334 30h1M342 30h1M348 30h1M371 30h1M377 30h1M394 30h1M401 30h1M415 30h1M433 30h1M445 30h1M448 30h1M473 30h1M482 30h1M505 30h1M510 30h1M517 30h1M521 30h1M544 30h1M554 30h1M567 30h1M581 30h1M585 30h1M611 30h1M655 30h1M166 31h1M173 31h1M194 31h1M204 31h1M234 31h1M262 31h1M265 31h1M278 31h1M296 31h1M301 31h1M309 31h1M321 31h1M324 31h1M334 31h1M348 31h1M353 31h1M356 31h1M370 31h1M378 31h1M389 31h1M393 31h1M402 31h1M410 31h1M415 31h1M423 31h1M434 31h1M446 31h1M460 31h1M473 31h1M482 31h1M492 31h1M507 31h1M509 31h1M518 31h1M533 31h1M543 31h1M567 31h1M582 31h1M611 31h1M656 31h1M163 32h1M165 32h1M193 32h2M204 32h1M219 32h1M254 32h1M264 32h1M289 32h1M309 32h2M343 32h1M354 32h1M356 32h1M378 32h1M380 32h1M389 32h1M414 32h1M423 32h1M438 32h1M445 32h1M448 32h1M461 32h1M483 32h1M487 32h1M493 32h1M518 32h1M520 32h1M529 32h1M164 33h1M264 33h1M277 33h1M285 33h1M322 33h1M344 33h1M346 33h1M378 33h1M390 33h1M411 33h1M413 33h1M519 33h1M530 33h1M583 33h1M613 33h1M252 34h1M484 34h1"/>
<path stroke="#e75263" d="M345 0h1M436 0h1M252 1h1M251 2h1M413 2h1M540 2h2M437 3h1M531 3h1M172 4h1M206 4h1M286 4h1M379 4h1M508 4h1M530 4h1M218 5h1M250 5h1M274 5h1M298 5h1M347 5h1M355 5h1M414 5h1M424 5h1M483 5h1M486 5h1M494 5h1M507 5h1M539 5h1M542 5h1M613 5h1M171 6h1M173 6h1M264 6h1M288 6h1M310 6h1M354 6h1M380 6h1M434 6h1M438 6h1M447 6h1M461 6h1M493 6h1M163 7h1M165 7h1M207 7h1M216 7h1M254 7h1M285 7h1M309 7h1M321 7h1M356 7h1M370 7h1M460 7h1M495 7h1M614 7h1M165 8h1M216 8h1M219 8h1M249 8h1M273 8h1M278 8h1M324 8h1M333 8h1M389 8h1M446 8h1M460 8h1M482 8h1M492 8h1M533 8h1M538 8h1M582 8h1M655 8h1M657 8h1M170 9h1M174 9h1M192 9h1M195 9h1M249 9h1M262 9h1M273 9h1M301 9h1M311 9h1M334 9h1M348 9h1M353 9h1M368 9h1M377 9h1M389 9h1M415 9h1M426 9h1M462 9h1M538 9h1M655 9h1M657 9h1M162 10h1M166 10h1M233 10h1M308 10h1M320 10h1M348 10h1M371 10h1M422 10h1M426 10h1M439 10h1M445 10h1M474 10h1M496 10h1M510 10h1M517 10h1M568 10h1M611 10h1M615 10h1M166 11h1M215 11h1M220 11h1M235 11h1M279 11h1M296 11h1M332 11h1M342 11h1M357 11h1M367 11h1M403 11h1M433 11h1M439 11h1M445 11h1M449 11h1M505 11h1M528 11h1M569 11h1M581 11h1M169 12h1M175 12h1M196 12h1M231 12h1M248 12h1M261 12h1M290 12h1M302 12h1M312 12h1M319 12h1M335 12h1M349 12h1M352 12h1M367 12h1M388 12h1M400 12h1M463 12h1M471 12h1M475 12h1M481 12h1M491 12h1M511 12h1M534 12h1M537 12h1M544 12h1M555 12h1M565 12h1M570 12h1M585 12h1M658 12h1M127 13h1M161 13h1M167 13h1M236 13h1M280 13h1M283 13h1M312 13h1M331 13h1M341 13h1M372 13h1M382 13h1M408 13h1M421 13h1M427 13h1M432 13h1M440 13h1M444 13h1M458 13h1M488 13h1M497 13h1M504 13h1M511 13h1M516 13h1M522 13h1M534 13h1M616 13h1M161 14h1M167 14h1M176 14h1M197 14h1M202 14h1M209 14h1M214 14h1M221 14h1M230 14h1M236 14h1M239 14h1M247 14h1M256 14h1M267 14h1M307 14h1M331 14h1M350 14h1M358 14h1M366 14h1M387 14h1M395 14h1M404 14h1M421 14h1M427 14h1M450 14h1M458 14h1M470 14h1M497 14h1M527 14h1M536 14h1M556 14h1M580 14h1M690 14h1M168 15h1M197 15h1M214 15h1M221 15h1M230 15h1M236 15h1M239 15h1M247 15h1M256 15h1M271 15h1M291 15h1M295 15h1M331 15h1M350 15h2M375 15h1M387 15h1M395 15h1M404 15h1M417 15h1M441 15h1M444 15h1M450 15h1M480 15h1M489 15h2M527 15h1M545 15h1M549 15h1M564 15h1M580 15h1M690 15h1M167 16h2M221 16h1M236 16h1M239 16h1M247 16h1M260 16h1M271 16h1M303 16h1M326 16h1M331 16h1M350 16h1M373 16h1M387 16h1M395 16h1M408 16h1M444 16h1M470 16h1M480 16h1M504 16h1M536 16h1M549 16h1M556 16h1M580 16h1M653 16h1M659 16h1M690 16h1M127 17h1M168 17h1M221 17h1M230 17h1M236 17h1M239 17h1M247 17h1M256 17h1M260 17h1M271 17h1M307 17h1M326 17h1M331 17h1M351 17h1M358 17h1M404 17h1M417 17h1M427 17h1M432 17h1M458 17h1M504 17h1M545 17h1M556 17h1M580 17h1M127 18h1M161 18h1M202 18h1M209 18h1M236 18h1M240 18h1M272 18h1M307 18h1M341 18h1M358 18h1M372 18h1M382 18h1M416 18h1M427 18h1M432 18h1M440 18h1M458 18h1M127 19h1M169 19h1M175 19h1M232 19h1M236 19h1M240 19h1M261 19h1M352 19h1M376 19h1M382 19h1M388 19h1M394 19h1M416 19h1M427 19h1M475 19h1M481 19h1M491 19h1M511 19h1M522 19h1M544 19h1M610 19h1M658 19h1M127 20h1M166 20h1M208 20h1M215 20h1M273 20h1M284 20h1M320 20h1M348 20h1M449 20h1M521 20h1M565 20h1M615 20h1M654 20h1M663 20h1M127 21h1M166 21h1M249 21h1M262 21h1M320 21h1M371 21h1M381 21h1M422 21h1M445 21h1M459 21h1M471 21h1M482 21h1M487 21h1M521 21h1M533 21h1M538 21h1M570 21h1M611 21h1M615 21h1M690 21h1M174 22h1M230 22h1M235 22h1M289 22h1M308 22h1M320 22h1M377 22h1M415 22h1M426 22h1M445 22h1M459 22h1M474 22h1M487 22h1M510 22h1M521 22h1M570 22h1M581 22h1M615 22h1M166 23h1M203 23h1M208 23h1M215 23h1M231 23h1M235 23h1M308 23h1M320 23h1M332 23h1M357 23h1M422 23h1M459 23h1M471 23h1M474 23h1M491 23h1M510 23h1M517 23h1M533 23h1M565 23h1M570 23h1M615 23h1M161 24h1M191 24h1M196 24h1M208 24h1M220 24h1M235 24h1M248 24h1M261 24h1M279 24h1M290 24h1M296 24h1M302 24h1M325 24h1M335 24h1M349 24h1M367 24h1M371 24h1M376 24h1M382 24h1M388 24h1M394 24h1M433 24h1M440 24h1M471 24h1M488 24h1M491 24h1M505 24h1M528 24h1M534 24h1M544 24h1M565 24h1M569 24h2M581 24h1M170 25h1M175 25h1M191 25h1M196 25h1M203 25h1M208 25h1M215 25h1M233 25h1M235 25h1M247 25h1M261 25h1M266 25h1M272 25h1M290 25h1M296 25h1M312 25h1M319 25h2M325 25h2M332 25h1M335 25h1M357 25h2M371 25h1M382 25h1M403 25h1M409 25h1M416 25h1M427 25h1M440 25h1M459 25h1M471 25h1M475 25h1M480 25h1M488 25h1M497 25h1M510 25h1M522 25h1M534 25h1M537 25h1M544 25h1M550 25h1M555 25h2M568 25h1M581 25h1M585 25h1M610 25h1M616 25h1M162 26h1M169 26h1M175 26h1M196 26h1M208 26h1M220 26h1M248 26h1M261 26h1M265 26h1M272 26h1M283 26h1M290 26h1M311 26h1M325 26h1M335 26h1M351 26h1M358 26h1M371 26h1M376 26h1M381 26h1M388 26h1M400 26h1M416 26h1M427 26h1M433 26h1M439 26h1M445 26h1M449 26h1M481 26h1M491 26h1M496 26h1M504 26h1M511 26h1M517 26h1M537 26h1M544 26h1M550 26h1M581 26h1M615 26h1M654 26h1M657 26h1M162 27h1M169 27h1M192 27h1M208 27h1M233 27h1M255 27h1M262 27h1M281 27h1M283 27h2M290 27h1M302 27h1M311 27h1M319 27h1M334 27h1M342 27h1M349 27h1M352 27h1M357 27h1M367 27h1M376 27h1M381 27h1M388 27h1M409 27h1M422 27h1M426 27h1M433 27h1M439 27h1M445 27h1M459 27h1M491 27h1M516 27h1M522 27h1M534 27h1M544 27h1M566 27h1M568 27h2M581 27h1M654 27h1M657 27h1M166 28h1M169 28h1M196 28h1M202 28h1M261 28h1M279 28h1M284 28h1M302 28h1M308 28h1M311 28h1M319 28h2M325 28h1M353 28h1M367 28h1M382 28h1M388 28h1M394 28h1M401 28h1M422 28h1M440 28h1M445 28h1M458 28h1M462 28h1M474 28h1M480 28h1M488 28h1M492 28h1M510 28h1M522 28h1M528 28h1M534 28h1M549 28h1M555 28h1M581 28h1M611 28h1M616 28h1M654 28h1M162 29h1M169 29h1M174 29h1M192 29h1M204 29h1M207 29h1M249 29h1M255 29h1M279 29h1M290 29h1M320 29h1M324 29h1M348 29h1M353 29h1M356 29h1M368 29h1M381 29h1M402 29h1M410 29h1M426 29h1M445 29h2M448 29h1M472 29h1M474 29h1M482 29h1M510 29h1M521 29h1M533 29h1M538 29h1M551 29h1M568 29h1M581 29h1M584 29h1M615 29h1M655 29h1M657 29h1M163 30h1M170 30h1M173 30h1M203 30h1M207 30h1M216 30h1M219 30h1M273 30h1M278 30h1M289 30h1M296 30h1M301 30h1M324 30h1M333 30h1M347 30h1M353 30h1M356 30h1M389 30h1M393 30h1M402 30h1M410 30h1M422 30h1M446 30h1M460 30h1M462 30h1M487 30h1M496 30h1M528 30h1M533 30h1M543 30h1M551 30h1M582 30h1M584 30h1M615 30h1M163 31h1M171 31h1M193 31h1M207 31h1M216 31h1M249 31h1M254 31h1M274 31h1M310 31h1M333 31h1M354 31h1M380 31h1M392 31h1M414 31h1M425 31h1M439 31h1M461 31h1M487 31h1M493 31h1M495 31h1M520 31h1M529 31h1M551 31h1M554 31h1M583 31h1M612 31h1M171 32h1M205 32h1M251 32h1M253 32h1M277 32h1M285 32h1M288 32h1M298 32h1M300 32h1M323 32h1M344 32h1M347 32h1M369 32h1M392 32h1M411 32h1M446 32h1M486 32h1M507 32h1M532 32h1M539 32h1M542 32h1M552 32h1M583 32h1M613 32h1M172 33h1M206 33h1M251 33h1M286 33h1M299 33h1M355 33h1M435 33h1M437 33h1M531 33h1M540 33h1"/>
<path stroke="#ec5860" d="M276 1h1M345 1h1M412 1h1M436 1h1M275 3h1M346 3h1M485 3h1M541 3h1M253 4h1M277 4h1M344 4h1M411 4h1M205 5h1M217 5h1M322 5h1M390 5h1M519 5h1M164 6h1M193 6h1M274 6h1M300 6h1M323 6h1M347 6h1M369 6h1M378 6h1M392 6h1M483 6h1M486 6h1M532 6h1M542 6h1M552 6h2M173 7h1M204 7h1M263 7h1M278 7h1M343 7h1M423 7h1M425 7h1M434 7h1M438 7h1M518 7h1M520 7h1M529 7h1M583 7h1M612 7h1M656 7h1M163 8h1M204 8h1M254 8h1M297 8h1M309 8h1M321 8h1M343 8h1M410 8h1M473 8h1M506 8h1M529 8h1M567 8h1M234 9h1M265 9h1M289 9h1M324 9h1M393 9h1M402 9h1M448 9h1M472 9h1M482 9h1M487 9h1M492 9h1M506 9h1M533 9h1M543 9h1M551 9h1M554 9h1M566 9h1M170 10h1M174 10h1M195 10h1M249 10h1M262 10h1M265 10h1M311 10h1M334 10h1M353 10h1M377 10h1M381 10h1M401 10h1M462 10h1M482 10h1M487 10h1M492 10h1M521 10h1M533 10h1M538 10h1M551 10h1M554 10h1M584 10h1M655 10h1M162 11h1M174 11h1M203 11h1M208 11h1M284 11h1M308 11h1M320 11h1M371 11h1M422 11h1M426 11h1M459 11h1M474 11h1M496 11h1M510 11h1M517 11h1M521 11h1M191 12h1M215 12h1M220 12h1M235 12h1M266 12h1M284 12h1M325 12h1M357 12h1M376 12h1M394 12h1M403 12h1M409 12h1M449 12h1M496 12h1M505 12h1M550 12h1M581 12h1M654 12h1M175 13h1M191 13h1M196 13h1M230 13h1M232 13h1M239 13h1M248 13h1M255 13h1M266 13h1M272 13h1M290 13h1M302 13h1M319 13h1M325 13h1M349 13h1M352 13h1M358 13h1M367 13h1M376 13h1M388 13h1M400 13h1M416 13h1M463 13h1M475 13h1M481 13h1M491 13h1M537 13h1M544 13h1M555 13h1M585 13h1M610 13h1M654 13h1M231 14h2M272 14h1M280 14h1M283 14h1M312 14h1M319 14h1M341 14h1M349 14h1M372 14h1M382 14h1M400 14h1M408 14h1M432 14h1M440 14h1M444 14h1M475 14h1M481 14h1M488 14h1M511 14h1M516 14h1M544 14h1M570 14h1M610 14h1M616 14h1M658 14h1M161 15h1M167 15h1M202 15h1M209 15h1M231 15h2M272 15h1M280 15h1M307 15h1M319 15h1M326 15h1M341 15h1M358 15h1M367 15h1M372 15h1M382 15h1M408 15h1M416 15h1M421 15h1M427 15h1M432 15h1M458 15h1M470 15h1M497 15h1M504 15h1M511 15h1M537 15h1M570 15h1M610 15h1M161 16h1M175 16h1M202 16h1M209 16h1M214 16h1M230 16h3M256 16h1M280 16h1M283 16h1M307 16h1M341 16h1M358 16h1M372 16h1M375 16h1M382 16h1M416 16h1M421 16h1M427 16h1M432 16h1M440 16h1M458 16h1M475 16h1M497 16h1M511 16h1M516 16h1M527 16h1M544 16h1M585 16h1M616 16h1M161 17h1M167 17h1M202 17h1M209 17h1M231 17h2M280 17h1M283 17h1M312 17h1M319 17h1M341 17h1M350 17h1M372 17h1M382 17h1M408 17h1M421 17h1M440 17h1M444 17h1M488 17h1M497 17h1M511 17h1M516 17h1M522 17h1M527 17h1M534 17h1M610 17h1M616 17h1M690 17h1M167 18h1M175 18h1M191 18h1M196 18h1M232 18h1M248 18h1M255 18h1M261 18h1M279 18h1M283 18h1M290 18h1M302 18h1M319 18h1M349 18h1M352 18h1M394 18h1M400 18h1M444 18h1M463 18h1M475 18h1M488 18h1M491 18h1M511 18h1M516 18h1M522 18h1M534 18h1M537 18h1M544 18h1M550 18h1M580 18h1M585 18h1M610 18h1M616 18h1M654 18h1M658 18h1M690 18h1M191 19h1M196 19h1M208 19h1M220 19h1M230 19h1M255 19h1M266 19h1M279 19h1M296 19h1M302 19h1M312 19h1M325 19h1M342 19h1M367 19h1M400 19h1M433 19h1M439 19h1M449 19h1M463 19h1M505 19h1M528 19h1M537 19h1M550 19h1M555 19h1M585 19h1M654 19h1M690 19h1M203 20h1M230 20h1M249 20h1M289 20h1M357 20h1M371 20h1M415 20h1M422 20h1M426 20h1M445 20h1M459 20h1M471 20h1M487 20h1M496 20h1M510 20h1M517 20h1M538 20h1M570 20h1M581 20h1M690 20h1M231 21h1M289 21h1M297 21h1M301 21h1M308 21h1M353 21h1M377 21h1M389 21h1M393 21h1M403 21h1M410 21h1M426 21h1M492 21h1M162 22h1M195 22h1M231 22h1M239 22h1M249 22h1M254 22h1M301 22h1M332 22h1M353 22h1M381 22h1M393 22h1M403 22h1M410 22h1M482 22h1M492 22h1M533 22h1M538 22h1M543 22h1M551 22h1M568 22h1M611 22h1M162 23h1M170 23h1M174 23h1M249 23h1M262 23h1M273 23h1M289 23h1M301 23h1M353 23h1M381 23h1M415 23h1M426 23h1M445 23h1M482 23h1M496 23h1M521 23h1M538 23h1M568 23h2M611 23h1M166 24h1M174 24h1M215 24h1M233 24h1M255 24h1M266 24h1M278 24h1M308 24h1M311 24h1M320 24h1M332 24h1M342 24h1M353 24h1M357 24h1M377 24h1M415 24h1M449 24h1M481 24h1M496 24h1M510 24h1M517 24h1M521 24h1M551 24h1M568 24h1M585 24h1M615 24h1M162 25h1M166 25h1M192 25h1M195 25h1M248 25h1M255 25h1M262 25h1M280 25h1M283 25h1M302 25h1M308 25h1M311 25h1M324 25h1M342 25h1M348 25h2M353 25h1M376 25h1M388 25h1M394 25h1M402 25h1M422 25h1M433 25h1M439 25h1M445 25h1M448 25h1M474 25h1M481 25h1M492 25h1M505 25h1M517 25h1M528 25h1M566 25h1M615 25h1M654 25h1M174 26h1M192 26h1M195 26h1M203 26h1M215 26h1M233 26h1M255 26h1M284 26h1M297 26h1M308 26h1M320 26h1M342 26h1M350 26h1M357 26h1M368 26h1M377 26h1M402 26h1M409 26h1M422 26h1M446 26h1M459 26h1M462 26h1M471 26h1M474 26h1M505 26h1M521 26h1M528 26h1M534 26h1M555 26h1M565 26h2M611 26h1M655 26h1M166 27h1M175 27h1M215 27h1M219 27h1M234 27h1M248 27h1M280 27h1M320 27h1M333 27h1M368 27h1M377 27h1M393 27h1M402 27h1M446 27h1M448 27h1M462 27h1M472 27h1M474 27h1M481 27h1M496 27h1M506 27h1M528 27h1M537 27h1M551 27h1M555 27h1M567 27h1M584 27h1M611 27h1M615 27h1M162 28h1M174 28h1M192 28h1M195 28h1M203 28h1M207 28h1M215 28h1M219 28h1M234 28h2M248 28h1M255 28h1M262 28h1M265 28h1M273 28h1M278 28h1M290 28h1M321 28h1M324 28h1M333 28h2M341 28h1M349 28h1M368 28h1M370 28h1M376 28h1M402 28h1M410 28h1M426 28h1M433 28h1M439 28h1M448 28h1M459 28h1M471 28h1M496 28h1M505 28h2M517 28h1M544 28h1M554 28h1M568 28h1M614 28h2M657 28h1M166 29h1M216 29h1M219 29h1M262 29h1M265 29h1M273 29h1M285 29h1M289 29h1M297 29h1M300 29h2M309 29h2M321 29h1M334 29h1M370 29h1M389 29h1M415 29h1M434 29h1M462 29h1M483 29h1M492 29h1M518 29h1M554 29h1M566 29h1M165 30h2M171 30h1M194 30h1M204 30h1M254 30h1M263 30h2M285 30h1M309 30h1M381 30h1M414 30h1M426 30h1M434 30h1M483 30h1M492 30h1M495 30h1M506 30h1M509 30h1M518 30h1M520 30h1M532 30h1M538 30h1M612 30h1M614 30h1M165 31h1M218 31h1M250 31h1M263 31h2M288 31h1M297 31h1M300 31h1M323 31h1M343 31h1M347 31h1M369 31h1M447 31h1M486 31h1M508 31h1M532 31h1M538 31h2M542 31h1M613 31h1M164 32h1M172 32h1M206 32h1M217 32h2M286 32h1M322 32h1M346 32h1M379 32h1M390 32h1M424 32h1M435 32h1M437 32h1M447 32h1M494 32h1M508 32h1M519 32h1M530 32h1M553 32h1M275 33h1M287 33h1M345 33h1M379 33h1M391 33h1M484 33h2M494 33h1M541 33h1"/>
<path stroke="#f1605d" d="M252 2h1M276 2h1M345 2h1M412 2h1M251 3h1M413 3h1M484 3h1M540 3h1M287 4h1M299 4h1M391 4h1M435 4h1M437 4h1M531 4h1M172 5h1M206 5h1M253 5h1M286 5h1M379 5h1M411 5h1M508 5h1M530 5h1M250 6h1M298 6h1M390 6h1M414 6h1M507 6h1M519 6h1M539 6h1M171 7h1M194 7h1M264 7h1M288 7h1M310 7h1M347 7h1M354 7h1M378 7h1M380 7h1M414 7h1M447 7h1M461 7h1M486 7h1M493 7h1M509 7h1M532 7h1M542 7h1M552 7h2M173 8h1M207 8h1M263 8h1M285 8h1M356 8h1M370 8h1M423 8h1M425 8h1M434 8h1M495 8h1M509 8h1M518 8h1M520 8h1M612 8h1M614 8h1M165 9h1M204 9h1M216 9h1M219 9h1M254 9h1M278 9h1M285 9h1M297 9h1M309 9h1M333 9h1M343 9h1M356 9h1M410 9h1M434 9h1M446 9h1M460 9h1M495 9h1M582 9h1M192 10h1M219 10h1M234 10h1M273 10h1M289 10h1M301 10h1M324 10h1M368 10h1M389 10h1M393 10h1M410 10h1M415 10h1M472 10h1M506 10h1M543 10h1M566 10h1M657 10h1M192 11h1M195 11h1M233 11h1M249 11h1M265 11h1M273 11h1M289 11h1M301 11h1M311 11h1M334 11h1M348 11h1M353 11h1M377 11h1M381 11h1M401 11h1M415 11h1M492 11h1M533 11h1M551 11h1M568 11h1M584 11h1M611 11h1M615 11h1M162 12h1M166 12h1M203 12h1M208 12h1M255 12h1M273 12h1M279 12h1M296 12h1M308 12h1M320 12h1M332 12h1M342 12h1M348 12h1M371 12h1M381 12h1M422 12h1M433 12h1M439 12h1M445 12h1M459 12h1M517 12h1M528 12h1M569 12h1M611 12h1M615 12h1M169 13h1M203 13h1M208 13h1M220 13h1M231 13h1M261 13h1M296 13h1M335 13h1M342 13h1M394 13h1M409 13h1M433 13h1M439 13h1M449 13h1M550 13h1M565 13h1M570 13h1M658 13h1M169 14h1M175 14h1M191 14h1M196 14h1M248 14h1M261 14h1M266 14h1M290 14h1M296 14h1M302 14h1M325 14h1M335 14h1M352 14h1M367 14h1M376 14h1M388 14h1M394 14h1M416 14h1M449 14h1M463 14h1M471 14h1M491 14h1M505 14h1M522 14h1M534 14h1M537 14h1M550 14h1M555 14h1M565 14h1M585 14h1M654 14h1M169 15h1M175 15h1M191 15h1M196 15h1M220 15h1M248 15h1M261 15h1M266 15h1M283 15h1M290 15h1M302 15h1M312 15h1M335 15h1M349 15h1M352 15h1M376 15h1M388 15h1M400 15h1M403 15h1M440 15h1M449 15h1M463 15h1M475 15h1M488 15h1M491 15h1M516 15h1M522 15h1M534 15h1M550 15h1M565 15h1M585 15h1M616 15h1M654 15h1M658 15h1M169 16h1M191 16h1M196 16h1M248 16h1M261 16h1M266 16h1M272 16h1M290 16h1M302 16h1M312 16h1M319 16h1M335 16h1M349 16h1M352 16h1M367 16h1M376 16h1M388 16h1M400 16h1M449 16h1M463 16h1M488 16h1M491 16h1M522 16h1M534 16h1M537 16h1M550 16h1M555 16h1M570 16h1M610 16h1M658 16h1M169 17h1M175 17h1M191 17h1M196 17h1M248 17h1M261 17h1M266 17h1M272 17h1M290 17h1M335 17h1M349 17h1M352 17h1M367 17h1M376 17h1M388 17h1M394 17h1M400 17h1M416 17h1M449 17h1M463 17h1M471 17h1M475 17h1M481 17h1M491 17h1M505 17h1M550 17h1M565 17h1M570 17h1M585 17h1M654 17h1M658 17h1M169 18h1M230 18h1M266 18h1M273 18h1M296 18h1M312 18h1M325 18h1M335 18h1M376 18h1M388 18h1M409 18h1M439 18h1M449 18h1M481 18h1M505 18h1M528 18h1M555 18h1M166 19h1M203 19h1M231 19h1M284 19h1M335 19h1M357 19h1M371 19h1M409 19h1M422 19h1M445 19h1M471 19h1M533 19h1M565 19h1M581 19h1M162 20h1M170 20h1M174 20h1M192 20h1M195 20h1M231 20h1M278 20h1M301 20h1M308 20h1M311 20h1M332 20h1M377 20h1M381 20h1M393 20h1M410 20h1M482 20h1M492 20h1M533 20h1M543 20h1M611 20h1M170 21h1M192 21h1M195 21h1M235 21h1M239 21h1M254 21h1M278 21h1M324 21h1M332 21h1M343 21h1M551 21h1M554 21h1M170 22h1M192 22h1M233 22h1M262 22h1M265 22h1M278 22h1M297 22h1M324 22h1M368 22h1M389 22h1M434 22h1M462 22h1M569 22h1M192 23h1M265 23h1M278 23h1M297 23h1M311 23h1M324 23h1M334 23h1M377 23h1M389 23h1M393 23h1M401 23h1M410 23h1M434 23h1M487 23h1M492 23h1M543 23h1M551 23h1M584 23h1M170 24h1M195 24h1M203 24h1M262 24h1M273 24h1M284 24h1M289 24h1M301 24h1M334 24h1M348 24h1M381 24h1M393 24h1M401 24h2M410 24h1M422 24h1M434 24h1M439 24h1M445 24h1M459 24h1M474 24h1M482 24h1M487 24h1M492 24h1M506 24h1M554 24h1M566 24h1M611 24h1M655 24h1M657 24h1M174 25h1M204 25h1M207 25h1M219 25h1M234 25h1M265 25h1M273 25h1M279 25h1M289 25h1M297 25h1M309 25h1M321 25h1M368 25h1M377 25h1M410 25h1M415 25h1M426 25h1M446 25h1M462 25h1M472 25h2M487 25h1M496 25h1M509 25h1M521 25h1M533 25h1M543 25h1M551 25h1M554 25h1M582 25h1M584 25h1M166 26h1M170 26h1M173 26h1M204 26h1M207 26h1M219 26h1M234 26h1M262 26h1M273 26h1M279 26h1M301 26h1M321 26h1M324 26h1M333 26h2M348 26h2M352 26h2M393 26h1M401 26h1M415 26h1M448 26h1M472 26h1M482 26h1M487 26h1M492 26h1M506 26h1M510 26h1M518 26h1M533 26h1M551 26h1M554 26h1M567 26h1M584 26h1M163 27h1M165 27h1M174 27h1M195 27h1M203 27h1M207 27h1M216 27h1M249 27h1M265 27h1M285 27h1M289 27h1M297 27h1M301 27h1M308 27h1M321 27h1M325 27h1M348 27h1M353 27h1M356 27h1M370 27h1M415 27h1M423 27h1M425 27h1M434 27h1M473 27h1M482 27h2M487 27h1M492 27h1M510 27h1M517 27h1M521 27h1M533 27h1M543 27h1M554 27h1M582 27h1M655 27h1M163 28h1M165 28h1M170 28h1M216 28h1M249 28h1M254 28h1M297 28h1M309 28h1M342 28h1M348 28h1M356 28h1M377 28h1M381 28h1M393 28h1M415 28h1M446 28h1M472 28h2M481 28h1M487 28h1M521 28h1M533 28h1M538 28h1M543 28h1M550 28h2M566 28h1M582 28h1M584 28h1M612 28h1M655 28h1M163 29h1M165 29h1M170 29h1M254 29h1M278 29h1M288 29h1M298 29h1M323 29h1M333 29h1M343 29h1M347 29h1M354 29h1M378 29h1M393 29h1M414 29h1M425 29h1M438 29h1M460 29h1M473 29h1M486 29h1M495 29h1M506 29h1M509 29h1M520 29h1M529 29h1M532 29h1M539 29h1M543 29h1M567 29h1M582 29h1M612 29h1M614 29h1M193 30h1M250 30h1M274 30h1M288 30h1M297 30h1M300 30h1M310 30h1M323 30h1M343 30h1M354 30h1M370 30h1M378 30h1M423 30h1M425 30h1M435 30h1M438 30h1M447 30h1M461 30h1M486 30h1M493 30h1M529 30h1M539 30h1M656 30h1M172 31h1M205 31h1M217 31h1M253 31h1M275 31h1M277 31h1M285 31h1M298 31h1M355 31h1M379 31h1M390 31h1M411 31h1M413 31h1M438 31h1M483 31h1M494 31h1M519 31h1M530 31h1M274 32h1M345 32h1M355 32h1M391 32h1M413 32h1M484 32h1M252 33h1M276 33h1M412 33h1"/>
<path stroke="#f56b5c" d="M436 2h1M275 4h1M346 4h1M485 4h1M277 5h1M287 5h1M299 5h1M344 5h1M391 5h1M205 6h1M217 6h2M253 6h1M286 6h1M355 6h1M411 6h1M424 6h1M494 6h1M613 6h1M193 7h1M250 7h1M298 7h1M300 7h1M323 7h1M369 7h1M392 7h1M483 7h1M539 7h1M171 8h1M194 8h1M264 8h1M288 8h1M300 8h1M310 8h1M347 8h1M354 8h1M380 8h1M392 8h1M438 8h1M447 8h1M461 8h1M483 8h1M486 8h1M532 8h1M542 8h1M583 8h1M656 8h1M163 9h1M207 9h1M321 9h1M370 9h1M438 9h1M473 9h1M518 9h1M520 9h1M529 9h1M567 9h1M614 9h1M204 10h1M207 10h1M216 10h1M254 10h1M278 10h1M285 10h1M297 10h1M321 10h1M333 10h1M356 10h1M402 10h1M434 10h1M448 10h1M529 10h1M582 10h1M170 11h1M219 11h1M262 11h1M324 11h1M368 11h1M389 11h1M393 11h1M410 11h1M462 11h1M472 11h1M482 11h1M487 11h1M538 11h1M543 11h1M554 11h1M566 11h1M655 11h1M657 11h1M174 12h1M195 12h1M233 12h1M262 12h1M301 12h1M311 12h1M334 12h1M415 12h1M426 12h1M462 12h1M474 12h1M487 12h1M510 12h1M521 12h1M533 12h1M543 12h1M566 12h1M568 12h1M584 12h1M162 13h1M215 13h1M235 13h1M279 13h1M284 13h1M308 13h1M320 13h1M332 13h1M357 13h1M371 13h1M403 13h1M422 13h1M426 13h1M445 13h1M471 13h1M487 13h1M496 13h1M505 13h1M517 13h1M521 13h1M528 13h1M581 13h1M615 13h1M162 14h1M166 14h1M208 14h1M215 14h1M220 14h1M235 14h1M255 14h1M279 14h1M308 14h1M320 14h1M342 14h1M357 14h1M403 14h1M409 14h1M422 14h1M445 14h1M459 14h1M496 14h1M528 14h1M568 14h2M581 14h1M166 15h1M208 15h1M215 15h1M235 15h1M255 15h1M279 15h1M296 15h1M320 15h1M325 15h1M332 15h1M357 15h1M394 15h1M409 15h1M445 15h1M481 15h1M505 15h1M544 15h1M555 15h1M569 15h1M581 15h1M166 16h1M220 16h1M235 16h1M255 16h1M279 16h1M284 16h1M296 16h1M325 16h1M332 16h1M342 16h1M394 16h1M403 16h1M409 16h1M439 16h1M459 16h1M471 16h1M481 16h1M505 16h1M565 16h1M569 16h1M654 16h1M162 17h1M203 17h1M215 17h1M220 17h1M255 17h1M296 17h1M302 17h1M325 17h1M332 17h1M342 17h1M357 17h1M409 17h1M433 17h1M439 17h1M459 17h1M537 17h1M544 17h1M555 17h1M581 17h1M162 18h1M208 18h1M215 18h1M220 18h1M231 18h1M239 18h1M284 18h1M308 18h1M342 18h1M348 18h1M357 18h1M367 18h1M403 18h1M415 18h1M422 18h1M433 18h1M471 18h1M496 18h1M565 18h1M570 18h1M162 19h1M215 19h1M239 19h1M249 19h1M273 19h1M308 19h1M320 19h1M332 19h1M348 19h1M403 19h1M459 19h1M487 19h1M492 19h1M496 19h1M510 19h1M517 19h1M521 19h1M568 19h1M570 19h1M611 19h1M615 19h1M219 20h1M235 20h1M239 20h1M254 20h1M262 20h1M353 20h1M368 20h1M403 20h1M474 20h1M506 20h1M529 20h1M551 20h1M554 20h1M568 20h1M584 20h1M204 21h1M207 21h1M216 21h1M219 21h1M233 21h1M265 21h1M285 21h1M311 21h1M347 21h1M434 21h1M448 21h1M462 21h1M474 21h1M506 21h1M529 21h1M568 21h1M584 21h1M657 21h1M204 22h1M207 22h1M216 22h1M219 22h1M285 22h1M311 22h1M334 22h1M343 22h1M401 22h1M438 22h1M448 22h1M472 22h1M506 22h1M529 22h1M554 22h1M566 22h1M584 22h1M655 22h1M657 22h1M195 23h1M204 23h1M216 23h1M219 23h1M233 23h1M254 23h1M285 23h1M321 23h1M343 23h1M347 23h1M368 23h1M438 23h1M448 23h1M462 23h1M472 23h1M506 23h1M529 23h1M554 23h1M566 23h1M582 23h1M614 23h1M655 23h1M657 23h1M162 24h1M165 24h1M173 24h1M192 24h1M207 24h1M219 24h1M234 24h1M265 24h1M297 24h1M309 24h1M321 24h1M368 24h1M389 24h1M426 24h1M462 24h1M472 24h1M529 24h1M533 24h1M538 24h1M543 24h1M584 24h1M165 25h1M171 25h1M194 25h1M216 25h1M249 25h1M254 25h1M263 25h1M278 25h1M284 25h1M301 25h1M333 25h2M356 25h1M381 25h1M393 25h1M423 25h1M425 25h1M460 25h1M518 25h1M538 25h1M567 25h1M611 25h1M614 25h1M655 25h1M657 25h1M163 26h1M165 26h1M216 26h1M249 26h1M254 26h1M263 26h2M285 26h1M289 26h1M298 26h1M309 26h2M356 26h1M380 26h1M389 26h1M410 26h1M414 26h1M423 26h1M426 26h1M434 26h1M447 26h1M460 26h1M473 26h1M483 26h1M486 26h1M495 26h1M507 26h1M538 26h1M543 26h1M582 26h1M612 26h1M614 26h1M656 26h1M170 27h1M173 27h1M204 27h1M250 27h1M254 27h1M263 27h1M273 27h1M279 27h1M298 27h1M300 27h1M310 27h1M324 27h1M380 27h1M389 27h1M410 27h1M438 27h1M447 27h1M460 27h1M507 27h1M509 27h1M518 27h1M520 27h1M529 27h1M538 27h1M552 27h1M656 27h1M173 28h1M204 28h1M263 28h1M277 28h1M285 28h1M289 28h1M301 28h1M310 28h1M323 28h1M354 28h1M369 28h1M389 28h1M414 28h1M423 28h1M425 28h1M438 28h1M460 28h1M482 28h1M486 28h1M509 28h1M518 28h1M520 28h1M529 28h1M532 28h1M552 28h2M567 28h1M173 29h1M194 29h1M205 29h1M250 29h1M263 29h1M274 29h1M286 29h1M322 29h1M380 29h1M390 29h1M392 29h1M411 29h1M423 29h1M435 29h1M447 29h1M461 29h1M493 29h1M507 29h1M519 29h1M542 29h1M552 29h2M583 29h1M656 29h1M164 30h1M205 30h2M277 30h1M286 30h2M298 30h1M322 30h1M344 30h1M346 30h1M369 30h1M380 30h1M392 30h1M411 30h1M507 30h1M530 30h1M542 30h1M552 30h2M583 30h1M613 30h1M164 31h1M206 31h1M251 31h1M286 31h1M322 31h1M344 31h1M346 31h1M424 31h1M435 31h1M552 31h2M252 32h1M275 32h2M287 32h1M299 32h1M412 32h1M531 32h1M540 32h1M436 33h1"/>
<path stroke="#f8745c" d="M252 3h1M276 3h1M345 3h1M412 3h1M436 3h1M251 4h1M413 4h1M484 4h1M540 4h2M435 5h1M437 5h1M531 5h1M172 6h1M206 6h1M277 6h1M322 6h1M344 6h1M379 6h1M530 6h1M164 7h1M217 7h2M274 7h1M390 7h1M411 7h1M507 7h1M613 7h1M193 8h1M218 8h1M250 8h1M274 8h1M369 8h1M378 8h1M414 8h1M493 8h1M539 8h1M552 8h2M173 9h1M194 9h1M250 9h1M274 9h1M347 9h1M354 9h1M380 9h1M414 9h1M423 9h1M425 9h1M483 9h1M493 9h1M509 9h1M532 9h1M539 9h1M583 9h1M612 9h1M656 9h1M165 10h1M309 10h1M343 10h1M347 10h1M423 10h1M425 10h1M438 10h1M446 10h1M460 10h1M473 10h1M483 10h1M495 10h1M509 10h1M518 10h1M520 10h1M614 10h1M165 11h1M204 11h1M207 11h1M216 11h1M234 11h1M254 11h1M278 11h1M285 11h1M297 11h1M309 11h1M321 11h1M343 11h1M356 11h1M402 11h1M434 11h1M446 11h1M448 11h1M506 11h1M518 11h1M529 11h1M582 11h1M170 12h1M192 12h1M249 12h1M265 12h1M289 12h1M324 12h1M353 12h1M368 12h1M377 12h1M389 12h1M393 12h1M401 12h1M410 12h1M472 12h1M482 12h1M492 12h1M506 12h1M538 12h1M551 12h1M554 12h1M655 12h1M657 12h1M166 13h1M170 13h1M174 13h1M192 13h1M195 13h1M233 13h1M262 13h1M265 13h1M273 13h1M289 13h1M301 13h1M311 13h1M348 13h1M353 13h1M381 13h1M401 13h1M415 13h1M459 13h1M462 13h1M474 13h1M482 13h1M492 13h1M510 13h1M533 13h1M543 13h1M554 13h1M569 13h1M611 13h1M655 13h1M203 14h1M233 14h1M262 14h1M284 14h1M332 14h1M348 14h1M371 14h1M377 14h1M381 14h1M393 14h1M401 14h1M415 14h1M426 14h1M433 14h1M439 14h1M474 14h1M487 14h1M510 14h1M517 14h1M521 14h1M533 14h1M611 14h1M615 14h1M162 15h1M203 15h1M233 15h1M273 15h1M301 15h1M308 15h1M342 15h1M371 15h1M381 15h1M401 15h1M422 15h1M433 15h1M439 15h1M459 15h1M471 15h1M474 15h1M496 15h1M510 15h1M517 15h1M528 15h1M568 15h1M611 15h1M615 15h1M162 16h1M174 16h1M192 16h1M195 16h1M203 16h1M208 16h1M215 16h1M233 16h1M308 16h1M320 16h1M348 16h1M353 16h1M357 16h1M371 16h1M381 16h1M415 16h1M422 16h1M426 16h1M433 16h1M445 16h1M474 16h1M496 16h1M510 16h1M517 16h1M521 16h1M528 16h1M543 16h1M568 16h1M581 16h1M611 16h1M615 16h1M166 17h1M174 17h1M195 17h1M208 17h1M235 17h1M279 17h1M284 17h1M308 17h1M320 17h1M348 17h1M353 17h1M371 17h1M381 17h1M403 17h1M422 17h1M426 17h1M445 17h1M487 17h1M496 17h1M517 17h1M521 17h1M528 17h1M569 17h1M611 17h1M615 17h1M166 18h1M192 18h1M203 18h1M235 18h1M249 18h1M262 18h1M278 18h1M320 18h1M332 18h1M353 18h1M371 18h1M381 18h1M393 18h1M410 18h1M426 18h1M445 18h1M459 18h1M487 18h1M510 18h1M521 18h1M538 18h1M568 18h2M581 18h1M611 18h1M615 18h1M170 19h1M174 19h1M195 19h1M235 19h1M262 19h1M278 19h1M289 19h1M353 19h1M377 19h1M381 19h1M393 19h1M415 19h1M426 19h1M482 19h1M543 19h1M207 20h1M216 20h1M233 20h1M265 20h1M285 20h1M297 20h1M324 20h1M343 20h1M389 20h1M434 20h1M438 20h1M462 20h1M569 20h1M657 20h1M250 21h1M274 21h1M321 21h1M334 21h1M368 21h1M401 21h1M414 21h1M438 21h1M486 21h1M566 21h1M569 21h1M655 21h1M165 22h1M274 22h1M321 22h1M347 22h1M414 22h1M495 22h1M165 23h1M207 23h1M309 23h1M356 23h1M402 23h1M414 23h1M446 23h1M518 23h1M532 23h1M204 24h1M216 24h1M249 24h1M254 24h1M277 24h1M285 24h1M310 24h1M324 24h1M333 24h1M343 24h1M392 24h1M414 24h1M423 24h1M446 24h1M448 24h1M460 24h1M473 24h1M483 24h1M495 24h1M509 24h1M518 24h1M520 24h1M567 24h1M582 24h1M614 24h1M163 25h1M173 25h1M193 25h1M274 25h1M285 25h1M288 25h1M298 25h1M310 25h1M323 25h1M343 25h1M347 25h1M370 25h1M389 25h1M414 25h1M434 25h1M438 25h1M447 25h1M461 25h1M482 25h1M493 25h1M495 25h1M506 25h1M520 25h1M529 25h1M539 25h1M542 25h1M171 26h1M193 26h2M205 26h1M250 26h1M253 26h1M274 26h1M278 26h1M288 26h1M300 26h1M323 26h1M343 26h1M347 26h1M354 26h1M370 26h1M378 26h1M392 26h1M438 26h1M493 26h1M509 26h1M520 26h1M529 26h1M532 26h1M552 26h2M171 27h1M193 27h2M218 27h1M274 27h1M278 27h1M288 27h1M309 27h1M323 27h1M343 27h1M347 27h1M354 27h1M369 27h1M378 27h1M392 27h1M414 27h1M461 27h1M486 27h1M493 27h1M495 27h1M532 27h1M542 27h1M553 27h1M583 27h1M612 27h1M614 27h1M171 28h1M193 28h2M205 28h1M218 28h1M250 28h1M264 28h1M274 28h2M288 28h1M298 28h1M300 28h1M343 28h1M347 28h1M378 28h1M380 28h1M411 28h1M434 28h1M461 28h1M483 28h1M493 28h1M495 28h1M507 28h1M539 28h1M542 28h1M583 28h1M613 28h1M656 28h1M171 29h1M193 29h1M206 29h1M217 29h2M264 29h1M277 29h1M287 29h1M344 29h1M355 29h1M369 29h1M530 29h1M613 29h1M172 30h1M251 30h1M253 30h1M275 30h1M355 30h1M390 30h1M437 30h1M494 30h1M508 30h1M519 30h1M531 30h1M276 31h1M299 31h1M391 31h1M437 31h1M485 31h1M531 31h1M540 31h2M436 32h1M485 32h1M541 32h1"/>
<path stroke="#fa7d5e" d="M252 4h1M251 5h1M275 5h1M346 5h1M413 5h1M484 5h2M541 5h1M287 6h1M299 6h1M435 6h1M437 6h1M508 6h1M205 7h2M253 7h1M277 7h1M286 7h1M322 7h1M344 7h1M355 7h1M424 7h1M494 7h1M519 7h1M530 7h1M164 8h1M217 8h1M253 8h1M277 8h1M298 8h1M323 8h1M344 8h1M390 8h1M507 8h1M530 8h1M171 9h1M263 9h1M288 9h1M300 9h1M310 9h1M323 9h1M369 9h1M378 9h1M390 9h1M392 9h1M461 9h1M486 9h1M542 9h1M552 9h2M163 10h1M173 10h1M250 10h1M263 10h1M274 10h1M288 10h1M300 10h1M354 10h1M370 10h1M378 10h1M486 10h1M532 10h1M539 10h1M567 10h1M612 10h1M163 11h1M333 11h1M438 11h1M460 11h1M473 11h1M495 11h1M509 11h1M520 11h1M532 11h1M614 11h1M204 12h1M207 12h1M216 12h1M219 12h1M234 12h1M254 12h1M278 12h1M285 12h1M297 12h1M321 12h1M343 12h1M402 12h1M434 12h1M446 12h1M448 12h1M495 12h1M518 12h1M529 12h1M582 12h1M614 12h1M249 13h1M254 13h1M278 13h1M297 13h1M324 13h1M334 13h1M368 13h1M377 13h1M389 13h1M393 13h1M410 13h1M448 13h1M538 13h1M551 13h1M566 13h1M568 13h1M584 13h1M657 13h1M170 14h1M174 14h1M192 14h1M195 14h1M219 14h1M249 14h1M265 14h1M273 14h1M289 14h1M301 14h1M311 14h1M324 14h1M353 14h1M368 14h1M389 14h1M410 14h1M448 14h1M462 14h1M482 14h1M492 14h1M506 14h1M538 14h1M543 14h1M551 14h1M554 14h1M566 14h1M584 14h1M655 14h1M657 14h1M170 15h1M174 15h1M192 15h1M195 15h1M219 15h1M249 15h1M262 15h1M265 15h1M284 15h1M289 15h1M311 15h1M334 15h1M348 15h1M353 15h1M368 15h1M377 15h1M389 15h1M410 15h1M415 15h1M426 15h1M448 15h1M487 15h1M492 15h1M521 15h1M533 15h1M538 15h1M543 15h1M551 15h1M554 15h1M584 15h1M655 15h1M657 15h1M170 16h1M249 16h1M262 16h1M265 16h1M273 16h1M289 16h1M301 16h1M311 16h1M334 16h1M377 16h1M389 16h1M393 16h1M401 16h1M462 16h1M487 16h1M492 16h1M533 16h1M538 16h1M551 16h1M566 16h1M584 16h1M170 17h1M192 17h1M233 17h1M249 17h1M262 17h1M265 17h1M273 17h1M289 17h1M311 17h1M368 17h1M393 17h1M401 17h1M415 17h1M448 17h1M462 17h1M474 17h1M482 17h1M492 17h1M506 17h1M510 17h1M533 17h1M543 17h1M551 17h1M566 17h1M568 17h1M170 18h1M174 18h1M195 18h1M233 18h1M254 18h1M289 18h1M297 18h1M301 18h1M377 18h1M389 18h1M401 18h1M462 18h1M474 18h1M482 18h1M492 18h1M506 18h1M517 18h1M533 18h1M543 18h1M554 18h1M584 18h1M657 18h1M192 19h1M204 19h1M207 19h1M219 19h1M233 19h1M254 19h1M265 19h1M297 19h1M301 19h1M311 19h1M324 19h1M343 19h1M368 19h1M389 19h1M401 19h1M410 19h1M438 19h1M448 19h1M474 19h1M506 19h1M529 19h1M538 19h1M551 19h1M554 19h1M569 19h1M584 19h1M657 19h1M204 20h1M274 20h1M321 20h1M334 20h1M347 20h1M356 20h1M401 20h1M414 20h1M566 20h1M655 20h1M165 21h1M173 21h1M356 21h1M446 21h1M483 21h1M495 21h1M509 21h1M518 21h1M532 21h1M539 21h1M542 21h1M614 21h1M173 22h1M250 22h1M288 22h1M309 22h1M356 22h1M423 22h1M425 22h1M446 22h1M460 22h1M483 22h1M486 22h1M509 22h1M518 22h1M532 22h1M539 22h1M542 22h1M614 22h1M163 23h1M173 23h1M234 23h1M300 23h1M333 23h1M354 23h1M380 23h1M392 23h1M423 23h1M425 23h1M460 23h1M473 23h1M483 23h1M509 23h1M520 23h1M539 23h1M567 23h1M612 23h1M163 24h1M171 24h1M263 24h1M274 24h1M288 24h1M298 24h1M300 24h1M354 24h1M356 24h1M370 24h1M378 24h1M411 24h1M425 24h1M438 24h1M486 24h1M493 24h1M507 24h1M532 24h1M539 24h1M542 24h1M552 24h2M612 24h1M656 24h1M205 25h1M218 25h1M250 25h1M264 25h1M277 25h1M300 25h1M322 25h1M344 25h1M346 25h1M354 25h1M369 25h1M378 25h1M392 25h1M411 25h1M424 25h1M483 25h1M486 25h1M507 25h2M532 25h1M552 25h2M583 25h1M612 25h1M206 26h1M218 26h1M344 26h1M369 26h1M390 26h1M411 26h1M425 26h1M461 26h1M539 26h1M542 26h1M583 26h1M164 27h1M205 27h2M217 27h1M251 27h1M253 27h1M264 27h1M275 27h1M277 27h1M286 27h1M322 27h1M344 27h1M390 27h1M424 27h1M435 27h1M508 27h1M519 27h1M530 27h1M539 27h1M164 28h1M206 28h1M217 28h1M253 28h1M286 28h1M322 28h1M344 28h1M392 28h1M435 28h1M437 28h1M447 28h1M508 28h1M530 28h1M164 29h1M251 29h1M253 29h1M275 29h1M299 29h1M346 29h1M424 29h1M437 29h1M484 29h2M508 29h1M540 29h1M217 30h2M299 30h1M413 30h1M424 30h1M484 30h2M252 31h1M287 31h1M345 31h1M412 31h1M436 31h1"/>
<path stroke="#fc8961" d="M276 4h1M345 4h1M412 4h1M436 4h1M540 5h1M275 6h1M346 6h1M391 6h1M413 6h1M485 6h1M531 6h1M541 6h1M172 7h1M435 7h1M508 7h1M172 8h1M205 8h1M286 8h1M411 8h1M424 8h1M435 8h1M519 8h1M613 8h1M193 9h1M253 9h1M264 9h1M298 9h1M344 9h1M411 9h1M447 9h1M507 9h1M171 10h1M194 10h1M264 10h1M298 10h1M310 10h1M323 10h1M380 10h1M390 10h1M392 10h1M411 10h1M414 10h1M461 10h1M493 10h1M542 10h1M552 10h2M583 10h1M656 10h1M173 11h1M194 11h1M250 11h1M274 11h1M288 11h1M300 11h1M310 11h1M347 11h1M354 11h1M370 11h1M380 11h1M392 11h1M414 11h1M423 11h1M425 11h1M483 11h1M486 11h1M493 11h1M539 11h1M567 11h1M612 11h1M163 12h1M165 12h1M274 12h1M309 12h1M333 12h1M347 12h1M356 12h1M380 12h1M414 12h1M423 12h1M438 12h1M460 12h1M509 12h1M520 12h1M567 12h1M612 12h1M204 13h1M207 13h1M216 13h1M219 13h1M285 13h1M309 13h1M321 13h1M343 13h1M356 13h1M434 13h1M438 13h1M446 13h1M472 13h1M506 13h1M582 13h1M614 13h1M204 14h1M207 14h1M216 14h1M254 14h1M278 14h1M297 14h1M321 14h1M334 14h1M343 14h1M356 14h1M402 14h1M472 14h1M529 14h1M165 15h1M207 15h1M216 15h1M234 15h1M254 15h1M278 15h1M297 15h1M324 15h1M393 15h1M402 15h1M446 15h1M462 15h1M482 15h1M506 15h1M529 15h1M566 15h1M582 15h1M165 16h1M204 16h1M207 16h1M216 16h1M219 16h1M234 16h1M278 16h1M285 16h1M297 16h1M324 16h1M343 16h1M368 16h1M402 16h1M410 16h1M438 16h1M448 16h1M472 16h1M482 16h1M554 16h1M655 16h1M657 16h1M204 17h1M216 17h1M219 17h1M254 17h1M278 17h1M285 17h1M297 17h1M301 17h1M324 17h1M334 17h1M377 17h1M389 17h1M410 17h1M472 17h1M529 17h1M538 17h1M554 17h1M584 17h1M655 17h1M657 17h1M216 18h1M219 18h1M265 18h1M311 18h1M324 18h1M334 18h1M368 18h1M551 18h1M655 18h1M165 19h1M216 19h1M334 19h1M434 19h1M446 19h1M462 19h1M566 19h1M655 19h1M165 20h1M250 20h1M288 20h1M423 20h1M425 20h1M446 20h1M448 20h1M460 20h1M483 20h1M486 20h1M495 20h1M509 20h1M518 20h1M520 20h1M532 20h1M539 20h1M582 20h1M614 20h1M163 21h1M288 21h1M298 21h1M300 21h1M309 21h1M380 21h1M392 21h1M423 21h1M425 21h1M460 21h1M472 21h1M520 21h1M582 21h1M612 21h1M163 22h1M234 22h1M300 22h1M333 22h1M354 22h1M370 22h1M378 22h1M380 22h1M392 22h1M402 22h1M473 22h1M493 22h1M520 22h1M582 22h1M612 22h1M171 23h1M250 23h1M263 23h1M274 23h1M277 23h1M288 23h1M298 23h1M370 23h1M378 23h1M411 23h1M486 23h1M493 23h1M495 23h1M542 23h1M583 23h1M193 24h2M250 24h1M344 24h1M347 24h1M380 24h1M390 24h1M435 24h1M447 24h1M461 24h1M519 24h1M530 24h1M583 24h1M172 25h1M206 25h1M275 25h1M286 25h1M380 25h1M435 25h1M437 25h1M494 25h1M656 25h1M164 26h1M172 26h1M217 26h1M251 26h1M277 26h1M286 26h1M322 26h1M346 26h1M379 26h1M424 26h1M435 26h1M484 26h2M494 26h1M508 26h1M519 26h1M530 26h1M613 26h1M172 27h1M299 27h1M379 27h1M411 27h1M413 27h1M437 27h1M484 27h2M494 27h1M276 28h1M346 28h1M355 28h1M379 28h1M390 28h1M424 28h1M494 28h1M519 28h1M531 28h1M172 29h1M379 29h1M391 29h1M413 29h1M494 29h1M531 29h1M541 29h1M276 30h1M345 30h1M379 30h1M391 30h1M436 30h1M540 30h2M484 31h1"/>
<path stroke="#fd9266" d="M252 5h1M276 5h1M345 5h1M412 5h1M436 5h1M251 6h1M484 6h1M540 6h1M287 7h1M299 7h1M346 7h1M379 7h1M437 7h1M485 7h1M531 7h1M206 8h1M322 8h1M346 8h1M355 8h1M437 8h1M494 8h1M508 8h1M164 9h1M205 9h1M218 9h1M277 9h1M286 9h1M435 9h1M530 9h1M613 9h1M193 10h1M218 10h1M253 10h1M277 10h1M344 10h1M369 10h1M435 10h1M447 10h1M507 10h1M171 11h1M253 11h1M263 11h2M277 11h1M298 11h1M323 11h1M378 11h1M411 11h1M542 11h1M552 11h2M583 11h1M656 11h1M171 12h1M173 12h1M250 12h1M263 12h1M300 12h1M370 12h1M378 12h1M392 12h1M425 12h1M473 12h1M483 12h1M486 12h1M493 12h1M532 12h1M539 12h1M542 12h1M583 12h1M163 13h1M165 13h1M173 13h1M234 13h1M274 13h1M288 13h1M333 13h1M347 13h1M354 13h1M380 13h1M402 13h1M414 13h1M423 13h1M425 13h1M460 13h1M486 13h1M495 13h1M509 13h1M518 13h1M520 13h1M529 13h1M532 13h1M542 13h1M612 13h1M163 14h1M165 14h1M234 14h1M285 14h1M309 14h1M333 14h1M347 14h1M414 14h1M423 14h1M425 14h1M434 14h1M438 14h1M446 14h1M460 14h1M473 14h1M486 14h1M495 14h1M509 14h1M567 14h1M582 14h1M614 14h1M163 15h1M204 15h1M309 15h1M321 15h1M333 15h1M343 15h1M356 15h1M380 15h1M434 15h1M438 15h1M460 15h1M472 15h1M495 15h1M509 15h1M518 15h1M612 15h1M614 15h1M163 16h1M173 16h1M254 16h1M309 16h1M321 16h1M333 16h1M356 16h1M414 16h1M423 16h1M425 16h1M434 16h1M446 16h1M460 16h1M473 16h1M495 16h1M506 16h1M509 16h1M518 16h1M520 16h1M529 16h1M582 16h1M612 16h1M614 16h1M165 17h1M173 17h1M207 17h1M234 17h1M288 17h1M321 17h1M333 17h1M343 17h1M347 17h1M356 17h1M402 17h1M434 17h1M438 17h1M446 17h1M486 17h1M495 17h1M518 17h1M520 17h1M582 17h1M614 17h1M165 18h1M204 18h1M207 18h1M234 18h1M274 18h1M309 18h1M321 18h1M343 18h1M347 18h1M356 18h1M402 18h1M434 18h1M438 18h1M448 18h1M472 18h1M495 18h1M509 18h1M529 18h1M539 18h1M566 18h1M614 18h1M250 19h1M285 19h1M321 19h1M347 19h1M356 19h1M423 19h1M518 19h1M614 19h1M173 20h1M277 20h1M300 20h1M309 20h1M370 20h1M380 20h1M411 20h1M472 20h1M542 20h1M171 21h1M234 21h1M253 21h1M263 21h1M277 21h1M344 21h1M354 21h1M370 21h1M378 21h1M402 21h1M411 21h1M493 21h1M171 22h1M194 22h1M253 22h1M263 22h1M277 22h1M298 22h1M344 22h1M411 22h1M567 22h1M194 23h1M253 23h1M264 23h1M310 23h1M323 23h1M344 23h1M390 23h1M435 23h1M437 23h1M507 23h1M552 23h1M218 24h1M253 24h1M264 24h1M275 24h1M323 24h1M494 24h1M508 24h1M164 25h1M217 25h1M253 25h1M287 25h1M299 25h1M355 25h1M390 25h1M413 25h1M519 25h1M530 25h1M540 25h2M613 25h1M275 26h1M287 26h1M355 26h1M413 26h1M437 26h1M531 26h1M276 27h1M287 27h1M346 27h1M355 27h1M391 27h1M531 27h1M540 27h1M613 27h1M172 28h1M251 28h1M287 28h1M299 28h1M345 28h1M413 28h1M436 28h1M484 28h2M540 28h2M276 29h1M345 29h1M412 29h1M252 30h1"/>
<path stroke="#fd9b6b" d="M276 6h1M345 6h1M412 6h1M251 7h1M275 7h1M391 7h1M413 7h1M484 7h1M540 7h2M251 8h1M275 8h1M299 8h1M379 8h1M391 8h1M413 8h1M484 8h2M531 8h1M541 8h1M206 9h1M217 9h1M251 9h1M322 9h1M346 9h1M355 9h1M424 9h1M437 9h1M494 9h1M519 9h1M205 10h1M217 10h1M286 10h1M424 10h1M530 10h1M193 11h1M205 11h1M286 11h1M344 11h1M369 11h1M390 11h1M435 11h1M437 11h1M447 11h1M461 11h1M507 11h1M530 11h1M194 12h1M264 12h1M277 12h1M288 12h1M298 12h1M310 12h1M323 12h1M344 12h1M354 12h1M390 12h1M411 12h1M461 12h1M507 12h1M552 12h1M656 12h1M171 13h1M194 13h1M250 13h1M263 13h2M298 13h1M300 13h1M370 13h1M392 13h1M473 13h1M483 13h1M493 13h1M539 13h1M567 13h1M173 14h1M194 14h1M250 14h1M263 14h1M274 14h1M288 14h1M300 14h1M354 14h1M370 14h1M378 14h1M392 14h1M411 14h1M483 14h1M493 14h1M518 14h1M520 14h1M532 14h1M539 14h1M542 14h1M612 14h1M171 15h1M173 15h1M250 15h1M274 15h1M285 15h1M288 15h1M300 15h1M347 15h1M354 15h1M370 15h1M378 15h1M414 15h1M423 15h1M425 15h1M473 15h1M483 15h1M486 15h1M520 15h1M532 15h1M539 15h1M542 15h1M567 15h1M171 16h1M194 16h1M250 16h1M274 16h1M288 16h1M300 16h1M347 16h1M370 16h1M380 16h1M392 16h1M486 16h1M532 16h1M539 16h1M542 16h1M567 16h1M163 17h1M171 17h1M194 17h1M250 17h1M263 17h1M274 17h1M309 17h1M354 17h1M370 17h1M380 17h1M392 17h1M414 17h1M423 17h1M425 17h1M460 17h1M473 17h1M483 17h1M493 17h1M509 17h1M532 17h1M567 17h1M612 17h1M163 18h1M171 18h1M173 18h1M250 18h1M277 18h1M285 18h1M333 18h1M354 18h1M380 18h1M392 18h1M414 18h1M423 18h1M425 18h1M446 18h1M460 18h1M483 18h1M486 18h1M582 18h1M612 18h1M163 19h1M173 19h1M234 19h1M274 19h1M288 19h1M309 19h1M370 19h1M378 19h1M380 19h1M402 19h1M414 19h1M460 19h1M472 19h1M483 19h1M486 19h1M493 19h1M495 19h1M509 19h1M520 19h1M532 19h1M542 19h1M567 19h1M582 19h1M612 19h1M163 20h1M171 20h1M194 20h1M234 20h1M333 20h1M354 20h1M378 20h1M392 20h1M402 20h1M493 20h1M567 20h1M612 20h1M194 21h1M323 21h1M333 21h1M390 21h1M435 21h1M473 21h1M218 22h1M323 22h1M390 22h1M435 22h1M461 22h1M507 22h1M552 22h1M656 22h1M193 23h1M205 23h1M218 23h1M286 23h1M447 23h1M461 23h1M530 23h1M553 23h1M613 23h1M656 23h1M164 24h1M172 24h1M205 24h2M217 24h1M286 24h2M346 24h1M369 24h1M391 24h1M413 24h1M424 24h1M437 24h1M531 24h1M613 24h1M251 25h1M345 25h1M379 25h1M531 25h1M252 26h1M276 26h1M299 26h1M345 26h1M391 26h1M412 26h1M252 27h1M345 27h1M436 27h1M541 27h1M252 28h1M391 28h1M252 29h1M436 29h1M412 30h1"/>
<path stroke="#fea772" d="M252 6h1M436 6h1M287 8h1M540 8h1M172 9h1M275 9h1M379 9h1M391 9h1M413 9h1M508 9h1M531 9h1M164 10h1M206 10h1M275 10h1M322 10h1M346 10h1M355 10h1M437 10h1M519 10h1M613 10h1M164 11h1M206 11h1M217 11h2M275 11h1M346 11h1M205 12h1M253 12h1M369 12h1M435 12h1M447 12h1M553 12h1M253 13h1M277 13h1M310 13h1M323 13h1M344 13h1M378 13h1M411 13h1M435 13h1M461 13h1M507 13h1M552 13h2M583 13h1M656 13h1M171 14h1M253 14h1M264 14h1M277 14h1M298 14h1M323 14h1M344 14h1M369 14h1M380 14h1M390 14h1M461 14h1M507 14h1M552 14h2M583 14h1M656 14h1M194 15h1M253 15h1M263 15h2M298 15h1M310 15h1M344 15h1M390 15h1M392 15h1M411 15h1M447 15h1M461 15h1M493 15h1M507 15h1M552 15h1M583 15h1M656 15h1M193 16h1M263 16h2M277 16h1M310 16h1M323 16h1M344 16h1M354 16h1M378 16h1M390 16h1M411 16h1M461 16h1M483 16h1M493 16h1M552 16h1M583 16h1M656 16h1M277 17h1M411 17h1M507 17h1M539 17h1M542 17h1M656 17h1M253 18h1M263 18h1M288 18h1M298 18h1M300 18h1M370 18h1M390 18h1M411 18h1M473 18h1M493 18h1M507 18h1M518 18h1M520 18h1M532 18h1M542 18h1M567 18h1M171 19h1M194 19h1M253 19h1M263 19h1M277 19h1M298 19h1M300 19h1M333 19h1M354 19h1M392 19h1M411 19h1M425 19h1M539 19h1M253 20h1M263 20h1M298 20h1M323 20h1M344 20h1M390 20h1M435 20h1M473 20h1M507 20h1M530 20h1M552 20h1M583 20h1M264 21h1M286 21h1M346 21h1M437 21h1M447 21h1M507 21h1M530 21h1M552 21h2M567 21h1M583 21h1M193 22h1M205 22h2M217 22h1M264 22h1M275 22h1M286 22h1M310 22h1M346 22h1M369 22h1M437 22h1M447 22h1M530 22h1M553 22h1M583 22h1M164 23h1M206 23h1M217 23h1M346 23h1M369 23h1M413 23h1M424 23h1M508 23h1M519 23h1M251 24h1M276 24h1M299 24h1M322 24h1M355 24h1M379 24h1M484 24h2M540 24h2M276 25h1M391 25h1M412 25h1M436 25h1M485 25h1M436 26h1M540 26h2M412 27h1M412 28h1"/>
<path stroke="#feb078" d="M252 7h1M276 7h1M345 7h1M412 7h1M252 8h1M276 8h1M345 8h1M287 9h1M299 9h1M484 9h2M540 9h2M172 10h1M251 10h1M299 10h1M379 10h1M413 10h1M484 10h2M494 10h1M508 10h1M531 10h1M322 11h1M355 11h1M424 11h1M494 11h1M508 11h1M519 11h1M613 11h1M164 12h1M193 12h1M206 12h1M218 12h1M275 12h1M286 12h1M322 12h1M346 12h1M437 12h1M519 12h1M530 12h1M613 12h1M193 13h1M205 13h1M218 13h1M286 13h1M369 13h1M390 13h1M437 13h1M447 13h1M530 13h1M193 14h1M218 14h1M286 14h1M310 14h1M447 14h1M530 14h1M164 15h1M193 15h1M205 15h1M218 15h1M277 15h1M323 15h1M369 15h1M435 15h1M530 15h1M553 15h1M164 16h1M205 16h2M218 16h1M253 16h1M286 16h1M298 16h1M435 16h1M437 16h1M447 16h1M507 16h1M530 16h1M553 16h1M193 17h1M205 17h1M218 17h1M253 17h1M264 17h1M298 17h1M300 17h1M310 17h1M323 17h1M344 17h1M369 17h1M378 17h1M390 17h1M435 17h1M437 17h1M447 17h1M461 17h1M530 17h1M552 17h2M583 17h1M194 18h1M264 18h1M310 18h1M323 18h1M344 18h1M378 18h1M461 18h1M583 18h1M656 18h1M205 19h1M323 19h1M344 19h1M390 19h1M435 19h1M507 19h1M552 19h2M583 19h1M656 19h1M193 20h1M218 20h1M264 20h1M286 20h1M310 20h1M369 20h1M437 20h1M461 20h1M553 20h1M656 20h1M193 21h1M205 21h1M218 21h1M310 21h1M461 21h1M485 21h1M656 21h1M164 22h1M413 22h1M172 23h1M275 23h1M299 23h1M322 23h1M355 23h1M379 23h1M345 24h1M412 24h1M252 25h1M484 25h1"/>
<path stroke="#feb97f" d="M436 7h1M412 8h1M436 8h1M252 9h1M345 9h1M412 9h1M287 10h1M391 10h1M540 10h2M172 11h1M251 11h1M287 11h1M299 11h1M379 11h1M413 11h1M484 11h2M531 11h1M217 12h1M251 12h1M355 12h1M379 12h1M413 12h1M424 12h1M485 12h1M494 12h1M508 12h1M164 13h1M206 13h1M217 13h1M275 13h1M322 13h1M346 13h1M355 13h1M424 13h1M508 13h1M519 13h1M613 13h1M164 14h1M205 14h2M217 14h1M275 14h1M322 14h1M346 14h1M355 14h1M413 14h1M424 14h1M435 14h1M437 14h1M508 14h1M613 14h1M206 15h1M217 15h1M286 15h1M346 15h1M355 15h1M437 15h1M613 15h1M217 16h1M275 16h1M346 16h1M369 16h1M413 16h1M424 16h1M519 16h1M613 16h1M164 17h1M206 17h1M217 17h1M275 17h1M286 17h1M355 17h1M494 17h1M519 17h1M193 18h1M218 18h1M275 18h1M435 18h1M437 18h1M447 18h1M552 18h2M206 19h1M218 19h1M264 19h1M310 19h1M369 19h1M437 19h1M447 19h1M461 19h1M473 19h1M530 19h1M217 20h1M251 20h1M275 20h1M346 20h1M447 20h1M164 21h1M206 21h1M217 21h1M251 21h1M275 21h1M369 21h1M494 21h1M613 21h1M172 22h1M251 22h1M424 22h1M485 22h1M494 22h1M508 22h1M519 22h1M540 22h2M613 22h1M251 23h1M287 23h1M391 23h1M485 23h1M494 23h1M531 23h1M540 23h1M252 24h1M436 24h1"/>
<path stroke="#fec488" d="M276 9h1M436 9h1M252 10h1M276 10h1M345 10h1M412 10h1M276 11h1M391 11h1M540 11h2M172 12h1M287 12h1M299 12h1M391 12h1M484 12h1M540 12h2M172 13h1M251 13h1M287 13h1M413 13h1M485 13h1M494 13h1M540 13h2M251 14h1M287 14h1M485 14h1M494 14h1M519 14h1M172 15h1M251 15h1M275 15h1M287 15h1M299 15h1M322 15h1M379 15h1M413 15h1M424 15h1M485 15h1M494 15h1M508 15h1M519 15h1M541 15h1M172 16h1M251 16h1M287 16h1M322 16h1M355 16h1M391 16h1M485 16h1M494 16h1M508 16h1M172 17h1M251 17h1M322 17h1M346 17h1M424 17h1M485 17h1M508 17h1M613 17h1M164 18h1M205 18h2M217 18h1M286 18h1M322 18h1M346 18h1M369 18h1M494 18h1M508 18h1M530 18h1M613 18h1M164 19h1M193 19h1M251 19h1M275 19h1M286 19h1M346 19h1M519 19h1M205 20h1M322 20h1M413 20h1M424 20h1M485 20h1M508 20h1M519 20h1M172 21h1M322 21h1M355 21h1M413 21h1M424 21h1M484 21h1M508 21h1M519 21h1M531 21h1M541 21h1M287 22h1M322 22h1M355 22h1M379 22h1M391 22h1M484 22h1M531 22h1M345 23h1M412 23h1M436 23h1M484 23h1M541 23h1"/>
<path stroke="#fecd90" d="M436 10h1M252 11h1M345 11h1M412 11h1M436 11h1M252 12h1M276 12h1M345 12h1M412 12h1M531 12h1M299 13h1M379 13h1M391 13h1M484 13h1M531 13h1M172 14h1M299 14h1M379 14h1M391 14h1M412 14h1M484 14h1M531 14h1M540 14h2M391 15h1M484 15h1M531 15h1M540 15h1M299 16h1M379 16h1M484 16h1M531 16h1M540 16h2M287 17h1M391 17h1M413 17h1M484 17h1M531 17h1M540 17h2M172 18h1M251 18h1M355 18h1M391 18h1M413 18h1M424 18h1M485 18h1M519 18h1M217 19h1M355 19h1M413 19h1M424 19h1M485 19h1M494 19h1M508 19h1M613 19h1M164 20h1M172 20h1M206 20h1M287 20h1M355 20h1M494 20h1M531 20h1M540 20h1M613 20h1M299 21h1M345 21h1M391 21h1M540 21h1M276 22h1M299 22h1M252 23h1M276 23h1"/>
<path stroke="#fed799" d="M436 12h1M252 13h1M276 13h1M345 13h1M412 13h1M436 13h1M252 14h1M276 14h1M345 14h1M252 15h1M345 15h1M412 15h1M252 16h1M276 16h1M345 16h1M412 16h1M436 16h1M276 17h1M299 17h1M345 17h1M379 17h1M276 18h1M287 18h1M299 18h1M379 18h1M484 18h1M531 18h1M540 18h2M172 19h1M287 19h1M299 19h1M322 19h1M379 19h1M391 19h1M484 19h1M531 19h1M541 19h1M299 20h1M379 20h1M391 20h1M484 20h1M541 20h1M252 21h1M287 21h1M379 21h1M252 22h1M345 22h1M412 22h1M436 22h1"/>
<path stroke="#fde2a3" d="M436 14h1M276 15h1M436 15h1M252 17h1M412 17h1M436 17h1M252 18h1M345 18h1M412 18h1M252 19h1M345 19h1M540 19h1M276 20h1M345 20h1M412 20h1M276 21h1M412 21h1"/>
<path stroke="#fdebac" d="M436 18h1M276 19h1M412 19h1M436 19h1M252 20h1M436 20h1M436 21h1"/>
</g>
<defs><linearGradient id="mg" x1="0" y1="1" x2="0" y2="0">
<stop offset="0.000" stop-color="#000004"/>
<stop offset="0.025" stop-color="#02020d"/>
<stop offset="0.050" stop-color="#06051a"/>
<stop offset="0.075" stop-color="#0d0a29"/>
<stop offset="0.100" stop-color="#140e36"/>
<stop offset="0.125" stop-color="#1d1147"/>
<stop offset="0.150" stop-color="#251255"/>
<stop offset="0.175" stop-color="#2f1163"/>
<stop offset="0.200" stop-color="#3b0f70"/>
<stop offset="0.225" stop-color="#451077"/>
<stop offset="0.250" stop-color="#51127c"/>
<stop offset="0.275" stop-color="#5a167e"/>
<stop offset="0.300" stop-color="#641a80"/>
<stop offset="0.325" stop-color="#6e1e81"/>
<stop offset="0.350" stop-color="#782281"/>
<stop offset="0.375" stop-color="#832681"/>
<stop offset="0.400" stop-color="#8c2981"/>
<stop offset="0.425" stop-color="#962c80"/>
<stop offset="0.450" stop-color="#a1307e"/>
<stop offset="0.475" stop-color="#ab337c"/>
<stop offset="0.500" stop-color="#b73779"/>
<stop offset="0.525" stop-color="#c03a76"/>
<stop offset="0.550" stop-color="#ca3e72"/>
<stop offset="0.575" stop-color="#d5446d"/>
<stop offset="0.600" stop-color="#de4968"/>
<stop offset="0.625" stop-color="#e75263"/>
<stop offset="0.650" stop-color="#ed5a5f"/>
<stop offset="0.675" stop-color="#f2645c"/>
<stop offset="0.700" stop-color="#f7705c"/>
<stop offset="0.725" stop-color="#f97b5d"/>
<stop offset="0.750" stop-color="#fc8961"/>
<stop offset="0.775" stop-color="#fd9467"/>
<stop offset="0.800" stop-color="#fe9f6d"/>
<stop offset="0.825" stop-color="#feac76"/>
<stop offset="0.850" stop-color="#feb77e"/>
<stop offset="0.875" stop-color="#fec488"/>
<stop offset="0.900" stop-color="#fecf92"/>
<stop offset="0.925" stop-color="#fdda9c"/>
<stop offset="0.950" stop-color="#fde7a9"/>
<stop offset="0.975" stop-color="#fcf2b4"/>
<stop offset="1.000" stop-color="#fcfdbf"/>
</linearGradient></defs>
<rect x="1905.5" y="406.6" width="45.5" height="324.8" fill="url(#mg)"/>
<g stroke="#fff" stroke-width="2.1">
<line x1="1905.5" x2="1919.1" y1="434.5" y2="434.5"/><line x1="1937.4" x2="1951.0" y1="434.5" y2="434.5"/>
<line x1="1905.5" x2="1919.1" y1="513.7" y2="513.7"/><line x1="1937.4" x2="1951.0" y1="513.7" y2="513.7"/>
<line x1="1905.5" x2="1919.1" y1="592.9" y2="592.9"/><line x1="1937.4" x2="1951.0" y1="592.9" y2="592.9"/>
<line x1="1905.5" x2="1919.1" y1="672.1" y2="672.1"/><line x1="1937.4" x2="1951.0" y1="672.1" y2="672.1"/>
</g>
<g font-family='"Liberation Sans", Arial, Helvetica, sans-serif'>
<g font-size="20.1" fill="#4d4d4d" stroke="#4d4d4d" stroke-width="0.25" text-anchor="end">
<text x="115.9" y="345.1">30</text>
<text x="1067.3" y="345.1">30</text>
<text x="115.9" y="311.0">40</text>
<text x="1067.3" y="311.0">40</text>
<text x="115.9" y="277.0">50</text>
<text x="1067.3" y="277.0">50</text>
<text x="115.9" y="242.9">60</text>
<text x="1067.3" y="242.9">60</text>
<text x="115.9" y="208.9">70</text>
<text x="1067.3" y="208.9">70</text>
<text x="115.9" y="174.9">80</text>
<text x="1067.3" y="174.9">80</text>
<text x="115.9" y="140.8">90</text>
<text x="1067.3" y="140.8">90</text>
<text x="115.9" y="106.8">100</text>
<text x="1067.3" y="106.8">100</text>
<text x="115.9" y="72.7">110</text>
<text x="1067.3" y="72.7">110</text>
<text x="115.9" y="38.7">120</text>
<text x="1067.3" y="38.7">120</text>
<text x="116.0" y="419.4">20000</text>
<text x="1064.3" y="420.4">20000</text>
<text x="116.0" y="455.4">8000</text>
<text x="1068.1" y="455.2">8000</text>
<text x="116.0" y="491.5">3150</text>
<text x="1068.1" y="491.3">3150</text>
<text x="116.0" y="527.5">1250</text>
<text x="1068.1" y="527.4">1250</text>
<text x="116.0" y="563.5">500</text>
<text x="1068.1" y="563.4">500</text>
<text x="116.0" y="599.6">200</text>
<text x="1068.1" y="599.5">200</text>
<text x="116.0" y="635.6">80</text>
<text x="1068.1" y="635.6">80</text>
<text x="116.0" y="671.7">31.5</text>
<text x="1068.1" y="671.7">31.5</text>
<text x="116.0" y="707.8">12.5</text>
<text x="1068.1" y="707.8">12.5</text>
</g>
<g font-size="20.1" fill="#4d4d4d" stroke="#4d4d4d" stroke-width="0.25" text-anchor="middle">
<text x="217.3" y="389.3">00</text>
<text x="379.7" y="389.3">10</text>
<text x="542.0" y="389.3">20</text>
<text x="704.4" y="389.3">30</text>
<text x="866.8" y="389.3">40</text>
<text x="1162.9" y="389.3">20:40</text>
<text x="1312.2" y="389.3">20:50</text>
<text x="1461.5" y="389.3">21:00</text>
<text x="1610.8" y="389.3">21:10</text>
<text x="1760.1" y="389.3">21:20</text>
</g>
<g font-size="24.0" fill="#000" stroke="#000" stroke-width="0.25" text-anchor="middle">
<text x="1977.5" y="442.4">100</text>
<text x="1977.5" y="521.6">75</text>
<text x="1977.5" y="600.8">50</text>
<text x="1977.5" y="680.0">25</text>
</g>
<g font-size="33.5" fill="#000" stroke="#000" stroke-width="0.4">
<text x="-0.6" y="27.9">A</text><text x="-0.2" y="391.6">B</text>
<text x="951.2" y="27.9">C</text><text x="951.6" y="383.9">D</text>
</g>
<g font-size="28.2" fill="#000" stroke="#000" stroke-width="0.35">
<text text-anchor="middle" x="477.6" y="773.2">Time (sec)</text>
<text text-anchor="middle" x="1430.5" y="770.2">Time (hour:min)</text>
<text text-anchor="middle" transform="translate(33.6 193.0) rotate(-90)">L<tspan font-size="19.7" dy="4.6">eq</tspan><tspan dy="-4.6"> </tspan>dB(A)</text>
<text text-anchor="middle" transform="translate(985.5 193.0) rotate(-90)">L<tspan font-size="19.7" dy="4.6">eq</tspan><tspan dy="-4.6"> </tspan>dB(A)</text>
<text text-anchor="middle" transform="translate(37.1 569.0) rotate(-90)">Frequency (Hz)</text>
<text text-anchor="middle" transform="translate(988.6 569.5) rotate(-90)">Frequency (Hz)</text>
<text x="1884.9" y="378.2">L<tspan font-size="19.7" dy="4.6">eq</tspan><tspan dy="-4.6"> </tspan>dB(Z)</text>
</g>
</g>
</svg>
</body>
</html>
